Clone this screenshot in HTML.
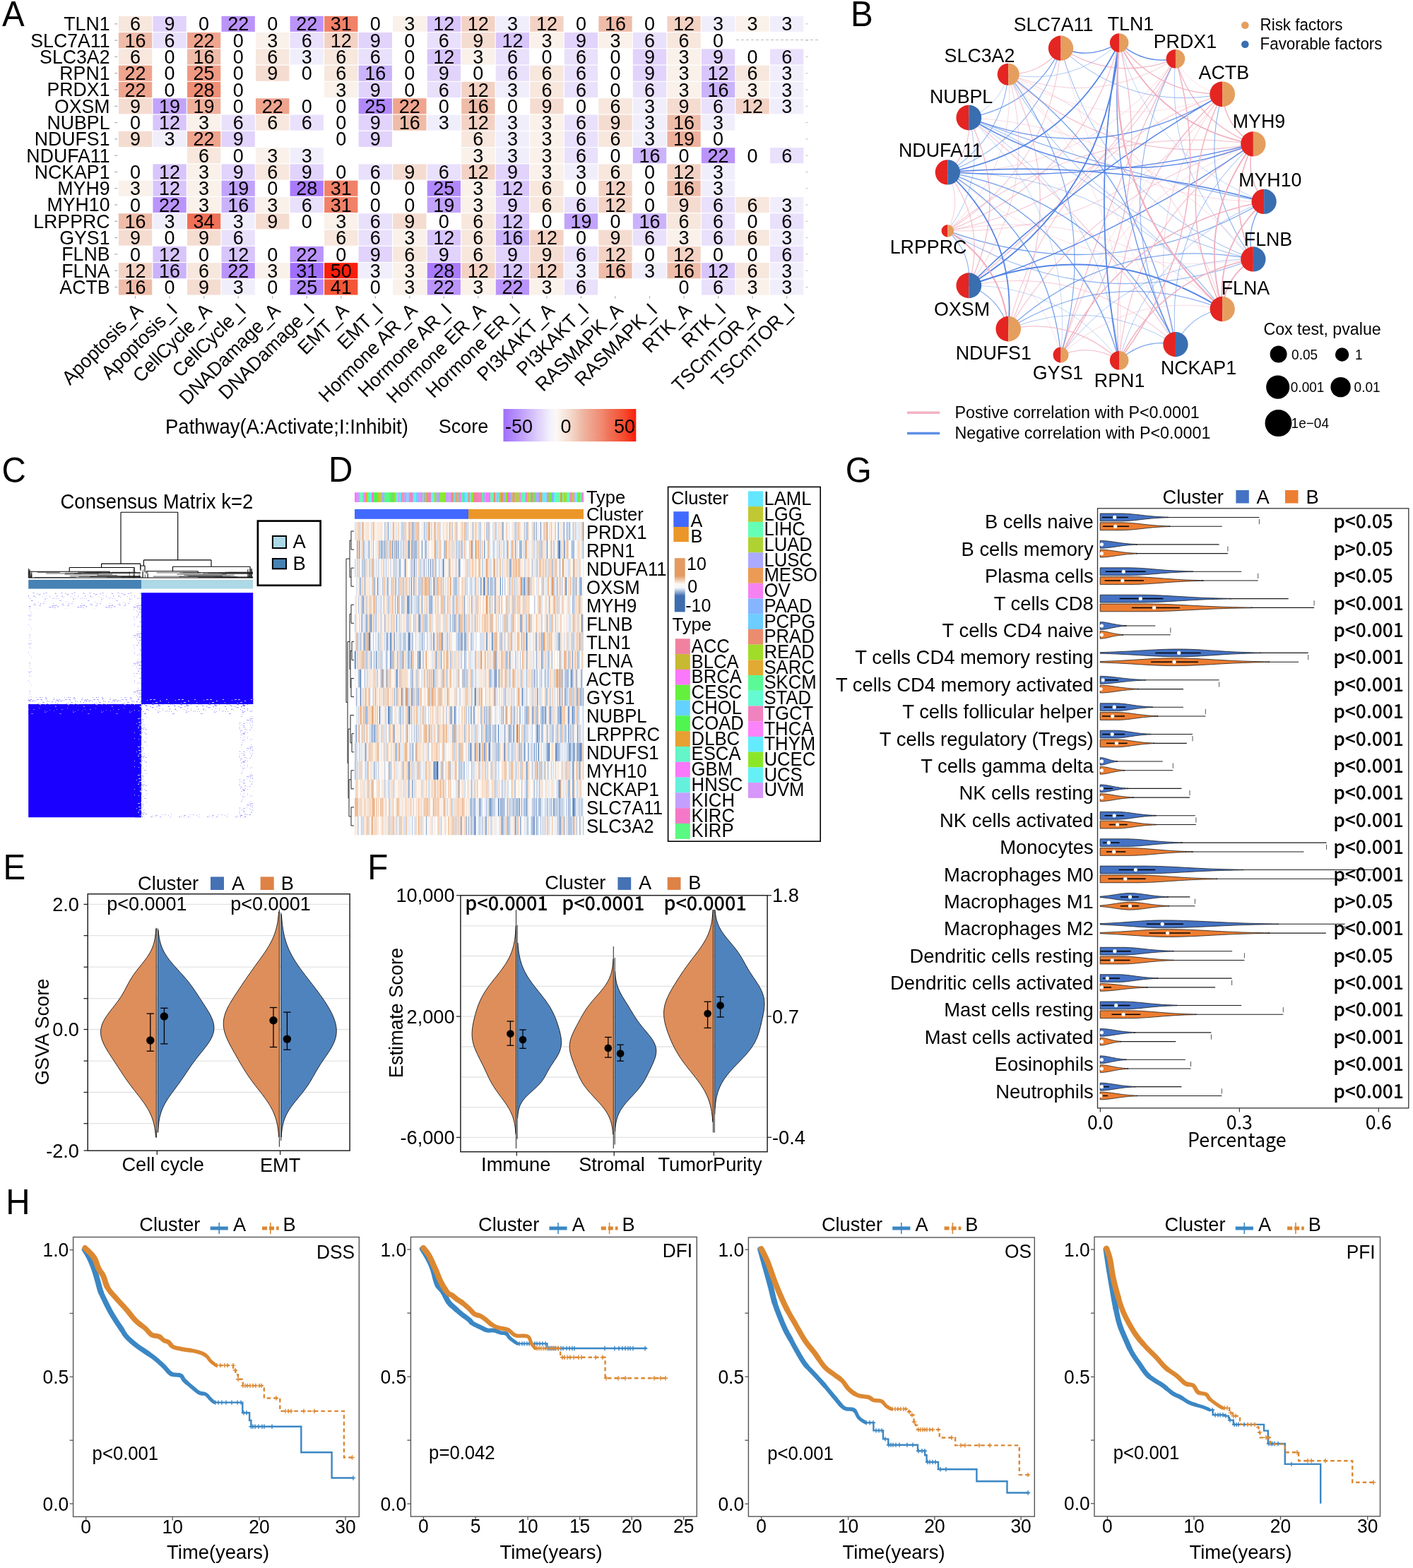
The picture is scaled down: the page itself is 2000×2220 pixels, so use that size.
<!DOCTYPE html>
<html><head><meta charset="utf-8"><title>Figure</title>
<style>
html,body{margin:0;padding:0;background:#fff;}
svg{display:block;}

text{font-family:"Liberation Sans", Arial, sans-serif;fill:#000;}
</style></head><body>
<svg xmlns="http://www.w3.org/2000/svg" width="2000" height="2220" viewBox="0 0 2000 2220">
<rect x="0" y="0" width="2000" height="2220" fill="#fff"/>
<text transform="translate(2.9,37.1) scale(1,1.04)" style='font-size:47.5px'>A</text>
<rect x="167.9" y="22.8" width="47.33" height="22.09" fill="#f7e7dd"/>
<rect x="216.43" y="22.8" width="47.33" height="22.09" fill="#e1d3fb"/>
<rect x="313.49" y="22.8" width="47.33" height="22.09" fill="#ba94fb"/>
<rect x="410.55" y="22.8" width="47.33" height="22.09" fill="#ba94fb"/>
<rect x="459.08" y="22.8" width="47.33" height="22.09" fill="#f18168"/>
<rect x="556.14" y="22.8" width="47.33" height="22.09" fill="#f9f1ea"/>
<rect x="604.67" y="22.8" width="47.33" height="22.09" fill="#d8c5fb"/>
<rect x="653.2" y="22.8" width="47.33" height="22.09" fill="#f3d2c4"/>
<rect x="701.73" y="22.8" width="47.33" height="22.09" fill="#f1eefc"/>
<rect x="750.26" y="22.8" width="47.33" height="22.09" fill="#f3d2c4"/>
<rect x="847.32" y="22.8" width="47.33" height="22.09" fill="#eebca8"/>
<rect x="944.38" y="22.8" width="47.33" height="22.09" fill="#f3d2c4"/>
<rect x="992.91" y="22.8" width="47.33" height="22.09" fill="#f1eefc"/>
<rect x="1041.44" y="22.8" width="47.33" height="22.09" fill="#f9f1ea"/>
<rect x="1089.97" y="22.8" width="47.33" height="22.09" fill="#f1eefc"/>
<rect x="167.9" y="46.09" width="47.33" height="22.09" fill="#eebca8"/>
<rect x="216.43" y="46.09" width="47.33" height="22.09" fill="#e9e0fc"/>
<rect x="264.96" y="46.09" width="47.33" height="22.09" fill="#efa48e"/>
<rect x="362.02" y="46.09" width="47.33" height="22.09" fill="#f9f1ea"/>
<rect x="410.55" y="46.09" width="47.33" height="22.09" fill="#e9e0fc"/>
<rect x="459.08" y="46.09" width="47.33" height="22.09" fill="#f3d2c4"/>
<rect x="507.61" y="46.09" width="47.33" height="22.09" fill="#e1d3fb"/>
<rect x="604.67" y="46.09" width="47.33" height="22.09" fill="#e9e0fc"/>
<rect x="653.2" y="46.09" width="47.33" height="22.09" fill="#f5dcd1"/>
<rect x="701.73" y="46.09" width="47.33" height="22.09" fill="#d8c5fb"/>
<rect x="750.26" y="46.09" width="47.33" height="22.09" fill="#f9f1ea"/>
<rect x="798.79" y="46.09" width="47.33" height="22.09" fill="#e1d3fb"/>
<rect x="847.32" y="46.09" width="47.33" height="22.09" fill="#f9f1ea"/>
<rect x="895.85" y="46.09" width="47.33" height="22.09" fill="#e9e0fc"/>
<rect x="944.38" y="46.09" width="47.33" height="22.09" fill="#f7e7dd"/>
<rect x="167.9" y="69.38" width="47.33" height="22.09" fill="#f7e7dd"/>
<rect x="264.96" y="69.38" width="47.33" height="22.09" fill="#eebca8"/>
<rect x="362.02" y="69.38" width="47.33" height="22.09" fill="#f7e7dd"/>
<rect x="410.55" y="69.38" width="47.33" height="22.09" fill="#f1eefc"/>
<rect x="459.08" y="69.38" width="47.33" height="22.09" fill="#f7e7dd"/>
<rect x="507.61" y="69.38" width="47.33" height="22.09" fill="#e9e0fc"/>
<rect x="604.67" y="69.38" width="47.33" height="22.09" fill="#d8c5fb"/>
<rect x="653.2" y="69.38" width="47.33" height="22.09" fill="#f9f1ea"/>
<rect x="701.73" y="69.38" width="47.33" height="22.09" fill="#e9e0fc"/>
<rect x="798.79" y="69.38" width="47.33" height="22.09" fill="#e9e0fc"/>
<rect x="895.85" y="69.38" width="47.33" height="22.09" fill="#e1d3fb"/>
<rect x="944.38" y="69.38" width="47.33" height="22.09" fill="#f9f1ea"/>
<rect x="992.91" y="69.38" width="47.33" height="22.09" fill="#e1d3fb"/>
<rect x="1089.97" y="69.38" width="47.33" height="22.09" fill="#e9e0fc"/>
<rect x="167.9" y="92.67" width="47.33" height="22.09" fill="#efa48e"/>
<rect x="264.96" y="92.67" width="47.33" height="22.09" fill="#f09982"/>
<rect x="362.02" y="92.67" width="47.33" height="22.09" fill="#f5dcd1"/>
<rect x="459.08" y="92.67" width="47.33" height="22.09" fill="#f7e7dd"/>
<rect x="507.61" y="92.67" width="47.33" height="22.09" fill="#cab3fb"/>
<rect x="604.67" y="92.67" width="47.33" height="22.09" fill="#e1d3fb"/>
<rect x="701.73" y="92.67" width="47.33" height="22.09" fill="#e9e0fc"/>
<rect x="750.26" y="92.67" width="47.33" height="22.09" fill="#f7e7dd"/>
<rect x="798.79" y="92.67" width="47.33" height="22.09" fill="#e9e0fc"/>
<rect x="895.85" y="92.67" width="47.33" height="22.09" fill="#e1d3fb"/>
<rect x="944.38" y="92.67" width="47.33" height="22.09" fill="#f9f1ea"/>
<rect x="992.91" y="92.67" width="47.33" height="22.09" fill="#d8c5fb"/>
<rect x="1041.44" y="92.67" width="47.33" height="22.09" fill="#f7e7dd"/>
<rect x="1089.97" y="92.67" width="47.33" height="22.09" fill="#f1eefc"/>
<rect x="167.9" y="115.96" width="47.33" height="22.09" fill="#efa48e"/>
<rect x="264.96" y="115.96" width="47.33" height="22.09" fill="#f08d75"/>
<rect x="459.08" y="115.96" width="47.33" height="22.09" fill="#f9f1ea"/>
<rect x="507.61" y="115.96" width="47.33" height="22.09" fill="#e1d3fb"/>
<rect x="604.67" y="115.96" width="47.33" height="22.09" fill="#e9e0fc"/>
<rect x="653.2" y="115.96" width="47.33" height="22.09" fill="#f3d2c4"/>
<rect x="701.73" y="115.96" width="47.33" height="22.09" fill="#f1eefc"/>
<rect x="750.26" y="115.96" width="47.33" height="22.09" fill="#f7e7dd"/>
<rect x="798.79" y="115.96" width="47.33" height="22.09" fill="#e9e0fc"/>
<rect x="895.85" y="115.96" width="47.33" height="22.09" fill="#e9e0fc"/>
<rect x="944.38" y="115.96" width="47.33" height="22.09" fill="#f9f1ea"/>
<rect x="992.91" y="115.96" width="47.33" height="22.09" fill="#cab3fb"/>
<rect x="1041.44" y="115.96" width="47.33" height="22.09" fill="#f9f1ea"/>
<rect x="1089.97" y="115.96" width="47.33" height="22.09" fill="#f1eefc"/>
<rect x="167.9" y="139.25" width="47.33" height="22.09" fill="#f5dcd1"/>
<rect x="216.43" y="139.25" width="47.33" height="22.09" fill="#c2a3fb"/>
<rect x="264.96" y="139.25" width="47.33" height="22.09" fill="#efb09b"/>
<rect x="362.02" y="139.25" width="47.33" height="22.09" fill="#efa48e"/>
<rect x="507.61" y="139.25" width="47.33" height="22.09" fill="#b188fb"/>
<rect x="556.14" y="139.25" width="47.33" height="22.09" fill="#efa48e"/>
<rect x="653.2" y="139.25" width="47.33" height="22.09" fill="#eebca8"/>
<rect x="750.26" y="139.25" width="47.33" height="22.09" fill="#f5dcd1"/>
<rect x="847.32" y="139.25" width="47.33" height="22.09" fill="#f7e7dd"/>
<rect x="895.85" y="139.25" width="47.33" height="22.09" fill="#f1eefc"/>
<rect x="944.38" y="139.25" width="47.33" height="22.09" fill="#f5dcd1"/>
<rect x="992.91" y="139.25" width="47.33" height="22.09" fill="#e9e0fc"/>
<rect x="1041.44" y="139.25" width="47.33" height="22.09" fill="#f3d2c4"/>
<rect x="1089.97" y="139.25" width="47.33" height="22.09" fill="#f1eefc"/>
<rect x="216.43" y="162.54" width="47.33" height="22.09" fill="#d8c5fb"/>
<rect x="264.96" y="162.54" width="47.33" height="22.09" fill="#f9f1ea"/>
<rect x="313.49" y="162.54" width="47.33" height="22.09" fill="#e9e0fc"/>
<rect x="362.02" y="162.54" width="47.33" height="22.09" fill="#f7e7dd"/>
<rect x="410.55" y="162.54" width="47.33" height="22.09" fill="#e9e0fc"/>
<rect x="507.61" y="162.54" width="47.33" height="22.09" fill="#e1d3fb"/>
<rect x="556.14" y="162.54" width="47.33" height="22.09" fill="#eebca8"/>
<rect x="604.67" y="162.54" width="47.33" height="22.09" fill="#f1eefc"/>
<rect x="653.2" y="162.54" width="47.33" height="22.09" fill="#f3d2c4"/>
<rect x="701.73" y="162.54" width="47.33" height="22.09" fill="#f1eefc"/>
<rect x="750.26" y="162.54" width="47.33" height="22.09" fill="#f9f1ea"/>
<rect x="798.79" y="162.54" width="47.33" height="22.09" fill="#e9e0fc"/>
<rect x="847.32" y="162.54" width="47.33" height="22.09" fill="#f5dcd1"/>
<rect x="895.85" y="162.54" width="47.33" height="22.09" fill="#f1eefc"/>
<rect x="944.38" y="162.54" width="47.33" height="22.09" fill="#eebca8"/>
<rect x="992.91" y="162.54" width="47.33" height="22.09" fill="#f1eefc"/>
<rect x="167.9" y="185.83" width="47.33" height="22.09" fill="#f5dcd1"/>
<rect x="216.43" y="185.83" width="47.33" height="22.09" fill="#f1eefc"/>
<rect x="264.96" y="185.83" width="47.33" height="22.09" fill="#efa48e"/>
<rect x="313.49" y="185.83" width="47.33" height="22.09" fill="#e1d3fb"/>
<rect x="507.61" y="185.83" width="47.33" height="22.09" fill="#e1d3fb"/>
<rect x="653.2" y="185.83" width="47.33" height="22.09" fill="#f7e7dd"/>
<rect x="701.73" y="185.83" width="47.33" height="22.09" fill="#f1eefc"/>
<rect x="750.26" y="185.83" width="47.33" height="22.09" fill="#f9f1ea"/>
<rect x="798.79" y="185.83" width="47.33" height="22.09" fill="#e9e0fc"/>
<rect x="847.32" y="185.83" width="47.33" height="22.09" fill="#f7e7dd"/>
<rect x="895.85" y="185.83" width="47.33" height="22.09" fill="#f1eefc"/>
<rect x="944.38" y="185.83" width="47.33" height="22.09" fill="#efb09b"/>
<rect x="264.96" y="209.12" width="47.33" height="22.09" fill="#f7e7dd"/>
<rect x="362.02" y="209.12" width="47.33" height="22.09" fill="#f9f1ea"/>
<rect x="410.55" y="209.12" width="47.33" height="22.09" fill="#f1eefc"/>
<rect x="653.2" y="209.12" width="47.33" height="22.09" fill="#f9f1ea"/>
<rect x="701.73" y="209.12" width="47.33" height="22.09" fill="#f1eefc"/>
<rect x="750.26" y="209.12" width="47.33" height="22.09" fill="#f9f1ea"/>
<rect x="798.79" y="209.12" width="47.33" height="22.09" fill="#e9e0fc"/>
<rect x="895.85" y="209.12" width="47.33" height="22.09" fill="#cab3fb"/>
<rect x="992.91" y="209.12" width="47.33" height="22.09" fill="#ba94fb"/>
<rect x="1089.97" y="209.12" width="47.33" height="22.09" fill="#e9e0fc"/>
<rect x="216.43" y="232.41" width="47.33" height="22.09" fill="#d8c5fb"/>
<rect x="264.96" y="232.41" width="47.33" height="22.09" fill="#f9f1ea"/>
<rect x="313.49" y="232.41" width="47.33" height="22.09" fill="#e1d3fb"/>
<rect x="362.02" y="232.41" width="47.33" height="22.09" fill="#f7e7dd"/>
<rect x="410.55" y="232.41" width="47.33" height="22.09" fill="#e1d3fb"/>
<rect x="507.61" y="232.41" width="47.33" height="22.09" fill="#e9e0fc"/>
<rect x="556.14" y="232.41" width="47.33" height="22.09" fill="#f5dcd1"/>
<rect x="604.67" y="232.41" width="47.33" height="22.09" fill="#e9e0fc"/>
<rect x="653.2" y="232.41" width="47.33" height="22.09" fill="#f3d2c4"/>
<rect x="701.73" y="232.41" width="47.33" height="22.09" fill="#e1d3fb"/>
<rect x="750.26" y="232.41" width="47.33" height="22.09" fill="#f9f1ea"/>
<rect x="798.79" y="232.41" width="47.33" height="22.09" fill="#f1eefc"/>
<rect x="847.32" y="232.41" width="47.33" height="22.09" fill="#f7e7dd"/>
<rect x="944.38" y="232.41" width="47.33" height="22.09" fill="#f3d2c4"/>
<rect x="992.91" y="232.41" width="47.33" height="22.09" fill="#f1eefc"/>
<rect x="167.9" y="255.7" width="47.33" height="22.09" fill="#f9f1ea"/>
<rect x="216.43" y="255.7" width="47.33" height="22.09" fill="#d8c5fb"/>
<rect x="264.96" y="255.7" width="47.33" height="22.09" fill="#f9f1ea"/>
<rect x="313.49" y="255.7" width="47.33" height="22.09" fill="#c2a3fb"/>
<rect x="410.55" y="255.7" width="47.33" height="22.09" fill="#a97bfc"/>
<rect x="459.08" y="255.7" width="47.33" height="22.09" fill="#f18168"/>
<rect x="604.67" y="255.7" width="47.33" height="22.09" fill="#b188fb"/>
<rect x="653.2" y="255.7" width="47.33" height="22.09" fill="#f9f1ea"/>
<rect x="701.73" y="255.7" width="47.33" height="22.09" fill="#d8c5fb"/>
<rect x="750.26" y="255.7" width="47.33" height="22.09" fill="#f7e7dd"/>
<rect x="847.32" y="255.7" width="47.33" height="22.09" fill="#f3d2c4"/>
<rect x="944.38" y="255.7" width="47.33" height="22.09" fill="#eebca8"/>
<rect x="992.91" y="255.7" width="47.33" height="22.09" fill="#f1eefc"/>
<rect x="216.43" y="278.99" width="47.33" height="22.09" fill="#ba94fb"/>
<rect x="264.96" y="278.99" width="47.33" height="22.09" fill="#f9f1ea"/>
<rect x="313.49" y="278.99" width="47.33" height="22.09" fill="#cab3fb"/>
<rect x="362.02" y="278.99" width="47.33" height="22.09" fill="#f9f1ea"/>
<rect x="410.55" y="278.99" width="47.33" height="22.09" fill="#e9e0fc"/>
<rect x="459.08" y="278.99" width="47.33" height="22.09" fill="#f18168"/>
<rect x="604.67" y="278.99" width="47.33" height="22.09" fill="#c2a3fb"/>
<rect x="653.2" y="278.99" width="47.33" height="22.09" fill="#f9f1ea"/>
<rect x="701.73" y="278.99" width="47.33" height="22.09" fill="#e1d3fb"/>
<rect x="750.26" y="278.99" width="47.33" height="22.09" fill="#f7e7dd"/>
<rect x="798.79" y="278.99" width="47.33" height="22.09" fill="#e9e0fc"/>
<rect x="847.32" y="278.99" width="47.33" height="22.09" fill="#f3d2c4"/>
<rect x="944.38" y="278.99" width="47.33" height="22.09" fill="#f5dcd1"/>
<rect x="992.91" y="278.99" width="47.33" height="22.09" fill="#e9e0fc"/>
<rect x="1041.44" y="278.99" width="47.33" height="22.09" fill="#f7e7dd"/>
<rect x="1089.97" y="278.99" width="47.33" height="22.09" fill="#f1eefc"/>
<rect x="167.9" y="302.28" width="47.33" height="22.09" fill="#eebca8"/>
<rect x="216.43" y="302.28" width="47.33" height="22.09" fill="#f1eefc"/>
<rect x="264.96" y="302.28" width="47.33" height="22.09" fill="#ef7056"/>
<rect x="313.49" y="302.28" width="47.33" height="22.09" fill="#f1eefc"/>
<rect x="362.02" y="302.28" width="47.33" height="22.09" fill="#f5dcd1"/>
<rect x="459.08" y="302.28" width="47.33" height="22.09" fill="#f9f1ea"/>
<rect x="507.61" y="302.28" width="47.33" height="22.09" fill="#e9e0fc"/>
<rect x="556.14" y="302.28" width="47.33" height="22.09" fill="#f5dcd1"/>
<rect x="653.2" y="302.28" width="47.33" height="22.09" fill="#f7e7dd"/>
<rect x="701.73" y="302.28" width="47.33" height="22.09" fill="#d8c5fb"/>
<rect x="798.79" y="302.28" width="47.33" height="22.09" fill="#c2a3fb"/>
<rect x="895.85" y="302.28" width="47.33" height="22.09" fill="#cab3fb"/>
<rect x="944.38" y="302.28" width="47.33" height="22.09" fill="#f7e7dd"/>
<rect x="992.91" y="302.28" width="47.33" height="22.09" fill="#e9e0fc"/>
<rect x="1089.97" y="302.28" width="47.33" height="22.09" fill="#e9e0fc"/>
<rect x="167.9" y="325.57" width="47.33" height="22.09" fill="#f5dcd1"/>
<rect x="264.96" y="325.57" width="47.33" height="22.09" fill="#f5dcd1"/>
<rect x="313.49" y="325.57" width="47.33" height="22.09" fill="#e9e0fc"/>
<rect x="459.08" y="325.57" width="47.33" height="22.09" fill="#f7e7dd"/>
<rect x="507.61" y="325.57" width="47.33" height="22.09" fill="#e9e0fc"/>
<rect x="556.14" y="325.57" width="47.33" height="22.09" fill="#f9f1ea"/>
<rect x="604.67" y="325.57" width="47.33" height="22.09" fill="#d8c5fb"/>
<rect x="653.2" y="325.57" width="47.33" height="22.09" fill="#f7e7dd"/>
<rect x="701.73" y="325.57" width="47.33" height="22.09" fill="#cab3fb"/>
<rect x="750.26" y="325.57" width="47.33" height="22.09" fill="#f3d2c4"/>
<rect x="847.32" y="325.57" width="47.33" height="22.09" fill="#f5dcd1"/>
<rect x="895.85" y="325.57" width="47.33" height="22.09" fill="#e9e0fc"/>
<rect x="944.38" y="325.57" width="47.33" height="22.09" fill="#f9f1ea"/>
<rect x="992.91" y="325.57" width="47.33" height="22.09" fill="#e9e0fc"/>
<rect x="1041.44" y="325.57" width="47.33" height="22.09" fill="#f7e7dd"/>
<rect x="1089.97" y="325.57" width="47.33" height="22.09" fill="#f1eefc"/>
<rect x="216.43" y="348.86" width="47.33" height="22.09" fill="#d8c5fb"/>
<rect x="313.49" y="348.86" width="47.33" height="22.09" fill="#d8c5fb"/>
<rect x="410.55" y="348.86" width="47.33" height="22.09" fill="#ba94fb"/>
<rect x="507.61" y="348.86" width="47.33" height="22.09" fill="#e1d3fb"/>
<rect x="556.14" y="348.86" width="47.33" height="22.09" fill="#f7e7dd"/>
<rect x="604.67" y="348.86" width="47.33" height="22.09" fill="#e1d3fb"/>
<rect x="653.2" y="348.86" width="47.33" height="22.09" fill="#f7e7dd"/>
<rect x="701.73" y="348.86" width="47.33" height="22.09" fill="#e1d3fb"/>
<rect x="750.26" y="348.86" width="47.33" height="22.09" fill="#f5dcd1"/>
<rect x="798.79" y="348.86" width="47.33" height="22.09" fill="#e9e0fc"/>
<rect x="847.32" y="348.86" width="47.33" height="22.09" fill="#f3d2c4"/>
<rect x="944.38" y="348.86" width="47.33" height="22.09" fill="#f3d2c4"/>
<rect x="1089.97" y="348.86" width="47.33" height="22.09" fill="#e9e0fc"/>
<rect x="167.9" y="372.15" width="47.33" height="22.09" fill="#f3d2c4"/>
<rect x="216.43" y="372.15" width="47.33" height="22.09" fill="#cab3fb"/>
<rect x="264.96" y="372.15" width="47.33" height="22.09" fill="#f7e7dd"/>
<rect x="313.49" y="372.15" width="47.33" height="22.09" fill="#ba94fb"/>
<rect x="362.02" y="372.15" width="47.33" height="22.09" fill="#f9f1ea"/>
<rect x="410.55" y="372.15" width="47.33" height="22.09" fill="#a06efd"/>
<rect x="459.08" y="372.15" width="47.33" height="22.09" fill="#fa1e0c"/>
<rect x="507.61" y="372.15" width="47.33" height="22.09" fill="#f1eefc"/>
<rect x="556.14" y="372.15" width="47.33" height="22.09" fill="#f9f1ea"/>
<rect x="604.67" y="372.15" width="47.33" height="22.09" fill="#a97bfc"/>
<rect x="653.2" y="372.15" width="47.33" height="22.09" fill="#f3d2c4"/>
<rect x="701.73" y="372.15" width="47.33" height="22.09" fill="#d8c5fb"/>
<rect x="750.26" y="372.15" width="47.33" height="22.09" fill="#f3d2c4"/>
<rect x="798.79" y="372.15" width="47.33" height="22.09" fill="#f1eefc"/>
<rect x="847.32" y="372.15" width="47.33" height="22.09" fill="#eebca8"/>
<rect x="895.85" y="372.15" width="47.33" height="22.09" fill="#f1eefc"/>
<rect x="944.38" y="372.15" width="47.33" height="22.09" fill="#eebca8"/>
<rect x="992.91" y="372.15" width="47.33" height="22.09" fill="#d8c5fb"/>
<rect x="1041.44" y="372.15" width="47.33" height="22.09" fill="#f7e7dd"/>
<rect x="1089.97" y="372.15" width="47.33" height="22.09" fill="#f1eefc"/>
<rect x="167.9" y="395.44" width="47.33" height="22.09" fill="#eebca8"/>
<rect x="264.96" y="395.44" width="47.33" height="22.09" fill="#f5dcd1"/>
<rect x="313.49" y="395.44" width="47.33" height="22.09" fill="#f1eefc"/>
<rect x="410.55" y="395.44" width="47.33" height="22.09" fill="#b188fb"/>
<rect x="459.08" y="395.44" width="47.33" height="22.09" fill="#f55537"/>
<rect x="556.14" y="395.44" width="47.33" height="22.09" fill="#f9f1ea"/>
<rect x="604.67" y="395.44" width="47.33" height="22.09" fill="#ba94fb"/>
<rect x="653.2" y="395.44" width="47.33" height="22.09" fill="#f9f1ea"/>
<rect x="701.73" y="395.44" width="47.33" height="22.09" fill="#ba94fb"/>
<rect x="750.26" y="395.44" width="47.33" height="22.09" fill="#f9f1ea"/>
<rect x="798.79" y="395.44" width="47.33" height="22.09" fill="#e9e0fc"/>
<rect x="992.91" y="395.44" width="47.33" height="22.09" fill="#e9e0fc"/>
<rect x="1041.44" y="395.44" width="47.33" height="22.09" fill="#f9f1ea"/>
<rect x="1089.97" y="395.44" width="47.33" height="22.09" fill="#f1eefc"/>
<text transform="translate(191.56,43.45) scale(1,1.04)" style='font-size:27px' text-anchor="middle">6</text>
<text transform="translate(240.1,43.45) scale(1,1.04)" style='font-size:27px' text-anchor="middle">9</text>
<text transform="translate(288.62,43.45) scale(1,1.04)" style='font-size:27px' text-anchor="middle">0</text>
<text transform="translate(337.15,43.45) scale(1,1.04)" style='font-size:27px' text-anchor="middle">22</text>
<text transform="translate(385.69,43.45) scale(1,1.04)" style='font-size:27px' text-anchor="middle">0</text>
<text transform="translate(434.22,43.45) scale(1,1.04)" style='font-size:27px' text-anchor="middle">22</text>
<text transform="translate(482.75,43.45) scale(1,1.04)" style='font-size:27px' text-anchor="middle">31</text>
<text transform="translate(531.28,43.45) scale(1,1.04)" style='font-size:27px' text-anchor="middle">0</text>
<text transform="translate(579.8,43.45) scale(1,1.04)" style='font-size:27px' text-anchor="middle">3</text>
<text transform="translate(628.33,43.45) scale(1,1.04)" style='font-size:27px' text-anchor="middle">12</text>
<text transform="translate(676.87,43.45) scale(1,1.04)" style='font-size:27px' text-anchor="middle">12</text>
<text transform="translate(725.4,43.45) scale(1,1.04)" style='font-size:27px' text-anchor="middle">3</text>
<text transform="translate(773.93,43.45) scale(1,1.04)" style='font-size:27px' text-anchor="middle">12</text>
<text transform="translate(822.46,43.45) scale(1,1.04)" style='font-size:27px' text-anchor="middle">0</text>
<text transform="translate(870.99,43.45) scale(1,1.04)" style='font-size:27px' text-anchor="middle">16</text>
<text transform="translate(919.51,43.45) scale(1,1.04)" style='font-size:27px' text-anchor="middle">0</text>
<text transform="translate(968.04,43.45) scale(1,1.04)" style='font-size:27px' text-anchor="middle">12</text>
<text transform="translate(1016.57,43.45) scale(1,1.04)" style='font-size:27px' text-anchor="middle">3</text>
<text transform="translate(1065.11,43.45) scale(1,1.04)" style='font-size:27px' text-anchor="middle">3</text>
<text transform="translate(1113.64,43.45) scale(1,1.04)" style='font-size:27px' text-anchor="middle">3</text>
<text transform="translate(191.56,66.73) scale(1,1.04)" style='font-size:27px' text-anchor="middle">16</text>
<text transform="translate(240.1,66.73) scale(1,1.04)" style='font-size:27px' text-anchor="middle">6</text>
<text transform="translate(288.62,66.73) scale(1,1.04)" style='font-size:27px' text-anchor="middle">22</text>
<text transform="translate(337.15,66.73) scale(1,1.04)" style='font-size:27px' text-anchor="middle">0</text>
<text transform="translate(385.69,66.73) scale(1,1.04)" style='font-size:27px' text-anchor="middle">3</text>
<text transform="translate(434.22,66.73) scale(1,1.04)" style='font-size:27px' text-anchor="middle">6</text>
<text transform="translate(482.75,66.73) scale(1,1.04)" style='font-size:27px' text-anchor="middle">12</text>
<text transform="translate(531.28,66.73) scale(1,1.04)" style='font-size:27px' text-anchor="middle">9</text>
<text transform="translate(579.8,66.73) scale(1,1.04)" style='font-size:27px' text-anchor="middle">0</text>
<text transform="translate(628.33,66.73) scale(1,1.04)" style='font-size:27px' text-anchor="middle">6</text>
<text transform="translate(676.87,66.73) scale(1,1.04)" style='font-size:27px' text-anchor="middle">9</text>
<text transform="translate(725.4,66.73) scale(1,1.04)" style='font-size:27px' text-anchor="middle">12</text>
<text transform="translate(773.93,66.73) scale(1,1.04)" style='font-size:27px' text-anchor="middle">3</text>
<text transform="translate(822.46,66.73) scale(1,1.04)" style='font-size:27px' text-anchor="middle">9</text>
<text transform="translate(870.99,66.73) scale(1,1.04)" style='font-size:27px' text-anchor="middle">3</text>
<text transform="translate(919.51,66.73) scale(1,1.04)" style='font-size:27px' text-anchor="middle">6</text>
<text transform="translate(968.04,66.73) scale(1,1.04)" style='font-size:27px' text-anchor="middle">6</text>
<text transform="translate(1016.57,66.73) scale(1,1.04)" style='font-size:27px' text-anchor="middle">0</text>
<text transform="translate(191.56,90.02) scale(1,1.04)" style='font-size:27px' text-anchor="middle">6</text>
<text transform="translate(240.1,90.02) scale(1,1.04)" style='font-size:27px' text-anchor="middle">0</text>
<text transform="translate(288.62,90.02) scale(1,1.04)" style='font-size:27px' text-anchor="middle">16</text>
<text transform="translate(337.15,90.02) scale(1,1.04)" style='font-size:27px' text-anchor="middle">0</text>
<text transform="translate(385.69,90.02) scale(1,1.04)" style='font-size:27px' text-anchor="middle">6</text>
<text transform="translate(434.22,90.02) scale(1,1.04)" style='font-size:27px' text-anchor="middle">3</text>
<text transform="translate(482.75,90.02) scale(1,1.04)" style='font-size:27px' text-anchor="middle">6</text>
<text transform="translate(531.28,90.02) scale(1,1.04)" style='font-size:27px' text-anchor="middle">6</text>
<text transform="translate(579.8,90.02) scale(1,1.04)" style='font-size:27px' text-anchor="middle">0</text>
<text transform="translate(628.33,90.02) scale(1,1.04)" style='font-size:27px' text-anchor="middle">12</text>
<text transform="translate(676.87,90.02) scale(1,1.04)" style='font-size:27px' text-anchor="middle">3</text>
<text transform="translate(725.4,90.02) scale(1,1.04)" style='font-size:27px' text-anchor="middle">6</text>
<text transform="translate(773.93,90.02) scale(1,1.04)" style='font-size:27px' text-anchor="middle">0</text>
<text transform="translate(822.46,90.02) scale(1,1.04)" style='font-size:27px' text-anchor="middle">6</text>
<text transform="translate(870.99,90.02) scale(1,1.04)" style='font-size:27px' text-anchor="middle">0</text>
<text transform="translate(919.51,90.02) scale(1,1.04)" style='font-size:27px' text-anchor="middle">9</text>
<text transform="translate(968.04,90.02) scale(1,1.04)" style='font-size:27px' text-anchor="middle">3</text>
<text transform="translate(1016.57,90.02) scale(1,1.04)" style='font-size:27px' text-anchor="middle">9</text>
<text transform="translate(1065.11,90.02) scale(1,1.04)" style='font-size:27px' text-anchor="middle">0</text>
<text transform="translate(1113.64,90.02) scale(1,1.04)" style='font-size:27px' text-anchor="middle">6</text>
<text transform="translate(191.56,113.31) scale(1,1.04)" style='font-size:27px' text-anchor="middle">22</text>
<text transform="translate(240.1,113.31) scale(1,1.04)" style='font-size:27px' text-anchor="middle">0</text>
<text transform="translate(288.62,113.31) scale(1,1.04)" style='font-size:27px' text-anchor="middle">25</text>
<text transform="translate(337.15,113.31) scale(1,1.04)" style='font-size:27px' text-anchor="middle">0</text>
<text transform="translate(385.69,113.31) scale(1,1.04)" style='font-size:27px' text-anchor="middle">9</text>
<text transform="translate(434.22,113.31) scale(1,1.04)" style='font-size:27px' text-anchor="middle">0</text>
<text transform="translate(482.75,113.31) scale(1,1.04)" style='font-size:27px' text-anchor="middle">6</text>
<text transform="translate(531.28,113.31) scale(1,1.04)" style='font-size:27px' text-anchor="middle">16</text>
<text transform="translate(579.8,113.31) scale(1,1.04)" style='font-size:27px' text-anchor="middle">0</text>
<text transform="translate(628.33,113.31) scale(1,1.04)" style='font-size:27px' text-anchor="middle">9</text>
<text transform="translate(676.87,113.31) scale(1,1.04)" style='font-size:27px' text-anchor="middle">0</text>
<text transform="translate(725.4,113.31) scale(1,1.04)" style='font-size:27px' text-anchor="middle">6</text>
<text transform="translate(773.93,113.31) scale(1,1.04)" style='font-size:27px' text-anchor="middle">6</text>
<text transform="translate(822.46,113.31) scale(1,1.04)" style='font-size:27px' text-anchor="middle">6</text>
<text transform="translate(870.99,113.31) scale(1,1.04)" style='font-size:27px' text-anchor="middle">0</text>
<text transform="translate(919.51,113.31) scale(1,1.04)" style='font-size:27px' text-anchor="middle">9</text>
<text transform="translate(968.04,113.31) scale(1,1.04)" style='font-size:27px' text-anchor="middle">3</text>
<text transform="translate(1016.57,113.31) scale(1,1.04)" style='font-size:27px' text-anchor="middle">12</text>
<text transform="translate(1065.11,113.31) scale(1,1.04)" style='font-size:27px' text-anchor="middle">6</text>
<text transform="translate(1113.64,113.31) scale(1,1.04)" style='font-size:27px' text-anchor="middle">3</text>
<text transform="translate(191.56,136.6) scale(1,1.04)" style='font-size:27px' text-anchor="middle">22</text>
<text transform="translate(240.1,136.6) scale(1,1.04)" style='font-size:27px' text-anchor="middle">0</text>
<text transform="translate(288.62,136.6) scale(1,1.04)" style='font-size:27px' text-anchor="middle">28</text>
<text transform="translate(337.15,136.6) scale(1,1.04)" style='font-size:27px' text-anchor="middle">0</text>
<text transform="translate(482.75,136.6) scale(1,1.04)" style='font-size:27px' text-anchor="middle">3</text>
<text transform="translate(531.28,136.6) scale(1,1.04)" style='font-size:27px' text-anchor="middle">9</text>
<text transform="translate(579.8,136.6) scale(1,1.04)" style='font-size:27px' text-anchor="middle">0</text>
<text transform="translate(628.33,136.6) scale(1,1.04)" style='font-size:27px' text-anchor="middle">6</text>
<text transform="translate(676.87,136.6) scale(1,1.04)" style='font-size:27px' text-anchor="middle">12</text>
<text transform="translate(725.4,136.6) scale(1,1.04)" style='font-size:27px' text-anchor="middle">3</text>
<text transform="translate(773.93,136.6) scale(1,1.04)" style='font-size:27px' text-anchor="middle">6</text>
<text transform="translate(822.46,136.6) scale(1,1.04)" style='font-size:27px' text-anchor="middle">6</text>
<text transform="translate(870.99,136.6) scale(1,1.04)" style='font-size:27px' text-anchor="middle">0</text>
<text transform="translate(919.51,136.6) scale(1,1.04)" style='font-size:27px' text-anchor="middle">6</text>
<text transform="translate(968.04,136.6) scale(1,1.04)" style='font-size:27px' text-anchor="middle">3</text>
<text transform="translate(1016.57,136.6) scale(1,1.04)" style='font-size:27px' text-anchor="middle">16</text>
<text transform="translate(1065.11,136.6) scale(1,1.04)" style='font-size:27px' text-anchor="middle">3</text>
<text transform="translate(1113.64,136.6) scale(1,1.04)" style='font-size:27px' text-anchor="middle">3</text>
<text transform="translate(191.56,159.89) scale(1,1.04)" style='font-size:27px' text-anchor="middle">9</text>
<text transform="translate(240.1,159.89) scale(1,1.04)" style='font-size:27px' text-anchor="middle">19</text>
<text transform="translate(288.62,159.89) scale(1,1.04)" style='font-size:27px' text-anchor="middle">19</text>
<text transform="translate(337.15,159.89) scale(1,1.04)" style='font-size:27px' text-anchor="middle">0</text>
<text transform="translate(385.69,159.89) scale(1,1.04)" style='font-size:27px' text-anchor="middle">22</text>
<text transform="translate(434.22,159.89) scale(1,1.04)" style='font-size:27px' text-anchor="middle">0</text>
<text transform="translate(482.75,159.89) scale(1,1.04)" style='font-size:27px' text-anchor="middle">0</text>
<text transform="translate(531.28,159.89) scale(1,1.04)" style='font-size:27px' text-anchor="middle">25</text>
<text transform="translate(579.8,159.89) scale(1,1.04)" style='font-size:27px' text-anchor="middle">22</text>
<text transform="translate(628.33,159.89) scale(1,1.04)" style='font-size:27px' text-anchor="middle">0</text>
<text transform="translate(676.87,159.89) scale(1,1.04)" style='font-size:27px' text-anchor="middle">16</text>
<text transform="translate(725.4,159.89) scale(1,1.04)" style='font-size:27px' text-anchor="middle">0</text>
<text transform="translate(773.93,159.89) scale(1,1.04)" style='font-size:27px' text-anchor="middle">9</text>
<text transform="translate(822.46,159.89) scale(1,1.04)" style='font-size:27px' text-anchor="middle">0</text>
<text transform="translate(870.99,159.89) scale(1,1.04)" style='font-size:27px' text-anchor="middle">6</text>
<text transform="translate(919.51,159.89) scale(1,1.04)" style='font-size:27px' text-anchor="middle">3</text>
<text transform="translate(968.04,159.89) scale(1,1.04)" style='font-size:27px' text-anchor="middle">9</text>
<text transform="translate(1016.57,159.89) scale(1,1.04)" style='font-size:27px' text-anchor="middle">6</text>
<text transform="translate(1065.11,159.89) scale(1,1.04)" style='font-size:27px' text-anchor="middle">12</text>
<text transform="translate(1113.64,159.89) scale(1,1.04)" style='font-size:27px' text-anchor="middle">3</text>
<text transform="translate(191.56,183.19) scale(1,1.04)" style='font-size:27px' text-anchor="middle">0</text>
<text transform="translate(240.1,183.19) scale(1,1.04)" style='font-size:27px' text-anchor="middle">12</text>
<text transform="translate(288.62,183.19) scale(1,1.04)" style='font-size:27px' text-anchor="middle">3</text>
<text transform="translate(337.15,183.19) scale(1,1.04)" style='font-size:27px' text-anchor="middle">6</text>
<text transform="translate(385.69,183.19) scale(1,1.04)" style='font-size:27px' text-anchor="middle">6</text>
<text transform="translate(434.22,183.19) scale(1,1.04)" style='font-size:27px' text-anchor="middle">6</text>
<text transform="translate(482.75,183.19) scale(1,1.04)" style='font-size:27px' text-anchor="middle">0</text>
<text transform="translate(531.28,183.19) scale(1,1.04)" style='font-size:27px' text-anchor="middle">9</text>
<text transform="translate(579.8,183.19) scale(1,1.04)" style='font-size:27px' text-anchor="middle">16</text>
<text transform="translate(628.33,183.19) scale(1,1.04)" style='font-size:27px' text-anchor="middle">3</text>
<text transform="translate(676.87,183.19) scale(1,1.04)" style='font-size:27px' text-anchor="middle">12</text>
<text transform="translate(725.4,183.19) scale(1,1.04)" style='font-size:27px' text-anchor="middle">3</text>
<text transform="translate(773.93,183.19) scale(1,1.04)" style='font-size:27px' text-anchor="middle">3</text>
<text transform="translate(822.46,183.19) scale(1,1.04)" style='font-size:27px' text-anchor="middle">6</text>
<text transform="translate(870.99,183.19) scale(1,1.04)" style='font-size:27px' text-anchor="middle">9</text>
<text transform="translate(919.51,183.19) scale(1,1.04)" style='font-size:27px' text-anchor="middle">3</text>
<text transform="translate(968.04,183.19) scale(1,1.04)" style='font-size:27px' text-anchor="middle">16</text>
<text transform="translate(1016.57,183.19) scale(1,1.04)" style='font-size:27px' text-anchor="middle">3</text>
<text transform="translate(191.56,206.47) scale(1,1.04)" style='font-size:27px' text-anchor="middle">9</text>
<text transform="translate(240.1,206.47) scale(1,1.04)" style='font-size:27px' text-anchor="middle">3</text>
<text transform="translate(288.62,206.47) scale(1,1.04)" style='font-size:27px' text-anchor="middle">22</text>
<text transform="translate(337.15,206.47) scale(1,1.04)" style='font-size:27px' text-anchor="middle">9</text>
<text transform="translate(482.75,206.47) scale(1,1.04)" style='font-size:27px' text-anchor="middle">0</text>
<text transform="translate(531.28,206.47) scale(1,1.04)" style='font-size:27px' text-anchor="middle">9</text>
<text transform="translate(676.87,206.47) scale(1,1.04)" style='font-size:27px' text-anchor="middle">6</text>
<text transform="translate(725.4,206.47) scale(1,1.04)" style='font-size:27px' text-anchor="middle">3</text>
<text transform="translate(773.93,206.47) scale(1,1.04)" style='font-size:27px' text-anchor="middle">3</text>
<text transform="translate(822.46,206.47) scale(1,1.04)" style='font-size:27px' text-anchor="middle">6</text>
<text transform="translate(870.99,206.47) scale(1,1.04)" style='font-size:27px' text-anchor="middle">6</text>
<text transform="translate(919.51,206.47) scale(1,1.04)" style='font-size:27px' text-anchor="middle">3</text>
<text transform="translate(968.04,206.47) scale(1,1.04)" style='font-size:27px' text-anchor="middle">19</text>
<text transform="translate(1016.57,206.47) scale(1,1.04)" style='font-size:27px' text-anchor="middle">0</text>
<text transform="translate(288.62,229.76) scale(1,1.04)" style='font-size:27px' text-anchor="middle">6</text>
<text transform="translate(337.15,229.76) scale(1,1.04)" style='font-size:27px' text-anchor="middle">0</text>
<text transform="translate(385.69,229.76) scale(1,1.04)" style='font-size:27px' text-anchor="middle">3</text>
<text transform="translate(434.22,229.76) scale(1,1.04)" style='font-size:27px' text-anchor="middle">3</text>
<text transform="translate(676.87,229.76) scale(1,1.04)" style='font-size:27px' text-anchor="middle">3</text>
<text transform="translate(725.4,229.76) scale(1,1.04)" style='font-size:27px' text-anchor="middle">3</text>
<text transform="translate(773.93,229.76) scale(1,1.04)" style='font-size:27px' text-anchor="middle">3</text>
<text transform="translate(822.46,229.76) scale(1,1.04)" style='font-size:27px' text-anchor="middle">6</text>
<text transform="translate(870.99,229.76) scale(1,1.04)" style='font-size:27px' text-anchor="middle">0</text>
<text transform="translate(919.51,229.76) scale(1,1.04)" style='font-size:27px' text-anchor="middle">16</text>
<text transform="translate(968.04,229.76) scale(1,1.04)" style='font-size:27px' text-anchor="middle">0</text>
<text transform="translate(1016.57,229.76) scale(1,1.04)" style='font-size:27px' text-anchor="middle">22</text>
<text transform="translate(1065.11,229.76) scale(1,1.04)" style='font-size:27px' text-anchor="middle">0</text>
<text transform="translate(1113.64,229.76) scale(1,1.04)" style='font-size:27px' text-anchor="middle">6</text>
<text transform="translate(191.56,253.05) scale(1,1.04)" style='font-size:27px' text-anchor="middle">0</text>
<text transform="translate(240.1,253.05) scale(1,1.04)" style='font-size:27px' text-anchor="middle">12</text>
<text transform="translate(288.62,253.05) scale(1,1.04)" style='font-size:27px' text-anchor="middle">3</text>
<text transform="translate(337.15,253.05) scale(1,1.04)" style='font-size:27px' text-anchor="middle">9</text>
<text transform="translate(385.69,253.05) scale(1,1.04)" style='font-size:27px' text-anchor="middle">6</text>
<text transform="translate(434.22,253.05) scale(1,1.04)" style='font-size:27px' text-anchor="middle">9</text>
<text transform="translate(482.75,253.05) scale(1,1.04)" style='font-size:27px' text-anchor="middle">0</text>
<text transform="translate(531.28,253.05) scale(1,1.04)" style='font-size:27px' text-anchor="middle">6</text>
<text transform="translate(579.8,253.05) scale(1,1.04)" style='font-size:27px' text-anchor="middle">9</text>
<text transform="translate(628.33,253.05) scale(1,1.04)" style='font-size:27px' text-anchor="middle">6</text>
<text transform="translate(676.87,253.05) scale(1,1.04)" style='font-size:27px' text-anchor="middle">12</text>
<text transform="translate(725.4,253.05) scale(1,1.04)" style='font-size:27px' text-anchor="middle">9</text>
<text transform="translate(773.93,253.05) scale(1,1.04)" style='font-size:27px' text-anchor="middle">3</text>
<text transform="translate(822.46,253.05) scale(1,1.04)" style='font-size:27px' text-anchor="middle">3</text>
<text transform="translate(870.99,253.05) scale(1,1.04)" style='font-size:27px' text-anchor="middle">6</text>
<text transform="translate(919.51,253.05) scale(1,1.04)" style='font-size:27px' text-anchor="middle">0</text>
<text transform="translate(968.04,253.05) scale(1,1.04)" style='font-size:27px' text-anchor="middle">12</text>
<text transform="translate(1016.57,253.05) scale(1,1.04)" style='font-size:27px' text-anchor="middle">3</text>
<text transform="translate(191.56,276.34) scale(1,1.04)" style='font-size:27px' text-anchor="middle">3</text>
<text transform="translate(240.1,276.34) scale(1,1.04)" style='font-size:27px' text-anchor="middle">12</text>
<text transform="translate(288.62,276.34) scale(1,1.04)" style='font-size:27px' text-anchor="middle">3</text>
<text transform="translate(337.15,276.34) scale(1,1.04)" style='font-size:27px' text-anchor="middle">19</text>
<text transform="translate(385.69,276.34) scale(1,1.04)" style='font-size:27px' text-anchor="middle">0</text>
<text transform="translate(434.22,276.34) scale(1,1.04)" style='font-size:27px' text-anchor="middle">28</text>
<text transform="translate(482.75,276.34) scale(1,1.04)" style='font-size:27px' text-anchor="middle">31</text>
<text transform="translate(531.28,276.34) scale(1,1.04)" style='font-size:27px' text-anchor="middle">0</text>
<text transform="translate(579.8,276.34) scale(1,1.04)" style='font-size:27px' text-anchor="middle">0</text>
<text transform="translate(628.33,276.34) scale(1,1.04)" style='font-size:27px' text-anchor="middle">25</text>
<text transform="translate(676.87,276.34) scale(1,1.04)" style='font-size:27px' text-anchor="middle">3</text>
<text transform="translate(725.4,276.34) scale(1,1.04)" style='font-size:27px' text-anchor="middle">12</text>
<text transform="translate(773.93,276.34) scale(1,1.04)" style='font-size:27px' text-anchor="middle">6</text>
<text transform="translate(822.46,276.34) scale(1,1.04)" style='font-size:27px' text-anchor="middle">0</text>
<text transform="translate(870.99,276.34) scale(1,1.04)" style='font-size:27px' text-anchor="middle">12</text>
<text transform="translate(919.51,276.34) scale(1,1.04)" style='font-size:27px' text-anchor="middle">0</text>
<text transform="translate(968.04,276.34) scale(1,1.04)" style='font-size:27px' text-anchor="middle">16</text>
<text transform="translate(1016.57,276.34) scale(1,1.04)" style='font-size:27px' text-anchor="middle">3</text>
<text transform="translate(191.56,299.63) scale(1,1.04)" style='font-size:27px' text-anchor="middle">0</text>
<text transform="translate(240.1,299.63) scale(1,1.04)" style='font-size:27px' text-anchor="middle">22</text>
<text transform="translate(288.62,299.63) scale(1,1.04)" style='font-size:27px' text-anchor="middle">3</text>
<text transform="translate(337.15,299.63) scale(1,1.04)" style='font-size:27px' text-anchor="middle">16</text>
<text transform="translate(385.69,299.63) scale(1,1.04)" style='font-size:27px' text-anchor="middle">3</text>
<text transform="translate(434.22,299.63) scale(1,1.04)" style='font-size:27px' text-anchor="middle">6</text>
<text transform="translate(482.75,299.63) scale(1,1.04)" style='font-size:27px' text-anchor="middle">31</text>
<text transform="translate(531.28,299.63) scale(1,1.04)" style='font-size:27px' text-anchor="middle">0</text>
<text transform="translate(579.8,299.63) scale(1,1.04)" style='font-size:27px' text-anchor="middle">0</text>
<text transform="translate(628.33,299.63) scale(1,1.04)" style='font-size:27px' text-anchor="middle">19</text>
<text transform="translate(676.87,299.63) scale(1,1.04)" style='font-size:27px' text-anchor="middle">3</text>
<text transform="translate(725.4,299.63) scale(1,1.04)" style='font-size:27px' text-anchor="middle">9</text>
<text transform="translate(773.93,299.63) scale(1,1.04)" style='font-size:27px' text-anchor="middle">6</text>
<text transform="translate(822.46,299.63) scale(1,1.04)" style='font-size:27px' text-anchor="middle">6</text>
<text transform="translate(870.99,299.63) scale(1,1.04)" style='font-size:27px' text-anchor="middle">12</text>
<text transform="translate(919.51,299.63) scale(1,1.04)" style='font-size:27px' text-anchor="middle">0</text>
<text transform="translate(968.04,299.63) scale(1,1.04)" style='font-size:27px' text-anchor="middle">9</text>
<text transform="translate(1016.57,299.63) scale(1,1.04)" style='font-size:27px' text-anchor="middle">6</text>
<text transform="translate(1065.11,299.63) scale(1,1.04)" style='font-size:27px' text-anchor="middle">6</text>
<text transform="translate(1113.64,299.63) scale(1,1.04)" style='font-size:27px' text-anchor="middle">3</text>
<text transform="translate(191.56,322.93) scale(1,1.04)" style='font-size:27px' text-anchor="middle">16</text>
<text transform="translate(240.1,322.93) scale(1,1.04)" style='font-size:27px' text-anchor="middle">3</text>
<text transform="translate(288.62,322.93) scale(1,1.04)" style='font-size:27px' text-anchor="middle">34</text>
<text transform="translate(337.15,322.93) scale(1,1.04)" style='font-size:27px' text-anchor="middle">3</text>
<text transform="translate(385.69,322.93) scale(1,1.04)" style='font-size:27px' text-anchor="middle">9</text>
<text transform="translate(434.22,322.93) scale(1,1.04)" style='font-size:27px' text-anchor="middle">0</text>
<text transform="translate(482.75,322.93) scale(1,1.04)" style='font-size:27px' text-anchor="middle">3</text>
<text transform="translate(531.28,322.93) scale(1,1.04)" style='font-size:27px' text-anchor="middle">6</text>
<text transform="translate(579.8,322.93) scale(1,1.04)" style='font-size:27px' text-anchor="middle">9</text>
<text transform="translate(628.33,322.93) scale(1,1.04)" style='font-size:27px' text-anchor="middle">0</text>
<text transform="translate(676.87,322.93) scale(1,1.04)" style='font-size:27px' text-anchor="middle">6</text>
<text transform="translate(725.4,322.93) scale(1,1.04)" style='font-size:27px' text-anchor="middle">12</text>
<text transform="translate(773.93,322.93) scale(1,1.04)" style='font-size:27px' text-anchor="middle">0</text>
<text transform="translate(822.46,322.93) scale(1,1.04)" style='font-size:27px' text-anchor="middle">19</text>
<text transform="translate(870.99,322.93) scale(1,1.04)" style='font-size:27px' text-anchor="middle">0</text>
<text transform="translate(919.51,322.93) scale(1,1.04)" style='font-size:27px' text-anchor="middle">16</text>
<text transform="translate(968.04,322.93) scale(1,1.04)" style='font-size:27px' text-anchor="middle">6</text>
<text transform="translate(1016.57,322.93) scale(1,1.04)" style='font-size:27px' text-anchor="middle">6</text>
<text transform="translate(1065.11,322.93) scale(1,1.04)" style='font-size:27px' text-anchor="middle">0</text>
<text transform="translate(1113.64,322.93) scale(1,1.04)" style='font-size:27px' text-anchor="middle">6</text>
<text transform="translate(191.56,346.21) scale(1,1.04)" style='font-size:27px' text-anchor="middle">9</text>
<text transform="translate(240.1,346.21) scale(1,1.04)" style='font-size:27px' text-anchor="middle">0</text>
<text transform="translate(288.62,346.21) scale(1,1.04)" style='font-size:27px' text-anchor="middle">9</text>
<text transform="translate(337.15,346.21) scale(1,1.04)" style='font-size:27px' text-anchor="middle">6</text>
<text transform="translate(482.75,346.21) scale(1,1.04)" style='font-size:27px' text-anchor="middle">6</text>
<text transform="translate(531.28,346.21) scale(1,1.04)" style='font-size:27px' text-anchor="middle">6</text>
<text transform="translate(579.8,346.21) scale(1,1.04)" style='font-size:27px' text-anchor="middle">3</text>
<text transform="translate(628.33,346.21) scale(1,1.04)" style='font-size:27px' text-anchor="middle">12</text>
<text transform="translate(676.87,346.21) scale(1,1.04)" style='font-size:27px' text-anchor="middle">6</text>
<text transform="translate(725.4,346.21) scale(1,1.04)" style='font-size:27px' text-anchor="middle">16</text>
<text transform="translate(773.93,346.21) scale(1,1.04)" style='font-size:27px' text-anchor="middle">12</text>
<text transform="translate(822.46,346.21) scale(1,1.04)" style='font-size:27px' text-anchor="middle">0</text>
<text transform="translate(870.99,346.21) scale(1,1.04)" style='font-size:27px' text-anchor="middle">9</text>
<text transform="translate(919.51,346.21) scale(1,1.04)" style='font-size:27px' text-anchor="middle">6</text>
<text transform="translate(968.04,346.21) scale(1,1.04)" style='font-size:27px' text-anchor="middle">3</text>
<text transform="translate(1016.57,346.21) scale(1,1.04)" style='font-size:27px' text-anchor="middle">6</text>
<text transform="translate(1065.11,346.21) scale(1,1.04)" style='font-size:27px' text-anchor="middle">6</text>
<text transform="translate(1113.64,346.21) scale(1,1.04)" style='font-size:27px' text-anchor="middle">3</text>
<text transform="translate(191.56,369.5) scale(1,1.04)" style='font-size:27px' text-anchor="middle">0</text>
<text transform="translate(240.1,369.5) scale(1,1.04)" style='font-size:27px' text-anchor="middle">12</text>
<text transform="translate(288.62,369.5) scale(1,1.04)" style='font-size:27px' text-anchor="middle">0</text>
<text transform="translate(337.15,369.5) scale(1,1.04)" style='font-size:27px' text-anchor="middle">12</text>
<text transform="translate(385.69,369.5) scale(1,1.04)" style='font-size:27px' text-anchor="middle">0</text>
<text transform="translate(434.22,369.5) scale(1,1.04)" style='font-size:27px' text-anchor="middle">22</text>
<text transform="translate(482.75,369.5) scale(1,1.04)" style='font-size:27px' text-anchor="middle">0</text>
<text transform="translate(531.28,369.5) scale(1,1.04)" style='font-size:27px' text-anchor="middle">9</text>
<text transform="translate(579.8,369.5) scale(1,1.04)" style='font-size:27px' text-anchor="middle">6</text>
<text transform="translate(628.33,369.5) scale(1,1.04)" style='font-size:27px' text-anchor="middle">9</text>
<text transform="translate(676.87,369.5) scale(1,1.04)" style='font-size:27px' text-anchor="middle">6</text>
<text transform="translate(725.4,369.5) scale(1,1.04)" style='font-size:27px' text-anchor="middle">9</text>
<text transform="translate(773.93,369.5) scale(1,1.04)" style='font-size:27px' text-anchor="middle">9</text>
<text transform="translate(822.46,369.5) scale(1,1.04)" style='font-size:27px' text-anchor="middle">6</text>
<text transform="translate(870.99,369.5) scale(1,1.04)" style='font-size:27px' text-anchor="middle">12</text>
<text transform="translate(919.51,369.5) scale(1,1.04)" style='font-size:27px' text-anchor="middle">0</text>
<text transform="translate(968.04,369.5) scale(1,1.04)" style='font-size:27px' text-anchor="middle">12</text>
<text transform="translate(1016.57,369.5) scale(1,1.04)" style='font-size:27px' text-anchor="middle">0</text>
<text transform="translate(1065.11,369.5) scale(1,1.04)" style='font-size:27px' text-anchor="middle">0</text>
<text transform="translate(1113.64,369.5) scale(1,1.04)" style='font-size:27px' text-anchor="middle">6</text>
<text transform="translate(191.56,392.79) scale(1,1.04)" style='font-size:27px' text-anchor="middle">12</text>
<text transform="translate(240.1,392.79) scale(1,1.04)" style='font-size:27px' text-anchor="middle">16</text>
<text transform="translate(288.62,392.79) scale(1,1.04)" style='font-size:27px' text-anchor="middle">6</text>
<text transform="translate(337.15,392.79) scale(1,1.04)" style='font-size:27px' text-anchor="middle">22</text>
<text transform="translate(385.69,392.79) scale(1,1.04)" style='font-size:27px' text-anchor="middle">3</text>
<text transform="translate(434.22,392.79) scale(1,1.04)" style='font-size:27px' text-anchor="middle">31</text>
<text transform="translate(482.75,392.79) scale(1,1.04)" style='font-size:27px' text-anchor="middle">50</text>
<text transform="translate(531.28,392.79) scale(1,1.04)" style='font-size:27px' text-anchor="middle">3</text>
<text transform="translate(579.8,392.79) scale(1,1.04)" style='font-size:27px' text-anchor="middle">3</text>
<text transform="translate(628.33,392.79) scale(1,1.04)" style='font-size:27px' text-anchor="middle">28</text>
<text transform="translate(676.87,392.79) scale(1,1.04)" style='font-size:27px' text-anchor="middle">12</text>
<text transform="translate(725.4,392.79) scale(1,1.04)" style='font-size:27px' text-anchor="middle">12</text>
<text transform="translate(773.93,392.79) scale(1,1.04)" style='font-size:27px' text-anchor="middle">12</text>
<text transform="translate(822.46,392.79) scale(1,1.04)" style='font-size:27px' text-anchor="middle">3</text>
<text transform="translate(870.99,392.79) scale(1,1.04)" style='font-size:27px' text-anchor="middle">16</text>
<text transform="translate(919.51,392.79) scale(1,1.04)" style='font-size:27px' text-anchor="middle">3</text>
<text transform="translate(968.04,392.79) scale(1,1.04)" style='font-size:27px' text-anchor="middle">16</text>
<text transform="translate(1016.57,392.79) scale(1,1.04)" style='font-size:27px' text-anchor="middle">12</text>
<text transform="translate(1065.11,392.79) scale(1,1.04)" style='font-size:27px' text-anchor="middle">6</text>
<text transform="translate(1113.64,392.79) scale(1,1.04)" style='font-size:27px' text-anchor="middle">3</text>
<text transform="translate(191.56,416.08) scale(1,1.04)" style='font-size:27px' text-anchor="middle">16</text>
<text transform="translate(240.1,416.08) scale(1,1.04)" style='font-size:27px' text-anchor="middle">0</text>
<text transform="translate(288.62,416.08) scale(1,1.04)" style='font-size:27px' text-anchor="middle">9</text>
<text transform="translate(337.15,416.08) scale(1,1.04)" style='font-size:27px' text-anchor="middle">3</text>
<text transform="translate(385.69,416.08) scale(1,1.04)" style='font-size:27px' text-anchor="middle">0</text>
<text transform="translate(434.22,416.08) scale(1,1.04)" style='font-size:27px' text-anchor="middle">25</text>
<text transform="translate(482.75,416.08) scale(1,1.04)" style='font-size:27px' text-anchor="middle">41</text>
<text transform="translate(531.28,416.08) scale(1,1.04)" style='font-size:27px' text-anchor="middle">0</text>
<text transform="translate(579.8,416.08) scale(1,1.04)" style='font-size:27px' text-anchor="middle">3</text>
<text transform="translate(628.33,416.08) scale(1,1.04)" style='font-size:27px' text-anchor="middle">22</text>
<text transform="translate(676.87,416.08) scale(1,1.04)" style='font-size:27px' text-anchor="middle">3</text>
<text transform="translate(725.4,416.08) scale(1,1.04)" style='font-size:27px' text-anchor="middle">22</text>
<text transform="translate(773.93,416.08) scale(1,1.04)" style='font-size:27px' text-anchor="middle">3</text>
<text transform="translate(822.46,416.08) scale(1,1.04)" style='font-size:27px' text-anchor="middle">6</text>
<text transform="translate(968.04,416.08) scale(1,1.04)" style='font-size:27px' text-anchor="middle">0</text>
<text transform="translate(1016.57,416.08) scale(1,1.04)" style='font-size:27px' text-anchor="middle">6</text>
<text transform="translate(1065.11,416.08) scale(1,1.04)" style='font-size:27px' text-anchor="middle">3</text>
<text transform="translate(1113.64,416.08) scale(1,1.04)" style='font-size:27px' text-anchor="middle">3</text>
<text transform="translate(155.5,43.24) scale(1,1.04)" style='font-size:26.7px' text-anchor="end">TLN1</text>
<line x1="162.3" y1="33.84" x2="166.3" y2="33.84" stroke="#aaa" stroke-width="1.2"/>
<line x1="1140.5" y1="33.84" x2="1143.5" y2="33.84" stroke="#bbb" stroke-width="1"/>
<text transform="translate(155.5,66.53) scale(1,1.04)" style='font-size:26.7px' text-anchor="end">SLC7A11</text>
<line x1="162.3" y1="57.13" x2="166.3" y2="57.13" stroke="#aaa" stroke-width="1.2"/>
<line x1="1140.5" y1="57.13" x2="1143.5" y2="57.13" stroke="#bbb" stroke-width="1"/>
<text transform="translate(155.5,89.83) scale(1,1.04)" style='font-size:26.7px' text-anchor="end">SLC3A2</text>
<line x1="162.3" y1="80.42" x2="166.3" y2="80.42" stroke="#aaa" stroke-width="1.2"/>
<line x1="1140.5" y1="80.42" x2="1143.5" y2="80.42" stroke="#bbb" stroke-width="1"/>
<text transform="translate(155.5,113.12) scale(1,1.04)" style='font-size:26.7px' text-anchor="end">RPN1</text>
<line x1="162.3" y1="103.72" x2="166.3" y2="103.72" stroke="#aaa" stroke-width="1.2"/>
<line x1="1140.5" y1="103.72" x2="1143.5" y2="103.72" stroke="#bbb" stroke-width="1"/>
<text transform="translate(155.5,136.41) scale(1,1.04)" style='font-size:26.7px' text-anchor="end">PRDX1</text>
<line x1="162.3" y1="127" x2="166.3" y2="127" stroke="#aaa" stroke-width="1.2"/>
<line x1="1140.5" y1="127" x2="1143.5" y2="127" stroke="#bbb" stroke-width="1"/>
<text transform="translate(155.5,159.69) scale(1,1.04)" style='font-size:26.7px' text-anchor="end">OXSM</text>
<line x1="162.3" y1="150.29" x2="166.3" y2="150.29" stroke="#aaa" stroke-width="1.2"/>
<line x1="1140.5" y1="150.29" x2="1143.5" y2="150.29" stroke="#bbb" stroke-width="1"/>
<text transform="translate(155.5,182.99) scale(1,1.04)" style='font-size:26.7px' text-anchor="end">NUBPL</text>
<line x1="162.3" y1="173.59" x2="166.3" y2="173.59" stroke="#aaa" stroke-width="1.2"/>
<line x1="1140.5" y1="173.59" x2="1143.5" y2="173.59" stroke="#bbb" stroke-width="1"/>
<text transform="translate(155.5,206.28) scale(1,1.04)" style='font-size:26.7px' text-anchor="end">NDUFS1</text>
<line x1="162.3" y1="196.88" x2="166.3" y2="196.88" stroke="#aaa" stroke-width="1.2"/>
<line x1="1140.5" y1="196.88" x2="1143.5" y2="196.88" stroke="#bbb" stroke-width="1"/>
<text transform="translate(155.5,229.56) scale(1,1.04)" style='font-size:26.7px' text-anchor="end">NDUFA11</text>
<line x1="162.3" y1="220.16" x2="166.3" y2="220.16" stroke="#aaa" stroke-width="1.2"/>
<line x1="1140.5" y1="220.16" x2="1143.5" y2="220.16" stroke="#bbb" stroke-width="1"/>
<text transform="translate(155.5,252.85) scale(1,1.04)" style='font-size:26.7px' text-anchor="end">NCKAP1</text>
<line x1="162.3" y1="243.45" x2="166.3" y2="243.45" stroke="#aaa" stroke-width="1.2"/>
<line x1="1140.5" y1="243.45" x2="1143.5" y2="243.45" stroke="#bbb" stroke-width="1"/>
<text transform="translate(155.5,276.14) scale(1,1.04)" style='font-size:26.7px' text-anchor="end">MYH9</text>
<line x1="162.3" y1="266.74" x2="166.3" y2="266.74" stroke="#aaa" stroke-width="1.2"/>
<line x1="1140.5" y1="266.74" x2="1143.5" y2="266.74" stroke="#bbb" stroke-width="1"/>
<text transform="translate(155.5,299.43) scale(1,1.04)" style='font-size:26.7px' text-anchor="end">MYH10</text>
<line x1="162.3" y1="290.03" x2="166.3" y2="290.03" stroke="#aaa" stroke-width="1.2"/>
<line x1="1140.5" y1="290.03" x2="1143.5" y2="290.03" stroke="#bbb" stroke-width="1"/>
<text transform="translate(155.5,322.72) scale(1,1.04)" style='font-size:26.7px' text-anchor="end">LRPPRC</text>
<line x1="162.3" y1="313.32" x2="166.3" y2="313.32" stroke="#aaa" stroke-width="1.2"/>
<line x1="1140.5" y1="313.32" x2="1143.5" y2="313.32" stroke="#bbb" stroke-width="1"/>
<text transform="translate(155.5,346.01) scale(1,1.04)" style='font-size:26.7px' text-anchor="end">GYS1</text>
<line x1="162.3" y1="336.61" x2="166.3" y2="336.61" stroke="#aaa" stroke-width="1.2"/>
<line x1="1140.5" y1="336.61" x2="1143.5" y2="336.61" stroke="#bbb" stroke-width="1"/>
<text transform="translate(155.5,369.3) scale(1,1.04)" style='font-size:26.7px' text-anchor="end">FLNB</text>
<line x1="162.3" y1="359.9" x2="166.3" y2="359.9" stroke="#aaa" stroke-width="1.2"/>
<line x1="1140.5" y1="359.9" x2="1143.5" y2="359.9" stroke="#bbb" stroke-width="1"/>
<text transform="translate(155.5,392.59) scale(1,1.04)" style='font-size:26.7px' text-anchor="end">FLNA</text>
<line x1="162.3" y1="383.19" x2="166.3" y2="383.19" stroke="#aaa" stroke-width="1.2"/>
<line x1="1140.5" y1="383.19" x2="1143.5" y2="383.19" stroke="#bbb" stroke-width="1"/>
<text transform="translate(155.5,415.88) scale(1,1.04)" style='font-size:26.7px' text-anchor="end">ACTB</text>
<line x1="162.3" y1="406.48" x2="166.3" y2="406.48" stroke="#aaa" stroke-width="1.2"/>
<line x1="1140.5" y1="406.48" x2="1143.5" y2="406.48" stroke="#bbb" stroke-width="1"/>
<line x1="191.56" y1="419.2" x2="191.56" y2="422.5" stroke="#aaa" stroke-width="1.2"/>
<text transform="translate(204.06,441) rotate(-45) scale(1,1.04)" style='font-size:26.5px' text-anchor="end">Apoptosis_A</text>
<line x1="240.1" y1="419.2" x2="240.1" y2="422.5" stroke="#aaa" stroke-width="1.2"/>
<text transform="translate(252.6,441) rotate(-45) scale(1,1.04)" style='font-size:26.5px' text-anchor="end">Apoptosis_I</text>
<line x1="288.62" y1="419.2" x2="288.62" y2="422.5" stroke="#aaa" stroke-width="1.2"/>
<text transform="translate(301.12,441) rotate(-45) scale(1,1.04)" style='font-size:26.5px' text-anchor="end">CellCycle_A</text>
<line x1="337.15" y1="419.2" x2="337.15" y2="422.5" stroke="#aaa" stroke-width="1.2"/>
<text transform="translate(349.65,441) rotate(-45) scale(1,1.04)" style='font-size:26.5px' text-anchor="end">CellCycle_I</text>
<line x1="385.69" y1="419.2" x2="385.69" y2="422.5" stroke="#aaa" stroke-width="1.2"/>
<text transform="translate(398.19,441) rotate(-45) scale(1,1.04)" style='font-size:26.5px' text-anchor="end">DNADamage_A</text>
<line x1="434.22" y1="419.2" x2="434.22" y2="422.5" stroke="#aaa" stroke-width="1.2"/>
<text transform="translate(446.72,441) rotate(-45) scale(1,1.04)" style='font-size:26.5px' text-anchor="end">DNADamage_I</text>
<line x1="482.75" y1="419.2" x2="482.75" y2="422.5" stroke="#aaa" stroke-width="1.2"/>
<text transform="translate(495.25,441) rotate(-45) scale(1,1.04)" style='font-size:26.5px' text-anchor="end">EMT_A</text>
<line x1="531.28" y1="419.2" x2="531.28" y2="422.5" stroke="#aaa" stroke-width="1.2"/>
<text transform="translate(543.78,441) rotate(-45) scale(1,1.04)" style='font-size:26.5px' text-anchor="end">EMT_I</text>
<line x1="579.8" y1="419.2" x2="579.8" y2="422.5" stroke="#aaa" stroke-width="1.2"/>
<text transform="translate(592.3,441) rotate(-45) scale(1,1.04)" style='font-size:26.5px' text-anchor="end">Hormone AR_A</text>
<line x1="628.33" y1="419.2" x2="628.33" y2="422.5" stroke="#aaa" stroke-width="1.2"/>
<text transform="translate(640.83,441) rotate(-45) scale(1,1.04)" style='font-size:26.5px' text-anchor="end">Hormone AR_I</text>
<line x1="676.87" y1="419.2" x2="676.87" y2="422.5" stroke="#aaa" stroke-width="1.2"/>
<text transform="translate(689.37,441) rotate(-45) scale(1,1.04)" style='font-size:26.5px' text-anchor="end">Hormone ER_A</text>
<line x1="725.4" y1="419.2" x2="725.4" y2="422.5" stroke="#aaa" stroke-width="1.2"/>
<text transform="translate(737.9,441) rotate(-45) scale(1,1.04)" style='font-size:26.5px' text-anchor="end">Hormone ER_I</text>
<line x1="773.93" y1="419.2" x2="773.93" y2="422.5" stroke="#aaa" stroke-width="1.2"/>
<text transform="translate(786.43,441) rotate(-45) scale(1,1.04)" style='font-size:26.5px' text-anchor="end">PI3KAKT_A</text>
<line x1="822.46" y1="419.2" x2="822.46" y2="422.5" stroke="#aaa" stroke-width="1.2"/>
<text transform="translate(834.96,441) rotate(-45) scale(1,1.04)" style='font-size:26.5px' text-anchor="end">PI3KAKT_I</text>
<line x1="870.99" y1="419.2" x2="870.99" y2="422.5" stroke="#aaa" stroke-width="1.2"/>
<text transform="translate(883.49,441) rotate(-45) scale(1,1.04)" style='font-size:26.5px' text-anchor="end">RASMAPK_A</text>
<line x1="919.51" y1="419.2" x2="919.51" y2="422.5" stroke="#aaa" stroke-width="1.2"/>
<text transform="translate(932.01,441) rotate(-45) scale(1,1.04)" style='font-size:26.5px' text-anchor="end">RASMAPK_I</text>
<line x1="968.04" y1="419.2" x2="968.04" y2="422.5" stroke="#aaa" stroke-width="1.2"/>
<text transform="translate(980.54,441) rotate(-45) scale(1,1.04)" style='font-size:26.5px' text-anchor="end">RTK_A</text>
<line x1="1016.57" y1="419.2" x2="1016.57" y2="422.5" stroke="#aaa" stroke-width="1.2"/>
<text transform="translate(1029.07,441) rotate(-45) scale(1,1.04)" style='font-size:26.5px' text-anchor="end">RTK_I</text>
<line x1="1065.11" y1="419.2" x2="1065.11" y2="422.5" stroke="#aaa" stroke-width="1.2"/>
<text transform="translate(1077.61,441) rotate(-45) scale(1,1.04)" style='font-size:26.5px' text-anchor="end">TSCmTOR_A</text>
<line x1="1113.64" y1="419.2" x2="1113.64" y2="422.5" stroke="#aaa" stroke-width="1.2"/>
<text transform="translate(1126.14,441) rotate(-45) scale(1,1.04)" style='font-size:26.5px' text-anchor="end">TSCmTOR_I</text>
<line x1="1042" y1="56.5" x2="1160" y2="56.5" stroke="#bbb" stroke-width="1" stroke-dasharray="4,3"/>
<text transform="translate(234,613.6) scale(1,1.04)" style='font-size:27.5px'>Pathway(A:Activate;I:Inhibit)</text>
<text transform="translate(620.7,613) scale(1,1.04)" style='font-size:27px'>Score</text>
<defs><linearGradient id="ga" x1="0" x2="1" y1="0" y2="0"><stop offset="0" stop-color="#a06efd"/><stop offset="0.05" stop-color="#ac80fc"/><stop offset="0.1" stop-color="#b791fb"/><stop offset="0.15" stop-color="#c3a4fb"/><stop offset="0.2" stop-color="#cfb8fb"/><stop offset="0.25" stop-color="#dccbfb"/><stop offset="0.3" stop-color="#e7ddfc"/><stop offset="0.35" stop-color="#f3f0fc"/><stop offset="0.4" stop-color="#fcf8f5"/><stop offset="0.45" stop-color="#f7e9e0"/><stop offset="0.5" stop-color="#f5dbcf"/><stop offset="0.55" stop-color="#f1c9b9"/><stop offset="0.6" stop-color="#eeb6a1"/><stop offset="0.65" stop-color="#efa690"/><stop offset="0.7" stop-color="#f0967f"/><stop offset="0.75" stop-color="#f1866d"/><stop offset="0.8" stop-color="#ef7157"/><stop offset="0.85" stop-color="#f26145"/><stop offset="0.9" stop-color="#f64f33"/><stop offset="0.95" stop-color="#f8371f"/><stop offset="1" stop-color="#fa1e0c"/></linearGradient></defs>
<rect x="712.5" y="579" width="187.8" height="46.1" fill="url(#ga)"/>
<text transform="translate(715,613) scale(1,1.04)" style='font-size:27px'>-50</text>
<text transform="translate(801,613) scale(1,1.04)" style='font-size:27px' text-anchor="middle">0</text>
<text transform="translate(899,613) scale(1,1.04)" style='font-size:27px' text-anchor="end">50</text>
<text transform="translate(1204.1,36.8) scale(1,1.04)" style='font-size:47.5px'>B</text>
<g fill="none"><path d="M1789.1 285.4Q1630.41 224.22 1584.13 60.56" stroke="#5a8ee8" stroke-width="0.8" stroke-opacity="0.45"/><path d="M1789.1 285.4Q1563.11 285.77 1427.23 105.21" stroke="#f2b3c3" stroke-width="0.9" stroke-opacity="0.58"/><path d="M1789.1 285.4Q1574.5 246.04 1371.32 166.53" stroke="#5a8ee8" stroke-width="1.2" stroke-opacity="0.77"/><path d="M1789.1 285.4Q1574.91 410.74 1341.34 326.89" stroke="#5a8ee8" stroke-width="1.3" stroke-opacity="0.85"/><path d="M1789.1 285.4Q1630.41 346.58 1584.13 510.24" stroke="#5a8ee8" stroke-width="0.9" stroke-opacity="0.53"/><path d="M1789.1 285.4Q1761.08 322.37 1773.85 366.97" stroke="#5a8ee8" stroke-width="1.3" stroke-opacity="0.85"/><path d="M1773.85 203.83Q1688.76 171.03 1663.95 83.27" stroke="#f2b3c3" stroke-width="1.3" stroke-opacity="0.9"/><path d="M1773.85 203.83Q1575.88 241.18 1427.23 105.21" stroke="#f2b3c3" stroke-width="1.2" stroke-opacity="0.82"/><path d="M1773.85 203.83Q1530.75 171.01 1341.34 326.89" stroke="#f2b3c3" stroke-width="1.1" stroke-opacity="0.74"/><path d="M1773.85 203.83Q1548.83 266.24 1427.23 465.59" stroke="#f2b3c3" stroke-width="1.1" stroke-opacity="0.74"/><path d="M1773.85 203.83Q1562.99 285.12 1501.51 502.58" stroke="#f2b3c3" stroke-width="0.9" stroke-opacity="0.58"/><path d="M1773.85 203.83Q1602.39 309.6 1584.13 510.24" stroke="#f2b3c3" stroke-width="1.2" stroke-opacity="0.82"/><path d="M1773.85 203.83Q1647.98 318.2 1663.95 487.53" stroke="#5a8ee8" stroke-width="1" stroke-opacity="0.61"/><path d="M1730.17 133.28Q1684.56 124.83 1663.95 83.27" stroke="#f2b3c3" stroke-width="0.8" stroke-opacity="0.5"/><path d="M1730.17 133.28Q1599.57 157.91 1501.51 68.22" stroke="#5a8ee8" stroke-width="1" stroke-opacity="0.61"/><path d="M1730.17 133.28Q1571.68 194.98 1427.23 105.21" stroke="#f2b3c3" stroke-width="0.8" stroke-opacity="0.5"/><path d="M1730.17 133.28Q1586.97 332.94 1341.34 326.89" stroke="#f2b3c3" stroke-width="1" stroke-opacity="0.66"/><path d="M1730.17 133.28Q1487.36 216.17 1427.23 465.59" stroke="#f2b3c3" stroke-width="1.1" stroke-opacity="0.74"/><path d="M1730.17 133.28Q1567.64 288.09 1501.51 502.58" stroke="#f2b3c3" stroke-width="0.8" stroke-opacity="0.5"/><path d="M1730.17 133.28Q1562.91 285.25 1584.13 510.24" stroke="#f2b3c3" stroke-width="1.3" stroke-opacity="0.9"/><path d="M1730.17 133.28Q1608.5 293.85 1663.95 487.53" stroke="#f2b3c3" stroke-width="1" stroke-opacity="0.66"/><path d="M1730.17 133.28Q1693.59 261.04 1773.85 366.97" stroke="#5a8ee8" stroke-width="1.1" stroke-opacity="0.69"/><path d="M1663.95 83.27Q1578.96 116.36 1501.51 68.22" stroke="#f2b3c3" stroke-width="1.3" stroke-opacity="0.9"/><path d="M1663.95 83.27Q1551.07 153.42 1427.23 105.21" stroke="#f2b3c3" stroke-width="1" stroke-opacity="0.66"/><path d="M1663.95 83.27Q1542.81 244.24 1341.34 243.91" stroke="#f2b3c3" stroke-width="0.9" stroke-opacity="0.58"/><path d="M1663.95 83.27Q1563.55 285.73 1341.34 326.89" stroke="#f2b3c3" stroke-width="1.1" stroke-opacity="0.74"/><path d="M1663.95 83.27Q1542.98 266.88 1371.32 404.27" stroke="#f2b3c3" stroke-width="1.2" stroke-opacity="0.82"/><path d="M1663.95 83.27Q1562.58 285.12 1501.51 502.58" stroke="#f2b3c3" stroke-width="1.3" stroke-opacity="0.9"/><path d="M1663.95 83.27Q1562.88 285.4 1663.95 487.53" stroke="#5a8ee8" stroke-width="1.1" stroke-opacity="0.69"/><path d="M1663.95 83.27Q1647.98 252.6 1773.85 366.97" stroke="#5a8ee8" stroke-width="0.9" stroke-opacity="0.53"/><path d="M1584.13 60.56Q1516.84 122.11 1427.23 105.21" stroke="#5a8ee8" stroke-width="0.9" stroke-opacity="0.53"/><path d="M1584.13 60.56Q1529.32 254.42 1341.34 326.89" stroke="#f2b3c3" stroke-width="1.2" stroke-opacity="0.82"/><path d="M1584.13 60.56Q1643.8 300.45 1501.51 502.58" stroke="#f2b3c3" stroke-width="1.3" stroke-opacity="0.9"/><path d="M1501.51 68.22Q1460.99 149.92 1371.32 166.53" stroke="#5a8ee8" stroke-width="1.3" stroke-opacity="0.85"/><path d="M1501.51 68.22Q1465.35 196.11 1341.34 243.91" stroke="#5a8ee8" stroke-width="1.1" stroke-opacity="0.69"/><path d="M1501.51 68.22Q1486.09 237.6 1341.34 326.89" stroke="#f2b3c3" stroke-width="1.1" stroke-opacity="0.74"/><path d="M1501.51 68.22Q1560.42 286.52 1663.95 487.53" stroke="#f2b3c3" stroke-width="0.8" stroke-opacity="0.5"/><path d="M1501.51 68.22Q1562.99 285.68 1773.85 366.97" stroke="#5a8ee8" stroke-width="1" stroke-opacity="0.61"/><path d="M1427.23 105.21Q1414.6 149.85 1371.32 166.53" stroke="#5a8ee8" stroke-width="0.8" stroke-opacity="0.45"/><path d="M1427.23 105.21Q1418.96 196.03 1341.34 243.91" stroke="#5a8ee8" stroke-width="1.1" stroke-opacity="0.69"/><path d="M1427.23 105.21Q1439.71 237.52 1341.34 326.89" stroke="#f2b3c3" stroke-width="0.9" stroke-opacity="0.58"/><path d="M1427.23 105.21Q1474.04 268.71 1371.32 404.27" stroke="#f2b3c3" stroke-width="1" stroke-opacity="0.66"/><path d="M1427.23 105.21Q1517.32 285.4 1427.23 465.59" stroke="#f2b3c3" stroke-width="1.2" stroke-opacity="0.82"/><path d="M1427.23 105.21Q1563.71 285.32 1501.51 502.58" stroke="#5a8ee8" stroke-width="1.2" stroke-opacity="0.77"/><path d="M1427.23 105.21Q1604.47 269.45 1584.13 510.24" stroke="#f2b3c3" stroke-width="0.8" stroke-opacity="0.5"/><path d="M1427.23 105.21Q1621.1 249.61 1663.95 487.53" stroke="#5a8ee8" stroke-width="1.3" stroke-opacity="0.85"/><path d="M1427.23 105.21Q1659.75 197.47 1730.17 437.52" stroke="#f2b3c3" stroke-width="1" stroke-opacity="0.66"/><path d="M1427.23 105.21Q1540.74 315.28 1773.85 366.97" stroke="#5a8ee8" stroke-width="1" stroke-opacity="0.61"/><path d="M1371.32 166.53Q1375.68 212.71 1341.34 243.91" stroke="#f2b3c3" stroke-width="1.2" stroke-opacity="0.82"/><path d="M1371.32 166.53Q1396.42 254.21 1341.34 326.89" stroke="#5a8ee8" stroke-width="0.9" stroke-opacity="0.53"/><path d="M1371.32 166.53Q1430.76 285.4 1371.32 404.27" stroke="#f2b3c3" stroke-width="1.3" stroke-opacity="0.9"/><path d="M1371.32 166.53Q1520.43 302.01 1501.51 502.58" stroke="#5a8ee8" stroke-width="0.8" stroke-opacity="0.45"/><path d="M1371.32 166.53Q1563.65 285.18 1584.13 510.24" stroke="#5a8ee8" stroke-width="0.9" stroke-opacity="0.53"/><path d="M1371.32 166.53Q1542.98 303.92 1663.95 487.53" stroke="#f2b3c3" stroke-width="1.1" stroke-opacity="0.74"/><path d="M1371.32 166.53Q1584.72 257.04 1730.17 437.52" stroke="#5a8ee8" stroke-width="1" stroke-opacity="0.61"/><path d="M1371.32 166.53Q1615.28 181.01 1773.85 366.97" stroke="#f2b3c3" stroke-width="0.9" stroke-opacity="0.58"/><path d="M1341.34 243.91Q1362.09 285.4 1341.34 326.89" stroke="#f2b3c3" stroke-width="1" stroke-opacity="0.66"/><path d="M1341.34 243.91Q1396.42 316.59 1371.32 404.27" stroke="#f2b3c3" stroke-width="1.2" stroke-opacity="0.82"/><path d="M1341.34 243.91Q1486.09 333.2 1501.51 502.58" stroke="#5a8ee8" stroke-width="1.3" stroke-opacity="0.85"/><path d="M1341.34 243.91Q1529.32 316.38 1584.13 510.24" stroke="#5a8ee8" stroke-width="1.3" stroke-opacity="0.85"/><path d="M1341.34 243.91Q1563.55 285.07 1663.95 487.53" stroke="#5a8ee8" stroke-width="1.3" stroke-opacity="0.85"/><path d="M1341.34 243.91Q1583.98 243.87 1730.17 437.52" stroke="#5a8ee8" stroke-width="0.9" stroke-opacity="0.53"/><path d="M1341.34 243.91Q1530.12 402.02 1773.85 366.97" stroke="#f2b3c3" stroke-width="0.8" stroke-opacity="0.5"/><path d="M1341.34 326.89Q1375.68 358.09 1371.32 404.27" stroke="#5a8ee8" stroke-width="1.1" stroke-opacity="0.69"/><path d="M1341.34 326.89Q1465.35 374.69 1501.51 502.58" stroke="#f2b3c3" stroke-width="0.8" stroke-opacity="0.5"/><path d="M1341.34 326.89Q1563.41 285 1730.17 437.52" stroke="#f2b3c3" stroke-width="0.9" stroke-opacity="0.58"/><path d="M1341.34 326.89Q1547.82 452.43 1773.85 366.97" stroke="#5a8ee8" stroke-width="1.1" stroke-opacity="0.69"/><path d="M1371.32 404.27Q1414.6 420.95 1427.23 465.59" stroke="#5a8ee8" stroke-width="1.2" stroke-opacity="0.77"/><path d="M1371.32 404.27Q1504.22 404.05 1584.13 510.24" stroke="#5a8ee8" stroke-width="0.8" stroke-opacity="0.45"/><path d="M1371.32 404.27Q1538.45 372.74 1663.95 487.53" stroke="#f2b3c3" stroke-width="1.1" stroke-opacity="0.74"/><path d="M1427.23 465.59Q1516.84 448.69 1584.13 510.24" stroke="#f2b3c3" stroke-width="1.2" stroke-opacity="0.82"/><path d="M1427.23 465.59Q1551.07 417.38 1663.95 487.53" stroke="#5a8ee8" stroke-width="0.9" stroke-opacity="0.53"/><path d="M1427.23 465.59Q1571.68 375.82 1730.17 437.52" stroke="#5a8ee8" stroke-width="1.1" stroke-opacity="0.69"/><path d="M1427.23 465.59Q1575.88 329.62 1773.85 366.97" stroke="#5a8ee8" stroke-width="1.2" stroke-opacity="0.77"/><path d="M1501.51 502.58Q1544.73 485.75 1584.13 510.24" stroke="#f2b3c3" stroke-width="1.2" stroke-opacity="0.82"/><path d="M1501.51 502.58Q1599.57 412.89 1730.17 437.52" stroke="#f2b3c3" stroke-width="0.9" stroke-opacity="0.58"/><path d="M1501.51 502.58Q1603.78 366.69 1773.85 366.97" stroke="#5a8ee8" stroke-width="0.9" stroke-opacity="0.53"/><path d="M1584.13 510.24Q1618.36 478.93 1663.95 487.53" stroke="#5a8ee8" stroke-width="1.3" stroke-opacity="0.85"/><path d="M1663.95 487.53Q1684.56 445.97 1730.17 437.52" stroke="#5a8ee8" stroke-width="1.1" stroke-opacity="0.69"/><path d="M1789.1 285.4Q1761.08 248.43 1773.85 203.83" stroke="#f0b0c0" stroke-width="1.44"/><path d="M1789.1 285.4Q1568.93 224.68 1341.34 243.91" stroke="#5585e6" stroke-width="1.58"/><path d="M1789.1 285.4Q1591.01 322.09 1501.51 502.58" stroke="#f0b0c0" stroke-width="1.44"/><path d="M1789.1 285.4Q1721.6 346.73 1730.17 437.52" stroke="#f0b0c0" stroke-width="1.73"/><path d="M1773.85 203.83Q1734.37 179.48 1730.17 133.28" stroke="#f0b0c0" stroke-width="1.44"/><path d="M1773.85 203.83Q1643.18 179.63 1584.13 60.56" stroke="#f0b0c0" stroke-width="1.87"/><path d="M1773.85 203.83Q1563.26 285.81 1371.32 166.53" stroke="#5585e6" stroke-width="1.44"/><path d="M1773.85 203.83Q1560.76 258.03 1341.34 243.91" stroke="#5585e6" stroke-width="1.15"/><path d="M1773.85 203.83Q1587.38 333.76 1371.32 404.27" stroke="#5585e6" stroke-width="1.3"/><path d="M1773.85 203.83Q1693.59 309.76 1730.17 437.52" stroke="#f0b0c0" stroke-width="1.87"/><path d="M1773.85 203.83Q1733.07 285.4 1773.85 366.97" stroke="#f0b0c0" stroke-width="1.58"/><path d="M1730.17 133.28Q1638.97 133.43 1584.13 60.56" stroke="#f0b0c0" stroke-width="1.3"/><path d="M1730.17 133.28Q1559.06 239.62 1371.32 166.53" stroke="#5585e6" stroke-width="1.15"/><path d="M1730.17 133.28Q1533.54 245.99 1371.32 404.27" stroke="#5585e6" stroke-width="1.44"/><path d="M1730.17 133.28Q1654.11 285.4 1730.17 437.52" stroke="#f0b0c0" stroke-width="1.44"/><path d="M1663.95 83.27Q1618.36 91.87 1584.13 60.56" stroke="#5585e6" stroke-width="1.44"/><path d="M1663.95 83.27Q1730.39 316.63 1584.13 510.24" stroke="#f0b0c0" stroke-width="1.44"/><path d="M1584.13 60.56Q1544.73 85.05 1501.51 68.22" stroke="#5585e6" stroke-width="1.3"/><path d="M1584.13 60.56Q1508.58 212.93 1341.34 243.91" stroke="#5585e6" stroke-width="1.73"/><path d="M1584.13 60.56Q1563.65 285.62 1371.32 404.27" stroke="#5585e6" stroke-width="1.87"/><path d="M1584.13 60.56Q1541.67 285.4 1584.13 510.24" stroke="#5585e6" stroke-width="1.73"/><path d="M1584.13 60.56Q1563.91 285.29 1663.95 487.53" stroke="#5585e6" stroke-width="1.15"/><path d="M1584.13 60.56Q1562.91 285.55 1730.17 437.52" stroke="#f0b0c0" stroke-width="2.3"/><path d="M1501.51 68.22Q1473.61 105.28 1427.23 105.21" stroke="#f0b0c0" stroke-width="1.08"/><path d="M1341.34 243.91Q1439.71 333.28 1427.23 465.59" stroke="#5585e6" stroke-width="1.73"/><path d="M1341.34 326.89Q1418.96 374.77 1427.23 465.59" stroke="#f0b0c0" stroke-width="2.16"/><path d="M1371.32 404.27Q1559.06 331.18 1730.17 437.52" stroke="#5585e6" stroke-width="2.02"/><path d="M1584.13 510.24Q1643.18 391.17 1773.85 366.97" stroke="#f0b0c0" stroke-width="1.44"/><path d="M1730.17 437.52Q1734.37 391.32 1773.85 366.97" stroke="#f0b0c0" stroke-width="1.87"/></g>
<path d="M1789.1 267.75A17.65 17.65 0 0 0 1789.1 303.05Z" fill="#e42521"/>
<path d="M1789.1 267.75A17.65 17.65 0 0 1 1789.1 303.05Z" fill="#396eb0"/>
<path d="M1773.85 186.18A17.65 17.65 0 0 0 1773.85 221.48Z" fill="#e42521"/>
<path d="M1773.85 186.18A17.65 17.65 0 0 1 1773.85 221.48Z" fill="#e59e5e"/>
<path d="M1730.17 115.38A17.9 17.9 0 0 0 1730.17 151.18Z" fill="#e42521"/>
<path d="M1730.17 115.38A17.9 17.9 0 0 1 1730.17 151.18Z" fill="#e59e5e"/>
<path d="M1663.95 69.97A13.3 13.3 0 0 0 1663.95 96.57Z" fill="#e42521"/>
<path d="M1663.95 69.97A13.3 13.3 0 0 1 1663.95 96.57Z" fill="#e59e5e"/>
<path d="M1584.13 47.26A13.3 13.3 0 0 0 1584.13 73.86Z" fill="#e42521"/>
<path d="M1584.13 47.26A13.3 13.3 0 0 1 1584.13 73.86Z" fill="#e59e5e"/>
<path d="M1501.51 50.57A17.65 17.65 0 0 0 1501.51 85.87Z" fill="#e42521"/>
<path d="M1501.51 50.57A17.65 17.65 0 0 1 1501.51 85.87Z" fill="#e59e5e"/>
<path d="M1427.23 89.71A15.5 15.5 0 0 0 1427.23 120.71Z" fill="#e42521"/>
<path d="M1427.23 89.71A15.5 15.5 0 0 1 1427.23 120.71Z" fill="#e59e5e"/>
<path d="M1371.32 148.63A17.9 17.9 0 0 0 1371.32 184.43Z" fill="#e42521"/>
<path d="M1371.32 148.63A17.9 17.9 0 0 1 1371.32 184.43Z" fill="#396eb0"/>
<path d="M1341.34 226.26A17.65 17.65 0 0 0 1341.34 261.56Z" fill="#e42521"/>
<path d="M1341.34 226.26A17.65 17.65 0 0 1 1341.34 261.56Z" fill="#396eb0"/>
<path d="M1341.34 318.09A8.8 8.8 0 0 0 1341.34 335.69Z" fill="#e42521"/>
<path d="M1341.34 318.09A8.8 8.8 0 0 1 1341.34 335.69Z" fill="#e59e5e"/>
<path d="M1371.32 386.37A17.9 17.9 0 0 0 1371.32 422.17Z" fill="#e42521"/>
<path d="M1371.32 386.37A17.9 17.9 0 0 1 1371.32 422.17Z" fill="#396eb0"/>
<path d="M1427.23 447.79A17.8 17.8 0 0 0 1427.23 483.39Z" fill="#e42521"/>
<path d="M1427.23 447.79A17.8 17.8 0 0 1 1427.23 483.39Z" fill="#e59e5e"/>
<path d="M1501.51 491.58A11 11 0 0 0 1501.51 513.58Z" fill="#e42521"/>
<path d="M1501.51 491.58A11 11 0 0 1 1501.51 513.58Z" fill="#e59e5e"/>
<path d="M1584.13 496.94A13.3 13.3 0 0 0 1584.13 523.54Z" fill="#e42521"/>
<path d="M1584.13 496.94A13.3 13.3 0 0 1 1584.13 523.54Z" fill="#e59e5e"/>
<path d="M1663.95 469.88A17.65 17.65 0 0 0 1663.95 505.18Z" fill="#e42521"/>
<path d="M1663.95 469.88A17.65 17.65 0 0 1 1663.95 505.18Z" fill="#396eb0"/>
<path d="M1730.17 419.87A17.65 17.65 0 0 0 1730.17 455.17Z" fill="#e42521"/>
<path d="M1730.17 419.87A17.65 17.65 0 0 1 1730.17 455.17Z" fill="#e59e5e"/>
<path d="M1773.85 349.32A17.65 17.65 0 0 0 1773.85 384.62Z" fill="#e42521"/>
<path d="M1773.85 349.32A17.65 17.65 0 0 1 1773.85 384.62Z" fill="#396eb0"/>
<text transform="translate(1491,43.8) scale(1,1.04)" style='font-size:26.8px' text-anchor="middle">SLC7A11</text>
<text transform="translate(1600.5,42.7) scale(1,1.04)" style='font-size:26.8px' text-anchor="middle">TLN1</text>
<text transform="translate(1677.4,68.1) scale(1,1.04)" style='font-size:26.8px' text-anchor="middle">PRDX1</text>
<text transform="translate(1732.3,112.4) scale(1,1.04)" style='font-size:26.8px' text-anchor="middle">ACTB</text>
<text transform="translate(1782,181.2) scale(1,1.04)" style='font-size:26.8px' text-anchor="middle">MYH9</text>
<text transform="translate(1797.8,263.6) scale(1,1.04)" style='font-size:26.8px' text-anchor="middle">MYH10</text>
<text transform="translate(1795,348.1) scale(1,1.04)" style='font-size:26.8px' text-anchor="middle">FLNB</text>
<text transform="translate(1762.9,416.6) scale(1,1.04)" style='font-size:26.8px' text-anchor="middle">FLNA</text>
<text transform="translate(1696.5,530.1) scale(1,1.04)" style='font-size:26.8px' text-anchor="middle">NCKAP1</text>
<text transform="translate(1584.6,547.7) scale(1,1.04)" style='font-size:26.8px' text-anchor="middle">RPN1</text>
<text transform="translate(1497.5,536.9) scale(1,1.04)" style='font-size:26.8px' text-anchor="middle">GYS1</text>
<text transform="translate(1406.3,508.5) scale(1,1.04)" style='font-size:26.8px' text-anchor="middle">NDUFS1</text>
<text transform="translate(1361.5,446.6) scale(1,1.04)" style='font-size:26.8px' text-anchor="middle">OXSM</text>
<text transform="translate(1314,358.5) scale(1,1.04)" style='font-size:26.8px' text-anchor="middle">LRPPRC</text>
<text transform="translate(1331.3,222.2) scale(1,1.04)" style='font-size:26.8px' text-anchor="middle">NDUFA11</text>
<text transform="translate(1360.6,145.9) scale(1,1.04)" style='font-size:26.8px' text-anchor="middle">NUBPL</text>
<text transform="translate(1386.5,88.4) scale(1,1.04)" style='font-size:26.8px' text-anchor="middle">SLC3A2</text>
<circle cx="1762.3" cy="35.8" r="5.3" fill="#e59e5e"/>
<text transform="translate(1783.5,43.2) scale(1,1.04)" style='font-size:22.4px'>Risk factors</text>
<circle cx="1762.3" cy="62.8" r="5.3" fill="#396eb0"/>
<text transform="translate(1783.5,69.7) scale(1,1.04)" style='font-size:22.4px'>Favorable factors</text>
<line x1="1284" y1="584.2" x2="1330.2" y2="584.2" stroke="#f2b3c3" stroke-width="3.5"/>
<text transform="translate(1351.4,592.3) scale(1,1.04)" style='font-size:23.3px'>Postive correlation with P&lt;0.0001</text>
<line x1="1284" y1="613.5" x2="1330.2" y2="613.5" stroke="#5e8fe6" stroke-width="3.5"/>
<text transform="translate(1351.4,621.1) scale(1,1.04)" style='font-size:23.3px'>Negative correlation with P&lt;0.0001</text>
<text transform="translate(1788.4,473.9) scale(1,1.04)" style='font-size:23.2px'>Cox test, pvalue</text>
<circle cx="1809.6" cy="501.6" r="12" fill="#000"/>
<text transform="translate(1828.1,508.6) scale(1,1.04)" style='font-size:19px'>0.05</text>
<circle cx="1899.6" cy="502" r="9.7" fill="#000"/>
<text transform="translate(1918.1,509) scale(1,1.04)" style='font-size:19px'>1</text>
<circle cx="1808.7" cy="548.1" r="16.6" fill="#000"/>
<text transform="translate(1826.8,555.1) scale(1,1.04)" style='font-size:19px'>0.001</text>
<circle cx="1897.6" cy="548.1" r="14.2" fill="#000"/>
<text transform="translate(1916.6,555.1) scale(1,1.04)" style='font-size:19px'>0.01</text>
<circle cx="1809.5" cy="599.1" r="19" fill="#000"/>
<text transform="translate(1827.6,606.1) scale(1,1.04)" style='font-size:19px'>1e−04</text>
<text transform="translate(2.5,682.5) scale(1,1.04)" style='font-size:47.5px'>C</text>
<text transform="translate(85.5,720) scale(1,1.04)" style='font-size:27.5px'>Consensus Matrix k=2</text>
<rect x="200" y="839.2" width="158.2" height="157.8" fill="#1a00ff"/>
<rect x="40.2" y="997" width="159.8" height="160.2" fill="#1a00ff"/>
<defs><pattern id="spk" width="40" height="40" patternUnits="userSpaceOnUse"><rect x="15" y="37" width="3" height="1" fill="#3a2aff"/><rect x="8" y="23" width="3" height="1" fill="#3a2aff"/><rect x="30" y="37" width="1" height="1" fill="#3a2aff"/><rect x="38" y="0" width="2" height="1" fill="#3a2aff"/><rect x="16" y="35" width="1" height="1" fill="#3a2aff"/><rect x="12" y="30" width="3" height="1" fill="#3a2aff"/><rect x="35" y="30" width="2" height="1" fill="#3a2aff"/><rect x="9" y="14" width="1" height="1" fill="#3a2aff"/><rect x="33" y="24" width="1" height="1" fill="#3a2aff"/><rect x="4" y="10" width="3" height="1" fill="#3a2aff"/><rect x="2" y="19" width="1" height="1" fill="#3a2aff"/><rect x="17" y="30" width="3" height="1" fill="#3a2aff"/><rect x="24" y="27" width="2" height="1" fill="#3a2aff"/><rect x="36" y="28" width="1" height="1" fill="#3a2aff"/><rect x="23" y="6" width="1" height="1" fill="#3a2aff"/><rect x="8" y="31" width="1" height="1" fill="#3a2aff"/><rect x="16" y="27" width="1" height="1" fill="#3a2aff"/><rect x="26" y="32" width="2" height="1" fill="#3a2aff"/><rect x="36" y="22" width="3" height="1" fill="#3a2aff"/><rect x="37" y="26" width="3" height="1" fill="#3a2aff"/><rect x="14" y="21" width="1" height="1" fill="#3a2aff"/><rect x="17" y="38" width="1" height="1" fill="#3a2aff"/><rect x="20" y="34" width="3" height="1" fill="#3a2aff"/><rect x="36" y="6" width="1" height="1" fill="#3a2aff"/><rect x="36" y="17" width="1" height="1" fill="#3a2aff"/><rect x="7" y="4" width="2" height="1" fill="#3a2aff"/><rect x="30" y="5" width="1" height="1" fill="#3a2aff"/><rect x="4" y="26" width="1" height="1" fill="#3a2aff"/><rect x="1" y="18" width="2" height="1" fill="#3a2aff"/><rect x="26" y="7" width="1" height="1" fill="#3a2aff"/><rect x="38" y="39" width="1" height="1" fill="#3a2aff"/><rect x="24" y="37" width="1" height="1" fill="#3a2aff"/><rect x="35" y="17" width="3" height="1" fill="#3a2aff"/><rect x="15" y="2" width="1" height="1" fill="#3a2aff"/><rect x="0" y="4" width="1" height="1" fill="#3a2aff"/><rect x="38" y="34" width="1" height="1" fill="#3a2aff"/><rect x="12" y="26" width="1" height="1" fill="#3a2aff"/><rect x="39" y="16" width="1" height="1" fill="#3a2aff"/><rect x="2" y="21" width="1" height="1" fill="#3a2aff"/><rect x="23" y="8" width="2" height="1" fill="#3a2aff"/><rect x="24" y="29" width="3" height="1" fill="#3a2aff"/><rect x="24" y="38" width="3" height="1" fill="#3a2aff"/><rect x="6" y="39" width="3" height="1" fill="#3a2aff"/><rect x="17" y="27" width="1" height="1" fill="#3a2aff"/><rect x="19" y="27" width="1" height="1" fill="#3a2aff"/><rect x="33" y="19" width="3" height="1" fill="#3a2aff"/><rect x="21" y="0" width="2" height="1" fill="#3a2aff"/><rect x="37" y="20" width="1" height="1" fill="#3a2aff"/><rect x="24" y="39" width="3" height="1" fill="#3a2aff"/><rect x="8" y="3" width="1" height="1" fill="#3a2aff"/><rect x="29" y="22" width="1" height="1" fill="#3a2aff"/><rect x="38" y="17" width="2" height="1" fill="#3a2aff"/><rect x="1" y="37" width="1" height="1" fill="#3a2aff"/><rect x="1" y="23" width="1" height="1" fill="#3a2aff"/><rect x="29" y="19" width="3" height="1" fill="#3a2aff"/><rect x="38" y="20" width="1" height="1" fill="#3a2aff"/><rect x="23" y="11" width="1" height="1" fill="#3a2aff"/><rect x="23" y="38" width="1" height="1" fill="#3a2aff"/><rect x="19" y="24" width="1" height="1" fill="#3a2aff"/><rect x="1" y="36" width="1" height="1" fill="#3a2aff"/><rect x="19" y="32" width="1" height="1" fill="#3a2aff"/><rect x="17" y="15" width="1" height="1" fill="#3a2aff"/><rect x="11" y="27" width="1" height="1" fill="#3a2aff"/><rect x="6" y="38" width="1" height="1" fill="#3a2aff"/><rect x="21" y="14" width="2" height="1" fill="#3a2aff"/><rect x="10" y="5" width="1" height="1" fill="#3a2aff"/><rect x="13" y="36" width="2" height="1" fill="#3a2aff"/><rect x="17" y="14" width="1" height="1" fill="#3a2aff"/><rect x="2" y="33" width="1" height="1" fill="#3a2aff"/><rect x="20" y="36" width="1" height="1" fill="#3a2aff"/><rect x="17" y="21" width="1" height="1" fill="#3a2aff"/><rect x="39" y="22" width="3" height="1" fill="#3a2aff"/><rect x="8" y="26" width="1" height="1" fill="#3a2aff"/><rect x="33" y="17" width="2" height="1" fill="#3a2aff"/><rect x="22" y="26" width="1" height="1" fill="#3a2aff"/><rect x="26" y="36" width="2" height="1" fill="#3a2aff"/><rect x="2" y="26" width="1" height="1" fill="#3a2aff"/><rect x="12" y="0" width="2" height="1" fill="#3a2aff"/><rect x="39" y="32" width="2" height="1" fill="#3a2aff"/><rect x="35" y="14" width="1" height="1" fill="#3a2aff"/><rect x="29" y="33" width="1" height="1" fill="#3a2aff"/><rect x="34" y="21" width="1" height="1" fill="#3a2aff"/><rect x="4" y="37" width="1" height="1" fill="#3a2aff"/><rect x="7" y="15" width="1" height="1" fill="#3a2aff"/><rect x="2" y="32" width="1" height="1" fill="#3a2aff"/><rect x="27" y="36" width="1" height="1" fill="#3a2aff"/><rect x="0" y="30" width="1" height="1" fill="#3a2aff"/><rect x="10" y="32" width="1" height="1" fill="#3a2aff"/><rect x="15" y="1" width="3" height="1" fill="#3a2aff"/><rect x="34" y="26" width="1" height="1" fill="#3a2aff"/><rect x="39" y="7" width="1" height="1" fill="#3a2aff"/><rect x="8" y="16" width="3" height="1" fill="#3a2aff"/><rect x="30" y="3" width="1" height="1" fill="#3a2aff"/><rect x="14" y="12" width="1" height="1" fill="#3a2aff"/><rect x="34" y="7" width="1" height="1" fill="#3a2aff"/><rect x="15" y="17" width="1" height="1" fill="#3a2aff"/><rect x="0" y="31" width="3" height="1" fill="#3a2aff"/><rect x="25" y="3" width="1" height="1" fill="#3a2aff"/><rect x="15" y="17" width="3" height="1" fill="#3a2aff"/><rect x="33" y="33" width="2" height="1" fill="#3a2aff"/><rect x="3" y="30" width="1" height="1" fill="#3a2aff"/><rect x="0" y="3" width="1" height="1" fill="#3a2aff"/><rect x="2" y="7" width="1" height="1" fill="#3a2aff"/><rect x="4" y="30" width="1" height="1" fill="#3a2aff"/><rect x="5" y="32" width="3" height="1" fill="#3a2aff"/><rect x="31" y="20" width="1" height="1" fill="#3a2aff"/><rect x="20" y="4" width="1" height="1" fill="#3a2aff"/><rect x="24" y="24" width="3" height="1" fill="#3a2aff"/><rect x="19" y="23" width="1" height="1" fill="#3a2aff"/><rect x="12" y="21" width="2" height="1" fill="#3a2aff"/></pattern><pattern id="spkw" width="40" height="40" patternUnits="userSpaceOnUse"><rect width="40" height="40" fill="#1a00ff"/><rect x="15" y="37" width="3" height="1" fill="#c8c4ff"/><rect x="8" y="23" width="3" height="1" fill="#c8c4ff"/><rect x="30" y="37" width="1" height="1" fill="#c8c4ff"/><rect x="38" y="0" width="2" height="1" fill="#c8c4ff"/><rect x="16" y="35" width="1" height="1" fill="#c8c4ff"/><rect x="12" y="30" width="3" height="1" fill="#c8c4ff"/><rect x="35" y="30" width="2" height="1" fill="#c8c4ff"/><rect x="9" y="14" width="1" height="1" fill="#c8c4ff"/><rect x="33" y="24" width="1" height="1" fill="#c8c4ff"/><rect x="4" y="10" width="3" height="1" fill="#c8c4ff"/><rect x="2" y="19" width="1" height="1" fill="#c8c4ff"/><rect x="17" y="30" width="3" height="1" fill="#c8c4ff"/><rect x="24" y="27" width="2" height="1" fill="#c8c4ff"/><rect x="36" y="28" width="1" height="1" fill="#c8c4ff"/><rect x="23" y="6" width="1" height="1" fill="#c8c4ff"/><rect x="8" y="31" width="1" height="1" fill="#c8c4ff"/><rect x="16" y="27" width="1" height="1" fill="#c8c4ff"/><rect x="26" y="32" width="2" height="1" fill="#c8c4ff"/><rect x="36" y="22" width="3" height="1" fill="#c8c4ff"/><rect x="37" y="26" width="3" height="1" fill="#c8c4ff"/><rect x="14" y="21" width="1" height="1" fill="#c8c4ff"/><rect x="17" y="38" width="1" height="1" fill="#c8c4ff"/><rect x="20" y="34" width="3" height="1" fill="#c8c4ff"/><rect x="36" y="6" width="1" height="1" fill="#c8c4ff"/><rect x="36" y="17" width="1" height="1" fill="#c8c4ff"/><rect x="7" y="4" width="2" height="1" fill="#c8c4ff"/><rect x="30" y="5" width="1" height="1" fill="#c8c4ff"/><rect x="4" y="26" width="1" height="1" fill="#c8c4ff"/><rect x="1" y="18" width="2" height="1" fill="#c8c4ff"/><rect x="26" y="7" width="1" height="1" fill="#c8c4ff"/><rect x="38" y="39" width="1" height="1" fill="#c8c4ff"/><rect x="24" y="37" width="1" height="1" fill="#c8c4ff"/><rect x="35" y="17" width="3" height="1" fill="#c8c4ff"/><rect x="15" y="2" width="1" height="1" fill="#c8c4ff"/><rect x="0" y="4" width="1" height="1" fill="#c8c4ff"/><rect x="38" y="34" width="1" height="1" fill="#c8c4ff"/><rect x="12" y="26" width="1" height="1" fill="#c8c4ff"/><rect x="39" y="16" width="1" height="1" fill="#c8c4ff"/><rect x="2" y="21" width="1" height="1" fill="#c8c4ff"/><rect x="23" y="8" width="2" height="1" fill="#c8c4ff"/></pattern></defs>
<rect x="40.2" y="839.2" width="149.8" height="22" fill="url(#spk)" fill-opacity="0.35"/>
<rect x="188" y="839.2" width="12" height="157.8" fill="url(#spk)" fill-opacity="0.4"/>
<rect x="40.2" y="987" width="159.8" height="10" fill="url(#spk)" fill-opacity="0.45"/>
<rect x="40.2" y="839.2" width="5" height="157.8" fill="url(#spk)" fill-opacity="0.25"/>
<rect x="200" y="997" width="158.2" height="14" fill="url(#spk)" fill-opacity="0.45"/>
<rect x="338.2" y="997" width="20" height="160.2" fill="url(#spk)" fill-opacity="0.35"/>
<rect x="200" y="997" width="8" height="160.2" fill="url(#spk)" fill-opacity="0.35"/>
<rect x="200" y="1153.2" width="158.2" height="4" fill="url(#spk)" fill-opacity="0.4"/>
<rect x="200" y="989" width="158.2" height="8" fill="url(#spkw)"/>
<rect x="190" y="997" width="10" height="160.2" fill="url(#spkw)"/>
<rect x="40.2" y="997" width="159.8" height="14" fill="url(#spkw)" opacity="0.6"/>
<rect x="40.2" y="820.9" width="159.8" height="12.7" fill="#4682b4"/>
<rect x="200" y="820.9" width="158.2" height="12.7" fill="#add8e6"/>
<path d="M171 798.1L171 725.2M171 725.2L251.7 725.2M251.7 725.2L251.7 792.9M143.6 803.5L143.6 798.1M143.6 798.1L198.7 798.1M198.7 798.1L198.7 806M98.2 809.3L98.2 803.5M98.2 803.5L190.3 803.5M190.3 803.5L190.3 811M41.2 813L41.2 809.3M41.2 809.3L155.2 809.3M155.2 809.3L155.2 812M203.4 801L203.4 792.9M203.4 792.9L299 792.9M299 792.9L299 802.2M244.5 808.7L244.5 802.2M244.5 802.2L354.1 802.2M354.1 802.2L354.1 808M207 812L207 808.7M207 808.7L280.3 808.7M280.3 808.7L280.3 811M199 808L199 801M199 801L205 801M205 801L205 810" stroke="#000" stroke-width="1.1" fill="none"/>
<path d="M117.77 810.99H199M254.47 810.99H284.06M92.26 811.43H184.79M310 811.43H358M127.21 816.41H199M253.39 816.41H332.93M98.87 815.62H199M265.6 815.62H315.01M137.32 814.29H165.91M260.63 814.29H331.74M171.11 817.04H199M325.9 817.04H358M104.98 812.1H139.76M314.22 812.1H358M150.95 817.1H199M303.26 817.1H358M122.29 810.83H142.87M221.81 810.83H334.72M52.85 810.35H84.77M323.5 810.35H358M157.81 810.19H192.37M318.46 810.19H358M173.34 816.69H199M312.23 816.69H336.58M111.59 816.14H199M216.73 816.14H326.61M48.56 817.48H107.47M279.83 817.48H358M65.17 811.94H115.16M287.01 811.94H358M91.45 813.15H159.04M250.34 813.15H320.53M110.04 810.67H199M258.97 810.67H358M136.72 811.28H199M294.99 811.28H358M42.42 806.28V818M197.02 812.21V818M44.29 812.2V818M189.74 813.4V818M200.26 816.45V818M41.54 806.41V818M41.8 809.86V818M351.65 815.68V818M353.85 805.01V818M44.74 810.54V818M355.74 804.97V818M190.37 805.92V818M202.58 806.38V818M40.23 805.65V818M209.5 812.12V818M183.2 809.32V818M201.68 809.47V818M352.2 810.06V818M352.01 817.18V818M205.4 813.28V818M43.35 814.56V818M44.81 813.34V818M352.36 811.93V818M40.91 809.19V818M350.87 805.98V818M354.78 808.21V818M356.26 804.96V818M354.35 809.49V818M40.5 804.59V818M190.17 816.25V818M44.73 808.94V818M44.23 813.54V818M350.9 806.65V818M356.53 805.8V818M356.39 811.39V818M188.86 804.42V818M208.84 808.42V818M353.98 813.61V818M353.87 806.67V818M43.17 810.89V818" stroke="#222" stroke-width="0.9" fill="none" stroke-opacity="0.8"/>
<line x1="40.2" y1="818" x2="358.2" y2="818" stroke="#000" stroke-width="1.2"/>
<rect x="364.9" y="737.6" width="88.7" height="91.2" fill="#fff" stroke="#000" stroke-width="2.7"/>
<rect x="385.9" y="759" width="19.2" height="17" fill="#add8e6" stroke="#000" stroke-width="2"/>
<rect x="385.9" y="791" width="19.2" height="14.3" fill="#4682b4" stroke="#000" stroke-width="2"/>
<text transform="translate(414.5,775.8) scale(1,1.04)" style='font-size:27.4px'>A</text>
<text transform="translate(414.5,807.2) scale(1,1.04)" style='font-size:27.4px'>B</text>
<text transform="translate(464.9,681.9) scale(1,1.04)" style='font-size:47.5px'>D</text>
<path d="M791.5 778.09h1.75M685 830.21h1.75M823 882.33h1.75M745 908.39h1.75M502 934.45h1.75M593.5 934.45h1.75M671.5 986.57h1.75M578.5 1012.63h1.75M643 1012.63h1.75M619 1090.81h1.75M811 1142.93h1.75" stroke="#3769af" stroke-width="26.3" fill="none"/>
<path d="M626.5 804.15h1.75M649 804.15h1.75M577 856.27h1.75M578.5 908.39h1.75M625 908.39h1.75M688 908.39h1.75M808 960.51h1.75M536.5 1012.63h1.75M670 1012.63h1.75M760 1038.69h1.75M665.5 1064.75h1.75M713.5 1064.75h1.75M761.5 1064.75h1.75M776.5 1064.75h1.75M821.5 1064.75h1.75M617.5 1090.81h1.75M671.5 1168.99h1.75" stroke="#4674b5" stroke-width="26.3" fill="none"/>
<path d="M685 778.09h1.75M572.5 804.15h1.75M700 830.21h1.75M800.5 830.21h1.75M521.5 908.39h1.75M547 908.39h1.75M613 908.39h1.75M695.5 908.39h1.75M532 934.45h1.75M509.5 960.51h1.75M509.5 986.57h1.75M568 986.57h1.75M739 986.57h1.75M760 986.57h1.75M791.5 986.57h1.75M799 986.57h1.75M550 1012.63h1.75M778 1012.63h1.75M793 1012.63h1.75M809.5 1012.63h1.75M704.5 1038.69h1.75M731.5 1038.69h1.75M817 1038.69h1.75M677.5 1064.75h1.75M692.5 1064.75h1.75M745 1090.81h1.75M704.5 1142.93h1.75" stroke="#5580bb" stroke-width="26.3" fill="none"/>
<path d="M508 778.09h1.75M578.5 778.09h1.75M667 778.09h1.75M773.5 778.09h1.75M790 778.09h1.75M797.5 778.09h1.75M586 804.15h1.75M581.5 830.21h1.75M707.5 830.21h1.75M821.5 830.21h1.75M700 856.27h1.75M524.5 882.33h1.75M523 908.39h1.75M721 934.45h1.75M766 934.45h1.75M560.5 960.51h1.75M613 960.51h1.75M701.5 960.51h1.75M767.5 1012.63h1.75M803.5 1012.63h1.75M526 1038.69h1.75M529 1038.69h1.75M517 1064.75h1.75M671.5 1064.75h1.75M685 1064.75h1.75M742 1064.75h1.75M787 1064.75h1.75M805 1064.75h1.75M811 1064.75h1.75M614.5 1090.81h1.75M583 1116.87h1.75M791.5 1116.87h1.75M745 1142.93h1.75M652 1168.99h1.75M728.5 1168.99h1.75M736 1168.99h1.75" stroke="#658bc1" stroke-width="26.3" fill="none"/>
<path d="M764.5 752.03h1.75M824.5 752.03h1.75M539.5 778.09h1.75M554.5 778.09h1.75M596.5 778.09h1.75M533.5 830.21h1.75M694 830.21h1.75M737.5 830.21h1.75M742 830.21h1.75M748 830.21h1.75M562 856.27h1.75M596.5 856.27h1.75M667 856.27h1.75M518.5 882.33h1.75M643 882.33h1.75M649 882.33h1.75M736 882.33h1.75M551.5 908.39h1.75M553 908.39h1.75M557.5 908.39h1.75M577 908.39h1.75M652 908.39h1.75M658 908.39h1.75M551.5 934.45h1.75M569.5 934.45h1.75M577 934.45h1.75M623.5 934.45h1.75M745 934.45h1.75M809.5 934.45h1.75M547 960.51h1.75M700 986.57h1.75M548.5 1012.63h1.75M727 1012.63h1.75M503.5 1038.69h1.75M700 1038.69h1.75M803.5 1038.69h1.75M691 1064.75h1.75M785.5 1064.75h1.75M820 1064.75h1.75M578.5 1090.81h1.75M613 1090.81h1.75M811 1090.81h1.75M649 1116.87h1.75M745 1116.87h1.75M692.5 1142.93h1.75M734.5 1142.93h1.75M791.5 1142.93h1.75M755.5 1168.99h1.75M791.5 1168.99h1.75" stroke="#7497c7" stroke-width="26.3" fill="none"/>
<path d="M548.5 752.03h1.75M583 752.03h1.75M710.5 752.03h1.75M745 752.03h1.75M797.5 752.03h1.75M802 752.03h1.75M805 752.03h1.75M521.5 778.09h1.75M560.5 778.09h1.75M563.5 778.09h1.75M577 778.09h1.75M728.5 778.09h1.75M565 804.15h1.75M608.5 804.15h1.75M721 804.15h1.75M811 804.15h1.75M529 830.21h1.75M559 830.21h1.75M683.5 830.21h1.75M740.5 830.21h1.75M607 856.27h1.75M610 856.27h1.75M656.5 856.27h1.75M511 882.33h1.75M560.5 882.33h1.75M592 882.33h1.75M593.5 882.33h1.75M656.5 882.33h1.75M773.5 882.33h1.75M515.5 908.39h1.75M583 908.39h1.75M596.5 908.39h1.75M758.5 908.39h1.75M766 908.39h1.75M820 908.39h1.75M524.5 934.45h1.75M581.5 934.45h1.75M590.5 934.45h1.75M680.5 934.45h1.75M791.5 934.45h1.75M817 934.45h1.75M541 960.51h1.75M583 960.51h1.75M692.5 960.51h1.75M700 960.51h1.75M755.5 960.51h1.75M775 960.51h1.75M791.5 960.51h1.75M794.5 960.51h1.75M815.5 960.51h1.75M581.5 986.57h1.75M685 1012.63h1.75M745 1012.63h1.75M754 1012.63h1.75M770.5 1012.63h1.75M772 1012.63h1.75M575.5 1038.69h1.75M607 1038.69h1.75M713.5 1038.69h1.75M719.5 1038.69h1.75M766 1038.69h1.75M583 1064.75h1.75M755.5 1064.75h1.75M773.5 1064.75h1.75M775 1064.75h1.75M806.5 1064.75h1.75M817 1064.75h1.75M529 1090.81h1.75M550 1090.81h1.75M649 1090.81h1.75M760 1090.81h1.75M820 1090.81h1.75M790 1116.87h1.75M805 1116.87h1.75M811 1116.87h1.75M665.5 1142.93h1.75M679 1142.93h1.75M694 1142.93h1.75M782.5 1142.93h1.75M812.5 1142.93h1.75M602.5 1168.99h1.75M686.5 1168.99h1.75M754 1168.99h1.75M797.5 1168.99h1.75" stroke="#84a3ce" stroke-width="26.3" fill="none"/>
<path d="M668.5 752.03h1.75M688 752.03h1.75M758.5 752.03h1.75M790 752.03h1.75M514 778.09h1.75M544 778.09h1.75M583 778.09h1.75M601 778.09h1.75M628 778.09h1.75M649 778.09h1.75M736 778.09h1.75M811 778.09h1.75M515.5 804.15h1.75M599.5 804.15h1.75M605.5 804.15h1.75M611.5 804.15h1.75M616 804.15h1.75M722.5 804.15h1.75M781 804.15h1.75M509.5 830.21h1.75M515.5 830.21h1.75M607 830.21h1.75M614.5 830.21h1.75M644.5 830.21h1.75M689.5 830.21h1.75M710.5 830.21h1.75M721 830.21h1.75M512.5 856.27h1.75M514 856.27h1.75M559 856.27h1.75M568 856.27h1.75M575.5 856.27h1.75M581.5 856.27h1.75M592 856.27h1.75M692.5 856.27h1.75M776.5 856.27h1.75M523 882.33h1.75M544 882.33h1.75M637 882.33h1.75M640 882.33h1.75M671.5 882.33h1.75M737.5 882.33h1.75M745 882.33h1.75M514 908.39h1.75M535 908.39h1.75M649 908.39h1.75M653.5 908.39h1.75M656.5 908.39h1.75M737.5 908.39h1.75M790 908.39h1.75M791.5 908.39h1.75M547 934.45h1.75M553 934.45h1.75M562 934.45h1.75M598 934.45h1.75M637 934.45h1.75M700 934.45h1.75M701.5 934.45h1.75M716.5 934.45h1.75M758.5 934.45h1.75M508 960.51h1.75M562 960.51h1.75M745 960.51h1.75M788.5 960.51h1.75M799 960.51h1.75M823 960.51h1.75M503.5 986.57h1.75M575.5 986.57h1.75M583 986.57h1.75M592 986.57h1.75M667 986.57h1.75M815.5 986.57h1.75M821.5 986.57h1.75M824.5 986.57h1.75M517 1012.63h1.75M577 1012.63h1.75M637 1012.63h1.75M638.5 1012.63h1.75M665.5 1012.63h1.75M688 1012.63h1.75M692.5 1012.63h1.75M712 1012.63h1.75M752.5 1012.63h1.75M760 1012.63h1.75M791.5 1012.63h1.75M805 1012.63h1.75M557.5 1038.69h1.75M589 1038.69h1.75M640 1038.69h1.75M643 1038.69h1.75M688 1038.69h1.75M692.5 1038.69h1.75M697 1038.69h1.75M722.5 1038.69h1.75M725.5 1038.69h1.75M727 1038.69h1.75M742 1038.69h1.75M763 1038.69h1.75M773.5 1038.69h1.75M565 1064.75h1.75M649 1064.75h1.75M679 1064.75h1.75M746.5 1064.75h1.75M758.5 1064.75h1.75M812.5 1064.75h1.75M818.5 1064.75h1.75M577 1090.81h1.75M616 1090.81h1.75M625 1090.81h1.75M652 1090.81h1.75M667 1090.81h1.75M770.5 1090.81h1.75M809.5 1090.81h1.75M577 1116.87h1.75M667 1116.87h1.75M809.5 1116.87h1.75M671.5 1142.93h1.75M677.5 1142.93h1.75M709 1142.93h1.75M737.5 1142.93h1.75M758.5 1142.93h1.75M773.5 1142.93h1.75M784 1142.93h1.75M809.5 1142.93h1.75M823 1142.93h1.75M659.5 1168.99h1.75M662.5 1168.99h1.75M709 1168.99h1.75M710.5 1168.99h1.75M718 1168.99h1.75M758.5 1168.99h1.75M811 1168.99h1.75M820 1168.99h1.75" stroke="#94afd4" stroke-width="26.3" fill="none"/>
<path d="M578.5 752.03h1.75M599.5 752.03h1.75M679 752.03h1.75M691 752.03h1.75M742 752.03h1.75M755.5 752.03h1.75M527.5 778.09h1.75M536.5 778.09h1.75M557.5 778.09h1.75M566.5 778.09h1.75M586 778.09h1.75M587.5 778.09h1.75M589 778.09h1.75M602.5 778.09h1.75M616 778.09h1.75M646 778.09h1.75M679 778.09h1.75M706 778.09h1.75M734.5 778.09h1.75M737.5 778.09h1.75M766 778.09h1.75M779.5 778.09h1.75M788.5 778.09h1.75M809.5 778.09h1.75M824.5 778.09h1.75M512.5 804.15h1.75M542.5 804.15h1.75M545.5 804.15h1.75M682 804.15h1.75M772 804.15h1.75M791.5 804.15h1.75M541 830.21h1.75M547 830.21h1.75M548.5 830.21h1.75M563.5 830.21h1.75M592 830.21h1.75M617.5 830.21h1.75M679 830.21h1.75M680.5 830.21h1.75M691 830.21h1.75M697 830.21h1.75M782.5 830.21h1.75M791.5 830.21h1.75M811 830.21h1.75M815.5 830.21h1.75M820 830.21h1.75M532 856.27h1.75M578.5 856.27h1.75M608.5 856.27h1.75M628 856.27h1.75M641.5 856.27h1.75M809.5 856.27h1.75M577 882.33h1.75M725.5 882.33h1.75M766 882.33h1.75M811 882.33h1.75M505 908.39h1.75M509.5 908.39h1.75M580 908.39h1.75M632.5 908.39h1.75M697 908.39h1.75M518.5 934.45h1.75M529 934.45h1.75M592 934.45h1.75M616 934.45h1.75M617.5 934.45h1.75M632.5 934.45h1.75M652 934.45h1.75M656.5 934.45h1.75M775 934.45h1.75M515.5 960.51h1.75M565 960.51h1.75M607 960.51h1.75M656.5 960.51h1.75M698.5 960.51h1.75M715 960.51h1.75M721 960.51h1.75M766 960.51h1.75M770.5 960.51h1.75M802 960.51h1.75M803.5 960.51h1.75M809.5 960.51h1.75M821.5 960.51h1.75M557.5 986.57h1.75M560.5 986.57h1.75M589 986.57h1.75M673 986.57h1.75M677.5 986.57h1.75M715 986.57h1.75M745 986.57h1.75M778 986.57h1.75M802 986.57h1.75M820 986.57h1.75M514 1012.63h1.75M518.5 1012.63h1.75M566.5 1012.63h1.75M569.5 1012.63h1.75M631 1012.63h1.75M662.5 1012.63h1.75M667 1012.63h1.75M680.5 1012.63h1.75M715 1012.63h1.75M734.5 1012.63h1.75M742 1012.63h1.75M764.5 1012.63h1.75M788.5 1012.63h1.75M790 1012.63h1.75M811 1012.63h1.75M812.5 1012.63h1.75M508 1038.69h1.75M550 1038.69h1.75M566.5 1038.69h1.75M656.5 1038.69h1.75M680.5 1038.69h1.75M686.5 1038.69h1.75M721 1038.69h1.75M734.5 1038.69h1.75M758.5 1038.69h1.75M781 1038.69h1.75M788.5 1038.69h1.75M793 1038.69h1.75M811 1038.69h1.75M820 1038.69h1.75M559 1064.75h1.75M560.5 1064.75h1.75M580 1064.75h1.75M587.5 1064.75h1.75M662.5 1064.75h1.75M704.5 1064.75h1.75M737.5 1064.75h1.75M751 1064.75h1.75M788.5 1064.75h1.75M790 1064.75h1.75M815.5 1064.75h1.75M502 1090.81h1.75M569.5 1090.81h1.75M656.5 1090.81h1.75M766 1090.81h1.75M775 1090.81h1.75M578.5 1116.87h1.75M700 1116.87h1.75M755.5 1116.87h1.75M670 1142.93h1.75M688 1142.93h1.75M695.5 1142.93h1.75M707.5 1142.93h1.75M710.5 1142.93h1.75M712 1142.93h1.75M718 1142.93h1.75M721 1142.93h1.75M725.5 1142.93h1.75M730 1142.93h1.75M731.5 1142.93h1.75M742 1142.93h1.75M755.5 1142.93h1.75M761.5 1142.93h1.75M763 1142.93h1.75M764.5 1142.93h1.75M779.5 1142.93h1.75M794.5 1142.93h1.75M803.5 1142.93h1.75M667 1168.99h1.75M670 1168.99h1.75M682 1168.99h1.75M688 1168.99h1.75M746.5 1168.99h1.75M764.5 1168.99h1.75M793 1168.99h1.75M805 1168.99h1.75M808 1168.99h1.75M815.5 1168.99h1.75" stroke="#a4bbdb" stroke-width="26.3" fill="none"/>
<path d="M544 752.03h1.75M584.5 752.03h1.75M590.5 752.03h1.75M610 752.03h1.75M640 752.03h1.75M712 752.03h1.75M728.5 752.03h1.75M785.5 752.03h1.75M811 752.03h1.75M814 752.03h1.75M542.5 778.09h1.75M584.5 778.09h1.75M629.5 778.09h1.75M652 778.09h1.75M653.5 778.09h1.75M712 778.09h1.75M716.5 778.09h1.75M763 778.09h1.75M799 778.09h1.75M808 778.09h1.75M505 804.15h1.75M508 804.15h1.75M527.5 804.15h1.75M535 804.15h1.75M581.5 804.15h1.75M589 804.15h1.75M595 804.15h1.75M620.5 804.15h1.75M650.5 804.15h1.75M734.5 804.15h1.75M742 804.15h1.75M752.5 804.15h1.75M760 804.15h1.75M785.5 804.15h1.75M508 830.21h1.75M553 830.21h1.75M569.5 830.21h1.75M578.5 830.21h1.75M586 830.21h1.75M641.5 830.21h1.75M643 830.21h1.75M658 830.21h1.75M671.5 830.21h1.75M676 830.21h1.75M713.5 830.21h1.75M727 830.21h1.75M767.5 830.21h1.75M506.5 856.27h1.75M511 856.27h1.75M518.5 856.27h1.75M548.5 856.27h1.75M571 856.27h1.75M619 856.27h1.75M632.5 856.27h1.75M640 856.27h1.75M673 856.27h1.75M724 856.27h1.75M727 856.27h1.75M755.5 856.27h1.75M763 856.27h1.75M811 856.27h1.75M820 856.27h1.75M517 882.33h1.75M532 882.33h1.75M553 882.33h1.75M565 882.33h1.75M584.5 882.33h1.75M601 882.33h1.75M602.5 882.33h1.75M604 882.33h1.75M652 882.33h1.75M692.5 882.33h1.75M716.5 882.33h1.75M785.5 882.33h1.75M527.5 908.39h1.75M566.5 908.39h1.75M571 908.39h1.75M572.5 908.39h1.75M593.5 908.39h1.75M599.5 908.39h1.75M604 908.39h1.75M610 908.39h1.75M619 908.39h1.75M647.5 908.39h1.75M665.5 908.39h1.75M667 908.39h1.75M707.5 908.39h1.75M713.5 908.39h1.75M719.5 908.39h1.75M743.5 908.39h1.75M763 908.39h1.75M767.5 908.39h1.75M776.5 908.39h1.75M811 908.39h1.75M823 908.39h1.75M505 934.45h1.75M514 934.45h1.75M554.5 934.45h1.75M566.5 934.45h1.75M578.5 934.45h1.75M658 934.45h1.75M671.5 934.45h1.75M689.5 934.45h1.75M715 934.45h1.75M728.5 934.45h1.75M736 934.45h1.75M767.5 934.45h1.75M776.5 934.45h1.75M781 934.45h1.75M803.5 934.45h1.75M805 934.45h1.75M506.5 960.51h1.75M533.5 960.51h1.75M589 960.51h1.75M610 960.51h1.75M631 960.51h1.75M649 960.51h1.75M653.5 960.51h1.75M659.5 960.51h1.75M667 960.51h1.75M694 960.51h1.75M704.5 960.51h1.75M709 960.51h1.75M737.5 960.51h1.75M760 960.51h1.75M784 960.51h1.75M800.5 960.51h1.75M527.5 986.57h1.75M577 986.57h1.75M590.5 986.57h1.75M610 986.57h1.75M623.5 986.57h1.75M727 986.57h1.75M737.5 986.57h1.75M772 986.57h1.75M773.5 986.57h1.75M788.5 986.57h1.75M805 986.57h1.75M808 986.57h1.75M811 986.57h1.75M545.5 1012.63h1.75M551.5 1012.63h1.75M553 1012.63h1.75M565 1012.63h1.75M601 1012.63h1.75M659.5 1012.63h1.75M691 1012.63h1.75M724 1012.63h1.75M736 1012.63h1.75M743.5 1012.63h1.75M748 1012.63h1.75M758.5 1012.63h1.75M766 1012.63h1.75M817 1012.63h1.75M515.5 1038.69h1.75M530.5 1038.69h1.75M539.5 1038.69h1.75M586 1038.69h1.75M592 1038.69h1.75M620.5 1038.69h1.75M644.5 1038.69h1.75M667 1038.69h1.75M689.5 1038.69h1.75M691 1038.69h1.75M694 1038.69h1.75M752.5 1038.69h1.75M761.5 1038.69h1.75M767.5 1038.69h1.75M778 1038.69h1.75M782.5 1038.69h1.75M799 1038.69h1.75M800.5 1038.69h1.75M806.5 1038.69h1.75M502 1064.75h1.75M508 1064.75h1.75M533.5 1064.75h1.75M547 1064.75h1.75M605.5 1064.75h1.75M652 1064.75h1.75M686.5 1064.75h1.75M701.5 1064.75h1.75M703 1064.75h1.75M706 1064.75h1.75M719.5 1064.75h1.75M724 1064.75h1.75M740.5 1064.75h1.75M748 1064.75h1.75M791.5 1064.75h1.75M802 1064.75h1.75M823 1064.75h1.75M535 1090.81h1.75M544 1090.81h1.75M553 1090.81h1.75M590.5 1090.81h1.75M637 1090.81h1.75M670 1090.81h1.75M677.5 1090.81h1.75M686.5 1090.81h1.75M730 1090.81h1.75M736 1090.81h1.75M752.5 1090.81h1.75M818.5 1090.81h1.75M527.5 1116.87h1.75M544 1116.87h1.75M550 1116.87h1.75M671.5 1116.87h1.75M710.5 1116.87h1.75M728.5 1116.87h1.75M737.5 1116.87h1.75M803.5 1116.87h1.75M638.5 1142.93h1.75M667 1142.93h1.75M691 1142.93h1.75M698.5 1142.93h1.75M713.5 1142.93h1.75M727 1142.93h1.75M733 1142.93h1.75M740.5 1142.93h1.75M743.5 1142.93h1.75M754 1142.93h1.75M770.5 1142.93h1.75M787 1142.93h1.75M800.5 1142.93h1.75M805 1142.93h1.75M806.5 1142.93h1.75M814 1142.93h1.75M511 1168.99h1.75M550 1168.99h1.75M565 1168.99h1.75M571 1168.99h1.75M583 1168.99h1.75M623.5 1168.99h1.75M644.5 1168.99h1.75M665.5 1168.99h1.75M694 1168.99h1.75M712 1168.99h1.75M719.5 1168.99h1.75M751 1168.99h1.75M752.5 1168.99h1.75M760 1168.99h1.75M767.5 1168.99h1.75M770.5 1168.99h1.75M788.5 1168.99h1.75M803.5 1168.99h1.75M806.5 1168.99h1.75M824.5 1168.99h1.75" stroke="#b5c7e1" stroke-width="26.3" fill="none"/>
<path d="M508 752.03h1.75M524.5 752.03h1.75M568 752.03h1.75M569.5 752.03h1.75M571 752.03h1.75M586 752.03h1.75M602.5 752.03h1.75M622 752.03h1.75M644.5 752.03h1.75M658 752.03h1.75M659.5 752.03h1.75M697 752.03h1.75M701.5 752.03h1.75M730 752.03h1.75M754 752.03h1.75M769 752.03h1.75M788.5 752.03h1.75M538 778.09h1.75M541 778.09h1.75M545.5 778.09h1.75M562 778.09h1.75M569.5 778.09h1.75M571 778.09h1.75M671.5 778.09h1.75M689.5 778.09h1.75M697 778.09h1.75M698.5 778.09h1.75M703 778.09h1.75M740.5 778.09h1.75M755.5 778.09h1.75M764.5 778.09h1.75M782.5 778.09h1.75M784 778.09h1.75M502 804.15h1.75M518.5 804.15h1.75M521.5 804.15h1.75M523 804.15h1.75M532 804.15h1.75M551.5 804.15h1.75M556 804.15h1.75M557.5 804.15h1.75M560.5 804.15h1.75M566.5 804.15h1.75M583 804.15h1.75M602.5 804.15h1.75M628 804.15h1.75M644.5 804.15h1.75M661 804.15h1.75M710.5 804.15h1.75M758.5 804.15h1.75M775 804.15h1.75M805 804.15h1.75M527.5 830.21h1.75M535 830.21h1.75M571 830.21h1.75M593.5 830.21h1.75M595 830.21h1.75M598 830.21h1.75M610 830.21h1.75M646 830.21h1.75M649 830.21h1.75M661 830.21h1.75M665.5 830.21h1.75M667 830.21h1.75M695.5 830.21h1.75M739 830.21h1.75M745 830.21h1.75M749.5 830.21h1.75M769 830.21h1.75M784 830.21h1.75M787 830.21h1.75M794.5 830.21h1.75M809.5 830.21h1.75M812.5 830.21h1.75M818.5 830.21h1.75M524.5 856.27h1.75M538 856.27h1.75M550 856.27h1.75M565 856.27h1.75M569.5 856.27h1.75M589 856.27h1.75M590.5 856.27h1.75M611.5 856.27h1.75M719.5 856.27h1.75M812.5 856.27h1.75M502 882.33h1.75M512.5 882.33h1.75M527.5 882.33h1.75M530.5 882.33h1.75M538 882.33h1.75M574 882.33h1.75M575.5 882.33h1.75M595 882.33h1.75M599.5 882.33h1.75M607 882.33h1.75M641.5 882.33h1.75M644.5 882.33h1.75M659.5 882.33h1.75M664 882.33h1.75M667 882.33h1.75M704.5 882.33h1.75M718 882.33h1.75M722.5 882.33h1.75M749.5 882.33h1.75M778 882.33h1.75M779.5 882.33h1.75M517 908.39h1.75M538 908.39h1.75M544 908.39h1.75M548.5 908.39h1.75M560.5 908.39h1.75M565 908.39h1.75M569.5 908.39h1.75M574 908.39h1.75M587.5 908.39h1.75M614.5 908.39h1.75M646 908.39h1.75M650.5 908.39h1.75M659.5 908.39h1.75M673 908.39h1.75M679 908.39h1.75M692.5 908.39h1.75M703 908.39h1.75M724 908.39h1.75M788.5 908.39h1.75M797.5 908.39h1.75M809.5 908.39h1.75M511 934.45h1.75M517 934.45h1.75M535 934.45h1.75M538 934.45h1.75M539.5 934.45h1.75M545.5 934.45h1.75M565 934.45h1.75M574 934.45h1.75M580 934.45h1.75M584.5 934.45h1.75M643 934.45h1.75M649 934.45h1.75M676 934.45h1.75M754 934.45h1.75M772 934.45h1.75M818.5 934.45h1.75M518.5 960.51h1.75M538 960.51h1.75M542.5 960.51h1.75M559 960.51h1.75M580 960.51h1.75M581.5 960.51h1.75M590.5 960.51h1.75M596.5 960.51h1.75M614.5 960.51h1.75M625 960.51h1.75M632.5 960.51h1.75M658 960.51h1.75M668.5 960.51h1.75M673 960.51h1.75M695.5 960.51h1.75M736 960.51h1.75M752.5 960.51h1.75M758.5 960.51h1.75M763 960.51h1.75M772 960.51h1.75M806.5 960.51h1.75M811 960.51h1.75M523 986.57h1.75M586 986.57h1.75M646 986.57h1.75M650.5 986.57h1.75M658 986.57h1.75M686.5 986.57h1.75M703 986.57h1.75M712 986.57h1.75M713.5 986.57h1.75M724 986.57h1.75M734.5 986.57h1.75M752.5 986.57h1.75M757 986.57h1.75M763 986.57h1.75M796 986.57h1.75M800.5 986.57h1.75M809.5 986.57h1.75M823 986.57h1.75M506.5 1012.63h1.75M530.5 1012.63h1.75M554.5 1012.63h1.75M580 1012.63h1.75M595 1012.63h1.75M605.5 1012.63h1.75M635.5 1012.63h1.75M644.5 1012.63h1.75M649 1012.63h1.75M679 1012.63h1.75M700 1012.63h1.75M710.5 1012.63h1.75M739 1012.63h1.75M769 1012.63h1.75M779.5 1012.63h1.75M818.5 1012.63h1.75M824.5 1012.63h1.75M523 1038.69h1.75M532 1038.69h1.75M542.5 1038.69h1.75M581.5 1038.69h1.75M658 1038.69h1.75M664 1038.69h1.75M671.5 1038.69h1.75M673 1038.69h1.75M682 1038.69h1.75M701.5 1038.69h1.75M737.5 1038.69h1.75M740.5 1038.69h1.75M745 1038.69h1.75M787 1038.69h1.75M805 1038.69h1.75M809.5 1038.69h1.75M824.5 1038.69h1.75M503.5 1064.75h1.75M515.5 1064.75h1.75M542.5 1064.75h1.75M584.5 1064.75h1.75M628 1064.75h1.75M641.5 1064.75h1.75M643 1064.75h1.75M664 1064.75h1.75M667 1064.75h1.75M683.5 1064.75h1.75M697 1064.75h1.75M700 1064.75h1.75M718 1064.75h1.75M725.5 1064.75h1.75M728.5 1064.75h1.75M736 1064.75h1.75M766 1064.75h1.75M769 1064.75h1.75M772 1064.75h1.75M803.5 1064.75h1.75M808 1064.75h1.75M809.5 1064.75h1.75M508 1090.81h1.75M511 1090.81h1.75M517 1090.81h1.75M532 1090.81h1.75M551.5 1090.81h1.75M583 1090.81h1.75M593.5 1090.81h1.75M623.5 1090.81h1.75M655 1090.81h1.75M694 1090.81h1.75M695.5 1090.81h1.75M700 1090.81h1.75M701.5 1090.81h1.75M704.5 1090.81h1.75M719.5 1090.81h1.75M737.5 1090.81h1.75M764.5 1090.81h1.75M779.5 1090.81h1.75M785.5 1090.81h1.75M802 1090.81h1.75M805 1090.81h1.75M521.5 1116.87h1.75M571 1116.87h1.75M586 1116.87h1.75M596.5 1116.87h1.75M607 1116.87h1.75M703 1116.87h1.75M706 1116.87h1.75M713.5 1116.87h1.75M718 1116.87h1.75M727 1116.87h1.75M758.5 1116.87h1.75M766 1116.87h1.75M815.5 1116.87h1.75M820 1116.87h1.75M632.5 1142.93h1.75M668.5 1142.93h1.75M680.5 1142.93h1.75M697 1142.93h1.75M706 1142.93h1.75M716.5 1142.93h1.75M724 1142.93h1.75M728.5 1142.93h1.75M752.5 1142.93h1.75M757 1142.93h1.75M778 1142.93h1.75M785.5 1142.93h1.75M788.5 1142.93h1.75M790 1142.93h1.75M797.5 1142.93h1.75M818.5 1142.93h1.75M820 1142.93h1.75M506.5 1168.99h1.75M521.5 1168.99h1.75M560.5 1168.99h1.75M641.5 1168.99h1.75M673 1168.99h1.75M677.5 1168.99h1.75M679 1168.99h1.75M721 1168.99h1.75M730 1168.99h1.75M731.5 1168.99h1.75M745 1168.99h1.75M773.5 1168.99h1.75M775 1168.99h1.75M790 1168.99h1.75" stroke="#c6d4e8" stroke-width="26.3" fill="none"/>
<path d="M502 752.03h1.75M509.5 752.03h1.75M545.5 752.03h1.75M560.5 752.03h1.75M566.5 752.03h1.75M601 752.03h1.75M632.5 752.03h1.75M662.5 752.03h1.75M676 752.03h1.75M677.5 752.03h1.75M692.5 752.03h1.75M727 752.03h1.75M776.5 752.03h1.75M796 752.03h1.75M806.5 752.03h1.75M809.5 752.03h1.75M818.5 752.03h1.75M511 778.09h1.75M515.5 778.09h1.75M520 778.09h1.75M548.5 778.09h1.75M550 778.09h1.75M553 778.09h1.75M590.5 778.09h1.75M617.5 778.09h1.75M640 778.09h1.75M641.5 778.09h1.75M644.5 778.09h1.75M658 778.09h1.75M709 778.09h1.75M713.5 778.09h1.75M722.5 778.09h1.75M730 778.09h1.75M754 778.09h1.75M758.5 778.09h1.75M812.5 778.09h1.75M823 778.09h1.75M511 804.15h1.75M529 804.15h1.75M563.5 804.15h1.75M580 804.15h1.75M593.5 804.15h1.75M598 804.15h1.75M614.5 804.15h1.75M625 804.15h1.75M634 804.15h1.75M658 804.15h1.75M662.5 804.15h1.75M692.5 804.15h1.75M694 804.15h1.75M700 804.15h1.75M706 804.15h1.75M719.5 804.15h1.75M803.5 804.15h1.75M818.5 804.15h1.75M503.5 830.21h1.75M523 830.21h1.75M530.5 830.21h1.75M560.5 830.21h1.75M587.5 830.21h1.75M608.5 830.21h1.75M629.5 830.21h1.75M632.5 830.21h1.75M640 830.21h1.75M659.5 830.21h1.75M664 830.21h1.75M728.5 830.21h1.75M730 830.21h1.75M758.5 830.21h1.75M772 830.21h1.75M796 830.21h1.75M823 830.21h1.75M535 856.27h1.75M539.5 856.27h1.75M547 856.27h1.75M580 856.27h1.75M583 856.27h1.75M586 856.27h1.75M587.5 856.27h1.75M604 856.27h1.75M629.5 856.27h1.75M649 856.27h1.75M661 856.27h1.75M703 856.27h1.75M715 856.27h1.75M742 856.27h1.75M787 856.27h1.75M790 856.27h1.75M791.5 856.27h1.75M805 856.27h1.75M515.5 882.33h1.75M529 882.33h1.75M550 882.33h1.75M578.5 882.33h1.75M586 882.33h1.75M611.5 882.33h1.75M619 882.33h1.75M628 882.33h1.75M629.5 882.33h1.75M632.5 882.33h1.75M655 882.33h1.75M707.5 882.33h1.75M710.5 882.33h1.75M712 882.33h1.75M742 882.33h1.75M743.5 882.33h1.75M788.5 882.33h1.75M805 882.33h1.75M806.5 882.33h1.75M818.5 882.33h1.75M506.5 908.39h1.75M508 908.39h1.75M530.5 908.39h1.75M563.5 908.39h1.75M598 908.39h1.75M608.5 908.39h1.75M631 908.39h1.75M638.5 908.39h1.75M644.5 908.39h1.75M668.5 908.39h1.75M670 908.39h1.75M680.5 908.39h1.75M682 908.39h1.75M683.5 908.39h1.75M710.5 908.39h1.75M728.5 908.39h1.75M787 908.39h1.75M803.5 908.39h1.75M805 908.39h1.75M812.5 908.39h1.75M508 934.45h1.75M521.5 934.45h1.75M523 934.45h1.75M541 934.45h1.75M611.5 934.45h1.75M638.5 934.45h1.75M659.5 934.45h1.75M664 934.45h1.75M665.5 934.45h1.75M697 934.45h1.75M712 934.45h1.75M719.5 934.45h1.75M730 934.45h1.75M751 934.45h1.75M769 934.45h1.75M794.5 934.45h1.75M820 934.45h1.75M520 960.51h1.75M527.5 960.51h1.75M532 960.51h1.75M548.5 960.51h1.75M587.5 960.51h1.75M601 960.51h1.75M617.5 960.51h1.75M619 960.51h1.75M623.5 960.51h1.75M641.5 960.51h1.75M644.5 960.51h1.75M671.5 960.51h1.75M719.5 960.51h1.75M731.5 960.51h1.75M757 960.51h1.75M764.5 960.51h1.75M512.5 986.57h1.75M514 986.57h1.75M539.5 986.57h1.75M578.5 986.57h1.75M608.5 986.57h1.75M649 986.57h1.75M718 986.57h1.75M722.5 986.57h1.75M731.5 986.57h1.75M742 986.57h1.75M764.5 986.57h1.75M784 986.57h1.75M818.5 986.57h1.75M503.5 1012.63h1.75M563.5 1012.63h1.75M584.5 1012.63h1.75M590.5 1012.63h1.75M616 1012.63h1.75M622 1012.63h1.75M641.5 1012.63h1.75M658 1012.63h1.75M671.5 1012.63h1.75M686.5 1012.63h1.75M706 1012.63h1.75M781 1012.63h1.75M808 1012.63h1.75M502 1038.69h1.75M524.5 1038.69h1.75M527.5 1038.69h1.75M634 1038.69h1.75M670 1038.69h1.75M683.5 1038.69h1.75M698.5 1038.69h1.75M715 1038.69h1.75M743.5 1038.69h1.75M746.5 1038.69h1.75M757 1038.69h1.75M775 1038.69h1.75M779.5 1038.69h1.75M785.5 1038.69h1.75M791.5 1038.69h1.75M796 1038.69h1.75M797.5 1038.69h1.75M524.5 1064.75h1.75M568 1064.75h1.75M578.5 1064.75h1.75M698.5 1064.75h1.75M715 1064.75h1.75M722.5 1064.75h1.75M727 1064.75h1.75M731.5 1064.75h1.75M733 1064.75h1.75M752.5 1064.75h1.75M754 1064.75h1.75M757 1064.75h1.75M794.5 1064.75h1.75M799 1064.75h1.75M503.5 1090.81h1.75M515.5 1090.81h1.75M518.5 1090.81h1.75M560.5 1090.81h1.75M581.5 1090.81h1.75M586 1090.81h1.75M589 1090.81h1.75M598 1090.81h1.75M601 1090.81h1.75M629.5 1090.81h1.75M640 1090.81h1.75M650.5 1090.81h1.75M653.5 1090.81h1.75M659.5 1090.81h1.75M662.5 1090.81h1.75M679 1090.81h1.75M721 1090.81h1.75M728.5 1090.81h1.75M743.5 1090.81h1.75M782.5 1090.81h1.75M796 1090.81h1.75M799 1090.81h1.75M806.5 1090.81h1.75M817 1090.81h1.75M515.5 1116.87h1.75M536.5 1116.87h1.75M548.5 1116.87h1.75M553 1116.87h1.75M557.5 1116.87h1.75M605.5 1116.87h1.75M610 1116.87h1.75M646 1116.87h1.75M656.5 1116.87h1.75M658 1116.87h1.75M665.5 1116.87h1.75M691 1116.87h1.75M701.5 1116.87h1.75M715 1116.87h1.75M742 1116.87h1.75M743.5 1116.87h1.75M760 1116.87h1.75M787 1116.87h1.75M788.5 1116.87h1.75M802 1116.87h1.75M508 1142.93h1.75M551.5 1142.93h1.75M640 1142.93h1.75M664 1142.93h1.75M682 1142.93h1.75M700 1142.93h1.75M722.5 1142.93h1.75M767.5 1142.93h1.75M775 1142.93h1.75M776.5 1142.93h1.75M793 1142.93h1.75M796 1142.93h1.75M817 1142.93h1.75M821.5 1142.93h1.75M512.5 1168.99h1.75M530.5 1168.99h1.75M551.5 1168.99h1.75M586 1168.99h1.75M587.5 1168.99h1.75M596.5 1168.99h1.75M611.5 1168.99h1.75M638.5 1168.99h1.75M668.5 1168.99h1.75M676 1168.99h1.75M685 1168.99h1.75M695.5 1168.99h1.75M713.5 1168.99h1.75M715 1168.99h1.75M742 1168.99h1.75M761.5 1168.99h1.75M800.5 1168.99h1.75M809.5 1168.99h1.75" stroke="#d7e1ef" stroke-width="26.3" fill="none"/>
<path d="M511 752.03h1.75M536.5 752.03h1.75M542.5 752.03h1.75M550 752.03h1.75M551.5 752.03h1.75M553 752.03h1.75M596.5 752.03h1.75M613 752.03h1.75M617.5 752.03h1.75M623.5 752.03h1.75M680.5 752.03h1.75M698.5 752.03h1.75M703 752.03h1.75M719.5 752.03h1.75M721 752.03h1.75M743.5 752.03h1.75M748 752.03h1.75M761.5 752.03h1.75M767.5 752.03h1.75M800.5 752.03h1.75M803.5 752.03h1.75M815.5 752.03h1.75M817 752.03h1.75M820 752.03h1.75M503.5 778.09h1.75M517 778.09h1.75M518.5 778.09h1.75M532 778.09h1.75M533.5 778.09h1.75M568 778.09h1.75M575.5 778.09h1.75M595 778.09h1.75M604 778.09h1.75M610 778.09h1.75M620.5 778.09h1.75M623.5 778.09h1.75M625 778.09h1.75M647.5 778.09h1.75M655 778.09h1.75M659.5 778.09h1.75M688 778.09h1.75M692.5 778.09h1.75M694 778.09h1.75M700 778.09h1.75M704.5 778.09h1.75M721 778.09h1.75M742 778.09h1.75M746.5 778.09h1.75M751 778.09h1.75M757 778.09h1.75M772 778.09h1.75M793 778.09h1.75M815.5 778.09h1.75M562 804.15h1.75M569.5 804.15h1.75M571 804.15h1.75M587.5 804.15h1.75M596.5 804.15h1.75M617.5 804.15h1.75M622 804.15h1.75M623.5 804.15h1.75M643 804.15h1.75M683.5 804.15h1.75M685 804.15h1.75M701.5 804.15h1.75M755.5 804.15h1.75M766 804.15h1.75M790 804.15h1.75M793 804.15h1.75M800.5 804.15h1.75M802 804.15h1.75M824.5 804.15h1.75M538 830.21h1.75M580 830.21h1.75M622 830.21h1.75M625 830.21h1.75M631 830.21h1.75M668.5 830.21h1.75M670 830.21h1.75M698.5 830.21h1.75M703 830.21h1.75M706 830.21h1.75M715 830.21h1.75M760 830.21h1.75M773.5 830.21h1.75M778 830.21h1.75M785.5 830.21h1.75M502 856.27h1.75M508 856.27h1.75M536.5 856.27h1.75M557.5 856.27h1.75M584.5 856.27h1.75M605.5 856.27h1.75M643 856.27h1.75M671.5 856.27h1.75M697 856.27h1.75M766 856.27h1.75M767.5 856.27h1.75M773.5 856.27h1.75M802 856.27h1.75M806.5 856.27h1.75M559 882.33h1.75M562 882.33h1.75M563.5 882.33h1.75M581.5 882.33h1.75M623.5 882.33h1.75M634 882.33h1.75M647.5 882.33h1.75M679 882.33h1.75M719.5 882.33h1.75M721 882.33h1.75M731.5 882.33h1.75M775 882.33h1.75M784 882.33h1.75M791.5 882.33h1.75M802 882.33h1.75M803.5 882.33h1.75M502 908.39h1.75M532 908.39h1.75M533.5 908.39h1.75M542.5 908.39h1.75M545.5 908.39h1.75M550 908.39h1.75M568 908.39h1.75M590.5 908.39h1.75M592 908.39h1.75M595 908.39h1.75M628 908.39h1.75M634 908.39h1.75M721 908.39h1.75M749.5 908.39h1.75M751 908.39h1.75M784 908.39h1.75M814 908.39h1.75M503.5 934.45h1.75M526 934.45h1.75M527.5 934.45h1.75M530.5 934.45h1.75M544 934.45h1.75M560.5 934.45h1.75M572.5 934.45h1.75M575.5 934.45h1.75M587.5 934.45h1.75M610 934.45h1.75M619 934.45h1.75M622 934.45h1.75M653.5 934.45h1.75M667 934.45h1.75M668.5 934.45h1.75M724 934.45h1.75M733 934.45h1.75M755.5 934.45h1.75M764.5 934.45h1.75M824.5 934.45h1.75M502 960.51h1.75M553 960.51h1.75M577 960.51h1.75M602.5 960.51h1.75M638.5 960.51h1.75M662.5 960.51h1.75M664 960.51h1.75M670 960.51h1.75M676 960.51h1.75M685 960.51h1.75M689.5 960.51h1.75M697 960.51h1.75M703 960.51h1.75M722.5 960.51h1.75M730 960.51h1.75M734.5 960.51h1.75M740.5 960.51h1.75M742 960.51h1.75M743.5 960.51h1.75M769 960.51h1.75M773.5 960.51h1.75M776.5 960.51h1.75M779.5 960.51h1.75M805 960.51h1.75M818.5 960.51h1.75M544 986.57h1.75M547 986.57h1.75M553 986.57h1.75M571 986.57h1.75M628 986.57h1.75M662.5 986.57h1.75M668.5 986.57h1.75M701.5 986.57h1.75M740.5 986.57h1.75M748 986.57h1.75M749.5 986.57h1.75M782.5 986.57h1.75M785.5 986.57h1.75M803.5 986.57h1.75M508 1012.63h1.75M521.5 1012.63h1.75M538 1012.63h1.75M539.5 1012.63h1.75M542.5 1012.63h1.75M560.5 1012.63h1.75M568 1012.63h1.75M571 1012.63h1.75M583 1012.63h1.75M587.5 1012.63h1.75M592 1012.63h1.75M596.5 1012.63h1.75M602.5 1012.63h1.75M620.5 1012.63h1.75M646 1012.63h1.75M664 1012.63h1.75M701.5 1012.63h1.75M707.5 1012.63h1.75M721 1012.63h1.75M725.5 1012.63h1.75M730 1012.63h1.75M775 1012.63h1.75M785.5 1012.63h1.75M787 1012.63h1.75M814 1012.63h1.75M820 1012.63h1.75M823 1012.63h1.75M538 1038.69h1.75M544 1038.69h1.75M547 1038.69h1.75M572.5 1038.69h1.75M577 1038.69h1.75M583 1038.69h1.75M584.5 1038.69h1.75M593.5 1038.69h1.75M604 1038.69h1.75M611.5 1038.69h1.75M617.5 1038.69h1.75M655 1038.69h1.75M676 1038.69h1.75M677.5 1038.69h1.75M706 1038.69h1.75M707.5 1038.69h1.75M709 1038.69h1.75M710.5 1038.69h1.75M712 1038.69h1.75M724 1038.69h1.75M749.5 1038.69h1.75M751 1038.69h1.75M815.5 1038.69h1.75M818.5 1038.69h1.75M823 1038.69h1.75M509.5 1064.75h1.75M512.5 1064.75h1.75M514 1064.75h1.75M538 1064.75h1.75M539.5 1064.75h1.75M569.5 1064.75h1.75M599.5 1064.75h1.75M622 1064.75h1.75M658 1064.75h1.75M676 1064.75h1.75M721 1064.75h1.75M739 1064.75h1.75M743.5 1064.75h1.75M760 1064.75h1.75M770.5 1064.75h1.75M779.5 1064.75h1.75M782.5 1064.75h1.75M793 1064.75h1.75M796 1064.75h1.75M797.5 1064.75h1.75M800.5 1064.75h1.75M506.5 1090.81h1.75M523 1090.81h1.75M526 1090.81h1.75M527.5 1090.81h1.75M563.5 1090.81h1.75M599.5 1090.81h1.75M610 1090.81h1.75M632.5 1090.81h1.75M661 1090.81h1.75M668.5 1090.81h1.75M680.5 1090.81h1.75M688 1090.81h1.75M706 1090.81h1.75M712 1090.81h1.75M727 1090.81h1.75M751 1090.81h1.75M755.5 1090.81h1.75M761.5 1090.81h1.75M767.5 1090.81h1.75M781 1090.81h1.75M788.5 1090.81h1.75M808 1090.81h1.75M502 1116.87h1.75M545.5 1116.87h1.75M547 1116.87h1.75M565 1116.87h1.75M569.5 1116.87h1.75M584.5 1116.87h1.75M631 1116.87h1.75M641.5 1116.87h1.75M712 1116.87h1.75M719.5 1116.87h1.75M722.5 1116.87h1.75M761.5 1116.87h1.75M770.5 1116.87h1.75M775 1116.87h1.75M776.5 1116.87h1.75M782.5 1116.87h1.75M784 1116.87h1.75M797.5 1116.87h1.75M799 1116.87h1.75M818.5 1116.87h1.75M533.5 1142.93h1.75M542.5 1142.93h1.75M553 1142.93h1.75M566.5 1142.93h1.75M578.5 1142.93h1.75M587.5 1142.93h1.75M596.5 1142.93h1.75M623.5 1142.93h1.75M631 1142.93h1.75M673 1142.93h1.75M674.5 1142.93h1.75M676 1142.93h1.75M685 1142.93h1.75M686.5 1142.93h1.75M701.5 1142.93h1.75M739 1142.93h1.75M746.5 1142.93h1.75M751 1142.93h1.75M760 1142.93h1.75M766 1142.93h1.75M772 1142.93h1.75M781 1142.93h1.75M802 1142.93h1.75M815.5 1142.93h1.75M824.5 1142.93h1.75M527.5 1168.99h1.75M542.5 1168.99h1.75M563.5 1168.99h1.75M572.5 1168.99h1.75M575.5 1168.99h1.75M577 1168.99h1.75M578.5 1168.99h1.75M580 1168.99h1.75M593.5 1168.99h1.75M622 1168.99h1.75M635.5 1168.99h1.75M680.5 1168.99h1.75M700 1168.99h1.75M701.5 1168.99h1.75M722.5 1168.99h1.75M743.5 1168.99h1.75M757 1168.99h1.75M778 1168.99h1.75M784 1168.99h1.75M785.5 1168.99h1.75M787 1168.99h1.75M818.5 1168.99h1.75" stroke="#eaeff6" stroke-width="26.3" fill="none"/>
<path d="M515.5 752.03h1.75M523 752.03h1.75M541 752.03h1.75M565 752.03h1.75M575.5 752.03h1.75M593.5 752.03h1.75M608.5 752.03h1.75M625 752.03h1.75M634 752.03h1.75M641.5 752.03h1.75M649 752.03h1.75M664 752.03h1.75M683.5 752.03h1.75M686.5 752.03h1.75M694 752.03h1.75M695.5 752.03h1.75M713.5 752.03h1.75M722.5 752.03h1.75M749.5 752.03h1.75M775 752.03h1.75M787 752.03h1.75M791.5 752.03h1.75M808 752.03h1.75M502 778.09h1.75M529 778.09h1.75M565 778.09h1.75M593.5 778.09h1.75M599.5 778.09h1.75M608.5 778.09h1.75M613 778.09h1.75M626.5 778.09h1.75M661 778.09h1.75M670 778.09h1.75M683.5 778.09h1.75M686.5 778.09h1.75M695.5 778.09h1.75M719.5 778.09h1.75M733 778.09h1.75M776.5 778.09h1.75M805 778.09h1.75M806.5 778.09h1.75M814 778.09h1.75M509.5 804.15h1.75M544 804.15h1.75M547 804.15h1.75M550 804.15h1.75M554.5 804.15h1.75M568 804.15h1.75M577 804.15h1.75M578.5 804.15h1.75M590.5 804.15h1.75M619 804.15h1.75M652 804.15h1.75M653.5 804.15h1.75M670 804.15h1.75M674.5 804.15h1.75M680.5 804.15h1.75M697 804.15h1.75M740.5 804.15h1.75M749.5 804.15h1.75M808 804.15h1.75M823 804.15h1.75M502 830.21h1.75M524.5 830.21h1.75M545.5 830.21h1.75M551.5 830.21h1.75M583 830.21h1.75M611.5 830.21h1.75M638.5 830.21h1.75M650.5 830.21h1.75M662.5 830.21h1.75M674.5 830.21h1.75M677.5 830.21h1.75M709 830.21h1.75M712 830.21h1.75M716.5 830.21h1.75M757 830.21h1.75M763 830.21h1.75M764.5 830.21h1.75M790 830.21h1.75M797.5 830.21h1.75M817 830.21h1.75M505 856.27h1.75M541 856.27h1.75M560.5 856.27h1.75M566.5 856.27h1.75M598 856.27h1.75M622 856.27h1.75M659.5 856.27h1.75M665.5 856.27h1.75M680.5 856.27h1.75M685 856.27h1.75M707.5 856.27h1.75M712 856.27h1.75M713.5 856.27h1.75M722.5 856.27h1.75M749.5 856.27h1.75M751 856.27h1.75M752.5 856.27h1.75M754 856.27h1.75M758.5 856.27h1.75M769 856.27h1.75M793 856.27h1.75M799 856.27h1.75M808 856.27h1.75M824.5 856.27h1.75M506.5 882.33h1.75M509.5 882.33h1.75M541 882.33h1.75M569.5 882.33h1.75M572.5 882.33h1.75M583 882.33h1.75M614.5 882.33h1.75M625 882.33h1.75M638.5 882.33h1.75M700 882.33h1.75M730 882.33h1.75M757 882.33h1.75M769 882.33h1.75M796 882.33h1.75M799 882.33h1.75M526 908.39h1.75M529 908.39h1.75M575.5 908.39h1.75M586 908.39h1.75M601 908.39h1.75M602.5 908.39h1.75M640 908.39h1.75M643 908.39h1.75M664 908.39h1.75M671.5 908.39h1.75M674.5 908.39h1.75M676 908.39h1.75M677.5 908.39h1.75M691 908.39h1.75M694 908.39h1.75M704.5 908.39h1.75M730 908.39h1.75M752.5 908.39h1.75M755.5 908.39h1.75M796 908.39h1.75M542.5 934.45h1.75M548.5 934.45h1.75M550 934.45h1.75M596.5 934.45h1.75M604 934.45h1.75M607 934.45h1.75M629.5 934.45h1.75M655 934.45h1.75M661 934.45h1.75M688 934.45h1.75M727 934.45h1.75M737.5 934.45h1.75M778 934.45h1.75M782.5 934.45h1.75M785.5 934.45h1.75M787 934.45h1.75M790 934.45h1.75M796 934.45h1.75M821.5 934.45h1.75M503.5 960.51h1.75M512.5 960.51h1.75M514 960.51h1.75M544 960.51h1.75M556 960.51h1.75M578.5 960.51h1.75M593.5 960.51h1.75M598 960.51h1.75M650.5 960.51h1.75M652 960.51h1.75M712 960.51h1.75M761.5 960.51h1.75M767.5 960.51h1.75M797.5 960.51h1.75M824.5 960.51h1.75M502 986.57h1.75M506.5 986.57h1.75M524.5 986.57h1.75M535 986.57h1.75M550 986.57h1.75M598 986.57h1.75M602.5 986.57h1.75M617.5 986.57h1.75M631 986.57h1.75M637 986.57h1.75M640 986.57h1.75M647.5 986.57h1.75M683.5 986.57h1.75M685 986.57h1.75M704.5 986.57h1.75M707.5 986.57h1.75M728.5 986.57h1.75M746.5 986.57h1.75M769 986.57h1.75M797.5 986.57h1.75M502 1012.63h1.75M535 1012.63h1.75M547 1012.63h1.75M556 1012.63h1.75M604 1012.63h1.75M625 1012.63h1.75M629.5 1012.63h1.75M647.5 1012.63h1.75M650.5 1012.63h1.75M655 1012.63h1.75M668.5 1012.63h1.75M674.5 1012.63h1.75M677.5 1012.63h1.75M697 1012.63h1.75M698.5 1012.63h1.75M704.5 1012.63h1.75M713.5 1012.63h1.75M733 1012.63h1.75M737.5 1012.63h1.75M740.5 1012.63h1.75M763 1012.63h1.75M821.5 1012.63h1.75M509.5 1038.69h1.75M517 1038.69h1.75M520 1038.69h1.75M548.5 1038.69h1.75M568 1038.69h1.75M580 1038.69h1.75M596.5 1038.69h1.75M661 1038.69h1.75M665.5 1038.69h1.75M679 1038.69h1.75M703 1038.69h1.75M728.5 1038.69h1.75M736 1038.69h1.75M754 1038.69h1.75M755.5 1038.69h1.75M764.5 1038.69h1.75M802 1038.69h1.75M506.5 1064.75h1.75M536.5 1064.75h1.75M586 1064.75h1.75M608.5 1064.75h1.75M623.5 1064.75h1.75M632.5 1064.75h1.75M656.5 1064.75h1.75M689.5 1064.75h1.75M709 1064.75h1.75M745 1064.75h1.75M749.5 1064.75h1.75M767.5 1064.75h1.75M514 1090.81h1.75M536.5 1090.81h1.75M545.5 1090.81h1.75M547 1090.81h1.75M596.5 1090.81h1.75M620.5 1090.81h1.75M628 1090.81h1.75M647.5 1090.81h1.75M658 1090.81h1.75M664 1090.81h1.75M665.5 1090.81h1.75M674.5 1090.81h1.75M691 1090.81h1.75M707.5 1090.81h1.75M718 1090.81h1.75M740.5 1090.81h1.75M749.5 1090.81h1.75M791.5 1090.81h1.75M814 1090.81h1.75M823 1090.81h1.75M508 1116.87h1.75M529 1116.87h1.75M530.5 1116.87h1.75M538 1116.87h1.75M575.5 1116.87h1.75M590.5 1116.87h1.75M593.5 1116.87h1.75M601 1116.87h1.75M632.5 1116.87h1.75M638.5 1116.87h1.75M640 1116.87h1.75M643 1116.87h1.75M659.5 1116.87h1.75M673 1116.87h1.75M677.5 1116.87h1.75M707.5 1116.87h1.75M721 1116.87h1.75M731.5 1116.87h1.75M736 1116.87h1.75M740.5 1116.87h1.75M751 1116.87h1.75M752.5 1116.87h1.75M764.5 1116.87h1.75M769 1116.87h1.75M785.5 1116.87h1.75M794.5 1116.87h1.75M808 1116.87h1.75M814 1116.87h1.75M823 1116.87h1.75M530.5 1142.93h1.75M536.5 1142.93h1.75M548.5 1142.93h1.75M557.5 1142.93h1.75M571 1142.93h1.75M583 1142.93h1.75M586 1142.93h1.75M610 1142.93h1.75M658 1142.93h1.75M683.5 1142.93h1.75M703 1142.93h1.75M715 1142.93h1.75M749.5 1142.93h1.75M769 1142.93h1.75M799 1142.93h1.75M808 1142.93h1.75M503.5 1168.99h1.75M508 1168.99h1.75M536.5 1168.99h1.75M569.5 1168.99h1.75M584.5 1168.99h1.75M601 1168.99h1.75M613 1168.99h1.75M616 1168.99h1.75M617.5 1168.99h1.75M632.5 1168.99h1.75M674.5 1168.99h1.75M692.5 1168.99h1.75M704.5 1168.99h1.75M734.5 1168.99h1.75M739 1168.99h1.75M748 1168.99h1.75M749.5 1168.99h1.75M763 1168.99h1.75M782.5 1168.99h1.75M817 1168.99h1.75M823 1168.99h1.75" stroke="#ffffff" stroke-width="26.3" fill="none"/>
<path d="M526 752.03h1.75M530.5 752.03h1.75M532 752.03h1.75M562 752.03h1.75M595 752.03h1.75M598 752.03h1.75M611.5 752.03h1.75M629.5 752.03h1.75M647.5 752.03h1.75M655 752.03h1.75M670 752.03h1.75M674.5 752.03h1.75M682 752.03h1.75M718 752.03h1.75M737.5 752.03h1.75M739 752.03h1.75M751 752.03h1.75M760 752.03h1.75M763 752.03h1.75M766 752.03h1.75M778 752.03h1.75M781 752.03h1.75M782.5 752.03h1.75M794.5 752.03h1.75M799 752.03h1.75M509.5 778.09h1.75M523 778.09h1.75M526 778.09h1.75M530.5 778.09h1.75M580 778.09h1.75M598 778.09h1.75M607 778.09h1.75M632.5 778.09h1.75M662.5 778.09h1.75M674.5 778.09h1.75M701.5 778.09h1.75M710.5 778.09h1.75M715 778.09h1.75M727 778.09h1.75M739 778.09h1.75M749.5 778.09h1.75M775 778.09h1.75M785.5 778.09h1.75M787 778.09h1.75M796 778.09h1.75M820 778.09h1.75M503.5 804.15h1.75M520 804.15h1.75M530.5 804.15h1.75M533.5 804.15h1.75M536.5 804.15h1.75M538 804.15h1.75M541 804.15h1.75M575.5 804.15h1.75M604 804.15h1.75M629.5 804.15h1.75M631 804.15h1.75M632.5 804.15h1.75M638.5 804.15h1.75M641.5 804.15h1.75M647.5 804.15h1.75M655 804.15h1.75M656.5 804.15h1.75M704.5 804.15h1.75M709 804.15h1.75M715 804.15h1.75M737.5 804.15h1.75M761.5 804.15h1.75M788.5 804.15h1.75M794.5 804.15h1.75M809.5 804.15h1.75M814 804.15h1.75M821.5 804.15h1.75M506.5 830.21h1.75M532 830.21h1.75M539.5 830.21h1.75M590.5 830.21h1.75M628 830.21h1.75M652 830.21h1.75M704.5 830.21h1.75M722.5 830.21h1.75M770.5 830.21h1.75M776.5 830.21h1.75M802 830.21h1.75M805 830.21h1.75M824.5 830.21h1.75M520 856.27h1.75M526 856.27h1.75M533.5 856.27h1.75M544 856.27h1.75M601 856.27h1.75M613 856.27h1.75M617.5 856.27h1.75M631 856.27h1.75M638.5 856.27h1.75M677.5 856.27h1.75M682 856.27h1.75M691 856.27h1.75M698.5 856.27h1.75M737.5 856.27h1.75M775 856.27h1.75M779.5 856.27h1.75M781 856.27h1.75M800.5 856.27h1.75M817 856.27h1.75M505 882.33h1.75M533.5 882.33h1.75M536.5 882.33h1.75M547 882.33h1.75M551.5 882.33h1.75M589 882.33h1.75M605.5 882.33h1.75M613 882.33h1.75M665.5 882.33h1.75M670 882.33h1.75M676 882.33h1.75M680.5 882.33h1.75M691 882.33h1.75M698.5 882.33h1.75M706 882.33h1.75M709 882.33h1.75M740.5 882.33h1.75M746.5 882.33h1.75M752.5 882.33h1.75M755.5 882.33h1.75M764.5 882.33h1.75M767.5 882.33h1.75M782.5 882.33h1.75M790 882.33h1.75M794.5 882.33h1.75M512.5 908.39h1.75M524.5 908.39h1.75M559 908.39h1.75M584.5 908.39h1.75M589 908.39h1.75M605.5 908.39h1.75M611.5 908.39h1.75M616 908.39h1.75M641.5 908.39h1.75M686.5 908.39h1.75M716.5 908.39h1.75M736 908.39h1.75M746.5 908.39h1.75M772 908.39h1.75M782.5 908.39h1.75M799 908.39h1.75M806.5 908.39h1.75M586 934.45h1.75M589 934.45h1.75M601 934.45h1.75M608.5 934.45h1.75M625 934.45h1.75M635.5 934.45h1.75M650.5 934.45h1.75M670 934.45h1.75M674.5 934.45h1.75M683.5 934.45h1.75M704.5 934.45h1.75M707.5 934.45h1.75M734.5 934.45h1.75M752.5 934.45h1.75M757 934.45h1.75M505 960.51h1.75M517 960.51h1.75M535 960.51h1.75M536.5 960.51h1.75M554.5 960.51h1.75M563.5 960.51h1.75M586 960.51h1.75M595 960.51h1.75M620.5 960.51h1.75M634 960.51h1.75M640 960.51h1.75M643 960.51h1.75M674.5 960.51h1.75M682 960.51h1.75M688 960.51h1.75M746.5 960.51h1.75M749.5 960.51h1.75M812.5 960.51h1.75M817 960.51h1.75M820 960.51h1.75M526 986.57h1.75M529 986.57h1.75M565 986.57h1.75M596.5 986.57h1.75M626.5 986.57h1.75M652 986.57h1.75M653.5 986.57h1.75M694 986.57h1.75M710.5 986.57h1.75M716.5 986.57h1.75M736 986.57h1.75M761.5 986.57h1.75M767.5 986.57h1.75M779.5 986.57h1.75M787 986.57h1.75M793 986.57h1.75M541 1012.63h1.75M562 1012.63h1.75M607 1012.63h1.75M610 1012.63h1.75M614.5 1012.63h1.75M632.5 1012.63h1.75M661 1012.63h1.75M673 1012.63h1.75M718 1012.63h1.75M719.5 1012.63h1.75M749.5 1012.63h1.75M773.5 1012.63h1.75M800.5 1012.63h1.75M806.5 1012.63h1.75M505 1038.69h1.75M559 1038.69h1.75M571 1038.69h1.75M616 1038.69h1.75M625 1038.69h1.75M635.5 1038.69h1.75M652 1038.69h1.75M695.5 1038.69h1.75M716.5 1038.69h1.75M748 1038.69h1.75M769 1038.69h1.75M770.5 1038.69h1.75M784 1038.69h1.75M812.5 1038.69h1.75M814 1038.69h1.75M529 1064.75h1.75M541 1064.75h1.75M550 1064.75h1.75M551.5 1064.75h1.75M554.5 1064.75h1.75M566.5 1064.75h1.75M577 1064.75h1.75M596.5 1064.75h1.75M607 1064.75h1.75M631 1064.75h1.75M634 1064.75h1.75M635.5 1064.75h1.75M637 1064.75h1.75M647.5 1064.75h1.75M661 1064.75h1.75M694 1064.75h1.75M763 1064.75h1.75M778 1064.75h1.75M784 1064.75h1.75M521.5 1090.81h1.75M533.5 1090.81h1.75M538 1090.81h1.75M539.5 1090.81h1.75M541 1090.81h1.75M542.5 1090.81h1.75M554.5 1090.81h1.75M556 1090.81h1.75M565 1090.81h1.75M572.5 1090.81h1.75M611.5 1090.81h1.75M638.5 1090.81h1.75M641.5 1090.81h1.75M646 1090.81h1.75M671.5 1090.81h1.75M692.5 1090.81h1.75M703 1090.81h1.75M709 1090.81h1.75M734.5 1090.81h1.75M772 1090.81h1.75M776.5 1090.81h1.75M778 1090.81h1.75M784 1090.81h1.75M787 1090.81h1.75M793 1090.81h1.75M506.5 1116.87h1.75M517 1116.87h1.75M559 1116.87h1.75M560.5 1116.87h1.75M562 1116.87h1.75M581.5 1116.87h1.75M604 1116.87h1.75M608.5 1116.87h1.75M617.5 1116.87h1.75M620.5 1116.87h1.75M625 1116.87h1.75M650.5 1116.87h1.75M652 1116.87h1.75M664 1116.87h1.75M668.5 1116.87h1.75M676 1116.87h1.75M679 1116.87h1.75M680.5 1116.87h1.75M692.5 1116.87h1.75M694 1116.87h1.75M725.5 1116.87h1.75M730 1116.87h1.75M734.5 1116.87h1.75M749.5 1116.87h1.75M757 1116.87h1.75M778 1116.87h1.75M824.5 1116.87h1.75M512.5 1142.93h1.75M547 1142.93h1.75M559 1142.93h1.75M593.5 1142.93h1.75M608.5 1142.93h1.75M622 1142.93h1.75M625 1142.93h1.75M634 1142.93h1.75M661 1142.93h1.75M736 1142.93h1.75M509.5 1168.99h1.75M515.5 1168.99h1.75M523 1168.99h1.75M538 1168.99h1.75M547 1168.99h1.75M581.5 1168.99h1.75M590.5 1168.99h1.75M599.5 1168.99h1.75M604 1168.99h1.75M605.5 1168.99h1.75M607 1168.99h1.75M625 1168.99h1.75M626.5 1168.99h1.75M628 1168.99h1.75M631 1168.99h1.75M655 1168.99h1.75M661 1168.99h1.75M689.5 1168.99h1.75M697 1168.99h1.75M703 1168.99h1.75M724 1168.99h1.75M737.5 1168.99h1.75M740.5 1168.99h1.75M766 1168.99h1.75M779.5 1168.99h1.75" stroke="#fcf4ed" stroke-width="26.3" fill="none"/>
<path d="M518.5 752.03h1.75M521.5 752.03h1.75M533.5 752.03h1.75M535 752.03h1.75M538 752.03h1.75M554.5 752.03h1.75M557.5 752.03h1.75M559 752.03h1.75M628 752.03h1.75M650.5 752.03h1.75M652 752.03h1.75M665.5 752.03h1.75M667 752.03h1.75M707.5 752.03h1.75M715 752.03h1.75M724 752.03h1.75M725.5 752.03h1.75M736 752.03h1.75M740.5 752.03h1.75M772 752.03h1.75M784 752.03h1.75M812.5 752.03h1.75M611.5 778.09h1.75M637 778.09h1.75M680.5 778.09h1.75M707.5 778.09h1.75M748 778.09h1.75M769 778.09h1.75M781 778.09h1.75M800.5 778.09h1.75M817 778.09h1.75M821.5 778.09h1.75M524.5 804.15h1.75M553 804.15h1.75M601 804.15h1.75M607 804.15h1.75M637 804.15h1.75M667 804.15h1.75M676 804.15h1.75M691 804.15h1.75M695.5 804.15h1.75M712 804.15h1.75M724 804.15h1.75M731.5 804.15h1.75M739 804.15h1.75M743.5 804.15h1.75M745 804.15h1.75M751 804.15h1.75M770.5 804.15h1.75M773.5 804.15h1.75M797.5 804.15h1.75M799 804.15h1.75M817 804.15h1.75M505 830.21h1.75M511 830.21h1.75M514 830.21h1.75M518.5 830.21h1.75M520 830.21h1.75M521.5 830.21h1.75M536.5 830.21h1.75M550 830.21h1.75M557.5 830.21h1.75M562 830.21h1.75M577 830.21h1.75M635.5 830.21h1.75M682 830.21h1.75M686.5 830.21h1.75M692.5 830.21h1.75M725.5 830.21h1.75M733 830.21h1.75M734.5 830.21h1.75M752.5 830.21h1.75M755.5 830.21h1.75M808 830.21h1.75M509.5 856.27h1.75M515.5 856.27h1.75M545.5 856.27h1.75M553 856.27h1.75M574 856.27h1.75M593.5 856.27h1.75M595 856.27h1.75M614.5 856.27h1.75M620.5 856.27h1.75M652 856.27h1.75M658 856.27h1.75M662.5 856.27h1.75M668.5 856.27h1.75M694 856.27h1.75M710.5 856.27h1.75M730 856.27h1.75M736 856.27h1.75M757 856.27h1.75M760 856.27h1.75M770.5 856.27h1.75M797.5 856.27h1.75M823 856.27h1.75M514 882.33h1.75M520 882.33h1.75M542.5 882.33h1.75M566.5 882.33h1.75M673 882.33h1.75M683.5 882.33h1.75M703 882.33h1.75M734.5 882.33h1.75M754 882.33h1.75M760 882.33h1.75M761.5 882.33h1.75M763 882.33h1.75M787 882.33h1.75M797.5 882.33h1.75M800.5 882.33h1.75M808 882.33h1.75M815.5 882.33h1.75M820 882.33h1.75M541 908.39h1.75M554.5 908.39h1.75M562 908.39h1.75M581.5 908.39h1.75M607 908.39h1.75M637 908.39h1.75M712 908.39h1.75M715 908.39h1.75M725.5 908.39h1.75M727 908.39h1.75M739 908.39h1.75M748 908.39h1.75M760 908.39h1.75M781 908.39h1.75M800.5 908.39h1.75M533.5 934.45h1.75M559 934.45h1.75M599.5 934.45h1.75M605.5 934.45h1.75M613 934.45h1.75M641.5 934.45h1.75M677.5 934.45h1.75M682 934.45h1.75M691 934.45h1.75M695.5 934.45h1.75M722.5 934.45h1.75M725.5 934.45h1.75M743.5 934.45h1.75M746.5 934.45h1.75M748 934.45h1.75M749.5 934.45h1.75M761.5 934.45h1.75M763 934.45h1.75M773.5 934.45h1.75M784 934.45h1.75M788.5 934.45h1.75M802 934.45h1.75M808 934.45h1.75M811 934.45h1.75M815.5 934.45h1.75M511 960.51h1.75M521.5 960.51h1.75M524.5 960.51h1.75M526 960.51h1.75M557.5 960.51h1.75M622 960.51h1.75M629.5 960.51h1.75M677.5 960.51h1.75M679 960.51h1.75M707.5 960.51h1.75M724 960.51h1.75M782.5 960.51h1.75M508 986.57h1.75M518.5 986.57h1.75M520 986.57h1.75M532 986.57h1.75M538 986.57h1.75M541 986.57h1.75M593.5 986.57h1.75M599.5 986.57h1.75M638.5 986.57h1.75M641.5 986.57h1.75M655 986.57h1.75M656.5 986.57h1.75M665.5 986.57h1.75M670 986.57h1.75M688 986.57h1.75M689.5 986.57h1.75M691 986.57h1.75M695.5 986.57h1.75M697 986.57h1.75M721 986.57h1.75M725.5 986.57h1.75M730 986.57h1.75M743.5 986.57h1.75M755.5 986.57h1.75M758.5 986.57h1.75M776.5 986.57h1.75M790 986.57h1.75M505 1012.63h1.75M512.5 1012.63h1.75M524.5 1012.63h1.75M529 1012.63h1.75M532 1012.63h1.75M557.5 1012.63h1.75M572.5 1012.63h1.75M599.5 1012.63h1.75M613 1012.63h1.75M623.5 1012.63h1.75M628 1012.63h1.75M634 1012.63h1.75M640 1012.63h1.75M652 1012.63h1.75M683.5 1012.63h1.75M695.5 1012.63h1.75M703 1012.63h1.75M751 1012.63h1.75M802 1012.63h1.75M521.5 1038.69h1.75M536.5 1038.69h1.75M553 1038.69h1.75M560.5 1038.69h1.75M562 1038.69h1.75M563.5 1038.69h1.75M565 1038.69h1.75M587.5 1038.69h1.75M590.5 1038.69h1.75M598 1038.69h1.75M632.5 1038.69h1.75M637 1038.69h1.75M638.5 1038.69h1.75M647.5 1038.69h1.75M668.5 1038.69h1.75M772 1038.69h1.75M776.5 1038.69h1.75M821.5 1038.69h1.75M518.5 1064.75h1.75M520 1064.75h1.75M527.5 1064.75h1.75M581.5 1064.75h1.75M601 1064.75h1.75M602.5 1064.75h1.75M613 1064.75h1.75M619 1064.75h1.75M629.5 1064.75h1.75M638.5 1064.75h1.75M668.5 1064.75h1.75M670 1064.75h1.75M680.5 1064.75h1.75M695.5 1064.75h1.75M710.5 1064.75h1.75M730 1064.75h1.75M764.5 1064.75h1.75M814 1064.75h1.75M512.5 1090.81h1.75M548.5 1090.81h1.75M559 1090.81h1.75M562 1090.81h1.75M566.5 1090.81h1.75M587.5 1090.81h1.75M604 1090.81h1.75M698.5 1090.81h1.75M731.5 1090.81h1.75M773.5 1090.81h1.75M790 1090.81h1.75M797.5 1090.81h1.75M812.5 1090.81h1.75M511 1116.87h1.75M523 1116.87h1.75M532 1116.87h1.75M539.5 1116.87h1.75M541 1116.87h1.75M551.5 1116.87h1.75M568 1116.87h1.75M572.5 1116.87h1.75M580 1116.87h1.75M589 1116.87h1.75M592 1116.87h1.75M613 1116.87h1.75M683.5 1116.87h1.75M704.5 1116.87h1.75M716.5 1116.87h1.75M733 1116.87h1.75M739 1116.87h1.75M748 1116.87h1.75M767.5 1116.87h1.75M773.5 1116.87h1.75M779.5 1116.87h1.75M506.5 1142.93h1.75M514 1142.93h1.75M517 1142.93h1.75M518.5 1142.93h1.75M524.5 1142.93h1.75M544 1142.93h1.75M565 1142.93h1.75M568 1142.93h1.75M575.5 1142.93h1.75M590.5 1142.93h1.75M598 1142.93h1.75M611.5 1142.93h1.75M635.5 1142.93h1.75M652 1142.93h1.75M662.5 1142.93h1.75M689.5 1142.93h1.75M748 1142.93h1.75M517 1168.99h1.75M533.5 1168.99h1.75M535 1168.99h1.75M544 1168.99h1.75M557.5 1168.99h1.75M562 1168.99h1.75M608.5 1168.99h1.75M614.5 1168.99h1.75M664 1168.99h1.75M683.5 1168.99h1.75M698.5 1168.99h1.75M725.5 1168.99h1.75M769 1168.99h1.75M772 1168.99h1.75M799 1168.99h1.75M814 1168.99h1.75M821.5 1168.99h1.75" stroke="#faeade" stroke-width="26.3" fill="none"/>
<path d="M503.5 752.03h1.75M505 752.03h1.75M517 752.03h1.75M520 752.03h1.75M529 752.03h1.75M539.5 752.03h1.75M547 752.03h1.75M604 752.03h1.75M626.5 752.03h1.75M631 752.03h1.75M637 752.03h1.75M704.5 752.03h1.75M706 752.03h1.75M752.5 752.03h1.75M757 752.03h1.75M793 752.03h1.75M821.5 752.03h1.75M506.5 778.09h1.75M524.5 778.09h1.75M572.5 778.09h1.75M605.5 778.09h1.75M643 778.09h1.75M650.5 778.09h1.75M677.5 778.09h1.75M731.5 778.09h1.75M745 778.09h1.75M752.5 778.09h1.75M770.5 778.09h1.75M778 778.09h1.75M506.5 804.15h1.75M517 804.15h1.75M610 804.15h1.75M640 804.15h1.75M646 804.15h1.75M665.5 804.15h1.75M686.5 804.15h1.75M713.5 804.15h1.75M736 804.15h1.75M746.5 804.15h1.75M754 804.15h1.75M757 804.15h1.75M806.5 804.15h1.75M517 830.21h1.75M572.5 830.21h1.75M589 830.21h1.75M616 830.21h1.75M655 830.21h1.75M656.5 830.21h1.75M701.5 830.21h1.75M718 830.21h1.75M719.5 830.21h1.75M754 830.21h1.75M793 830.21h1.75M503.5 856.27h1.75M556 856.27h1.75M572.5 856.27h1.75M637 856.27h1.75M650.5 856.27h1.75M670 856.27h1.75M679 856.27h1.75M686.5 856.27h1.75M701.5 856.27h1.75M704.5 856.27h1.75M721 856.27h1.75M739 856.27h1.75M745 856.27h1.75M778 856.27h1.75M814 856.27h1.75M503.5 882.33h1.75M535 882.33h1.75M545.5 882.33h1.75M554.5 882.33h1.75M568 882.33h1.75M590.5 882.33h1.75M596.5 882.33h1.75M610 882.33h1.75M616 882.33h1.75M622 882.33h1.75M635.5 882.33h1.75M661 882.33h1.75M677.5 882.33h1.75M697 882.33h1.75M728.5 882.33h1.75M733 882.33h1.75M770.5 882.33h1.75M772 882.33h1.75M809.5 882.33h1.75M814 882.33h1.75M821.5 882.33h1.75M511 908.39h1.75M536.5 908.39h1.75M539.5 908.39h1.75M629.5 908.39h1.75M655 908.39h1.75M662.5 908.39h1.75M685 908.39h1.75M734.5 908.39h1.75M742 908.39h1.75M761.5 908.39h1.75M785.5 908.39h1.75M793 908.39h1.75M794.5 908.39h1.75M506.5 934.45h1.75M520 934.45h1.75M557.5 934.45h1.75M563.5 934.45h1.75M626.5 934.45h1.75M644.5 934.45h1.75M646 934.45h1.75M647.5 934.45h1.75M662.5 934.45h1.75M694 934.45h1.75M706 934.45h1.75M731.5 934.45h1.75M740.5 934.45h1.75M742 934.45h1.75M760 934.45h1.75M770.5 934.45h1.75M523 960.51h1.75M569.5 960.51h1.75M571 960.51h1.75M574 960.51h1.75M575.5 960.51h1.75M584.5 960.51h1.75M605.5 960.51h1.75M646 960.51h1.75M680.5 960.51h1.75M683.5 960.51h1.75M718 960.51h1.75M733 960.51h1.75M781 960.51h1.75M505 986.57h1.75M511 986.57h1.75M515.5 986.57h1.75M533.5 986.57h1.75M551.5 986.57h1.75M556 986.57h1.75M559 986.57h1.75M572.5 986.57h1.75M580 986.57h1.75M587.5 986.57h1.75M601 986.57h1.75M604 986.57h1.75M629.5 986.57h1.75M635.5 986.57h1.75M664 986.57h1.75M674.5 986.57h1.75M676 986.57h1.75M679 986.57h1.75M682 986.57h1.75M709 986.57h1.75M719.5 986.57h1.75M751 986.57h1.75M766 986.57h1.75M775 986.57h1.75M544 1012.63h1.75M559 1012.63h1.75M593.5 1012.63h1.75M676 1012.63h1.75M728.5 1012.63h1.75M755.5 1012.63h1.75M761.5 1012.63h1.75M784 1012.63h1.75M796 1012.63h1.75M799 1012.63h1.75M535 1038.69h1.75M541 1038.69h1.75M554.5 1038.69h1.75M578.5 1038.69h1.75M608.5 1038.69h1.75M613 1038.69h1.75M622 1038.69h1.75M629.5 1038.69h1.75M646 1038.69h1.75M650.5 1038.69h1.75M685 1038.69h1.75M718 1038.69h1.75M790 1038.69h1.75M505 1064.75h1.75M511 1064.75h1.75M530.5 1064.75h1.75M545.5 1064.75h1.75M556 1064.75h1.75M557.5 1064.75h1.75M562 1064.75h1.75M590.5 1064.75h1.75M592 1064.75h1.75M593.5 1064.75h1.75M595 1064.75h1.75M616 1064.75h1.75M625 1064.75h1.75M655 1064.75h1.75M659.5 1064.75h1.75M707.5 1064.75h1.75M716.5 1064.75h1.75M524.5 1090.81h1.75M530.5 1090.81h1.75M575.5 1090.81h1.75M595 1090.81h1.75M605.5 1090.81h1.75M608.5 1090.81h1.75M622 1090.81h1.75M631 1090.81h1.75M673 1090.81h1.75M683.5 1090.81h1.75M685 1090.81h1.75M716.5 1090.81h1.75M725.5 1090.81h1.75M742 1090.81h1.75M748 1090.81h1.75M754 1090.81h1.75M769 1090.81h1.75M509.5 1116.87h1.75M512.5 1116.87h1.75M514 1116.87h1.75M518.5 1116.87h1.75M533.5 1116.87h1.75M542.5 1116.87h1.75M554.5 1116.87h1.75M563.5 1116.87h1.75M566.5 1116.87h1.75M587.5 1116.87h1.75M595 1116.87h1.75M598 1116.87h1.75M599.5 1116.87h1.75M628 1116.87h1.75M635.5 1116.87h1.75M644.5 1116.87h1.75M653.5 1116.87h1.75M655 1116.87h1.75M661 1116.87h1.75M662.5 1116.87h1.75M670 1116.87h1.75M685 1116.87h1.75M686.5 1116.87h1.75M695.5 1116.87h1.75M698.5 1116.87h1.75M754 1116.87h1.75M772 1116.87h1.75M781 1116.87h1.75M796 1116.87h1.75M800.5 1116.87h1.75M806.5 1116.87h1.75M520 1142.93h1.75M521.5 1142.93h1.75M569.5 1142.93h1.75M572.5 1142.93h1.75M577 1142.93h1.75M589 1142.93h1.75M614.5 1142.93h1.75M617.5 1142.93h1.75M626.5 1142.93h1.75M641.5 1142.93h1.75M643 1142.93h1.75M646 1142.93h1.75M649 1142.93h1.75M659.5 1142.93h1.75M719.5 1142.93h1.75M502 1168.99h1.75M524.5 1168.99h1.75M539.5 1168.99h1.75M545.5 1168.99h1.75M559 1168.99h1.75M589 1168.99h1.75M598 1168.99h1.75M610 1168.99h1.75M637 1168.99h1.75M646 1168.99h1.75M653.5 1168.99h1.75M706 1168.99h1.75M707.5 1168.99h1.75M727 1168.99h1.75M776.5 1168.99h1.75M796 1168.99h1.75M802 1168.99h1.75" stroke="#f7e1d0" stroke-width="26.3" fill="none"/>
<path d="M514 752.03h1.75M574 752.03h1.75M577 752.03h1.75M581.5 752.03h1.75M616 752.03h1.75M620.5 752.03h1.75M638.5 752.03h1.75M643 752.03h1.75M661 752.03h1.75M671.5 752.03h1.75M685 752.03h1.75M709 752.03h1.75M731.5 752.03h1.75M734.5 752.03h1.75M556 778.09h1.75M634 778.09h1.75M638.5 778.09h1.75M761.5 778.09h1.75M767.5 778.09h1.75M803.5 778.09h1.75M539.5 804.15h1.75M548.5 804.15h1.75M659.5 804.15h1.75M664 804.15h1.75M671.5 804.15h1.75M673 804.15h1.75M679 804.15h1.75M718 804.15h1.75M748 804.15h1.75M779.5 804.15h1.75M782.5 804.15h1.75M784 804.15h1.75M815.5 804.15h1.75M820 804.15h1.75M542.5 830.21h1.75M565 830.21h1.75M568 830.21h1.75M575.5 830.21h1.75M599.5 830.21h1.75M634 830.21h1.75M647.5 830.21h1.75M688 830.21h1.75M731.5 830.21h1.75M743.5 830.21h1.75M761.5 830.21h1.75M803.5 830.21h1.75M517 856.27h1.75M521.5 856.27h1.75M530.5 856.27h1.75M551.5 856.27h1.75M599.5 856.27h1.75M634 856.27h1.75M635.5 856.27h1.75M647.5 856.27h1.75M655 856.27h1.75M664 856.27h1.75M683.5 856.27h1.75M718 856.27h1.75M746.5 856.27h1.75M748 856.27h1.75M772 856.27h1.75M785.5 856.27h1.75M794.5 856.27h1.75M803.5 856.27h1.75M815.5 856.27h1.75M821.5 856.27h1.75M508 882.33h1.75M526 882.33h1.75M539.5 882.33h1.75M548.5 882.33h1.75M557.5 882.33h1.75M571 882.33h1.75M580 882.33h1.75M617.5 882.33h1.75M620.5 882.33h1.75M626.5 882.33h1.75M646 882.33h1.75M668.5 882.33h1.75M688 882.33h1.75M727 882.33h1.75M776.5 882.33h1.75M824.5 882.33h1.75M556 908.39h1.75M626.5 908.39h1.75M661 908.39h1.75M706 908.39h1.75M718 908.39h1.75M754 908.39h1.75M764.5 908.39h1.75M775 908.39h1.75M778 908.39h1.75M818.5 908.39h1.75M821.5 908.39h1.75M824.5 908.39h1.75M509.5 934.45h1.75M536.5 934.45h1.75M571 934.45h1.75M595 934.45h1.75M614.5 934.45h1.75M634 934.45h1.75M640 934.45h1.75M685 934.45h1.75M692.5 934.45h1.75M703 934.45h1.75M713.5 934.45h1.75M793 934.45h1.75M812.5 934.45h1.75M530.5 960.51h1.75M572.5 960.51h1.75M592 960.51h1.75M608.5 960.51h1.75M611.5 960.51h1.75M635.5 960.51h1.75M691 960.51h1.75M713.5 960.51h1.75M728.5 960.51h1.75M739 960.51h1.75M754 960.51h1.75M785.5 960.51h1.75M554.5 986.57h1.75M563.5 986.57h1.75M566.5 986.57h1.75M616 986.57h1.75M625 986.57h1.75M643 986.57h1.75M644.5 986.57h1.75M706 986.57h1.75M770.5 986.57h1.75M812.5 986.57h1.75M814 986.57h1.75M574 1012.63h1.75M586 1012.63h1.75M608.5 1012.63h1.75M617.5 1012.63h1.75M682 1012.63h1.75M689.5 1012.63h1.75M782.5 1012.63h1.75M511 1038.69h1.75M514 1038.69h1.75M569.5 1038.69h1.75M605.5 1038.69h1.75M623.5 1038.69h1.75M649 1038.69h1.75M653.5 1038.69h1.75M659.5 1038.69h1.75M739 1038.69h1.75M532 1064.75h1.75M544 1064.75h1.75M548.5 1064.75h1.75M553 1064.75h1.75M571 1064.75h1.75M575.5 1064.75h1.75M598 1064.75h1.75M604 1064.75h1.75M610 1064.75h1.75M611.5 1064.75h1.75M614.5 1064.75h1.75M620.5 1064.75h1.75M644.5 1064.75h1.75M646 1064.75h1.75M781 1064.75h1.75M509.5 1090.81h1.75M568 1090.81h1.75M574 1090.81h1.75M580 1090.81h1.75M584.5 1090.81h1.75M643 1090.81h1.75M676 1090.81h1.75M682 1090.81h1.75M697 1090.81h1.75M710.5 1090.81h1.75M733 1090.81h1.75M803.5 1090.81h1.75M821.5 1090.81h1.75M505 1116.87h1.75M524.5 1116.87h1.75M535 1116.87h1.75M574 1116.87h1.75M611.5 1116.87h1.75M629.5 1116.87h1.75M682 1116.87h1.75M689.5 1116.87h1.75M697 1116.87h1.75M709 1116.87h1.75M746.5 1116.87h1.75M812.5 1116.87h1.75M817 1116.87h1.75M509.5 1142.93h1.75M511 1142.93h1.75M535 1142.93h1.75M545.5 1142.93h1.75M554.5 1142.93h1.75M556 1142.93h1.75M560.5 1142.93h1.75M574 1142.93h1.75M580 1142.93h1.75M581.5 1142.93h1.75M595 1142.93h1.75M605.5 1142.93h1.75M620.5 1142.93h1.75M629.5 1142.93h1.75M637 1142.93h1.75M644.5 1142.93h1.75M650.5 1142.93h1.75M656.5 1142.93h1.75M505 1168.99h1.75M529 1168.99h1.75M532 1168.99h1.75M541 1168.99h1.75M548.5 1168.99h1.75M553 1168.99h1.75M554.5 1168.99h1.75M619 1168.99h1.75M629.5 1168.99h1.75M643 1168.99h1.75M649 1168.99h1.75M650.5 1168.99h1.75M656.5 1168.99h1.75M691 1168.99h1.75" stroke="#f5d8c2" stroke-width="26.3" fill="none"/>
<path d="M506.5 752.03h1.75M563.5 752.03h1.75M572.5 752.03h1.75M580 752.03h1.75M587.5 752.03h1.75M619 752.03h1.75M673 752.03h1.75M689.5 752.03h1.75M716.5 752.03h1.75M746.5 752.03h1.75M823 752.03h1.75M512.5 778.09h1.75M535 778.09h1.75M574 778.09h1.75M619 778.09h1.75M635.5 778.09h1.75M664 778.09h1.75M665.5 778.09h1.75M682 778.09h1.75M760 778.09h1.75M794.5 778.09h1.75M818.5 778.09h1.75M514 804.15h1.75M559 804.15h1.75M574 804.15h1.75M584.5 804.15h1.75M592 804.15h1.75M613 804.15h1.75M703 804.15h1.75M716.5 804.15h1.75M727 804.15h1.75M728.5 804.15h1.75M767.5 804.15h1.75M769 804.15h1.75M776.5 804.15h1.75M778 804.15h1.75M787 804.15h1.75M512.5 830.21h1.75M554.5 830.21h1.75M653.5 830.21h1.75M766 830.21h1.75M779.5 830.21h1.75M523 856.27h1.75M527.5 856.27h1.75M602.5 856.27h1.75M616 856.27h1.75M626.5 856.27h1.75M644.5 856.27h1.75M653.5 856.27h1.75M674.5 856.27h1.75M676 856.27h1.75M695.5 856.27h1.75M728.5 856.27h1.75M731.5 856.27h1.75M733 856.27h1.75M743.5 856.27h1.75M761.5 856.27h1.75M782.5 856.27h1.75M796 856.27h1.75M556 882.33h1.75M631 882.33h1.75M658 882.33h1.75M662.5 882.33h1.75M682 882.33h1.75M701.5 882.33h1.75M739 882.33h1.75M793 882.33h1.75M812.5 882.33h1.75M817 882.33h1.75M620.5 908.39h1.75M623.5 908.39h1.75M635.5 908.39h1.75M689.5 908.39h1.75M698.5 908.39h1.75M770.5 908.39h1.75M773.5 908.39h1.75M802 908.39h1.75M815.5 908.39h1.75M817 908.39h1.75M515.5 934.45h1.75M718 934.45h1.75M779.5 934.45h1.75M806.5 934.45h1.75M529 960.51h1.75M545.5 960.51h1.75M550 960.51h1.75M566.5 960.51h1.75M568 960.51h1.75M616 960.51h1.75M686.5 960.51h1.75M710.5 960.51h1.75M716.5 960.51h1.75M748 960.51h1.75M751 960.51h1.75M778 960.51h1.75M796 960.51h1.75M536.5 986.57h1.75M613 986.57h1.75M619 986.57h1.75M634 986.57h1.75M661 986.57h1.75M692.5 986.57h1.75M754 986.57h1.75M781 986.57h1.75M511 1012.63h1.75M515.5 1012.63h1.75M523 1012.63h1.75M575.5 1012.63h1.75M611.5 1012.63h1.75M619 1012.63h1.75M653.5 1012.63h1.75M694 1012.63h1.75M776.5 1012.63h1.75M506.5 1038.69h1.75M545.5 1038.69h1.75M551.5 1038.69h1.75M574 1038.69h1.75M595 1038.69h1.75M614.5 1038.69h1.75M674.5 1038.69h1.75M808 1038.69h1.75M521.5 1064.75h1.75M526 1064.75h1.75M640 1064.75h1.75M688 1064.75h1.75M712 1064.75h1.75M505 1090.81h1.75M557.5 1090.81h1.75M571 1090.81h1.75M607 1090.81h1.75M722.5 1090.81h1.75M746.5 1090.81h1.75M758.5 1090.81h1.75M794.5 1090.81h1.75M503.5 1116.87h1.75M556 1116.87h1.75M602.5 1116.87h1.75M616 1116.87h1.75M634 1116.87h1.75M637 1116.87h1.75M647.5 1116.87h1.75M688 1116.87h1.75M821.5 1116.87h1.75M515.5 1142.93h1.75M523 1142.93h1.75M539.5 1142.93h1.75M584.5 1142.93h1.75M599.5 1142.93h1.75M602.5 1142.93h1.75M607 1142.93h1.75M514 1168.99h1.75M520 1168.99h1.75M566.5 1168.99h1.75M568 1168.99h1.75M595 1168.99h1.75M620.5 1168.99h1.75M647.5 1168.99h1.75M658 1168.99h1.75M733 1168.99h1.75M781 1168.99h1.75M794.5 1168.99h1.75M812.5 1168.99h1.75" stroke="#f3cfb4" stroke-width="26.3" fill="none"/>
<path d="M589 752.03h1.75M592 752.03h1.75M646 752.03h1.75M653.5 752.03h1.75M700 752.03h1.75M733 752.03h1.75M770.5 752.03h1.75M779.5 752.03h1.75M547 778.09h1.75M592 778.09h1.75M656.5 778.09h1.75M668.5 778.09h1.75M725.5 778.09h1.75M689.5 804.15h1.75M707.5 804.15h1.75M725.5 804.15h1.75M764.5 804.15h1.75M812.5 804.15h1.75M526 830.21h1.75M544 830.21h1.75M556 830.21h1.75M566.5 830.21h1.75M574 830.21h1.75M604 830.21h1.75M605.5 830.21h1.75M619 830.21h1.75M620.5 830.21h1.75M673 830.21h1.75M751 830.21h1.75M563.5 856.27h1.75M623.5 856.27h1.75M689.5 856.27h1.75M709 856.27h1.75M725.5 856.27h1.75M734.5 856.27h1.75M740.5 856.27h1.75M764.5 856.27h1.75M788.5 856.27h1.75M521.5 882.33h1.75M587.5 882.33h1.75M598 882.33h1.75M608.5 882.33h1.75M653.5 882.33h1.75M674.5 882.33h1.75M685 882.33h1.75M686.5 882.33h1.75M689.5 882.33h1.75M694 882.33h1.75M715 882.33h1.75M724 882.33h1.75M758.5 882.33h1.75M503.5 908.39h1.75M617.5 908.39h1.75M731.5 908.39h1.75M757 908.39h1.75M808 908.39h1.75M568 934.45h1.75M583 934.45h1.75M620.5 934.45h1.75M628 934.45h1.75M673 934.45h1.75M679 934.45h1.75M710.5 934.45h1.75M797.5 934.45h1.75M800.5 934.45h1.75M814 934.45h1.75M823 934.45h1.75M551.5 960.51h1.75M628 960.51h1.75M647.5 960.51h1.75M661 960.51h1.75M665.5 960.51h1.75M727 960.51h1.75M790 960.51h1.75M793 960.51h1.75M814 960.51h1.75M545.5 986.57h1.75M562 986.57h1.75M569.5 986.57h1.75M584.5 986.57h1.75M614.5 986.57h1.75M620.5 986.57h1.75M659.5 986.57h1.75M806.5 986.57h1.75M520 1012.63h1.75M533.5 1012.63h1.75M626.5 1012.63h1.75M656.5 1012.63h1.75M731.5 1012.63h1.75M757 1012.63h1.75M815.5 1012.63h1.75M512.5 1038.69h1.75M533.5 1038.69h1.75M599.5 1038.69h1.75M610 1038.69h1.75M628 1038.69h1.75M662.5 1038.69h1.75M733 1038.69h1.75M523 1064.75h1.75M535 1064.75h1.75M563.5 1064.75h1.75M572.5 1064.75h1.75M650.5 1064.75h1.75M653.5 1064.75h1.75M824.5 1064.75h1.75M592 1090.81h1.75M626.5 1090.81h1.75M689.5 1090.81h1.75M713.5 1090.81h1.75M715 1090.81h1.75M739 1090.81h1.75M800.5 1090.81h1.75M824.5 1090.81h1.75M520 1116.87h1.75M619 1116.87h1.75M623.5 1116.87h1.75M674.5 1116.87h1.75M724 1116.87h1.75M526 1142.93h1.75M532 1142.93h1.75M541 1142.93h1.75M563.5 1142.93h1.75M592 1142.93h1.75M601 1142.93h1.75M616 1142.93h1.75M619 1142.93h1.75M647.5 1142.93h1.75M655 1142.93h1.75M518.5 1168.99h1.75M634 1168.99h1.75M640 1168.99h1.75M716.5 1168.99h1.75" stroke="#f1c7a7" stroke-width="26.3" fill="none"/>
<path d="M527.5 752.03h1.75M656.5 752.03h1.75M559 778.09h1.75M622 778.09h1.75M691 778.09h1.75M802 778.09h1.75M668.5 804.15h1.75M733 804.15h1.75M763 804.15h1.75M626.5 830.21h1.75M724 830.21h1.75M806.5 830.21h1.75M814 830.21h1.75M542.5 856.27h1.75M554.5 856.27h1.75M625 856.27h1.75M646 856.27h1.75M706 856.27h1.75M716.5 856.27h1.75M818.5 856.27h1.75M650.5 882.33h1.75M713.5 882.33h1.75M751 882.33h1.75M781 882.33h1.75M700 908.39h1.75M733 908.39h1.75M779.5 908.39h1.75M512.5 934.45h1.75M631 934.45h1.75M686.5 934.45h1.75M709 934.45h1.75M599.5 960.51h1.75M604 960.51h1.75M637 960.51h1.75M521.5 986.57h1.75M542.5 986.57h1.75M595 986.57h1.75M622 986.57h1.75M698.5 986.57h1.75M527.5 1012.63h1.75M581.5 1012.63h1.75M589 1012.63h1.75M709 1012.63h1.75M794.5 1012.63h1.75M797.5 1012.63h1.75M601 1038.69h1.75M619 1038.69h1.75M730 1038.69h1.75M794.5 1038.69h1.75M617.5 1064.75h1.75M626.5 1064.75h1.75M673 1064.75h1.75M674.5 1064.75h1.75M602.5 1090.81h1.75M634 1090.81h1.75M757 1090.81h1.75M815.5 1090.81h1.75M614.5 1116.87h1.75M622 1116.87h1.75M793 1116.87h1.75M502 1142.93h1.75M503.5 1142.93h1.75M538 1142.93h1.75M550 1142.93h1.75M562 1142.93h1.75M604 1142.93h1.75M653.5 1142.93h1.75M556 1168.99h1.75M574 1168.99h1.75" stroke="#eebe99" stroke-width="26.3" fill="none"/>
<path d="M556 752.03h1.75M605.5 752.03h1.75M635.5 752.03h1.75M724 778.09h1.75M526 804.15h1.75M677.5 804.15h1.75M730 804.15h1.75M596.5 830.21h1.75M601 830.21h1.75M602.5 830.21h1.75M623.5 830.21h1.75M736 830.21h1.75M775 830.21h1.75M788.5 830.21h1.75M529 856.27h1.75M784 856.27h1.75M518.5 908.39h1.75M520 908.39h1.75M701.5 908.39h1.75M709 908.39h1.75M740.5 908.39h1.75M556 934.45h1.75M739 934.45h1.75M655 960.51h1.75M517 986.57h1.75M530.5 986.57h1.75M605.5 986.57h1.75M598 1012.63h1.75M722.5 1012.63h1.75M746.5 1012.63h1.75M518.5 1038.69h1.75M626.5 1038.69h1.75M631 1038.69h1.75M589 1064.75h1.75M682 1064.75h1.75M520 1090.81h1.75M635.5 1090.81h1.75M644.5 1090.81h1.75M724 1090.81h1.75M763 1090.81h1.75M526 1116.87h1.75M626.5 1116.87h1.75M763 1116.87h1.75M505 1142.93h1.75M529 1142.93h1.75M613 1142.93h1.75M628 1142.93h1.75M592 1168.99h1.75" stroke="#ecb68c" stroke-width="26.3" fill="none"/>
<path d="M512.5 752.03h1.75M614.5 752.03h1.75M551.5 778.09h1.75M581.5 778.09h1.75M614.5 778.09h1.75M631 778.09h1.75M676 778.09h1.75M584.5 830.21h1.75M799 830.21h1.75M695.5 882.33h1.75M622 908.39h1.75M722.5 908.39h1.75M799 934.45h1.75M626.5 960.51h1.75M706 960.51h1.75M725.5 960.51h1.75M787 960.51h1.75M548.5 986.57h1.75M607 986.57h1.75M632.5 986.57h1.75M680.5 986.57h1.75M733 986.57h1.75M794.5 986.57h1.75M509.5 1012.63h1.75M602.5 1038.69h1.75M641.5 1038.69h1.75M574 1064.75h1.75M527.5 1142.93h1.75" stroke="#eaae80" stroke-width="26.3" fill="none"/>
<path d="M607 752.03h1.75M505 778.09h1.75M718 778.09h1.75M635.5 804.15h1.75M688 804.15h1.75M637 830.21h1.75M746.5 830.21h1.75M602.5 934.45h1.75M698.5 934.45h1.75M539.5 960.51h1.75M611.5 986.57h1.75M817 986.57h1.75M716.5 1012.63h1.75M556 1038.69h1.75M734.5 1064.75h1.75M526 1168.99h1.75" stroke="#e8a673" stroke-width="26.3" fill="none"/>
<path d="M673 778.09h1.75M526 1012.63h1.75" stroke="#e69e66" stroke-width="26.3" fill="none"/>
<path d="M773.5 752.03h1.75M743.5 778.09h1.75M698.5 804.15h1.75M796 804.15h1.75M613 830.21h1.75M781 830.21h1.75M688 856.27h1.75M748 882.33h1.75M769 908.39h1.75M574 986.57h1.75" stroke="#e4965a" stroke-width="26.3" fill="none"/>
<rect x="502" y="697.2" width="3.3" height="13.8" fill="#fa78fa"/><rect x="505" y="697.2" width="4.8" height="13.8" fill="#c3a0ff"/><rect x="509.5" y="697.2" width="3.3" height="13.8" fill="#64ffb4"/><rect x="512.5" y="697.2" width="1.8" height="13.8" fill="#64f5c8"/><rect x="514" y="697.2" width="3.3" height="13.8" fill="#fa82fa"/><rect x="517" y="697.2" width="1.8" height="13.8" fill="#e6a032"/><rect x="518.5" y="697.2" width="1.8" height="13.8" fill="#c8b932"/><rect x="520" y="697.2" width="3.3" height="13.8" fill="#5afa96"/><rect x="523" y="697.2" width="3.3" height="13.8" fill="#64ebff"/><rect x="526" y="697.2" width="3.3" height="13.8" fill="#f578c8"/><rect x="529" y="697.2" width="6.3" height="13.8" fill="#50f550"/><rect x="535" y="697.2" width="4.8" height="13.8" fill="#c0c832"/><rect x="539.5" y="697.2" width="4.8" height="13.8" fill="#aaaaff"/><rect x="544" y="697.2" width="6.3" height="13.8" fill="#5afa82"/><rect x="550" y="697.2" width="1.8" height="13.8" fill="#5afa82"/><rect x="551.5" y="697.2" width="4.8" height="13.8" fill="#50f550"/><rect x="556" y="697.2" width="1.8" height="13.8" fill="#f578c8"/><rect x="557.5" y="697.2" width="3.3" height="13.8" fill="#8ce628"/><rect x="560.5" y="697.2" width="3.3" height="13.8" fill="#64f0dc"/><rect x="563.5" y="697.2" width="1.8" height="13.8" fill="#d796fa"/><rect x="565" y="697.2" width="3.3" height="13.8" fill="#64e6ff"/><rect x="568" y="697.2" width="1.8" height="13.8" fill="#e6a032"/><rect x="569.5" y="697.2" width="3.3" height="13.8" fill="#f582f0"/><rect x="572.5" y="697.2" width="3.3" height="13.8" fill="#aaaaff"/><rect x="575.5" y="697.2" width="3.3" height="13.8" fill="#64e6ff"/><rect x="578.5" y="697.2" width="1.8" height="13.8" fill="#f582f0"/><rect x="580" y="697.2" width="1.8" height="13.8" fill="#f082be"/><rect x="581.5" y="697.2" width="3.3" height="13.8" fill="#f578c8"/><rect x="584.5" y="697.2" width="1.8" height="13.8" fill="#64f0dc"/><rect x="586" y="697.2" width="3.3" height="13.8" fill="#64f0f5"/><rect x="589" y="697.2" width="3.3" height="13.8" fill="#6ecdff"/><rect x="592" y="697.2" width="3.3" height="13.8" fill="#c3a0ff"/><rect x="595" y="697.2" width="3.3" height="13.8" fill="#fa82fa"/><rect x="598" y="697.2" width="1.8" height="13.8" fill="#64f5c8"/><rect x="599.5" y="697.2" width="1.8" height="13.8" fill="#87b4ff"/><rect x="601" y="697.2" width="3.3" height="13.8" fill="#c0c832"/><rect x="604" y="697.2" width="6.3" height="13.8" fill="#f082be"/><rect x="610" y="697.2" width="4.8" height="13.8" fill="#64f0f5"/><rect x="614.5" y="697.2" width="3.3" height="13.8" fill="#a0dc28"/><rect x="617.5" y="697.2" width="4.8" height="13.8" fill="#aaaaff"/><rect x="622" y="697.2" width="1.8" height="13.8" fill="#64f03c"/><rect x="623.5" y="697.2" width="3.3" height="13.8" fill="#8ce628"/><rect x="626.5" y="697.2" width="4.8" height="13.8" fill="#8ce628"/><rect x="631" y="697.2" width="4.8" height="13.8" fill="#c3a0ff"/><rect x="635.5" y="697.2" width="3.3" height="13.8" fill="#d796fa"/><rect x="638.5" y="697.2" width="3.3" height="13.8" fill="#eb8c6e"/><rect x="641.5" y="697.2" width="1.8" height="13.8" fill="#c3a0ff"/><rect x="643" y="697.2" width="1.8" height="13.8" fill="#64f0dc"/><rect x="644.5" y="697.2" width="1.8" height="13.8" fill="#f578c8"/><rect x="646" y="697.2" width="1.8" height="13.8" fill="#c0c832"/><rect x="647.5" y="697.2" width="1.8" height="13.8" fill="#50f550"/><rect x="649" y="697.2" width="4.8" height="13.8" fill="#fa82fa"/><rect x="653.5" y="697.2" width="1.8" height="13.8" fill="#5afa82"/><rect x="655" y="697.2" width="3.3" height="13.8" fill="#64d2ff"/><rect x="658" y="697.2" width="4.8" height="13.8" fill="#64ebff"/><rect x="662.5" y="697.2" width="1.8" height="13.8" fill="#eb8c6e"/><rect x="664" y="697.2" width="1.8" height="13.8" fill="#fa82fa"/><rect x="665.5" y="697.2" width="1.8" height="13.8" fill="#64f5c8"/><rect x="667" y="697.2" width="3.3" height="13.8" fill="#8ce628"/><rect x="670" y="697.2" width="6.3" height="13.8" fill="#f082a0"/><rect x="676" y="697.2" width="6.3" height="13.8" fill="#f082be"/><rect x="682" y="697.2" width="1.8" height="13.8" fill="#5afa82"/><rect x="683.5" y="697.2" width="3.3" height="13.8" fill="#aaaaff"/><rect x="686.5" y="697.2" width="1.8" height="13.8" fill="#d796fa"/><rect x="688" y="697.2" width="6.3" height="13.8" fill="#fa78fa"/><rect x="694" y="697.2" width="4.8" height="13.8" fill="#64ffb4"/><rect x="698.5" y="697.2" width="3.3" height="13.8" fill="#eb8c6e"/><rect x="701.5" y="697.2" width="1.8" height="13.8" fill="#64f0f5"/><rect x="703" y="697.2" width="1.8" height="13.8" fill="#fa82fa"/><rect x="704.5" y="697.2" width="1.8" height="13.8" fill="#64e6ff"/><rect x="706" y="697.2" width="3.3" height="13.8" fill="#c0c832"/><rect x="709" y="697.2" width="3.3" height="13.8" fill="#eb8c6e"/><rect x="712" y="697.2" width="3.3" height="13.8" fill="#aaaaff"/><rect x="715" y="697.2" width="3.3" height="13.8" fill="#8ce628"/><rect x="718" y="697.2" width="4.8" height="13.8" fill="#f578c8"/><rect x="722.5" y="697.2" width="1.8" height="13.8" fill="#6ecdff"/><rect x="724" y="697.2" width="1.8" height="13.8" fill="#afd232"/><rect x="725.5" y="697.2" width="3.3" height="13.8" fill="#f082be"/><rect x="728.5" y="697.2" width="3.3" height="13.8" fill="#afd232"/><rect x="731.5" y="697.2" width="3.3" height="13.8" fill="#afd232"/><rect x="734.5" y="697.2" width="3.3" height="13.8" fill="#fa82fa"/><rect x="737.5" y="697.2" width="3.3" height="13.8" fill="#5afa96"/><rect x="740.5" y="697.2" width="3.3" height="13.8" fill="#64f0dc"/><rect x="743.5" y="697.2" width="3.3" height="13.8" fill="#f082be"/><rect x="746.5" y="697.2" width="3.3" height="13.8" fill="#c0c832"/><rect x="749.5" y="697.2" width="1.8" height="13.8" fill="#5afa82"/><rect x="751" y="697.2" width="1.8" height="13.8" fill="#eb8c6e"/><rect x="752.5" y="697.2" width="1.8" height="13.8" fill="#f082a0"/><rect x="754" y="697.2" width="3.3" height="13.8" fill="#64f03c"/><rect x="757" y="697.2" width="6.3" height="13.8" fill="#aaaaff"/><rect x="763" y="697.2" width="1.8" height="13.8" fill="#f578c8"/><rect x="764.5" y="697.2" width="3.3" height="13.8" fill="#e6a032"/><rect x="767.5" y="697.2" width="6.3" height="13.8" fill="#64ebff"/><rect x="773.5" y="697.2" width="1.8" height="13.8" fill="#c3a0ff"/><rect x="775" y="697.2" width="1.8" height="13.8" fill="#f082a0"/><rect x="776.5" y="697.2" width="4.8" height="13.8" fill="#64f03c"/><rect x="781" y="697.2" width="3.3" height="13.8" fill="#87b4ff"/><rect x="784" y="697.2" width="3.3" height="13.8" fill="#64f0f5"/><rect x="787" y="697.2" width="6.3" height="13.8" fill="#64ffb4"/><rect x="793" y="697.2" width="3.3" height="13.8" fill="#e6a032"/><rect x="796" y="697.2" width="1.8" height="13.8" fill="#64ffb4"/><rect x="797.5" y="697.2" width="3.3" height="13.8" fill="#a0dc28"/><rect x="800.5" y="697.2" width="1.8" height="13.8" fill="#8ce628"/><rect x="802" y="697.2" width="4.8" height="13.8" fill="#64f5c8"/><rect x="806.5" y="697.2" width="3.3" height="13.8" fill="#f082be"/><rect x="809.5" y="697.2" width="3.3" height="13.8" fill="#c0c832"/><rect x="812.5" y="697.2" width="1.8" height="13.8" fill="#c3a0ff"/><rect x="814" y="697.2" width="3.3" height="13.8" fill="#64f0f5"/><rect x="817" y="697.2" width="1.8" height="13.8" fill="#c0c832"/><rect x="818.5" y="697.2" width="3.3" height="13.8" fill="#64f03c"/><rect x="821.5" y="697.2" width="1.8" height="13.8" fill="#64ffb4"/><rect x="823" y="697.2" width="1.8" height="13.8" fill="#f578c8"/><rect x="824.5" y="697.2" width="1.8" height="13.8" fill="#d796fa"/>
<rect x="502" y="720.9" width="161" height="13.9" fill="#4269ff"/>
<rect x="663" y="720.9" width="163" height="13.9" fill="#eb9628"/>
<text transform="translate(829.9,713.2) scale(1,1.04)" style='font-size:25.5px'>Type</text>
<text transform="translate(829.9,737) scale(1,1.04)" style='font-size:25.5px'>Cluster</text>
<text transform="translate(829.9,762.53) scale(1,1.04)" style='font-size:25.7px'>PRDX1</text>
<text transform="translate(829.9,788.59) scale(1,1.04)" style='font-size:25.7px'>RPN1</text>
<text transform="translate(829.9,814.65) scale(1,1.04)" style='font-size:25.7px'>NDUFA11</text>
<text transform="translate(829.9,840.71) scale(1,1.04)" style='font-size:25.7px'>OXSM</text>
<text transform="translate(829.9,866.77) scale(1,1.04)" style='font-size:25.7px'>MYH9</text>
<text transform="translate(829.9,892.83) scale(1,1.04)" style='font-size:25.7px'>FLNB</text>
<text transform="translate(829.9,918.89) scale(1,1.04)" style='font-size:25.7px'>TLN1</text>
<text transform="translate(829.9,944.95) scale(1,1.04)" style='font-size:25.7px'>FLNA</text>
<text transform="translate(829.9,971.01) scale(1,1.04)" style='font-size:25.7px'>ACTB</text>
<text transform="translate(829.9,997.07) scale(1,1.04)" style='font-size:25.7px'>GYS1</text>
<text transform="translate(829.9,1023.13) scale(1,1.04)" style='font-size:25.7px'>NUBPL</text>
<text transform="translate(829.9,1049.19) scale(1,1.04)" style='font-size:25.7px'>LRPPRC</text>
<text transform="translate(829.9,1075.25) scale(1,1.04)" style='font-size:25.7px'>NDUFS1</text>
<text transform="translate(829.9,1101.31) scale(1,1.04)" style='font-size:25.7px'>MYH10</text>
<text transform="translate(829.9,1127.37) scale(1,1.04)" style='font-size:25.7px'>NCKAP1</text>
<text transform="translate(829.9,1153.43) scale(1,1.04)" style='font-size:25.7px'>SLC7A11</text>
<text transform="translate(829.9,1179.49) scale(1,1.04)" style='font-size:25.7px'>SLC3A2</text>
<path d="M501 752.03H497V778.09H501M501 804.15H497V830.21H501M497 765.06H495V817.18H497M501 856.27H497V882.33H501M501 908.39H498V934.45H501M501 960.51H497V986.57H501M498 921.42H496V973.54H497M497 869.3H495V947.48H496M501 1038.69H498V1064.75H501M501 1012.63H496V1051.72H498M501 1090.81H497V1116.87H501M501 1142.93H497V1168.99H501M497 1103.84H494V1155.96H497M496 1032.17H493V1129.9H494M495 908.39H492V1080.39H493M495 791.12H490V994.39H492" stroke="#222" stroke-width="1" fill="none"/>
<rect x="945.6" y="689.4" width="215.6" height="501.8" fill="#fff" stroke="#000" stroke-width="1.6"/>
<text transform="translate(950,713.5) scale(1,1.04)" style='font-size:25.6px'>Cluster</text>
<rect x="953.3" y="724.2" width="21.5" height="21.8" fill="#4269ff"/>
<rect x="953.3" y="746" width="21.5" height="21.2" fill="#eb9628"/>
<text transform="translate(977.5,746.3) scale(1,1.04)" style='font-size:25.3px'>A</text>
<text transform="translate(977.5,767.8) scale(1,1.04)" style='font-size:25.3px'>B</text>
<defs><linearGradient id="gd" x1="0" x2="0" y1="0" y2="1"><stop offset="0" stop-color="#e49a60"/><stop offset="0.33" stop-color="#e49a60"/><stop offset="0.48" stop-color="#fdf8f4"/><stop offset="0.55" stop-color="#f4f8fc"/><stop offset="0.7" stop-color="#3e6daf"/><stop offset="1" stop-color="#3e6daf"/></linearGradient></defs>
<rect x="954.8" y="790.2" width="14.9" height="76.2" fill="url(#gd)"/>
<text transform="translate(972,807) scale(1,1.04)" style='font-size:25px'>10</text>
<text transform="translate(973.3,838.6) scale(1,1.04)" style='font-size:25px'>0</text>
<text transform="translate(970.3,866.4) scale(1,1.04)" style='font-size:25px'>-10</text>
<text transform="translate(951.5,893) scale(1,1.04)" style='font-size:25.6px'>Type</text>
<rect x="955.8" y="904.3" width="21" height="21.9" fill="#f082a0"/>
<text transform="translate(978.6,923.7) scale(1,1.04)" style='font-size:25.7px'>ACC</text>
<rect x="955.8" y="926.1" width="21" height="21.9" fill="#c8b932"/>
<text transform="translate(978.6,945.5) scale(1,1.04)" style='font-size:25.7px'>BLCA</text>
<rect x="955.8" y="947.9" width="21" height="21.9" fill="#fa78fa"/>
<text transform="translate(978.6,967.3) scale(1,1.04)" style='font-size:25.7px'>BRCA</text>
<rect x="955.8" y="969.7" width="21" height="21.9" fill="#64f03c"/>
<text transform="translate(978.6,989.1) scale(1,1.04)" style='font-size:25.7px'>CESC</text>
<rect x="955.8" y="991.5" width="21" height="21.9" fill="#64d2ff"/>
<text transform="translate(978.6,1010.9) scale(1,1.04)" style='font-size:25.7px'>CHOL</text>
<rect x="955.8" y="1013.3" width="21" height="21.9" fill="#50f550"/>
<text transform="translate(978.6,1032.7) scale(1,1.04)" style='font-size:25.7px'>COAD</text>
<rect x="955.8" y="1035.1" width="21" height="21.9" fill="#e6a032"/>
<text transform="translate(978.6,1054.5) scale(1,1.04)" style='font-size:25.7px'>DLBC</text>
<rect x="955.8" y="1056.9" width="21" height="21.9" fill="#64f5c8"/>
<text transform="translate(978.6,1076.3) scale(1,1.04)" style='font-size:25.7px'>ESCA</text>
<rect x="955.8" y="1078.7" width="21" height="21.9" fill="#fa78fa"/>
<text transform="translate(978.6,1098.1) scale(1,1.04)" style='font-size:25.7px'>GBM</text>
<rect x="955.8" y="1100.5" width="21" height="21.9" fill="#64f0dc"/>
<text transform="translate(978.6,1119.9) scale(1,1.04)" style='font-size:25.7px'>HNSC</text>
<rect x="955.8" y="1122.3" width="21" height="21.9" fill="#c3a0ff"/>
<text transform="translate(978.6,1141.7) scale(1,1.04)" style='font-size:25.7px'>KICH</text>
<rect x="955.8" y="1144.1" width="21" height="21.9" fill="#f578c8"/>
<text transform="translate(978.6,1163.5) scale(1,1.04)" style='font-size:25.7px'>KIRC</text>
<rect x="955.8" y="1165.9" width="21" height="21.9" fill="#5afa82"/>
<text transform="translate(978.6,1185.3) scale(1,1.04)" style='font-size:25.7px'>KIRP</text>
<rect x="1058.9" y="695.4" width="21.3" height="21.8" fill="#64e6ff"/>
<text transform="translate(1081.4,714.8) scale(1,1.04)" style='font-size:25.7px'>LAML</text>
<rect x="1058.9" y="717.12" width="21.3" height="21.8" fill="#c0c832"/>
<text transform="translate(1081.4,736.52) scale(1,1.04)" style='font-size:25.7px'>LGG</text>
<rect x="1058.9" y="738.84" width="21.3" height="21.8" fill="#64ffb4"/>
<text transform="translate(1081.4,758.24) scale(1,1.04)" style='font-size:25.7px'>LIHC</text>
<rect x="1058.9" y="760.56" width="21.3" height="21.8" fill="#afd232"/>
<text transform="translate(1081.4,779.96) scale(1,1.04)" style='font-size:25.7px'>LUAD</text>
<rect x="1058.9" y="782.28" width="21.3" height="21.8" fill="#aaaaff"/>
<text transform="translate(1081.4,801.68) scale(1,1.04)" style='font-size:25.7px'>LUSC</text>
<rect x="1058.9" y="804" width="21.3" height="21.8" fill="#eb9b55"/>
<text transform="translate(1081.4,823.4) scale(1,1.04)" style='font-size:25.7px'>MESO</text>
<rect x="1058.9" y="825.72" width="21.3" height="21.8" fill="#f582f0"/>
<text transform="translate(1081.4,845.12) scale(1,1.04)" style='font-size:25.7px'>OV</text>
<rect x="1058.9" y="847.44" width="21.3" height="21.8" fill="#87b4ff"/>
<text transform="translate(1081.4,866.84) scale(1,1.04)" style='font-size:25.7px'>PAAD</text>
<rect x="1058.9" y="869.16" width="21.3" height="21.8" fill="#6ecdff"/>
<text transform="translate(1081.4,888.56) scale(1,1.04)" style='font-size:25.7px'>PCPG</text>
<rect x="1058.9" y="890.88" width="21.3" height="21.8" fill="#eb8c6e"/>
<text transform="translate(1081.4,910.28) scale(1,1.04)" style='font-size:25.7px'>PRAD</text>
<rect x="1058.9" y="912.6" width="21.3" height="21.8" fill="#a0dc28"/>
<text transform="translate(1081.4,932) scale(1,1.04)" style='font-size:25.7px'>READ</text>
<rect x="1058.9" y="934.32" width="21.3" height="21.8" fill="#e1aa32"/>
<text transform="translate(1081.4,953.72) scale(1,1.04)" style='font-size:25.7px'>SARC</text>
<rect x="1058.9" y="956.04" width="21.3" height="21.8" fill="#5afa96"/>
<text transform="translate(1081.4,975.44) scale(1,1.04)" style='font-size:25.7px'>SKCM</text>
<rect x="1058.9" y="977.76" width="21.3" height="21.8" fill="#64fad2"/>
<text transform="translate(1081.4,997.16) scale(1,1.04)" style='font-size:25.7px'>STAD</text>
<rect x="1058.9" y="999.48" width="21.3" height="21.8" fill="#f082be"/>
<text transform="translate(1081.4,1018.88) scale(1,1.04)" style='font-size:25.7px'>TGCT</text>
<rect x="1058.9" y="1021.2" width="21.3" height="21.8" fill="#fa82fa"/>
<text transform="translate(1081.4,1040.6) scale(1,1.04)" style='font-size:25.7px'>THCA</text>
<rect x="1058.9" y="1042.92" width="21.3" height="21.8" fill="#64ebff"/>
<text transform="translate(1081.4,1062.32) scale(1,1.04)" style='font-size:25.7px'>THYM</text>
<rect x="1058.9" y="1064.64" width="21.3" height="21.8" fill="#8ce628"/>
<text transform="translate(1081.4,1084.04) scale(1,1.04)" style='font-size:25.7px'>UCEC</text>
<rect x="1058.9" y="1086.36" width="21.3" height="21.8" fill="#64f0f5"/>
<text transform="translate(1081.4,1105.76) scale(1,1.04)" style='font-size:25.7px'>UCS</text>
<rect x="1058.9" y="1108.08" width="21.3" height="21.8" fill="#d796fa"/>
<text transform="translate(1081.4,1127.48) scale(1,1.04)" style='font-size:25.7px'>UVM</text>
<text transform="translate(4.5,1245.2) scale(1,1.04)" style='font-size:47.5px'>E</text>
<text transform="translate(195,1260) scale(1,1.04)" style='font-size:27.2px'>Cluster</text>
<rect x="298" y="1241.4" width="19" height="18.6" fill="#4472b4"/>
<text transform="translate(328,1260) scale(1,1.04)" style='font-size:27.2px'>A</text>
<rect x="368.6" y="1241.4" width="19.1" height="18.6" fill="#de8246"/>
<text transform="translate(397.7,1260) scale(1,1.04)" style='font-size:27.2px'>B</text>
<line x1="124.5" y1="1280.4" x2="494.5" y2="1280.4" stroke="#e3e3e3" stroke-width="1.3"/>
<line x1="124.5" y1="1324.6" x2="494.5" y2="1324.6" stroke="#e3e3e3" stroke-width="1.3"/>
<line x1="124.5" y1="1369.2" x2="494.5" y2="1369.2" stroke="#e3e3e3" stroke-width="1.3"/>
<line x1="124.5" y1="1413.7" x2="494.5" y2="1413.7" stroke="#e3e3e3" stroke-width="1.3"/>
<line x1="124.5" y1="1457.5" x2="494.5" y2="1457.5" stroke="#e3e3e3" stroke-width="1.3"/>
<line x1="124.5" y1="1502.1" x2="494.5" y2="1502.1" stroke="#e3e3e3" stroke-width="1.3"/>
<line x1="124.5" y1="1546.5" x2="494.5" y2="1546.5" stroke="#e3e3e3" stroke-width="1.3"/>
<line x1="124.5" y1="1590.7" x2="494.5" y2="1590.7" stroke="#e3e3e3" stroke-width="1.3"/>
<path d="M221.3 1315 220.71 1315 220.61 1316.8 220.48 1318.6 220.33 1320.4 220.16 1322.2 219.96 1324 219.73 1325.8 219.46 1327.6 219.16 1329.4 218.81 1331.2 218.41 1333 217.95 1334.8 217.45 1336.6 216.87 1338.4 216.24 1340.2 215.54 1342 214.76 1343.8 213.92 1345.6 213 1347.4 212.01 1349.2 210.94 1351 209.81 1352.8 208.62 1354.6 207.36 1356.4 206.05 1358.2 204.69 1360 203.29 1361.8 201.87 1363.6 200.42 1365.4 198.96 1367.2 197.51 1369 196.06 1370.8 194.63 1372.6 193.23 1374.4 191.87 1376.2 190.54 1378 189.26 1379.8 188.03 1381.6 186.84 1383.4 185.71 1385.2 184.62 1387 183.57 1388.8 182.56 1390.6 181.58 1392.4 180.63 1394.2 179.68 1396 178.74 1397.8 177.8 1399.6 176.85 1401.4 175.87 1403.2 174.87 1405 173.83 1406.8 172.76 1408.6 171.64 1410.4 170.48 1412.2 169.27 1414 168.02 1415.8 166.73 1417.6 165.4 1419.4 164.04 1421.2 162.65 1423 161.24 1424.8 159.83 1426.6 158.41 1428.4 157 1430.2 155.61 1432 154.24 1433.8 152.92 1435.6 151.64 1437.4 150.42 1439.2 149.26 1441 148.17 1442.8 147.17 1444.6 146.25 1446.4 145.42 1448.2 144.69 1450 144.07 1451.8 143.55 1453.6 143.13 1455.4 142.83 1457.2 142.64 1459 142.56 1460.8 142.58 1462.6 142.72 1464.4 142.95 1466.2 143.29 1468 143.73 1469.8 144.25 1471.6 144.87 1473.4 145.56 1475.2 146.33 1477 147.17 1478.8 148.08 1480.6 149.03 1482.4 150.04 1484.2 151.09 1486 152.17 1487.8 153.28 1489.6 154.42 1491.4 155.57 1493.2 156.74 1495 157.91 1496.8 159.09 1498.6 160.28 1500.4 161.46 1502.2 162.64 1504 163.82 1505.8 164.99 1507.6 166.16 1509.4 167.33 1511.2 168.5 1513 169.67 1514.8 170.84 1516.6 172.02 1518.4 173.2 1520.2 174.4 1522 175.61 1523.8 176.83 1525.6 178.07 1527.4 179.33 1529.2 180.61 1531 181.91 1532.8 183.22 1534.6 184.56 1536.4 185.92 1538.2 187.29 1540 188.68 1541.8 190.08 1543.6 191.48 1545.4 192.9 1547.2 194.31 1549 195.71 1550.8 197.11 1552.6 198.49 1554.4 199.86 1556.2 201.2 1558 202.51 1559.8 203.78 1561.6 205.02 1563.4 206.22 1565.2 207.38 1567 208.48 1568.8 209.54 1570.6 210.54 1572.4 211.49 1574.2 212.38 1576 213.22 1577.8 214.01 1579.6 214.74 1581.4 215.42 1583.2 216.04 1585 216.61 1586.8 217.14 1588.6 217.62 1590.4 218.05 1592.2 218.44 1594 218.8 1595.8 219.11 1597.6 219.4 1599.4 219.65 1601.2 219.87 1603 220.07 1604.8 220.24 1606.6 220.39 1608.4 220.53 1610.2 221.3 1610.2Z" fill="#de8e5b" stroke="#111" stroke-width="0.9"/>
<line x1="221.3" y1="1313.7" x2="221.3" y2="1315" stroke="#333" stroke-width="1.1"/>
<line x1="221.3" y1="1610.2" x2="221.3" y2="1601.3" stroke="#333" stroke-width="1.1"/>
<path d="M223.3 1317 224.11 1317 224.25 1318.8 224.43 1320.6 224.62 1322.4 224.85 1324.2 225.11 1326 225.41 1327.8 225.75 1329.6 226.13 1331.4 226.56 1333.2 227.05 1335 227.58 1336.8 228.18 1338.6 228.84 1340.4 229.56 1342.2 230.35 1344 231.21 1345.8 232.14 1347.6 233.14 1349.4 234.22 1351.2 235.36 1353 236.57 1354.8 237.85 1356.6 239.19 1358.4 240.6 1360.2 242.05 1362 243.55 1363.8 245.1 1365.6 246.68 1367.4 248.29 1369.2 249.92 1371 251.56 1372.8 253.21 1374.6 254.85 1376.4 256.49 1378.2 258.11 1380 259.7 1381.8 261.28 1383.6 262.82 1385.4 264.33 1387.2 265.8 1389 267.24 1390.8 268.63 1392.6 270 1394.4 271.33 1396.2 272.62 1398 273.89 1399.8 275.14 1401.6 276.36 1403.4 277.56 1405.2 278.76 1407 279.94 1408.8 281.12 1410.6 282.29 1412.4 283.46 1414.2 284.64 1416 285.81 1417.8 286.99 1419.6 288.16 1421.4 289.33 1423.2 290.49 1425 291.65 1426.8 292.78 1428.6 293.89 1430.4 294.97 1432.2 296.02 1434 297.02 1435.8 297.96 1437.6 298.85 1439.4 299.67 1441.2 300.41 1443 301.07 1444.8 301.63 1446.6 302.11 1448.4 302.47 1450.2 302.73 1452 302.88 1453.8 302.92 1455.6 302.83 1457.4 302.64 1459.2 302.32 1461 301.89 1462.8 301.34 1464.6 300.69 1466.4 299.92 1468.2 299.06 1470 298.11 1471.8 297.06 1473.6 295.94 1475.4 294.74 1477.2 293.48 1479 292.17 1480.8 290.81 1482.6 289.42 1484.4 287.99 1486.2 286.55 1488 285.1 1489.8 283.65 1491.6 282.19 1493.4 280.75 1495.2 279.33 1497 277.92 1498.8 276.53 1500.6 275.17 1502.4 273.84 1504.2 272.53 1506 271.24 1507.8 269.98 1509.6 268.74 1511.4 267.52 1513.2 266.3 1515 265.1 1516.8 263.9 1518.6 262.7 1520.4 261.5 1522.2 260.29 1524 259.06 1525.8 257.83 1527.6 256.57 1529.4 255.31 1531.2 254.02 1533 252.72 1534.8 251.4 1536.6 250.07 1538.4 248.73 1540.2 247.39 1542 246.04 1543.8 244.71 1545.6 243.38 1547.4 242.07 1549.2 240.79 1551 239.53 1552.8 238.3 1554.6 237.12 1556.4 235.98 1558.2 234.89 1560 233.85 1561.8 232.87 1563.6 231.94 1565.4 231.07 1567.2 230.26 1569 229.51 1570.8 228.81 1572.6 228.18 1574.4 227.6 1576.2 227.07 1578 226.6 1579.8 226.17 1581.6 225.79 1583.4 225.45 1585.2 225.15 1587 224.89 1588.8 224.65 1590.6 224.45 1592.4 224.28 1594.2 224.13 1596 224 1597.8 223.88 1599.6 223.79 1601.4 223.71 1603.2 223.3 1603.2Z" fill="#4f83be" stroke="#111" stroke-width="0.9"/>
<line x1="223.3" y1="1314.5" x2="223.3" y2="1317" stroke="#333" stroke-width="1.1"/>
<line x1="223.3" y1="1603.2" x2="223.3" y2="1598.8" stroke="#333" stroke-width="1.1"/>
<path d="M395.4 1291 394.55 1291 394.42 1292.8 394.28 1294.6 394.12 1296.4 393.93 1298.2 393.73 1300 393.5 1301.8 393.25 1303.6 392.97 1305.4 392.66 1307.2 392.31 1309 391.94 1310.8 391.53 1312.6 391.08 1314.4 390.6 1316.2 390.07 1318 389.5 1319.8 388.89 1321.6 388.24 1323.4 387.54 1325.2 386.8 1327 386.01 1328.8 385.18 1330.6 384.3 1332.4 383.38 1334.2 382.42 1336 381.42 1337.8 380.37 1339.6 379.29 1341.4 378.18 1343.2 377.03 1345 375.85 1346.8 374.65 1348.6 373.42 1350.4 372.17 1352.2 370.9 1354 369.62 1355.8 368.33 1357.6 367.03 1359.4 365.72 1361.2 364.42 1363 363.11 1364.8 361.8 1366.6 360.5 1368.4 359.2 1370.2 357.9 1372 356.62 1373.8 355.34 1375.6 354.07 1377.4 352.81 1379.2 351.56 1381 350.32 1382.8 349.08 1384.6 347.85 1386.4 346.62 1388.2 345.4 1390 344.18 1391.8 342.97 1393.6 341.76 1395.4 340.55 1397.2 339.35 1399 338.14 1400.8 336.94 1402.6 335.75 1404.4 334.56 1406.2 333.38 1408 332.21 1409.8 331.05 1411.6 329.91 1413.4 328.78 1415.2 327.68 1417 326.6 1418.8 325.55 1420.6 324.54 1422.4 323.57 1424.2 322.64 1426 321.75 1427.8 320.92 1429.6 320.15 1431.4 319.43 1433.2 318.78 1435 318.2 1436.8 317.69 1438.6 317.26 1440.4 316.9 1442.2 316.61 1444 316.41 1445.8 316.29 1447.6 316.25 1449.4 316.3 1451.2 316.42 1453 316.62 1454.8 316.9 1456.6 317.25 1458.4 317.68 1460.2 318.17 1462 318.73 1463.8 319.34 1465.6 320.02 1467.4 320.75 1469.2 321.52 1471 322.34 1472.8 323.19 1474.6 324.08 1476.4 325 1478.2 325.94 1480 326.9 1481.8 327.87 1483.6 328.86 1485.4 329.86 1487.2 330.87 1489 331.88 1490.8 332.9 1492.6 333.91 1494.4 334.94 1496.2 335.96 1498 336.99 1499.8 338.02 1501.6 339.05 1503.4 340.1 1505.2 341.15 1507 342.21 1508.8 343.29 1510.6 344.38 1512.4 345.48 1514.2 346.61 1516 347.76 1517.8 348.93 1519.6 350.12 1521.4 351.34 1523.2 352.58 1525 353.85 1526.8 355.14 1528.6 356.46 1530.4 357.8 1532.2 359.15 1534 360.53 1535.8 361.92 1537.6 363.32 1539.4 364.72 1541.2 366.13 1543 367.54 1544.8 368.94 1546.6 370.33 1548.4 371.71 1550.2 373.06 1552 374.39 1553.8 375.7 1555.6 376.97 1557.4 378.2 1559.2 379.4 1561 380.55 1562.8 381.66 1564.6 382.72 1566.4 383.73 1568.2 384.69 1570 385.6 1571.8 386.46 1573.6 387.27 1575.4 388.02 1577.2 388.73 1579 389.38 1580.8 389.99 1582.6 390.55 1584.4 391.06 1586.2 391.53 1588 391.96 1589.8 392.35 1591.6 392.7 1593.4 393.02 1595.2 393.31 1597 393.57 1598.8 393.8 1600.6 394 1602.4 394.18 1604.2 394.35 1606 394.49 1607.8 394.61 1609.6 395.4 1609.6Z" fill="#de8e5b" stroke="#111" stroke-width="0.9"/>
<line x1="395.4" y1="1287.8" x2="395.4" y2="1291" stroke="#333" stroke-width="1.1"/>
<line x1="395.4" y1="1609.6" x2="395.4" y2="1623.8" stroke="#333" stroke-width="1.1"/>
<path d="M397.7 1295 398.5 1295 398.6 1296.8 398.71 1298.6 398.84 1300.4 398.98 1302.2 399.13 1304 399.3 1305.8 399.48 1307.6 399.69 1309.4 399.91 1311.2 400.15 1313 400.41 1314.8 400.7 1316.6 401.01 1318.4 401.35 1320.2 401.71 1322 402.1 1323.8 402.52 1325.6 402.97 1327.4 403.45 1329.2 403.97 1331 404.52 1332.8 405.1 1334.6 405.72 1336.4 406.38 1338.2 407.07 1340 407.8 1341.8 408.57 1343.6 409.38 1345.4 410.22 1347.2 411.11 1349 412.03 1350.8 412.99 1352.6 413.99 1354.4 415.02 1356.2 416.09 1358 417.19 1359.8 418.33 1361.6 419.5 1363.4 420.7 1365.2 421.93 1367 423.18 1368.8 424.46 1370.6 425.76 1372.4 427.08 1374.2 428.42 1376 429.77 1377.8 431.14 1379.6 432.53 1381.4 433.92 1383.2 435.31 1385 436.71 1386.8 438.12 1388.6 439.52 1390.4 440.92 1392.2 442.32 1394 443.71 1395.8 445.1 1397.6 446.48 1399.4 447.84 1401.2 449.19 1403 450.53 1404.8 451.86 1406.6 453.16 1408.4 454.45 1410.2 455.72 1412 456.97 1413.8 458.2 1415.6 459.41 1417.4 460.59 1419.2 461.74 1421 462.87 1422.8 463.97 1424.6 465.04 1426.4 466.08 1428.2 467.08 1430 468.05 1431.8 468.97 1433.6 469.86 1435.4 470.7 1437.2 471.49 1439 472.24 1440.8 472.93 1442.6 473.56 1444.4 474.14 1446.2 474.65 1448 475.1 1449.8 475.48 1451.6 475.79 1453.4 476.02 1455.2 476.17 1457 476.25 1458.8 476.24 1460.6 476.15 1462.4 475.98 1464.2 475.72 1466 475.37 1467.8 474.94 1469.6 474.42 1471.4 473.83 1473.2 473.15 1475 472.4 1476.8 471.57 1478.6 470.67 1480.4 469.71 1482.2 468.7 1484 467.63 1485.8 466.51 1487.6 465.36 1489.4 464.18 1491.2 462.97 1493 461.75 1494.8 460.51 1496.6 459.27 1498.4 458.04 1500.2 456.82 1502 455.61 1503.8 454.42 1505.6 453.24 1507.4 452.1 1509.2 450.97 1511 449.87 1512.8 448.8 1514.6 447.74 1516.4 446.7 1518.2 445.67 1520 444.65 1521.8 443.63 1523.6 442.6 1525.4 441.56 1527.2 440.51 1529 439.44 1530.8 438.33 1532.6 437.2 1534.4 436.02 1536.2 434.81 1538 433.56 1539.8 432.27 1541.6 430.94 1543.4 429.57 1545.2 428.16 1547 426.73 1548.8 425.27 1550.6 423.8 1552.4 422.32 1554.2 420.84 1556 419.36 1557.8 417.9 1559.6 416.46 1561.4 415.06 1563.2 413.69 1565 412.37 1566.8 411.1 1568.6 409.89 1570.4 408.74 1572.2 407.65 1574 406.64 1575.8 405.69 1577.6 404.81 1579.4 404 1581.2 403.26 1583 402.58 1584.8 401.97 1586.6 401.42 1588.4 400.92 1590.2 400.48 1592 400.09 1593.8 399.75 1595.6 399.45 1597.4 399.19 1599.2 398.96 1601 398.76 1602.8 398.59 1604.6 398.45 1606.4 398.32 1608.2 398.22 1610 397.7 1610Z" fill="#4f83be" stroke="#111" stroke-width="0.9"/>
<line x1="397.7" y1="1292.3" x2="397.7" y2="1295" stroke="#333" stroke-width="1.1"/>
<line x1="397.7" y1="1610" x2="397.7" y2="1614.9" stroke="#333" stroke-width="1.1"/>
<line x1="212.8" y1="1435.1" x2="212.8" y2="1488.2" stroke="#000" stroke-width="1.3"/>
<line x1="207.6" y1="1435.1" x2="218" y2="1435.1" stroke="#000" stroke-width="1.3"/>
<line x1="207.6" y1="1488.2" x2="218" y2="1488.2" stroke="#000" stroke-width="1.3"/>
<circle cx="212.8" cy="1473" r="5.7" fill="#000"/>
<line x1="232.4" y1="1427.3" x2="232.4" y2="1477.9" stroke="#000" stroke-width="1.3"/>
<line x1="227.2" y1="1427.3" x2="237.6" y2="1427.3" stroke="#000" stroke-width="1.3"/>
<line x1="227.2" y1="1477.9" x2="237.6" y2="1477.9" stroke="#000" stroke-width="1.3"/>
<circle cx="232.4" cy="1439" r="5.7" fill="#000"/>
<line x1="387" y1="1426.5" x2="387" y2="1482.5" stroke="#000" stroke-width="1.3"/>
<line x1="381.8" y1="1426.5" x2="392.2" y2="1426.5" stroke="#000" stroke-width="1.3"/>
<line x1="381.8" y1="1482.5" x2="392.2" y2="1482.5" stroke="#000" stroke-width="1.3"/>
<circle cx="387" cy="1444.7" r="5.7" fill="#000"/>
<line x1="406.4" y1="1433.1" x2="406.4" y2="1486.2" stroke="#000" stroke-width="1.3"/>
<line x1="401.2" y1="1433.1" x2="411.6" y2="1433.1" stroke="#000" stroke-width="1.3"/>
<line x1="401.2" y1="1486.2" x2="411.6" y2="1486.2" stroke="#000" stroke-width="1.3"/>
<circle cx="406.4" cy="1471.1" r="5.7" fill="#000"/>
<rect x="124.2" y="1265.7" width="370.9" height="363.4" fill="none" stroke="#222" stroke-width="1.5"/>
<text transform="translate(112,1290) scale(1,1.04)" style='font-size:27.2px' text-anchor="end">2.0</text>
<text transform="translate(112,1467.1) scale(1,1.04)" style='font-size:27.2px' text-anchor="end">0.0</text>
<text transform="translate(112,1638.6) scale(1,1.04)" style='font-size:27.2px' text-anchor="end">-2.0</text>
<line x1="118.5" y1="1280.4" x2="124.2" y2="1280.4" stroke="#222" stroke-width="1.3"/>
<line x1="118.5" y1="1324.6" x2="124.2" y2="1324.6" stroke="#222" stroke-width="1.3"/>
<line x1="118.5" y1="1369.2" x2="124.2" y2="1369.2" stroke="#222" stroke-width="1.3"/>
<line x1="118.5" y1="1413.7" x2="124.2" y2="1413.7" stroke="#222" stroke-width="1.3"/>
<line x1="118.5" y1="1457.5" x2="124.2" y2="1457.5" stroke="#222" stroke-width="1.3"/>
<line x1="118.5" y1="1502.1" x2="124.2" y2="1502.1" stroke="#222" stroke-width="1.3"/>
<line x1="118.5" y1="1546.5" x2="124.2" y2="1546.5" stroke="#222" stroke-width="1.3"/>
<line x1="118.5" y1="1590.7" x2="124.2" y2="1590.7" stroke="#222" stroke-width="1.3"/>
<line x1="118.5" y1="1629" x2="124.2" y2="1629" stroke="#222" stroke-width="1.3"/>
<line x1="222.3" y1="1629" x2="222.3" y2="1635" stroke="#222" stroke-width="1.3"/>
<line x1="396.6" y1="1629" x2="396.6" y2="1635" stroke="#222" stroke-width="1.3"/>
<text transform="translate(69,1461) rotate(-90) scale(1,1.04)" style='font-size:27.2px' text-anchor="middle">GSVA Score</text>
<text transform="translate(230.6,1658) scale(1,1.04)" style='font-size:27.2px' text-anchor="middle">Cell cycle</text>
<text transform="translate(396.6,1658.6) scale(1,1.04)" style='font-size:27.2px' text-anchor="middle">EMT</text>
<text transform="translate(207.9,1288.6) scale(1,1.04)" style='font-size:27px' text-anchor="middle">p&lt;0.0001</text>
<text transform="translate(383,1288.6) scale(1,1.04)" style='font-size:27px' text-anchor="middle">p&lt;0.0001</text>
<text transform="translate(520.3,1245.2) scale(1,1.04)" style='font-size:47.5px'>F</text>
<text transform="translate(771.2,1259.2) scale(1,1.04)" style='font-size:27.2px'>Cluster</text>
<rect x="874.4" y="1242" width="18.8" height="17.9" fill="#4472b4"/>
<text transform="translate(904.1,1259.2) scale(1,1.04)" style='font-size:27.2px'>A</text>
<rect x="944.7" y="1242" width="18.8" height="17.9" fill="#de8246"/>
<text transform="translate(974.3,1259.2) scale(1,1.04)" style='font-size:27.2px'>B</text>
<line x1="652.5" y1="1310.8" x2="1085.5" y2="1310.8" stroke="#e3e3e3" stroke-width="1.3"/>
<line x1="652.5" y1="1353.5" x2="1085.5" y2="1353.5" stroke="#e3e3e3" stroke-width="1.3"/>
<line x1="652.5" y1="1396.4" x2="1085.5" y2="1396.4" stroke="#e3e3e3" stroke-width="1.3"/>
<line x1="652.5" y1="1439.1" x2="1085.5" y2="1439.1" stroke="#e3e3e3" stroke-width="1.3"/>
<line x1="652.5" y1="1482" x2="1085.5" y2="1482" stroke="#e3e3e3" stroke-width="1.3"/>
<line x1="652.5" y1="1525" x2="1085.5" y2="1525" stroke="#e3e3e3" stroke-width="1.3"/>
<line x1="652.5" y1="1567.7" x2="1085.5" y2="1567.7" stroke="#e3e3e3" stroke-width="1.3"/>
<line x1="652.5" y1="1610.4" x2="1085.5" y2="1610.4" stroke="#e3e3e3" stroke-width="1.3"/>
<path d="M730.5 1310.6 730.11 1310.6 730.04 1312.4 729.96 1314.2 729.86 1316 729.76 1317.8 729.63 1319.6 729.49 1321.4 729.34 1323.2 729.16 1325 728.96 1326.8 728.73 1328.6 728.48 1330.4 728.19 1332.2 727.88 1334 727.53 1335.8 727.14 1337.6 726.71 1339.4 726.25 1341.2 725.74 1343 725.18 1344.8 724.58 1346.6 723.93 1348.4 723.22 1350.2 722.47 1352 721.66 1353.8 720.8 1355.6 719.88 1357.4 718.91 1359.2 717.89 1361 716.82 1362.8 715.69 1364.6 714.52 1366.4 713.31 1368.2 712.05 1370 710.75 1371.8 709.42 1373.6 708.06 1375.4 706.67 1377.2 705.26 1379 703.84 1380.8 702.4 1382.6 700.97 1384.4 699.53 1386.2 698.1 1388 696.68 1389.8 695.28 1391.6 693.91 1393.4 692.56 1395.2 691.24 1397 689.96 1398.8 688.72 1400.6 687.52 1402.4 686.36 1404.2 685.25 1406 684.19 1407.8 683.17 1409.6 682.21 1411.4 681.28 1413.2 680.41 1415 679.58 1416.8 678.79 1418.6 678.04 1420.4 677.32 1422.2 676.64 1424 676 1425.8 675.38 1427.6 674.79 1429.4 674.22 1431.2 673.68 1433 673.16 1434.8 672.65 1436.6 672.17 1438.4 671.7 1440.2 671.26 1442 670.83 1443.8 670.43 1445.6 670.04 1447.4 669.68 1449.2 669.36 1451 669.06 1452.8 668.79 1454.6 668.57 1456.4 668.38 1458.2 668.24 1460 668.15 1461.8 668.12 1463.6 668.14 1465.4 668.21 1467.2 668.35 1469 668.56 1470.8 668.82 1472.6 669.15 1474.4 669.55 1476.2 670.01 1478 670.53 1479.8 671.11 1481.6 671.75 1483.4 672.43 1485.2 673.17 1487 673.95 1488.8 674.76 1490.6 675.6 1492.4 676.47 1494.2 677.36 1496 678.26 1497.8 679.16 1499.6 680.07 1501.4 680.98 1503.2 681.88 1505 682.77 1506.8 683.66 1508.6 684.53 1510.4 685.39 1512.2 686.24 1514 687.08 1515.8 687.92 1517.6 688.76 1519.4 689.6 1521.2 690.45 1523 691.32 1524.8 692.2 1526.6 693.11 1528.4 694.04 1530.2 695.01 1532 696.02 1533.8 697.07 1535.6 698.15 1537.4 699.28 1539.2 700.45 1541 701.65 1542.8 702.89 1544.6 704.17 1546.4 705.47 1548.2 706.78 1550 708.11 1551.8 709.45 1553.6 710.78 1555.4 712.11 1557.2 713.41 1559 714.69 1560.8 715.93 1562.6 717.14 1564.4 718.3 1566.2 719.41 1568 720.46 1569.8 721.46 1571.6 722.39 1573.4 723.26 1575.2 724.07 1577 724.82 1578.8 725.5 1580.6 726.12 1582.4 726.68 1584.2 727.18 1586 727.63 1587.8 728.03 1589.6 728.39 1591.4 728.7 1593.2 728.97 1595 729.21 1596.8 729.42 1598.6 729.59 1600.4 729.74 1602.2 729.87 1604 729.98 1605.8 730.5 1605.8Z" fill="#de8e5b" stroke="#111" stroke-width="0.9"/>
<line x1="730.5" y1="1288.2" x2="730.5" y2="1310.6" stroke="#333" stroke-width="1.1"/>
<line x1="730.5" y1="1605.8" x2="730.5" y2="1626" stroke="#333" stroke-width="1.1"/>
<path d="M732.2 1335 732.99 1335 733.11 1336.8 733.25 1338.6 733.4 1340.4 733.58 1342.2 733.77 1344 733.99 1345.8 734.23 1347.6 734.5 1349.4 734.8 1351.2 735.13 1353 735.49 1354.8 735.89 1356.6 736.33 1358.4 736.81 1360.2 737.33 1362 737.89 1363.8 738.5 1365.6 739.16 1367.4 739.86 1369.2 740.62 1371 741.42 1372.8 742.28 1374.6 743.19 1376.4 744.15 1378.2 745.16 1380 746.22 1381.8 747.34 1383.6 748.5 1385.4 749.7 1387.2 750.95 1389 752.23 1390.8 753.55 1392.6 754.91 1394.4 756.29 1396.2 757.69 1398 759.11 1399.8 760.55 1401.6 761.99 1403.4 763.43 1405.2 764.87 1407 766.3 1408.8 767.71 1410.6 769.1 1412.4 770.47 1414.2 771.8 1416 773.11 1417.8 774.37 1419.6 775.6 1421.4 776.77 1423.2 777.91 1425 779 1426.8 780.04 1428.6 781.03 1430.4 781.98 1432.2 782.88 1434 783.73 1435.8 784.55 1437.6 785.33 1439.4 786.07 1441.2 786.77 1443 787.45 1444.8 788.1 1446.6 788.72 1448.4 789.32 1450.2 789.89 1452 790.45 1453.8 790.98 1455.6 791.49 1457.4 791.98 1459.2 792.44 1461 792.87 1462.8 793.26 1464.6 793.62 1466.4 793.93 1468.2 794.18 1470 794.38 1471.8 794.51 1473.6 794.57 1475.4 794.54 1477.2 794.43 1479 794.22 1480.8 793.91 1482.6 793.5 1484.4 792.98 1486.2 792.36 1488 791.63 1489.8 790.81 1491.6 789.89 1493.4 788.89 1495.2 787.82 1497 786.68 1498.8 785.51 1500.6 784.31 1502.4 783.09 1504.2 781.88 1506 780.69 1507.8 779.53 1509.6 778.41 1511.4 777.33 1513.2 776.29 1515 775.3 1516.8 774.33 1518.6 773.37 1520.4 772.4 1522.2 771.4 1524 770.35 1525.8 769.22 1527.6 768 1529.4 766.67 1531.2 765.22 1533 763.65 1534.8 761.95 1536.6 760.15 1538.4 758.25 1540.2 756.28 1542 754.28 1543.8 752.26 1545.6 750.26 1547.4 748.31 1549.2 746.43 1551 744.66 1552.8 743.01 1554.6 741.49 1556.4 740.11 1558.2 738.87 1560 737.79 1561.8 736.84 1563.6 736.02 1565.4 735.33 1567.2 734.74 1569 734.26 1570.8 733.85 1572.6 733.52 1574.4 733.26 1576.2 733.04 1578 732.87 1579.8 732.73 1581.6 732.62 1583.4 732.2 1583.4Z" fill="#4f83be" stroke="#111" stroke-width="0.9"/>
<line x1="732.2" y1="1309.9" x2="732.2" y2="1335" stroke="#333" stroke-width="1.1"/>
<line x1="732.2" y1="1583.4" x2="732.2" y2="1612.8" stroke="#333" stroke-width="1.1"/>
<path d="M868.3 1357.8 867.91 1357.8 867.82 1359.6 867.71 1361.4 867.57 1363.2 867.41 1365 867.22 1366.8 866.99 1368.6 866.72 1370.4 866.42 1372.2 866.06 1374 865.65 1375.8 865.18 1377.6 864.64 1379.4 864.04 1381.2 863.37 1383 862.63 1384.8 861.8 1386.6 860.9 1388.4 859.91 1390.2 858.85 1392 857.71 1393.8 856.49 1395.6 855.2 1397.4 853.84 1399.2 852.42 1401 850.96 1402.8 849.45 1404.6 847.9 1406.4 846.33 1408.2 844.75 1410 843.17 1411.8 841.6 1413.6 840.04 1415.4 838.51 1417.2 837.01 1419 835.55 1420.8 834.13 1422.6 832.77 1424.4 831.45 1426.2 830.18 1428 828.97 1429.8 827.8 1431.6 826.67 1433.4 825.58 1435.2 824.52 1437 823.49 1438.8 822.48 1440.6 821.49 1442.4 820.51 1444.2 819.54 1446 818.57 1447.8 817.62 1449.6 816.66 1451.4 815.72 1453.2 814.78 1455 813.86 1456.8 812.96 1458.6 812.08 1460.4 811.23 1462.2 810.43 1464 809.68 1465.8 808.98 1467.6 808.35 1469.4 807.79 1471.2 807.3 1473 806.9 1474.8 806.59 1476.6 806.37 1478.4 806.24 1480.2 806.2 1482 806.26 1483.8 806.4 1485.6 806.62 1487.4 806.93 1489.2 807.3 1491 807.74 1492.8 808.24 1494.6 808.79 1496.4 809.38 1498.2 810 1500 810.65 1501.8 811.32 1503.6 812 1505.4 812.69 1507.2 813.39 1509 814.1 1510.8 814.8 1512.6 815.52 1514.4 816.24 1516.2 816.98 1518 817.73 1519.8 818.5 1521.6 819.3 1523.4 820.14 1525.2 821.02 1527 821.95 1528.8 822.94 1530.6 823.98 1532.4 825.09 1534.2 826.27 1536 827.52 1537.8 828.83 1539.6 830.22 1541.4 831.66 1543.2 833.17 1545 834.73 1546.8 836.34 1548.6 837.98 1550.4 839.65 1552.2 841.33 1554 843.02 1555.8 844.71 1557.6 846.37 1559.4 848.01 1561.2 849.61 1563 851.16 1564.8 852.66 1566.6 854.09 1568.4 855.45 1570.2 856.73 1572 857.94 1573.8 859.07 1575.6 860.11 1577.4 861.07 1579.2 861.95 1581 862.76 1582.8 863.48 1584.6 864.13 1586.4 864.71 1588.2 865.22 1590 865.68 1591.8 866.08 1593.6 866.43 1595.4 866.73 1597.2 866.99 1599 867.21 1600.8 867.4 1602.6 867.56 1604.4 867.69 1606.2 868.3 1606.2Z" fill="#de8e5b" stroke="#111" stroke-width="0.9"/>
<line x1="868.3" y1="1340" x2="868.3" y2="1357.8" stroke="#333" stroke-width="1.1"/>
<line x1="868.3" y1="1606.2" x2="868.3" y2="1626" stroke="#333" stroke-width="1.1"/>
<path d="M870.2 1375.4 870.6 1375.4 870.7 1377.2 870.83 1379 870.99 1380.8 871.17 1382.6 871.4 1384.4 871.66 1386.2 871.97 1388 872.32 1389.8 872.74 1391.6 873.21 1393.4 873.74 1395.2 874.33 1397 874.99 1398.8 875.72 1400.6 876.51 1402.4 877.36 1404.2 878.27 1406 879.23 1407.8 880.24 1409.6 881.29 1411.4 882.38 1413.2 883.48 1415 884.61 1416.8 885.74 1418.6 886.87 1420.4 888 1422.2 889.12 1424 890.24 1425.8 891.34 1427.6 892.43 1429.4 893.52 1431.2 894.6 1433 895.69 1434.8 896.79 1436.6 897.91 1438.4 899.05 1440.2 900.23 1442 901.44 1443.8 902.7 1445.6 904 1447.4 905.35 1449.2 906.74 1451 908.18 1452.8 909.65 1454.6 911.15 1456.4 912.67 1458.2 914.19 1460 915.71 1461.8 917.2 1463.6 918.66 1465.4 920.07 1467.2 921.42 1469 922.68 1470.8 923.85 1472.6 924.92 1474.4 925.87 1476.2 926.69 1478 927.39 1479.8 927.95 1481.6 928.37 1483.4 928.65 1485.2 928.8 1487 928.81 1488.8 928.7 1490.6 928.47 1492.4 928.13 1494.2 927.69 1496 927.16 1497.8 926.55 1499.6 925.88 1501.4 925.16 1503.2 924.39 1505 923.6 1506.8 922.77 1508.6 921.94 1510.4 921.09 1512.2 920.24 1514 919.38 1515.8 918.51 1517.6 917.63 1519.4 916.75 1521.2 915.84 1523 914.91 1524.8 913.95 1526.6 912.95 1528.4 911.91 1530.2 910.81 1532 909.66 1533.8 908.44 1535.6 907.15 1537.4 905.8 1539.2 904.39 1541 902.91 1542.8 901.37 1544.6 899.79 1546.4 898.17 1548.2 896.51 1550 894.84 1551.8 893.16 1553.6 891.48 1555.4 889.83 1557.2 888.21 1559 886.63 1560.8 885.11 1562.6 883.66 1564.4 882.27 1566.2 880.97 1568 879.75 1569.8 878.62 1571.6 877.58 1573.4 876.63 1575.2 875.77 1577 874.99 1578.8 874.3 1580.6 873.68 1582.4 873.14 1584.2 872.67 1586 872.26 1587.8 871.91 1589.6 871.61 1591.4 871.36 1593.2 871.14 1595 870.96 1596.8 870.81 1598.6 870.69 1600.4 870.59 1602.2 870.2 1602.2Z" fill="#4f83be" stroke="#111" stroke-width="0.9"/>
<line x1="870.2" y1="1356" x2="870.2" y2="1375.4" stroke="#333" stroke-width="1.1"/>
<line x1="870.2" y1="1602.2" x2="870.2" y2="1620.4" stroke="#333" stroke-width="1.1"/>
<path d="M1009.5 1288 1009.02 1288 1008.93 1289.8 1008.83 1291.6 1008.71 1293.4 1008.57 1295.2 1008.41 1297 1008.23 1298.8 1008.02 1300.6 1007.79 1302.4 1007.52 1304.2 1007.22 1306 1006.89 1307.8 1006.51 1309.6 1006.1 1311.4 1005.64 1313.2 1005.13 1315 1004.58 1316.8 1003.98 1318.6 1003.32 1320.4 1002.61 1322.2 1001.85 1324 1001.03 1325.8 1000.16 1327.6 999.23 1329.4 998.25 1331.2 997.22 1333 996.14 1334.8 995.01 1336.6 993.84 1338.4 992.63 1340.2 991.39 1342 990.11 1343.8 988.8 1345.6 987.48 1347.4 986.13 1349.2 984.77 1351 983.4 1352.8 982.03 1354.6 980.65 1356.4 979.28 1358.2 977.91 1360 976.56 1361.8 975.21 1363.6 973.88 1365.4 972.57 1367.2 971.27 1369 969.99 1370.8 968.72 1372.6 967.47 1374.4 966.23 1376.2 965.01 1378 963.81 1379.8 962.62 1381.6 961.44 1383.4 960.27 1385.2 959.11 1387 957.96 1388.8 956.83 1390.6 955.71 1392.4 954.6 1394.2 953.5 1396 952.43 1397.8 951.37 1399.6 950.34 1401.4 949.33 1403.2 948.35 1405 947.4 1406.8 946.49 1408.6 945.63 1410.4 944.8 1412.2 944.03 1414 943.31 1415.8 942.65 1417.6 942.04 1419.4 941.5 1421.2 941.03 1423 940.62 1424.8 940.27 1426.6 940 1428.4 939.8 1430.2 939.66 1432 939.59 1433.8 939.59 1435.6 939.65 1437.4 939.77 1439.2 939.95 1441 940.19 1442.8 940.48 1444.6 940.81 1446.4 941.2 1448.2 941.63 1450 942.09 1451.8 942.59 1453.6 943.12 1455.4 943.69 1457.2 944.28 1459 944.89 1460.8 945.53 1462.6 946.2 1464.4 946.88 1466.2 947.58 1468 948.31 1469.8 949.06 1471.6 949.83 1473.4 950.62 1475.2 951.43 1477 952.27 1478.8 953.14 1480.6 954.04 1482.4 954.96 1484.2 955.92 1486 956.91 1487.8 957.94 1489.6 959 1491.4 960.1 1493.2 961.23 1495 962.4 1496.8 963.61 1498.6 964.85 1500.4 966.12 1502.2 967.43 1504 968.76 1505.8 970.12 1507.6 971.51 1509.4 972.91 1511.2 974.33 1513 975.76 1514.8 977.2 1516.6 978.65 1518.4 980.09 1520.2 981.52 1522 982.95 1523.8 984.36 1525.6 985.75 1527.4 987.11 1529.2 988.45 1531 989.75 1532.8 991.02 1534.6 992.25 1536.4 993.44 1538.2 994.58 1540 995.68 1541.8 996.73 1543.6 997.73 1545.4 998.68 1547.2 999.58 1549 1000.43 1550.8 1001.22 1552.6 1001.97 1554.4 1002.67 1556.2 1003.32 1558 1003.92 1559.8 1004.48 1561.6 1004.99 1563.4 1005.47 1565.2 1005.9 1567 1006.3 1568.8 1006.66 1570.6 1006.98 1572.4 1007.28 1574.2 1007.54 1576 1007.78 1577.8 1007.99 1579.6 1008.19 1581.4 1008.36 1583.2 1008.51 1585 1008.64 1586.8 1008.76 1588.6 1009.5 1588.6Z" fill="#de8e5b" stroke="#111" stroke-width="0.9"/>
<line x1="1009.5" y1="1290.5" x2="1009.5" y2="1288" stroke="#333" stroke-width="1.1"/>
<line x1="1009.5" y1="1588.6" x2="1009.5" y2="1603.4" stroke="#333" stroke-width="1.1"/>
<path d="M1011.3 1288 1012.02 1288 1012.17 1289.8 1012.36 1291.6 1012.57 1293.4 1012.82 1295.2 1013.11 1297 1013.45 1298.8 1013.84 1300.6 1014.29 1302.4 1014.8 1304.2 1015.37 1306 1016.02 1307.8 1016.74 1309.6 1017.54 1311.4 1018.42 1313.2 1019.38 1315 1020.42 1316.8 1021.54 1318.6 1022.74 1320.4 1024 1322.2 1025.33 1324 1026.71 1325.8 1028.15 1327.6 1029.62 1329.4 1031.12 1331.2 1032.63 1333 1034.16 1334.8 1035.67 1336.6 1037.17 1338.4 1038.65 1340.2 1040.09 1342 1041.49 1343.8 1042.84 1345.6 1044.14 1347.4 1045.4 1349.2 1046.6 1351 1047.75 1352.8 1048.87 1354.6 1049.94 1356.4 1050.98 1358.2 1052 1360 1053.01 1361.8 1054 1363.6 1055 1365.4 1056.01 1367.2 1057.04 1369 1058.08 1370.8 1059.15 1372.6 1060.25 1374.4 1061.37 1376.2 1062.53 1378 1063.71 1379.8 1064.9 1381.6 1066.11 1383.4 1067.33 1385.2 1068.55 1387 1069.76 1388.8 1070.96 1390.6 1072.12 1392.4 1073.25 1394.2 1074.34 1396 1075.38 1397.8 1076.35 1399.6 1077.26 1401.4 1078.09 1403.2 1078.85 1405 1079.52 1406.8 1080.11 1408.6 1080.62 1410.4 1081.04 1412.2 1081.38 1414 1081.64 1415.8 1081.82 1417.6 1081.92 1419.4 1081.96 1421.2 1081.93 1423 1081.84 1424.8 1081.69 1426.6 1081.5 1428.4 1081.27 1430.2 1081 1432 1080.7 1433.8 1080.37 1435.6 1080.03 1437.4 1079.67 1439.2 1079.29 1441 1078.91 1442.8 1078.51 1444.6 1078.11 1446.4 1077.7 1448.2 1077.28 1450 1076.86 1451.8 1076.42 1453.6 1075.96 1455.4 1075.49 1457.2 1074.99 1459 1074.47 1460.8 1073.91 1462.6 1073.32 1464.4 1072.68 1466.2 1071.99 1468 1071.26 1469.8 1070.46 1471.6 1069.61 1473.4 1068.69 1475.2 1067.7 1477 1066.65 1478.8 1065.53 1480.6 1064.33 1482.4 1063.07 1484.2 1061.74 1486 1060.35 1487.8 1058.9 1489.6 1057.38 1491.4 1055.82 1493.2 1054.21 1495 1052.56 1496.8 1050.88 1498.6 1049.17 1500.4 1047.45 1502.2 1045.71 1504 1043.97 1505.8 1042.24 1507.6 1040.52 1509.4 1038.82 1511.2 1037.15 1513 1035.51 1514.8 1033.91 1516.6 1032.36 1518.4 1030.85 1520.2 1029.4 1522 1028.01 1523.8 1026.69 1525.6 1025.42 1527.4 1024.22 1529.2 1023.09 1531 1022.03 1532.8 1021.03 1534.6 1020.1 1536.4 1019.23 1538.2 1018.43 1540 1017.69 1541.8 1017.01 1543.6 1016.38 1545.4 1015.81 1547.2 1015.29 1549 1014.83 1550.8 1014.4 1552.6 1014.02 1554.4 1013.68 1556.2 1013.37 1558 1013.1 1559.8 1012.86 1561.6 1012.65 1563.4 1012.46 1565.2 1012.3 1567 1012.15 1568.8 1012.03 1570.6 1011.92 1572.4 1011.82 1574.2 1011.74 1576 1011.67 1577.8 1011.3 1577.8Z" fill="#4f83be" stroke="#111" stroke-width="0.9"/>
<line x1="1011.3" y1="1292.5" x2="1011.3" y2="1288" stroke="#333" stroke-width="1.1"/>
<line x1="1011.3" y1="1577.8" x2="1011.3" y2="1603.4" stroke="#333" stroke-width="1.1"/>
<line x1="722.4" y1="1445.9" x2="722.4" y2="1480.2" stroke="#000" stroke-width="1.3"/>
<line x1="717.5" y1="1445.9" x2="727.3" y2="1445.9" stroke="#000" stroke-width="1.3"/>
<line x1="717.5" y1="1480.2" x2="727.3" y2="1480.2" stroke="#000" stroke-width="1.3"/>
<circle cx="722.4" cy="1463.6" r="5.3" fill="#000"/>
<line x1="740" y1="1458" x2="740" y2="1484.3" stroke="#000" stroke-width="1.3"/>
<line x1="735.2" y1="1458" x2="744.8" y2="1458" stroke="#000" stroke-width="1.3"/>
<line x1="735.2" y1="1484.3" x2="744.8" y2="1484.3" stroke="#000" stroke-width="1.3"/>
<circle cx="740" cy="1472.1" r="5.3" fill="#000"/>
<line x1="860.8" y1="1468.5" x2="860.8" y2="1497.1" stroke="#000" stroke-width="1.3"/>
<line x1="855.9" y1="1468.5" x2="865.7" y2="1468.5" stroke="#000" stroke-width="1.3"/>
<line x1="855.9" y1="1497.1" x2="865.7" y2="1497.1" stroke="#000" stroke-width="1.3"/>
<circle cx="860.8" cy="1483.9" r="5.3" fill="#000"/>
<line x1="878.1" y1="1479.2" x2="878.1" y2="1502.2" stroke="#000" stroke-width="1.3"/>
<line x1="873.4" y1="1479.2" x2="882.8" y2="1479.2" stroke="#000" stroke-width="1.3"/>
<line x1="873.4" y1="1502.2" x2="882.8" y2="1502.2" stroke="#000" stroke-width="1.3"/>
<circle cx="878.1" cy="1491.5" r="5.3" fill="#000"/>
<line x1="1001.6" y1="1418.2" x2="1001.6" y2="1455.4" stroke="#000" stroke-width="1.3"/>
<line x1="996.5" y1="1418.2" x2="1006.7" y2="1418.2" stroke="#000" stroke-width="1.3"/>
<line x1="996.5" y1="1455.4" x2="1006.7" y2="1455.4" stroke="#000" stroke-width="1.3"/>
<circle cx="1001.6" cy="1435" r="5.3" fill="#000"/>
<line x1="1019.6" y1="1411.3" x2="1019.6" y2="1440" stroke="#000" stroke-width="1.3"/>
<line x1="1014.5" y1="1411.3" x2="1024.7" y2="1411.3" stroke="#000" stroke-width="1.3"/>
<line x1="1014.5" y1="1440" x2="1024.7" y2="1440" stroke="#000" stroke-width="1.3"/>
<circle cx="1019.6" cy="1423.6" r="5.3" fill="#000"/>
<rect x="651.9" y="1267.7" width="434.2" height="363" fill="none" stroke="#222" stroke-width="1.5"/>
<text transform="translate(643.6,1277.3) scale(1,1.04)" style='font-size:27.2px' text-anchor="end">10,000</text>
<line x1="646" y1="1267.7" x2="651.9" y2="1267.7" stroke="#222" stroke-width="1.3"/>
<text transform="translate(643.6,1448.7) scale(1,1.04)" style='font-size:27.2px' text-anchor="end">2,000</text>
<line x1="646" y1="1439.1" x2="651.9" y2="1439.1" stroke="#222" stroke-width="1.3"/>
<text transform="translate(643.6,1620) scale(1,1.04)" style='font-size:27.2px' text-anchor="end">-6,000</text>
<line x1="646" y1="1610.4" x2="651.9" y2="1610.4" stroke="#222" stroke-width="1.3"/>
<text transform="translate(1093,1277.3) scale(1,1.04)" style='font-size:27.2px'>1.8</text>
<line x1="1086.1" y1="1267.7" x2="1092" y2="1267.7" stroke="#222" stroke-width="1.3"/>
<text transform="translate(1093,1448.6) scale(1,1.04)" style='font-size:27.2px'>0.7</text>
<line x1="1086.1" y1="1439" x2="1092" y2="1439" stroke="#222" stroke-width="1.3"/>
<text transform="translate(1093,1619.9) scale(1,1.04)" style='font-size:27.2px'>-0.4</text>
<line x1="1086.1" y1="1610.3" x2="1092" y2="1610.3" stroke="#222" stroke-width="1.3"/>
<line x1="731.3" y1="1630.7" x2="731.3" y2="1636.5" stroke="#222" stroke-width="1.3"/>
<line x1="869.2" y1="1630.7" x2="869.2" y2="1636.5" stroke="#222" stroke-width="1.3"/>
<line x1="1010.4" y1="1630.7" x2="1010.4" y2="1636.5" stroke="#222" stroke-width="1.3"/>
<text transform="translate(570,1434) rotate(-90) scale(1,1.04)" style='font-size:27.2px' text-anchor="middle">Estimate Score</text>
<text transform="translate(730.2,1658.2) scale(1,1.04)" style='font-size:27.2px' text-anchor="middle">Immune</text>
<text transform="translate(866,1658.2) scale(1,1.04)" style='font-size:27.2px' text-anchor="middle">Stromal</text>
<text transform="translate(1005,1658.2) scale(1,1.04)" style='font-size:27.2px' text-anchor="middle">TumorPurity</text>
<text transform="translate(717,1288.9) scale(1,1.04)" style='font-size:27px;font-family:"Noto Sans CJK SC", "Liberation Sans", sans-serif;font-weight:500' text-anchor="middle">p&lt;0.0001</text>
<text transform="translate(853.8,1288.9) scale(1,1.04)" style='font-size:27px;font-family:"Noto Sans CJK SC", "Liberation Sans", sans-serif;font-weight:500' text-anchor="middle">p&lt;0.0001</text>
<text transform="translate(998.1,1288.9) scale(1,1.04)" style='font-size:27px;font-family:"Noto Sans CJK SC", "Liberation Sans", sans-serif;font-weight:500' text-anchor="middle">p&lt;0.0001</text>
<text transform="translate(1196.8,682.5) scale(1,1.04)" style='font-size:47.5px'>G</text>
<text transform="translate(1645.5,712.5) scale(1,1.04)" style='font-size:27.3px'>Cluster</text>
<rect x="1749.4" y="694" width="18.4" height="18.5" fill="#4472c4"/>
<text transform="translate(1778.5,712.5) scale(1,1.04)" style='font-size:27.3px'>A</text>
<rect x="1819" y="694" width="18.5" height="18.5" fill="#ed7d31"/>
<text transform="translate(1848.6,712.5) scale(1,1.04)" style='font-size:27.3px'>B</text>
<rect x="1553.5" y="719.8" width="440.3" height="849" fill="none" stroke="#333" stroke-width="1.3"/>
<path d="M1557.2 727.05 1560.22 727.05 1563.24 727.05 1566.26 727.05 1569.28 727.05 1572.29 727.05 1575.31 727.05 1578.33 727.05 1581.35 727.05 1584.37 727.05 1587.39 727.05 1590.41 727.11 1593.42 727.23 1596.44 727.4 1599.46 727.62 1602.48 727.88 1605.5 728.18 1608.52 728.51 1611.54 728.85 1614.56 729.2 1617.58 729.55 1620.59 729.89 1623.61 730.22 1626.63 730.52 1629.65 730.81 1632.67 731.07 1635.69 731.3 1638.71 731.5 1641.72 731.68 1644.74 731.83 1647.76 731.95 1650.78 732.06 1653.8 732.15L1653.8 732.75 1650.78 732.84 1647.76 732.95 1644.74 733.07 1641.72 733.22 1638.71 733.4 1635.69 733.6 1632.67 733.83 1629.65 734.09 1626.63 734.38 1623.61 734.68 1620.59 735.01 1617.58 735.35 1614.56 735.7 1611.54 736.05 1608.52 736.39 1605.5 736.72 1602.48 737.02 1599.46 737.28 1596.44 737.5 1593.42 737.67 1590.41 737.79 1587.39 737.85 1584.37 737.85 1581.35 737.85 1578.33 737.85 1575.31 737.85 1572.29 737.85 1569.28 737.85 1566.26 737.85 1563.24 737.85 1560.22 737.85 1557.2 737.85Z" fill="#4472c4" stroke="#111" stroke-width="0.75"/>
<line x1="1651.8" y1="732.45" x2="1782.4" y2="732.45" stroke="#1a1a1a" stroke-width="1.1"/>
<line x1="1559.9" y1="732.45" x2="1597" y2="732.45" stroke="#000" stroke-width="1.5"/>
<circle cx="1577.7" cy="732.45" r="2.6" fill="#fff"/>
<path d="M1557.2 739.85 1560.3 739.85 1563.39 739.85 1566.49 739.85 1569.59 739.85 1572.68 739.85 1575.78 739.85 1578.88 739.85 1581.97 739.85 1585.07 739.85 1588.17 739.85 1591.27 739.91 1594.36 740.03 1597.46 740.2 1600.56 740.42 1603.65 740.68 1606.75 740.98 1609.85 741.31 1612.94 741.65 1616.04 742 1619.14 742.35 1622.23 742.69 1625.33 743.02 1628.43 743.32 1631.53 743.61 1634.62 743.87 1637.72 744.1 1640.82 744.3 1643.91 744.48 1647.01 744.63 1650.11 744.75 1653.2 744.86 1656.3 744.95L1656.3 745.55 1653.2 745.64 1650.11 745.75 1647.01 745.87 1643.91 746.02 1640.82 746.2 1637.72 746.4 1634.62 746.63 1631.53 746.89 1628.43 747.18 1625.33 747.48 1622.23 747.81 1619.14 748.15 1616.04 748.5 1612.94 748.85 1609.85 749.19 1606.75 749.52 1603.65 749.82 1600.56 750.08 1597.46 750.3 1594.36 750.47 1591.27 750.59 1588.17 750.65 1585.07 750.65 1581.97 750.65 1578.88 750.65 1575.78 750.65 1572.68 750.65 1569.59 750.65 1566.49 750.65 1563.39 750.65 1560.3 750.65 1557.2 750.65Z" fill="#ed7d31" stroke="#111" stroke-width="0.75"/>
<line x1="1654.3" y1="745.25" x2="1729.8" y2="745.25" stroke="#1a1a1a" stroke-width="1.1"/>
<line x1="1561" y1="745.25" x2="1598" y2="745.25" stroke="#000" stroke-width="1.5"/>
<circle cx="1578.7" cy="745.25" r="2.6" fill="#fff"/>
<line x1="1782.4" y1="735.05" x2="1782.4" y2="742.25" stroke="#555" stroke-width="1"/>
<text transform="translate(1547.7,748.45) scale(1,1.04)" style='font-size:27.4px' text-anchor="end">B cells naive</text>
<text transform="translate(1887.2,748.45) scale(1,1.04)" style='font-size:26.4px;font-family:"Noto Sans CJK SC", "Liberation Sans", sans-serif;font-weight:500'>p&lt;0.05</text>
<path d="M1557.2 765.44 1558.83 765.46 1560.46 765.5 1562.08 765.57 1563.71 765.68 1565.34 765.81 1566.97 765.96 1568.6 766.14 1570.22 766.33 1571.85 766.54 1573.48 766.76 1575.11 767 1576.74 767.24 1578.37 767.48 1579.99 767.73 1581.62 767.97 1583.25 768.21 1584.88 768.44 1586.51 768.67 1588.13 768.88 1589.76 769.09 1591.39 769.28 1593.02 769.46 1594.65 769.62 1596.28 769.77 1597.9 769.91 1599.53 770.03 1601.16 770.15 1602.79 770.24 1604.42 770.33 1606.04 770.41 1607.67 770.48 1609.3 770.54L1609.3 771.14 1607.67 771.2 1606.04 771.27 1604.42 771.35 1602.79 771.44 1601.16 771.53 1599.53 771.65 1597.9 771.77 1596.28 771.91 1594.65 772.06 1593.02 772.22 1591.39 772.4 1589.76 772.59 1588.13 772.8 1586.51 773.01 1584.88 773.24 1583.25 773.47 1581.62 773.71 1579.99 773.95 1578.37 774.2 1576.74 774.44 1575.11 774.68 1573.48 774.92 1571.85 775.14 1570.22 775.35 1568.6 775.54 1566.97 775.72 1565.34 775.87 1563.71 776 1562.08 776.11 1560.46 776.18 1558.83 776.22 1557.2 776.24Z" fill="#4472c4" stroke="#111" stroke-width="0.75"/>
<line x1="1607.3" y1="770.84" x2="1725.6" y2="770.84" stroke="#1a1a1a" stroke-width="1.1"/>
<circle cx="1559.4" cy="770.84" r="2.6" fill="#fff"/>
<path d="M1557.2 778.24 1558.85 778.26 1560.5 778.3 1562.15 778.37 1563.8 778.48 1565.45 778.61 1567.1 778.76 1568.75 778.94 1570.4 779.13 1572.05 779.34 1573.7 779.56 1575.35 779.8 1577 780.04 1578.65 780.28 1580.3 780.53 1581.95 780.77 1583.6 781.01 1585.25 781.24 1586.9 781.47 1588.55 781.68 1590.2 781.89 1591.85 782.08 1593.5 782.26 1595.15 782.42 1596.8 782.57 1598.45 782.71 1600.1 782.83 1601.75 782.95 1603.4 783.04 1605.05 783.13 1606.7 783.21 1608.35 783.28 1610 783.34L1610 783.94 1608.35 784 1606.7 784.07 1605.05 784.15 1603.4 784.24 1601.75 784.33 1600.1 784.45 1598.45 784.57 1596.8 784.71 1595.15 784.86 1593.5 785.02 1591.85 785.2 1590.2 785.39 1588.55 785.6 1586.9 785.81 1585.25 786.04 1583.6 786.27 1581.95 786.51 1580.3 786.75 1578.65 787 1577 787.24 1575.35 787.48 1573.7 787.72 1572.05 787.94 1570.4 788.15 1568.75 788.34 1567.1 788.52 1565.45 788.67 1563.8 788.8 1562.15 788.91 1560.5 788.98 1558.85 789.02 1557.2 789.04Z" fill="#ed7d31" stroke="#111" stroke-width="0.75"/>
<line x1="1608" y1="783.64" x2="1737.9" y2="783.64" stroke="#1a1a1a" stroke-width="1.1"/>
<circle cx="1559.4" cy="783.64" r="2.6" fill="#fff"/>
<line x1="1737.9" y1="773.44" x2="1737.9" y2="780.64" stroke="#555" stroke-width="1"/>
<text transform="translate(1547.7,786.84) scale(1,1.04)" style='font-size:27.4px' text-anchor="end">B cells memory</text>
<text transform="translate(1887.2,786.84) scale(1,1.04)" style='font-size:26.4px;font-family:"Noto Sans CJK SC", "Liberation Sans", sans-serif;font-weight:500'>p&gt;0.05</text>
<path d="M1557.2 803.83 1561.3 803.83 1565.41 803.83 1569.51 803.83 1573.61 803.83 1577.72 803.83 1581.82 803.83 1585.92 803.83 1590.03 803.83 1594.13 803.83 1598.23 803.83 1602.33 803.89 1606.44 804.01 1610.54 804.18 1614.64 804.4 1618.75 804.66 1622.85 804.96 1626.95 805.29 1631.06 805.63 1635.16 805.98 1639.26 806.33 1643.37 806.67 1647.47 807 1651.57 807.3 1655.67 807.59 1659.78 807.85 1663.88 808.08 1667.98 808.28 1672.09 808.46 1676.19 808.61 1680.29 808.73 1684.4 808.84 1688.5 808.93L1688.5 809.53 1684.4 809.62 1680.29 809.73 1676.19 809.85 1672.09 810 1667.98 810.18 1663.88 810.38 1659.78 810.61 1655.67 810.87 1651.57 811.16 1647.47 811.46 1643.37 811.79 1639.26 812.13 1635.16 812.48 1631.06 812.83 1626.95 813.17 1622.85 813.5 1618.75 813.8 1614.64 814.06 1610.54 814.28 1606.44 814.45 1602.33 814.57 1598.23 814.63 1594.13 814.63 1590.03 814.63 1585.92 814.63 1581.82 814.63 1577.72 814.63 1573.61 814.63 1569.51 814.63 1565.41 814.63 1561.3 814.63 1557.2 814.63Z" fill="#4472c4" stroke="#111" stroke-width="0.75"/>
<line x1="1686.5" y1="809.23" x2="1757.2" y2="809.23" stroke="#1a1a1a" stroke-width="1.1"/>
<line x1="1564.8" y1="809.23" x2="1621.7" y2="809.23" stroke="#000" stroke-width="1.5"/>
<circle cx="1590.3" cy="809.23" r="2.6" fill="#fff"/>
<path d="M1557.2 816.63 1561.77 816.63 1566.33 816.63 1570.9 816.63 1575.46 816.63 1580.03 816.63 1584.59 816.63 1589.16 816.63 1593.72 816.63 1598.29 816.63 1602.86 816.63 1607.42 816.69 1611.99 816.81 1616.55 816.98 1621.12 817.2 1625.68 817.46 1630.25 817.76 1634.82 818.09 1639.38 818.43 1643.95 818.78 1648.51 819.13 1653.08 819.47 1657.64 819.8 1662.21 820.1 1666.78 820.39 1671.34 820.65 1675.91 820.88 1680.47 821.08 1685.04 821.26 1689.6 821.41 1694.17 821.53 1698.73 821.64 1703.3 821.73L1703.3 822.33 1698.73 822.42 1694.17 822.53 1689.6 822.65 1685.04 822.8 1680.47 822.98 1675.91 823.18 1671.34 823.41 1666.78 823.67 1662.21 823.96 1657.64 824.26 1653.08 824.59 1648.51 824.93 1643.95 825.28 1639.38 825.63 1634.82 825.97 1630.25 826.3 1625.68 826.6 1621.12 826.86 1616.55 827.08 1611.99 827.25 1607.42 827.37 1602.86 827.43 1598.29 827.43 1593.72 827.43 1589.16 827.43 1584.59 827.43 1580.03 827.43 1575.46 827.43 1570.9 827.43 1566.33 827.43 1561.77 827.43 1557.2 827.43Z" fill="#ed7d31" stroke="#111" stroke-width="0.75"/>
<line x1="1701.3" y1="822.03" x2="1780.7" y2="822.03" stroke="#1a1a1a" stroke-width="1.1"/>
<line x1="1563.6" y1="822.03" x2="1619" y2="822.03" stroke="#000" stroke-width="1.5"/>
<circle cx="1588.8" cy="822.03" r="2.6" fill="#fff"/>
<line x1="1780.7" y1="811.83" x2="1780.7" y2="819.03" stroke="#555" stroke-width="1"/>
<text transform="translate(1547.7,825.23) scale(1,1.04)" style='font-size:27.4px' text-anchor="end">Plasma cells</text>
<text transform="translate(1887.2,825.23) scale(1,1.04)" style='font-size:26.4px;font-family:"Noto Sans CJK SC", "Liberation Sans", sans-serif;font-weight:500'>p&lt;0.05</text>
<path d="M1557.2 842.22 1563 842.22 1568.81 842.22 1574.61 842.22 1580.41 842.22 1586.22 842.22 1592.02 842.22 1597.82 842.22 1603.62 842.22 1609.43 842.22 1615.23 842.22 1621.03 842.28 1626.84 842.4 1632.64 842.57 1638.44 842.79 1644.25 843.05 1650.05 843.35 1655.85 843.68 1661.66 844.02 1667.46 844.37 1673.26 844.72 1679.07 845.06 1684.87 845.39 1690.67 845.69 1696.48 845.98 1702.28 846.24 1708.08 846.47 1713.88 846.67 1719.69 846.85 1725.49 847 1731.29 847.12 1737.1 847.23 1742.9 847.32L1742.9 847.92 1737.1 848.01 1731.29 848.12 1725.49 848.24 1719.69 848.39 1713.88 848.57 1708.08 848.77 1702.28 849 1696.48 849.26 1690.67 849.55 1684.87 849.85 1679.07 850.18 1673.26 850.52 1667.46 850.87 1661.66 851.22 1655.85 851.56 1650.05 851.89 1644.25 852.19 1638.44 852.45 1632.64 852.67 1626.84 852.84 1621.03 852.96 1615.23 853.02 1609.43 853.02 1603.62 853.02 1597.82 853.02 1592.02 853.02 1586.22 853.02 1580.41 853.02 1574.61 853.02 1568.81 853.02 1563 853.02 1557.2 853.02Z" fill="#4472c4" stroke="#111" stroke-width="0.75"/>
<line x1="1740.9" y1="847.62" x2="1823.7" y2="847.62" stroke="#1a1a1a" stroke-width="1.1"/>
<line x1="1584.6" y1="847.62" x2="1646.4" y2="847.62" stroke="#000" stroke-width="1.5"/>
<circle cx="1614.3" cy="847.62" r="2.6" fill="#fff"/>
<path d="M1557.2 855.02 1563.93 855.02 1570.66 855.02 1577.38 855.02 1584.11 855.02 1590.84 855.02 1597.57 855.02 1604.3 855.02 1611.03 855.02 1617.75 855.02 1624.48 855.02 1631.21 855.08 1637.94 855.2 1644.67 855.37 1651.39 855.59 1658.12 855.85 1664.85 856.15 1671.58 856.48 1678.31 856.82 1685.03 857.17 1691.76 857.52 1698.49 857.86 1705.22 858.19 1711.95 858.49 1718.67 858.78 1725.4 859.04 1732.13 859.27 1738.86 859.47 1745.59 859.65 1752.32 859.8 1759.04 859.92 1765.77 860.03 1772.5 860.12L1772.5 860.72 1765.77 860.81 1759.04 860.92 1752.32 861.04 1745.59 861.19 1738.86 861.37 1732.13 861.57 1725.4 861.8 1718.67 862.06 1711.95 862.35 1705.22 862.65 1698.49 862.98 1691.76 863.32 1685.03 863.67 1678.31 864.02 1671.58 864.36 1664.85 864.69 1658.12 864.99 1651.39 865.25 1644.67 865.47 1637.94 865.64 1631.21 865.76 1624.48 865.82 1617.75 865.82 1611.03 865.82 1604.3 865.82 1597.57 865.82 1590.84 865.82 1584.11 865.82 1577.38 865.82 1570.66 865.82 1563.93 865.82 1557.2 865.82Z" fill="#ed7d31" stroke="#111" stroke-width="0.75"/>
<line x1="1770.5" y1="860.42" x2="1860.1" y2="860.42" stroke="#1a1a1a" stroke-width="1.1"/>
<line x1="1601.9" y1="860.42" x2="1669.9" y2="860.42" stroke="#000" stroke-width="1.5"/>
<circle cx="1633.6" cy="860.42" r="2.6" fill="#fff"/>
<line x1="1860.1" y1="850.22" x2="1860.1" y2="857.42" stroke="#555" stroke-width="1"/>
<text transform="translate(1547.7,863.62) scale(1,1.04)" style='font-size:27.4px' text-anchor="end">T cells CD8</text>
<text transform="translate(1887.2,863.62) scale(1,1.04)" style='font-size:26.4px;font-family:"Noto Sans CJK SC", "Liberation Sans", sans-serif;font-weight:500'>p&lt;0.001</text>
<path d="M1557.2 880.61 1558.37 880.63 1559.53 880.67 1560.7 880.74 1561.86 880.85 1563.03 880.98 1564.19 881.13 1565.36 881.31 1566.53 881.5 1567.69 881.71 1568.86 881.93 1570.02 882.17 1571.19 882.41 1572.35 882.65 1573.52 882.9 1574.68 883.14 1575.85 883.38 1577.02 883.61 1578.18 883.84 1579.35 884.05 1580.51 884.26 1581.68 884.45 1582.84 884.63 1584.01 884.79 1585.17 884.94 1586.34 885.08 1587.51 885.2 1588.67 885.32 1589.84 885.41 1591 885.5 1592.17 885.58 1593.33 885.65 1594.5 885.71L1594.5 886.31 1593.33 886.37 1592.17 886.44 1591 886.52 1589.84 886.61 1588.67 886.7 1587.51 886.82 1586.34 886.94 1585.17 887.08 1584.01 887.23 1582.84 887.39 1581.68 887.57 1580.51 887.76 1579.35 887.97 1578.18 888.18 1577.02 888.41 1575.85 888.64 1574.68 888.88 1573.52 889.12 1572.35 889.37 1571.19 889.61 1570.02 889.85 1568.86 890.09 1567.69 890.31 1566.53 890.52 1565.36 890.71 1564.19 890.89 1563.03 891.04 1561.86 891.17 1560.7 891.28 1559.53 891.35 1558.37 891.39 1557.2 891.41Z" fill="#4472c4" stroke="#111" stroke-width="0.75"/>
<line x1="1592.5" y1="886.01" x2="1635.3" y2="886.01" stroke="#1a1a1a" stroke-width="1.1"/>
<circle cx="1559.4" cy="886.01" r="2.6" fill="#fff"/>
<path d="M1557.2 893.41 1558.23 893.43 1559.25 893.47 1560.28 893.54 1561.3 893.65 1562.33 893.78 1563.35 893.93 1564.38 894.11 1565.4 894.3 1566.42 894.51 1567.45 894.73 1568.48 894.97 1569.5 895.21 1570.53 895.45 1571.55 895.7 1572.58 895.94 1573.6 896.18 1574.62 896.41 1575.65 896.64 1576.67 896.85 1577.7 897.06 1578.72 897.25 1579.75 897.43 1580.78 897.59 1581.8 897.74 1582.83 897.88 1583.85 898 1584.88 898.12 1585.9 898.21 1586.92 898.3 1587.95 898.38 1588.97 898.45 1590 898.51L1590 899.11 1588.97 899.17 1587.95 899.24 1586.92 899.32 1585.9 899.41 1584.88 899.5 1583.85 899.62 1582.83 899.74 1581.8 899.88 1580.78 900.03 1579.75 900.19 1578.72 900.37 1577.7 900.56 1576.67 900.77 1575.65 900.98 1574.62 901.21 1573.6 901.44 1572.58 901.68 1571.55 901.92 1570.53 902.17 1569.5 902.41 1568.48 902.65 1567.45 902.89 1566.42 903.11 1565.4 903.32 1564.38 903.51 1563.35 903.69 1562.33 903.84 1561.3 903.97 1560.28 904.08 1559.25 904.15 1558.23 904.19 1557.2 904.21Z" fill="#ed7d31" stroke="#111" stroke-width="0.75"/>
<line x1="1588" y1="898.81" x2="1656.8" y2="898.81" stroke="#1a1a1a" stroke-width="1.1"/>
<circle cx="1559.4" cy="898.81" r="2.6" fill="#fff"/>
<line x1="1656.8" y1="888.61" x2="1656.8" y2="895.81" stroke="#555" stroke-width="1"/>
<text transform="translate(1547.7,902.01) scale(1,1.04)" style='font-size:27.4px' text-anchor="end">T cells CD4 naive</text>
<text transform="translate(1887.2,902.01) scale(1,1.04)" style='font-size:26.4px;font-family:"Noto Sans CJK SC", "Liberation Sans", sans-serif;font-weight:500'>p&lt;0.001</text>
<path d="M1557.2 923.67 1564.32 923.46 1571.44 923.22 1578.56 922.94 1585.67 922.62 1592.79 922.26 1599.91 921.88 1607.03 921.47 1614.15 921.05 1621.27 920.64 1628.39 920.24 1635.51 919.88 1642.62 919.56 1649.74 919.3 1656.86 919.12 1663.98 919.02 1671.1 919.01 1678.22 919.1 1685.34 919.31 1692.46 919.61 1699.58 919.99 1706.69 920.43 1713.81 920.9 1720.93 921.38 1728.05 921.85 1735.17 922.29 1742.29 922.7 1749.41 923.05 1756.53 923.35 1763.64 923.61 1770.76 923.81 1777.88 923.97 1785 924.1L1785 924.7 1777.88 924.83 1770.76 924.99 1763.64 925.19 1756.53 925.45 1749.41 925.75 1742.29 926.1 1735.17 926.51 1728.05 926.95 1720.93 927.42 1713.81 927.9 1706.69 928.37 1699.58 928.81 1692.46 929.19 1685.34 929.49 1678.22 929.7 1671.1 929.79 1663.98 929.78 1656.86 929.68 1649.74 929.5 1642.62 929.24 1635.51 928.92 1628.39 928.56 1621.27 928.16 1614.15 927.75 1607.03 927.33 1599.91 926.92 1592.79 926.54 1585.67 926.18 1578.56 925.86 1571.44 925.58 1564.32 925.34 1557.2 925.13Z" fill="#4472c4" stroke="#111" stroke-width="0.75"/>
<line x1="1783" y1="924.4" x2="1851.7" y2="924.4" stroke="#1a1a1a" stroke-width="1.1"/>
<line x1="1635.3" y1="924.4" x2="1699.6" y2="924.4" stroke="#000" stroke-width="1.5"/>
<circle cx="1668.7" cy="924.4" r="2.6" fill="#fff"/>
<path d="M1557.2 936.47 1564.69 936.24 1572.19 935.96 1579.68 935.63 1587.17 935.25 1594.67 934.83 1602.16 934.39 1609.66 933.92 1617.15 933.46 1624.64 933.01 1632.14 932.61 1639.63 932.27 1647.12 932.01 1654.62 931.85 1662.11 931.8 1669.61 931.85 1677.1 931.99 1684.59 932.22 1692.09 932.52 1699.58 932.88 1707.08 933.28 1714.57 933.71 1722.06 934.15 1729.56 934.57 1737.05 934.98 1744.54 935.36 1752.04 935.7 1759.53 936 1767.03 936.26 1774.52 936.47 1782.01 936.65 1789.51 936.79 1797 936.9L1797 937.5 1789.51 937.61 1782.01 937.75 1774.52 937.93 1767.03 938.14 1759.53 938.4 1752.04 938.7 1744.54 939.04 1737.05 939.42 1729.56 939.83 1722.06 940.25 1714.57 940.69 1707.08 941.12 1699.58 941.52 1692.09 941.88 1684.59 942.18 1677.1 942.41 1669.61 942.55 1662.11 942.6 1654.62 942.55 1647.12 942.39 1639.63 942.13 1632.14 941.79 1624.64 941.39 1617.15 940.94 1609.66 940.48 1602.16 940.01 1594.67 939.57 1587.17 939.15 1579.68 938.77 1572.19 938.44 1564.69 938.16 1557.2 937.93Z" fill="#ed7d31" stroke="#111" stroke-width="0.75"/>
<line x1="1795" y1="937.2" x2="1838" y2="937.2" stroke="#1a1a1a" stroke-width="1.1"/>
<line x1="1629.1" y1="937.2" x2="1695.9" y2="937.2" stroke="#000" stroke-width="1.5"/>
<circle cx="1662" cy="937.2" r="2.6" fill="#fff"/>
<line x1="1851.7" y1="927" x2="1851.7" y2="934.2" stroke="#555" stroke-width="1"/>
<text transform="translate(1547.7,940.4) scale(1,1.04)" style='font-size:27.4px' text-anchor="end">T cells CD4 memory resting</text>
<text transform="translate(1887.2,940.4) scale(1,1.04)" style='font-size:26.4px;font-family:"Noto Sans CJK SC", "Liberation Sans", sans-serif;font-weight:500'>p&lt;0.001</text>
<path d="M1557.2 957.39 1559.22 957.41 1561.23 957.45 1563.25 957.52 1565.26 957.63 1567.28 957.76 1569.29 957.91 1571.31 958.09 1573.33 958.28 1575.34 958.49 1577.36 958.71 1579.37 958.95 1581.39 959.19 1583.4 959.43 1585.42 959.68 1587.43 959.92 1589.45 960.16 1591.47 960.39 1593.48 960.62 1595.5 960.83 1597.51 961.04 1599.53 961.23 1601.54 961.41 1603.56 961.57 1605.58 961.72 1607.59 961.86 1609.61 961.98 1611.62 962.1 1613.64 962.19 1615.65 962.28 1617.67 962.36 1619.68 962.43 1621.7 962.49L1621.7 963.09 1619.68 963.15 1617.67 963.22 1615.65 963.3 1613.64 963.39 1611.62 963.48 1609.61 963.6 1607.59 963.72 1605.58 963.86 1603.56 964.01 1601.54 964.17 1599.53 964.35 1597.51 964.54 1595.5 964.75 1593.48 964.96 1591.47 965.19 1589.45 965.42 1587.43 965.66 1585.42 965.9 1583.4 966.15 1581.39 966.39 1579.37 966.63 1577.36 966.87 1575.34 967.09 1573.33 967.3 1571.31 967.49 1569.29 967.67 1567.28 967.82 1565.26 967.95 1563.25 968.06 1561.23 968.13 1559.22 968.17 1557.2 968.19Z" fill="#4472c4" stroke="#111" stroke-width="0.75"/>
<line x1="1619.7" y1="962.79" x2="1725.6" y2="962.79" stroke="#1a1a1a" stroke-width="1.1"/>
<line x1="1558" y1="962.79" x2="1583" y2="962.79" stroke="#000" stroke-width="1.5"/>
<circle cx="1561.1" cy="962.79" r="2.6" fill="#fff"/>
<path d="M1557.2 970.19 1558.91 970.21 1560.61 970.25 1562.32 970.32 1564.03 970.43 1565.73 970.56 1567.44 970.71 1569.14 970.89 1570.85 971.08 1572.56 971.29 1574.26 971.51 1575.97 971.75 1577.67 971.99 1579.38 972.23 1581.09 972.48 1582.79 972.72 1584.5 972.96 1586.21 973.19 1587.91 973.42 1589.62 973.63 1591.33 973.84 1593.03 974.03 1594.74 974.21 1596.44 974.37 1598.15 974.52 1599.86 974.66 1601.56 974.78 1603.27 974.9 1604.97 974.99 1606.68 975.08 1608.39 975.16 1610.09 975.23 1611.8 975.29L1611.8 975.89 1610.09 975.95 1608.39 976.02 1606.68 976.1 1604.97 976.19 1603.27 976.28 1601.56 976.4 1599.86 976.52 1598.15 976.66 1596.44 976.81 1594.74 976.97 1593.03 977.15 1591.33 977.34 1589.62 977.55 1587.91 977.76 1586.21 977.99 1584.5 978.22 1582.79 978.46 1581.09 978.7 1579.38 978.95 1577.67 979.19 1575.97 979.43 1574.26 979.67 1572.56 979.89 1570.85 980.1 1569.14 980.29 1567.44 980.47 1565.73 980.62 1564.03 980.75 1562.32 980.86 1560.61 980.93 1558.91 980.97 1557.2 980.99Z" fill="#ed7d31" stroke="#111" stroke-width="0.75"/>
<line x1="1609.8" y1="975.59" x2="1674.9" y2="975.59" stroke="#1a1a1a" stroke-width="1.1"/>
<circle cx="1558" cy="975.59" r="2.6" fill="#fff"/>
<line x1="1725.6" y1="965.39" x2="1725.6" y2="972.59" stroke="#555" stroke-width="1"/>
<text transform="translate(1547.7,978.79) scale(1,1.04)" style='font-size:27.4px' text-anchor="end">T cells CD4 memory activated</text>
<text transform="translate(1887.2,978.79) scale(1,1.04)" style='font-size:26.4px;font-family:"Noto Sans CJK SC", "Liberation Sans", sans-serif;font-weight:500'>p&lt;0.001</text>
<path d="M1557.2 995.78 1559.53 995.78 1561.85 995.78 1564.17 995.78 1566.5 995.78 1568.83 995.78 1571.15 995.78 1573.47 995.78 1575.8 995.78 1578.12 995.78 1580.45 995.78 1582.78 995.84 1585.1 995.96 1587.42 996.13 1589.75 996.35 1592.08 996.61 1594.4 996.91 1596.72 997.24 1599.05 997.58 1601.38 997.93 1603.7 998.28 1606.02 998.62 1608.35 998.95 1610.67 999.25 1613 999.54 1615.33 999.8 1617.65 1000.03 1619.97 1000.23 1622.3 1000.41 1624.62 1000.56 1626.95 1000.68 1629.27 1000.79 1631.6 1000.88L1631.6 1001.48 1629.27 1001.57 1626.95 1001.68 1624.62 1001.8 1622.3 1001.95 1619.97 1002.13 1617.65 1002.33 1615.33 1002.56 1613 1002.82 1610.67 1003.11 1608.35 1003.41 1606.02 1003.74 1603.7 1004.08 1601.38 1004.43 1599.05 1004.78 1596.72 1005.12 1594.4 1005.45 1592.08 1005.75 1589.75 1006.01 1587.42 1006.23 1585.1 1006.4 1582.78 1006.52 1580.45 1006.58 1578.12 1006.58 1575.8 1006.58 1573.47 1006.58 1571.15 1006.58 1568.83 1006.58 1566.5 1006.58 1564.17 1006.58 1561.85 1006.58 1559.53 1006.58 1557.2 1006.58Z" fill="#4472c4" stroke="#111" stroke-width="0.75"/>
<line x1="1629.6" y1="1001.18" x2="1674.9" y2="1001.18" stroke="#1a1a1a" stroke-width="1.1"/>
<line x1="1562.4" y1="1001.18" x2="1593.3" y2="1001.18" stroke="#000" stroke-width="1.5"/>
<circle cx="1577.2" cy="1001.18" r="2.6" fill="#fff"/>
<path d="M1557.2 1008.58 1559.76 1008.58 1562.31 1008.58 1564.87 1008.58 1567.42 1008.58 1569.98 1008.58 1572.54 1008.58 1575.09 1008.58 1577.65 1008.58 1580.21 1008.58 1582.76 1008.58 1585.32 1008.64 1587.88 1008.76 1590.43 1008.93 1592.99 1009.15 1595.54 1009.41 1598.1 1009.71 1600.66 1010.04 1603.21 1010.38 1605.77 1010.73 1608.33 1011.08 1610.88 1011.42 1613.44 1011.75 1615.99 1012.05 1618.55 1012.34 1621.11 1012.6 1623.66 1012.83 1626.22 1013.03 1628.78 1013.21 1631.33 1013.36 1633.89 1013.48 1636.44 1013.59 1639 1013.68L1639 1014.28 1636.44 1014.37 1633.89 1014.48 1631.33 1014.6 1628.78 1014.75 1626.22 1014.93 1623.66 1015.13 1621.11 1015.36 1618.55 1015.62 1615.99 1015.91 1613.44 1016.21 1610.88 1016.54 1608.33 1016.88 1605.77 1017.23 1603.21 1017.58 1600.66 1017.92 1598.1 1018.25 1595.54 1018.55 1592.99 1018.81 1590.43 1019.03 1587.88 1019.2 1585.32 1019.32 1582.76 1019.38 1580.21 1019.38 1577.65 1019.38 1575.09 1019.38 1572.54 1019.38 1569.98 1019.38 1567.42 1019.38 1564.87 1019.38 1562.31 1019.38 1559.76 1019.38 1557.2 1019.38Z" fill="#ed7d31" stroke="#111" stroke-width="0.75"/>
<line x1="1637" y1="1013.98" x2="1706.3" y2="1013.98" stroke="#1a1a1a" stroke-width="1.1"/>
<line x1="1560" y1="1013.98" x2="1592" y2="1013.98" stroke="#000" stroke-width="1.5"/>
<circle cx="1574.7" cy="1013.98" r="2.6" fill="#fff"/>
<line x1="1706.3" y1="1003.78" x2="1706.3" y2="1010.98" stroke="#555" stroke-width="1"/>
<text transform="translate(1547.7,1017.18) scale(1,1.04)" style='font-size:27.4px' text-anchor="end">T cells follicular helper</text>
<text transform="translate(1887.2,1017.18) scale(1,1.04)" style='font-size:26.4px;font-family:"Noto Sans CJK SC", "Liberation Sans", sans-serif;font-weight:500'>p&lt;0.001</text>
<path d="M1557.2 1034.17 1559.44 1034.17 1561.69 1034.17 1563.93 1034.17 1566.17 1034.17 1568.42 1034.17 1570.66 1034.17 1572.91 1034.17 1575.15 1034.17 1577.39 1034.17 1579.64 1034.17 1581.88 1034.23 1584.12 1034.35 1586.37 1034.52 1588.61 1034.74 1590.86 1035 1593.1 1035.3 1595.34 1035.63 1597.59 1035.97 1599.83 1036.32 1602.08 1036.67 1604.32 1037.01 1606.56 1037.34 1608.81 1037.64 1611.05 1037.93 1613.29 1038.19 1615.54 1038.42 1617.78 1038.62 1620.03 1038.8 1622.27 1038.95 1624.51 1039.07 1626.76 1039.18 1629 1039.27L1629 1039.87 1626.76 1039.96 1624.51 1040.07 1622.27 1040.19 1620.03 1040.34 1617.78 1040.52 1615.54 1040.72 1613.29 1040.95 1611.05 1041.21 1608.81 1041.5 1606.56 1041.8 1604.32 1042.13 1602.08 1042.47 1599.83 1042.82 1597.59 1043.17 1595.34 1043.51 1593.1 1043.84 1590.86 1044.14 1588.61 1044.4 1586.37 1044.62 1584.12 1044.79 1581.88 1044.91 1579.64 1044.97 1577.39 1044.97 1575.15 1044.97 1572.91 1044.97 1570.66 1044.97 1568.42 1044.97 1566.17 1044.97 1563.93 1044.97 1561.69 1044.97 1559.44 1044.97 1557.2 1044.97Z" fill="#4472c4" stroke="#111" stroke-width="0.75"/>
<line x1="1627" y1="1039.57" x2="1688" y2="1039.57" stroke="#1a1a1a" stroke-width="1.1"/>
<line x1="1560" y1="1039.57" x2="1592" y2="1039.57" stroke="#000" stroke-width="1.5"/>
<circle cx="1574.2" cy="1039.57" r="2.6" fill="#fff"/>
<path d="M1557.2 1046.97 1559.6 1046.97 1562 1046.97 1564.4 1046.97 1566.8 1046.97 1569.2 1046.97 1571.6 1046.97 1574 1046.97 1576.4 1046.97 1578.8 1046.97 1581.2 1046.97 1583.6 1047.03 1586 1047.15 1588.4 1047.32 1590.8 1047.54 1593.2 1047.8 1595.6 1048.1 1598 1048.43 1600.4 1048.77 1602.8 1049.12 1605.2 1049.47 1607.6 1049.81 1610 1050.14 1612.4 1050.44 1614.8 1050.73 1617.2 1050.99 1619.6 1051.22 1622 1051.42 1624.4 1051.6 1626.8 1051.75 1629.2 1051.87 1631.6 1051.98 1634 1052.07L1634 1052.67 1631.6 1052.76 1629.2 1052.87 1626.8 1052.99 1624.4 1053.14 1622 1053.32 1619.6 1053.52 1617.2 1053.75 1614.8 1054.01 1612.4 1054.3 1610 1054.6 1607.6 1054.93 1605.2 1055.27 1602.8 1055.62 1600.4 1055.97 1598 1056.31 1595.6 1056.64 1593.2 1056.94 1590.8 1057.2 1588.4 1057.42 1586 1057.59 1583.6 1057.71 1581.2 1057.77 1578.8 1057.77 1576.4 1057.77 1574 1057.77 1571.6 1057.77 1569.2 1057.77 1566.8 1057.77 1564.4 1057.77 1562 1057.77 1559.6 1057.77 1557.2 1057.77Z" fill="#ed7d31" stroke="#111" stroke-width="0.75"/>
<line x1="1632" y1="1052.37" x2="1679.8" y2="1052.37" stroke="#1a1a1a" stroke-width="1.1"/>
<line x1="1566" y1="1052.37" x2="1595.7" y2="1052.37" stroke="#000" stroke-width="1.5"/>
<circle cx="1580.4" cy="1052.37" r="2.6" fill="#fff"/>
<line x1="1688" y1="1042.17" x2="1688" y2="1049.37" stroke="#555" stroke-width="1"/>
<text transform="translate(1547.7,1055.57) scale(1,1.04)" style='font-size:27.4px' text-anchor="end">T cells regulatory (Tregs)</text>
<text transform="translate(1887.2,1055.57) scale(1,1.04)" style='font-size:26.4px;font-family:"Noto Sans CJK SC", "Liberation Sans", sans-serif;font-weight:500'>p&lt;0.001</text>
<path d="M1557.2 1072.56 1557.98 1072.58 1558.75 1072.62 1559.53 1072.69 1560.3 1072.8 1561.08 1072.93 1561.85 1073.08 1562.62 1073.26 1563.4 1073.45 1564.17 1073.66 1564.95 1073.88 1565.73 1074.12 1566.5 1074.36 1567.28 1074.6 1568.05 1074.85 1568.83 1075.09 1569.6 1075.33 1570.38 1075.56 1571.15 1075.79 1571.92 1076 1572.7 1076.21 1573.47 1076.4 1574.25 1076.58 1575.03 1076.74 1575.8 1076.89 1576.58 1077.03 1577.35 1077.15 1578.12 1077.27 1578.9 1077.36 1579.67 1077.45 1580.45 1077.53 1581.22 1077.6 1582 1077.66L1582 1078.26 1581.22 1078.32 1580.45 1078.39 1579.67 1078.47 1578.9 1078.56 1578.12 1078.65 1577.35 1078.77 1576.58 1078.89 1575.8 1079.03 1575.03 1079.18 1574.25 1079.34 1573.47 1079.52 1572.7 1079.71 1571.92 1079.92 1571.15 1080.13 1570.38 1080.36 1569.6 1080.59 1568.83 1080.83 1568.05 1081.07 1567.28 1081.32 1566.5 1081.56 1565.73 1081.8 1564.95 1082.04 1564.17 1082.26 1563.4 1082.47 1562.62 1082.66 1561.85 1082.84 1561.08 1082.99 1560.3 1083.12 1559.53 1083.23 1558.75 1083.3 1557.98 1083.34 1557.2 1083.36Z" fill="#4472c4" stroke="#111" stroke-width="0.75"/>
<line x1="1580" y1="1077.96" x2="1645.7" y2="1077.96" stroke="#1a1a1a" stroke-width="1.1"/>
<circle cx="1559.4" cy="1077.96" r="2.6" fill="#fff"/>
<path d="M1557.2 1085.36 1558.29 1085.38 1559.38 1085.42 1560.46 1085.49 1561.55 1085.6 1562.64 1085.73 1563.73 1085.88 1564.81 1086.06 1565.9 1086.25 1566.99 1086.46 1568.08 1086.68 1569.16 1086.92 1570.25 1087.16 1571.34 1087.4 1572.42 1087.65 1573.51 1087.89 1574.6 1088.13 1575.69 1088.36 1576.78 1088.59 1577.86 1088.8 1578.95 1089.01 1580.04 1089.2 1581.12 1089.38 1582.21 1089.54 1583.3 1089.69 1584.39 1089.83 1585.47 1089.95 1586.56 1090.07 1587.65 1090.16 1588.74 1090.25 1589.83 1090.33 1590.91 1090.4 1592 1090.46L1592 1091.06 1590.91 1091.12 1589.83 1091.19 1588.74 1091.27 1587.65 1091.36 1586.56 1091.45 1585.47 1091.57 1584.39 1091.69 1583.3 1091.83 1582.21 1091.98 1581.12 1092.14 1580.04 1092.32 1578.95 1092.51 1577.86 1092.72 1576.78 1092.93 1575.69 1093.16 1574.6 1093.39 1573.51 1093.63 1572.42 1093.87 1571.34 1094.12 1570.25 1094.36 1569.16 1094.6 1568.08 1094.84 1566.99 1095.06 1565.9 1095.27 1564.81 1095.46 1563.73 1095.64 1562.64 1095.79 1561.55 1095.92 1560.46 1096.03 1559.38 1096.1 1558.29 1096.14 1557.2 1096.16Z" fill="#ed7d31" stroke="#111" stroke-width="0.75"/>
<line x1="1590" y1="1090.76" x2="1660.3" y2="1090.76" stroke="#1a1a1a" stroke-width="1.1"/>
<circle cx="1559.4" cy="1090.76" r="2.6" fill="#fff"/>
<line x1="1660.3" y1="1080.56" x2="1660.3" y2="1087.76" stroke="#555" stroke-width="1"/>
<text transform="translate(1547.7,1093.96) scale(1,1.04)" style='font-size:27.4px' text-anchor="end">T cells gamma delta</text>
<text transform="translate(1887.2,1093.96) scale(1,1.04)" style='font-size:26.4px;font-family:"Noto Sans CJK SC", "Liberation Sans", sans-serif;font-weight:500'>p&lt;0.001</text>
<path d="M1557.2 1110.95 1558.44 1110.97 1559.69 1111.01 1560.93 1111.08 1562.17 1111.19 1563.42 1111.32 1564.66 1111.47 1565.91 1111.65 1567.15 1111.84 1568.39 1112.05 1569.64 1112.27 1570.88 1112.51 1572.12 1112.75 1573.37 1112.99 1574.61 1113.24 1575.86 1113.48 1577.1 1113.72 1578.34 1113.95 1579.59 1114.18 1580.83 1114.39 1582.08 1114.6 1583.32 1114.79 1584.56 1114.97 1585.81 1115.13 1587.05 1115.28 1588.29 1115.42 1589.54 1115.54 1590.78 1115.66 1592.03 1115.75 1593.27 1115.84 1594.51 1115.92 1595.76 1115.99 1597 1116.05L1597 1116.65 1595.76 1116.71 1594.51 1116.78 1593.27 1116.86 1592.03 1116.95 1590.78 1117.04 1589.54 1117.16 1588.29 1117.28 1587.05 1117.42 1585.81 1117.57 1584.56 1117.73 1583.32 1117.91 1582.08 1118.1 1580.83 1118.31 1579.59 1118.52 1578.34 1118.75 1577.1 1118.98 1575.86 1119.22 1574.61 1119.46 1573.37 1119.71 1572.12 1119.95 1570.88 1120.19 1569.64 1120.43 1568.39 1120.65 1567.15 1120.86 1565.91 1121.05 1564.66 1121.23 1563.42 1121.38 1562.17 1121.51 1560.93 1121.62 1559.69 1121.69 1558.44 1121.73 1557.2 1121.75Z" fill="#4472c4" stroke="#111" stroke-width="0.75"/>
<line x1="1595" y1="1116.35" x2="1672.4" y2="1116.35" stroke="#1a1a1a" stroke-width="1.1"/>
<line x1="1558" y1="1116.35" x2="1575" y2="1116.35" stroke="#000" stroke-width="1.5"/>
<circle cx="1559.4" cy="1116.35" r="2.6" fill="#fff"/>
<path d="M1557.2 1123.75 1558.67 1123.77 1560.15 1123.81 1561.62 1123.88 1563.1 1123.99 1564.58 1124.12 1566.05 1124.27 1567.53 1124.45 1569 1124.64 1570.48 1124.85 1571.95 1125.07 1573.42 1125.31 1574.9 1125.55 1576.38 1125.79 1577.85 1126.04 1579.33 1126.28 1580.8 1126.52 1582.28 1126.75 1583.75 1126.98 1585.23 1127.19 1586.7 1127.4 1588.18 1127.59 1589.65 1127.77 1591.12 1127.93 1592.6 1128.08 1594.08 1128.22 1595.55 1128.34 1597.03 1128.46 1598.5 1128.55 1599.98 1128.64 1601.45 1128.72 1602.93 1128.79 1604.4 1128.85L1604.4 1129.45 1602.93 1129.51 1601.45 1129.58 1599.98 1129.66 1598.5 1129.75 1597.03 1129.84 1595.55 1129.96 1594.08 1130.08 1592.6 1130.22 1591.12 1130.37 1589.65 1130.53 1588.18 1130.71 1586.7 1130.9 1585.23 1131.11 1583.75 1131.32 1582.28 1131.55 1580.8 1131.78 1579.33 1132.02 1577.85 1132.26 1576.38 1132.51 1574.9 1132.75 1573.42 1132.99 1571.95 1133.23 1570.48 1133.45 1569 1133.66 1567.53 1133.85 1566.05 1134.03 1564.58 1134.18 1563.1 1134.31 1561.62 1134.42 1560.15 1134.49 1558.67 1134.53 1557.2 1134.55Z" fill="#ed7d31" stroke="#111" stroke-width="0.75"/>
<line x1="1602.4" y1="1129.15" x2="1684" y2="1129.15" stroke="#1a1a1a" stroke-width="1.1"/>
<circle cx="1559.4" cy="1129.15" r="2.6" fill="#fff"/>
<line x1="1684" y1="1118.95" x2="1684" y2="1126.15" stroke="#555" stroke-width="1"/>
<text transform="translate(1547.7,1132.35) scale(1,1.04)" style='font-size:27.4px' text-anchor="end">NK cells resting</text>
<text transform="translate(1887.2,1132.35) scale(1,1.04)" style='font-size:26.4px;font-family:"Noto Sans CJK SC", "Liberation Sans", sans-serif;font-weight:500'>p&lt;0.001</text>
<path d="M1557.2 1149.34 1559.68 1149.34 1562.16 1149.34 1564.63 1149.34 1567.11 1149.34 1569.59 1149.34 1572.07 1149.34 1574.55 1149.34 1577.03 1149.34 1579.5 1149.34 1581.98 1149.34 1584.46 1149.4 1586.94 1149.52 1589.42 1149.69 1591.89 1149.91 1594.37 1150.17 1596.85 1150.47 1599.33 1150.8 1601.81 1151.14 1604.28 1151.49 1606.76 1151.84 1609.24 1152.18 1611.72 1152.51 1614.2 1152.81 1616.67 1153.1 1619.15 1153.36 1621.63 1153.59 1624.11 1153.79 1626.59 1153.97 1629.07 1154.12 1631.54 1154.24 1634.02 1154.35 1636.5 1154.44L1636.5 1155.04 1634.02 1155.13 1631.54 1155.24 1629.07 1155.36 1626.59 1155.51 1624.11 1155.69 1621.63 1155.89 1619.15 1156.12 1616.67 1156.38 1614.2 1156.67 1611.72 1156.97 1609.24 1157.3 1606.76 1157.64 1604.28 1157.99 1601.81 1158.34 1599.33 1158.68 1596.85 1159.01 1594.37 1159.31 1591.89 1159.57 1589.42 1159.79 1586.94 1159.96 1584.46 1160.08 1581.98 1160.14 1579.5 1160.14 1577.03 1160.14 1574.55 1160.14 1572.07 1160.14 1569.59 1160.14 1567.11 1160.14 1564.63 1160.14 1562.16 1160.14 1559.68 1160.14 1557.2 1160.14Z" fill="#4472c4" stroke="#111" stroke-width="0.75"/>
<line x1="1634.5" y1="1154.74" x2="1691.7" y2="1154.74" stroke="#1a1a1a" stroke-width="1.1"/>
<line x1="1563.6" y1="1154.74" x2="1590.8" y2="1154.74" stroke="#000" stroke-width="1.5"/>
<circle cx="1577.2" cy="1154.74" r="2.6" fill="#fff"/>
<path d="M1557.2 1162.14 1559.68 1162.14 1562.16 1162.14 1564.63 1162.14 1567.11 1162.14 1569.59 1162.14 1572.07 1162.14 1574.55 1162.14 1577.03 1162.14 1579.5 1162.14 1581.98 1162.14 1584.46 1162.2 1586.94 1162.32 1589.42 1162.49 1591.89 1162.71 1594.37 1162.97 1596.85 1163.27 1599.33 1163.6 1601.81 1163.94 1604.28 1164.29 1606.76 1164.64 1609.24 1164.98 1611.72 1165.31 1614.2 1165.61 1616.67 1165.9 1619.15 1166.16 1621.63 1166.39 1624.11 1166.59 1626.59 1166.77 1629.07 1166.92 1631.54 1167.04 1634.02 1167.15 1636.5 1167.24L1636.5 1167.84 1634.02 1167.93 1631.54 1168.04 1629.07 1168.16 1626.59 1168.31 1624.11 1168.49 1621.63 1168.69 1619.15 1168.92 1616.67 1169.18 1614.2 1169.47 1611.72 1169.77 1609.24 1170.1 1606.76 1170.44 1604.28 1170.79 1601.81 1171.14 1599.33 1171.48 1596.85 1171.81 1594.37 1172.11 1591.89 1172.37 1589.42 1172.59 1586.94 1172.76 1584.46 1172.88 1581.98 1172.94 1579.5 1172.94 1577.03 1172.94 1574.55 1172.94 1572.07 1172.94 1569.59 1172.94 1567.11 1172.94 1564.63 1172.94 1562.16 1172.94 1559.68 1172.94 1557.2 1172.94Z" fill="#ed7d31" stroke="#111" stroke-width="0.75"/>
<line x1="1634.5" y1="1167.54" x2="1692.9" y2="1167.54" stroke="#1a1a1a" stroke-width="1.1"/>
<line x1="1569.8" y1="1167.54" x2="1595.7" y2="1167.54" stroke="#000" stroke-width="1.5"/>
<circle cx="1581.6" cy="1167.54" r="2.6" fill="#fff"/>
<line x1="1692.9" y1="1157.34" x2="1692.9" y2="1164.54" stroke="#555" stroke-width="1"/>
<text transform="translate(1547.7,1170.74) scale(1,1.04)" style='font-size:27.4px' text-anchor="end">NK cells activated</text>
<text transform="translate(1887.2,1170.74) scale(1,1.04)" style='font-size:26.4px;font-family:"Noto Sans CJK SC", "Liberation Sans", sans-serif;font-weight:500'>p&lt;0.001</text>
<path d="M1557.2 1187.73 1560.84 1187.73 1564.48 1187.73 1568.11 1187.73 1571.75 1187.73 1575.39 1187.73 1579.03 1187.73 1582.66 1187.73 1586.3 1187.73 1589.94 1187.73 1593.58 1187.73 1597.21 1187.79 1600.85 1187.91 1604.49 1188.08 1608.12 1188.3 1611.76 1188.56 1615.4 1188.86 1619.04 1189.19 1622.67 1189.53 1626.31 1189.88 1629.95 1190.23 1633.59 1190.57 1637.22 1190.9 1640.86 1191.2 1644.5 1191.49 1648.14 1191.75 1651.77 1191.98 1655.41 1192.18 1659.05 1192.36 1662.69 1192.51 1666.32 1192.63 1669.96 1192.74 1673.6 1192.83L1673.6 1193.43 1669.96 1193.52 1666.32 1193.63 1662.69 1193.75 1659.05 1193.9 1655.41 1194.08 1651.77 1194.28 1648.14 1194.51 1644.5 1194.77 1640.86 1195.06 1637.22 1195.36 1633.59 1195.69 1629.95 1196.03 1626.31 1196.38 1622.67 1196.73 1619.04 1197.07 1615.4 1197.4 1611.76 1197.7 1608.12 1197.96 1604.49 1198.18 1600.85 1198.35 1597.21 1198.47 1593.58 1198.53 1589.94 1198.53 1586.3 1198.53 1582.66 1198.53 1579.03 1198.53 1575.39 1198.53 1571.75 1198.53 1568.11 1198.53 1564.48 1198.53 1560.84 1198.53 1557.2 1198.53Z" fill="#4472c4" stroke="#111" stroke-width="0.75"/>
<line x1="1671.6" y1="1193.13" x2="1877.6" y2="1193.13" stroke="#1a1a1a" stroke-width="1.1"/>
<line x1="1561.1" y1="1193.13" x2="1584.6" y2="1193.13" stroke="#000" stroke-width="1.5"/>
<circle cx="1569.3" cy="1193.13" r="2.6" fill="#fff"/>
<path d="M1557.2 1200.53 1561.3 1200.53 1565.41 1200.53 1569.51 1200.53 1573.61 1200.53 1577.72 1200.53 1581.82 1200.53 1585.92 1200.53 1590.03 1200.53 1594.13 1200.53 1598.23 1200.53 1602.33 1200.59 1606.44 1200.71 1610.54 1200.88 1614.64 1201.1 1618.75 1201.36 1622.85 1201.66 1626.95 1201.99 1631.06 1202.33 1635.16 1202.68 1639.26 1203.03 1643.37 1203.37 1647.47 1203.7 1651.57 1204 1655.67 1204.29 1659.78 1204.55 1663.88 1204.78 1667.98 1204.98 1672.09 1205.16 1676.19 1205.31 1680.29 1205.43 1684.4 1205.54 1688.5 1205.63L1688.5 1206.23 1684.4 1206.32 1680.29 1206.43 1676.19 1206.55 1672.09 1206.7 1667.98 1206.88 1663.88 1207.08 1659.78 1207.31 1655.67 1207.57 1651.57 1207.86 1647.47 1208.16 1643.37 1208.49 1639.26 1208.83 1635.16 1209.18 1631.06 1209.53 1626.95 1209.87 1622.85 1210.2 1618.75 1210.5 1614.64 1210.76 1610.54 1210.98 1606.44 1211.15 1602.33 1211.27 1598.23 1211.33 1594.13 1211.33 1590.03 1211.33 1585.92 1211.33 1581.82 1211.33 1577.72 1211.33 1573.61 1211.33 1569.51 1211.33 1565.41 1211.33 1561.3 1211.33 1557.2 1211.33Z" fill="#ed7d31" stroke="#111" stroke-width="0.75"/>
<line x1="1686.5" y1="1205.93" x2="1845.5" y2="1205.93" stroke="#1a1a1a" stroke-width="1.1"/>
<line x1="1566" y1="1205.93" x2="1593.3" y2="1205.93" stroke="#000" stroke-width="1.5"/>
<circle cx="1576.7" cy="1205.93" r="2.6" fill="#fff"/>
<line x1="1877.6" y1="1195.73" x2="1877.6" y2="1202.93" stroke="#555" stroke-width="1"/>
<text transform="translate(1547.7,1209.13) scale(1,1.04)" style='font-size:27.4px' text-anchor="end">Monocytes</text>
<text transform="translate(1887.2,1209.13) scale(1,1.04)" style='font-size:26.4px;font-family:"Noto Sans CJK SC", "Liberation Sans", sans-serif;font-weight:500'>p&lt;0.001</text>
<path d="M1557.2 1226.12 1563.54 1226.12 1569.88 1226.12 1576.21 1226.12 1582.55 1226.12 1588.89 1226.12 1595.23 1226.12 1601.56 1226.12 1607.9 1226.12 1614.24 1226.12 1620.58 1226.12 1626.91 1226.18 1633.25 1226.3 1639.59 1226.47 1645.92 1226.69 1652.26 1226.95 1658.6 1227.25 1664.94 1227.58 1671.28 1227.92 1677.61 1228.27 1683.95 1228.62 1690.29 1228.96 1696.62 1229.29 1702.96 1229.59 1709.3 1229.88 1715.64 1230.14 1721.97 1230.37 1728.31 1230.57 1734.65 1230.75 1740.99 1230.9 1747.33 1231.02 1753.66 1231.13 1760 1231.22L1760 1231.82 1753.66 1231.91 1747.33 1232.02 1740.99 1232.14 1734.65 1232.29 1728.31 1232.47 1721.97 1232.67 1715.64 1232.9 1709.3 1233.16 1702.96 1233.45 1696.62 1233.75 1690.29 1234.08 1683.95 1234.42 1677.61 1234.77 1671.28 1235.12 1664.94 1235.46 1658.6 1235.79 1652.26 1236.09 1645.92 1236.35 1639.59 1236.57 1633.25 1236.74 1626.91 1236.86 1620.58 1236.92 1614.24 1236.92 1607.9 1236.92 1601.56 1236.92 1595.23 1236.92 1588.89 1236.92 1582.55 1236.92 1576.21 1236.92 1569.88 1236.92 1563.54 1236.92 1557.2 1236.92Z" fill="#4472c4" stroke="#111" stroke-width="0.75"/>
<line x1="1758" y1="1231.52" x2="1945.6" y2="1231.52" stroke="#1a1a1a" stroke-width="1.1"/>
<line x1="1583.4" y1="1231.52" x2="1635.3" y2="1231.52" stroke="#000" stroke-width="1.5"/>
<circle cx="1607.4" cy="1231.52" r="2.6" fill="#fff"/>
<path d="M1557.2 1238.92 1562.38 1238.92 1567.56 1238.92 1572.74 1238.92 1577.92 1238.92 1583.11 1238.92 1588.29 1238.92 1593.47 1238.92 1598.65 1238.92 1603.83 1238.92 1609.01 1238.92 1614.19 1238.98 1619.38 1239.1 1624.56 1239.27 1629.74 1239.49 1634.92 1239.75 1640.1 1240.05 1645.28 1240.38 1650.46 1240.72 1655.64 1241.07 1660.83 1241.42 1666.01 1241.76 1671.19 1242.09 1676.37 1242.39 1681.55 1242.68 1686.73 1242.94 1691.91 1243.17 1697.09 1243.37 1702.28 1243.55 1707.46 1243.7 1712.64 1243.82 1717.82 1243.93 1723 1244.02L1723 1244.62 1717.82 1244.71 1712.64 1244.82 1707.46 1244.94 1702.28 1245.09 1697.09 1245.27 1691.91 1245.47 1686.73 1245.7 1681.55 1245.96 1676.37 1246.25 1671.19 1246.55 1666.01 1246.88 1660.83 1247.22 1655.64 1247.57 1650.46 1247.92 1645.28 1248.26 1640.1 1248.59 1634.92 1248.89 1629.74 1249.15 1624.56 1249.37 1619.38 1249.54 1614.19 1249.66 1609.01 1249.72 1603.83 1249.72 1598.65 1249.72 1593.47 1249.72 1588.29 1249.72 1583.11 1249.72 1577.92 1249.72 1572.74 1249.72 1567.56 1249.72 1562.38 1249.72 1557.2 1249.72Z" fill="#ed7d31" stroke="#111" stroke-width="0.75"/>
<line x1="1721" y1="1244.32" x2="1907.3" y2="1244.32" stroke="#1a1a1a" stroke-width="1.1"/>
<line x1="1568.5" y1="1244.32" x2="1621.7" y2="1244.32" stroke="#000" stroke-width="1.5"/>
<circle cx="1592.8" cy="1244.32" r="2.6" fill="#fff"/>
<line x1="1945.6" y1="1234.12" x2="1945.6" y2="1241.32" stroke="#555" stroke-width="1"/>
<text transform="translate(1547.7,1247.52) scale(1,1.04)" style='font-size:27.4px' text-anchor="end">Macrophages M0</text>
<text transform="translate(1887.2,1247.52) scale(1,1.04)" style='font-size:26.4px;font-family:"Noto Sans CJK SC", "Liberation Sans", sans-serif;font-weight:500'>p&lt;0.001</text>
<path d="M1557.2 1269.18 1560.22 1268.95 1563.24 1268.67 1566.26 1268.34 1569.28 1267.96 1572.29 1267.55 1575.31 1267.1 1578.33 1266.64 1581.35 1266.17 1584.37 1265.73 1587.39 1265.33 1590.41 1264.99 1593.42 1264.73 1596.44 1264.57 1599.46 1264.51 1602.48 1264.56 1605.5 1264.7 1608.52 1264.92 1611.54 1265.22 1614.56 1265.58 1617.58 1265.99 1620.59 1266.41 1623.61 1266.85 1626.63 1267.28 1629.65 1267.69 1632.67 1268.07 1635.69 1268.41 1638.71 1268.71 1641.72 1268.96 1644.74 1269.18 1647.76 1269.35 1650.78 1269.5 1653.8 1269.61L1653.8 1270.21 1650.78 1270.32 1647.76 1270.47 1644.74 1270.64 1641.72 1270.86 1638.71 1271.11 1635.69 1271.41 1632.67 1271.75 1629.65 1272.13 1626.63 1272.54 1623.61 1272.97 1620.59 1273.41 1617.58 1273.83 1614.56 1274.24 1611.54 1274.6 1608.52 1274.9 1605.5 1275.12 1602.48 1275.26 1599.46 1275.31 1596.44 1275.25 1593.42 1275.09 1590.41 1274.83 1587.39 1274.49 1584.37 1274.09 1581.35 1273.65 1578.33 1273.18 1575.31 1272.72 1572.29 1272.27 1569.28 1271.86 1566.26 1271.48 1563.24 1271.15 1560.22 1270.87 1557.2 1270.64Z" fill="#4472c4" stroke="#111" stroke-width="0.75"/>
<line x1="1651.8" y1="1269.91" x2="1684.3" y2="1269.91" stroke="#1a1a1a" stroke-width="1.1"/>
<line x1="1585.9" y1="1269.91" x2="1611.8" y2="1269.91" stroke="#000" stroke-width="1.5"/>
<circle cx="1599.5" cy="1269.91" r="2.6" fill="#fff"/>
<path d="M1557.2 1281.98 1560.26 1281.74 1563.31 1281.46 1566.37 1281.13 1569.42 1280.75 1572.48 1280.32 1575.54 1279.87 1578.59 1279.4 1581.65 1278.93 1584.71 1278.48 1587.76 1278.08 1590.82 1277.75 1593.88 1277.5 1596.93 1277.35 1599.99 1277.31 1603.04 1277.37 1606.1 1277.53 1609.16 1277.76 1612.21 1278.07 1615.27 1278.43 1618.33 1278.83 1621.38 1279.26 1624.44 1279.69 1627.49 1280.11 1630.55 1280.52 1633.61 1280.89 1636.66 1281.23 1639.72 1281.52 1642.78 1281.77 1645.83 1281.98 1648.89 1282.16 1651.94 1282.3 1655 1282.41L1655 1283.01 1651.94 1283.12 1648.89 1283.26 1645.83 1283.44 1642.78 1283.65 1639.72 1283.9 1636.66 1284.19 1633.61 1284.53 1630.55 1284.9 1627.49 1285.31 1624.44 1285.73 1621.38 1286.16 1618.33 1286.59 1615.27 1286.99 1612.21 1287.35 1609.16 1287.66 1606.1 1287.89 1603.04 1288.05 1599.99 1288.11 1596.93 1288.07 1593.88 1287.92 1590.82 1287.67 1587.76 1287.34 1584.71 1286.94 1581.65 1286.49 1578.59 1286.02 1575.54 1285.55 1572.48 1285.1 1569.42 1284.67 1566.37 1284.29 1563.31 1283.96 1560.26 1283.68 1557.2 1283.44Z" fill="#ed7d31" stroke="#111" stroke-width="0.75"/>
<line x1="1653" y1="1282.71" x2="1691.4" y2="1282.71" stroke="#1a1a1a" stroke-width="1.1"/>
<line x1="1585.9" y1="1282.71" x2="1611.8" y2="1282.71" stroke="#000" stroke-width="1.5"/>
<circle cx="1599.5" cy="1282.71" r="2.6" fill="#fff"/>
<line x1="1691.4" y1="1272.51" x2="1691.4" y2="1279.71" stroke="#555" stroke-width="1"/>
<text transform="translate(1547.7,1285.91) scale(1,1.04)" style='font-size:27.4px' text-anchor="end">Macrophages M1</text>
<text transform="translate(1887.2,1285.91) scale(1,1.04)" style='font-size:26.4px;font-family:"Noto Sans CJK SC", "Liberation Sans", sans-serif;font-weight:500'>p&gt;0.05</text>
<path d="M1557.2 1307.57 1565.09 1307.27 1572.98 1306.9 1580.86 1306.45 1588.75 1305.93 1596.64 1305.36 1604.53 1304.78 1612.41 1304.21 1620.3 1303.7 1628.19 1303.29 1636.08 1303.01 1643.96 1302.9 1651.85 1302.93 1659.74 1303.02 1667.62 1303.18 1675.51 1303.4 1683.4 1303.68 1691.29 1303.99 1699.17 1304.34 1707.06 1304.71 1714.95 1305.08 1722.84 1305.46 1730.72 1305.82 1738.61 1306.17 1746.5 1306.49 1754.39 1306.78 1762.27 1307.05 1770.16 1307.28 1778.05 1307.48 1785.94 1307.65 1793.82 1307.79 1801.71 1307.9 1809.6 1308L1809.6 1308.6 1801.71 1308.7 1793.82 1308.81 1785.94 1308.95 1778.05 1309.12 1770.16 1309.32 1762.27 1309.55 1754.39 1309.82 1746.5 1310.11 1738.61 1310.43 1730.72 1310.78 1722.84 1311.14 1714.95 1311.52 1707.06 1311.89 1699.17 1312.26 1691.29 1312.61 1683.4 1312.92 1675.51 1313.2 1667.62 1313.42 1659.74 1313.58 1651.85 1313.67 1643.96 1313.7 1636.08 1313.59 1628.19 1313.31 1620.3 1312.9 1612.41 1312.39 1604.53 1311.82 1596.64 1311.24 1588.75 1310.67 1580.86 1310.15 1572.98 1309.7 1565.09 1309.33 1557.2 1309.03Z" fill="#4472c4" stroke="#111" stroke-width="0.75"/>
<line x1="1807.6" y1="1308.3" x2="1903.6" y2="1308.3" stroke="#1a1a1a" stroke-width="1.1"/>
<line x1="1622.9" y1="1308.3" x2="1674.9" y2="1308.3" stroke="#000" stroke-width="1.5"/>
<circle cx="1645.2" cy="1308.3" r="2.6" fill="#fff"/>
<path d="M1557.2 1320.37 1564.69 1320.11 1572.19 1319.8 1579.68 1319.42 1587.17 1318.99 1594.67 1318.52 1602.16 1318.01 1609.66 1317.5 1617.15 1317 1624.64 1316.55 1632.14 1316.17 1639.63 1315.9 1647.12 1315.74 1654.62 1315.7 1662.11 1315.77 1669.61 1315.91 1677.1 1316.13 1684.59 1316.41 1692.09 1316.75 1699.58 1317.12 1707.08 1317.52 1714.57 1317.92 1722.06 1318.33 1729.56 1318.72 1737.05 1319.08 1744.54 1319.42 1752.04 1319.72 1759.53 1319.99 1767.03 1320.21 1774.52 1320.41 1782.01 1320.57 1789.51 1320.69 1797 1320.8L1797 1321.4 1789.51 1321.51 1782.01 1321.63 1774.52 1321.79 1767.03 1321.99 1759.53 1322.21 1752.04 1322.48 1744.54 1322.78 1737.05 1323.12 1729.56 1323.48 1722.06 1323.87 1714.57 1324.28 1707.08 1324.68 1699.58 1325.08 1692.09 1325.45 1684.59 1325.79 1677.1 1326.07 1669.61 1326.29 1662.11 1326.43 1654.62 1326.5 1647.12 1326.46 1639.63 1326.3 1632.14 1326.03 1624.64 1325.65 1617.15 1325.2 1609.66 1324.7 1602.16 1324.19 1594.67 1323.68 1587.17 1323.21 1579.68 1322.78 1572.19 1322.4 1564.69 1322.09 1557.2 1321.83Z" fill="#ed7d31" stroke="#111" stroke-width="0.75"/>
<line x1="1795" y1="1321.1" x2="1876.9" y2="1321.1" stroke="#1a1a1a" stroke-width="1.1"/>
<line x1="1626.6" y1="1321.1" x2="1684.8" y2="1321.1" stroke="#000" stroke-width="1.5"/>
<circle cx="1652.6" cy="1321.1" r="2.6" fill="#fff"/>
<line x1="1903.6" y1="1310.9" x2="1903.6" y2="1318.1" stroke="#555" stroke-width="1"/>
<text transform="translate(1547.7,1324.3) scale(1,1.04)" style='font-size:27.4px' text-anchor="end">Macrophages M2</text>
<text transform="translate(1887.2,1324.3) scale(1,1.04)" style='font-size:26.4px;font-family:"Noto Sans CJK SC", "Liberation Sans", sans-serif;font-weight:500'>p&lt;0.001</text>
<path d="M1557.2 1341.29 1560.45 1341.29 1563.71 1341.29 1566.96 1341.29 1570.21 1341.29 1573.47 1341.29 1576.72 1341.29 1579.97 1341.29 1583.22 1341.29 1586.48 1341.29 1589.73 1341.29 1592.98 1341.35 1596.24 1341.47 1599.49 1341.64 1602.74 1341.86 1606 1342.12 1609.25 1342.42 1612.5 1342.75 1615.76 1343.09 1619.01 1343.44 1622.26 1343.79 1625.52 1344.13 1628.77 1344.46 1632.02 1344.76 1635.28 1345.05 1638.53 1345.31 1641.78 1345.54 1645.03 1345.74 1648.29 1345.92 1651.54 1346.07 1654.79 1346.19 1658.05 1346.3 1661.3 1346.39L1661.3 1346.99 1658.05 1347.08 1654.79 1347.19 1651.54 1347.31 1648.29 1347.46 1645.03 1347.64 1641.78 1347.84 1638.53 1348.07 1635.28 1348.33 1632.02 1348.62 1628.77 1348.92 1625.52 1349.25 1622.26 1349.59 1619.01 1349.94 1615.76 1350.29 1612.5 1350.63 1609.25 1350.96 1606 1351.26 1602.74 1351.52 1599.49 1351.74 1596.24 1351.91 1592.98 1352.03 1589.73 1352.09 1586.48 1352.09 1583.22 1352.09 1579.97 1352.09 1576.72 1352.09 1573.47 1352.09 1570.21 1352.09 1566.96 1352.09 1563.71 1352.09 1560.45 1352.09 1557.2 1352.09Z" fill="#4472c4" stroke="#111" stroke-width="0.75"/>
<line x1="1659.3" y1="1346.69" x2="1744.1" y2="1346.69" stroke="#1a1a1a" stroke-width="1.1"/>
<line x1="1557.4" y1="1346.69" x2="1600.7" y2="1346.69" stroke="#000" stroke-width="1.5"/>
<circle cx="1577.9" cy="1346.69" r="2.6" fill="#fff"/>
<path d="M1557.2 1354.09 1560.45 1354.09 1563.71 1354.09 1566.96 1354.09 1570.21 1354.09 1573.47 1354.09 1576.72 1354.09 1579.97 1354.09 1583.22 1354.09 1586.48 1354.09 1589.73 1354.09 1592.98 1354.15 1596.24 1354.27 1599.49 1354.44 1602.74 1354.66 1606 1354.92 1609.25 1355.22 1612.5 1355.55 1615.76 1355.89 1619.01 1356.24 1622.26 1356.59 1625.52 1356.93 1628.77 1357.26 1632.02 1357.56 1635.28 1357.85 1638.53 1358.11 1641.78 1358.34 1645.03 1358.54 1648.29 1358.72 1651.54 1358.87 1654.79 1358.99 1658.05 1359.1 1661.3 1359.19L1661.3 1359.79 1658.05 1359.88 1654.79 1359.99 1651.54 1360.11 1648.29 1360.26 1645.03 1360.44 1641.78 1360.64 1638.53 1360.87 1635.28 1361.13 1632.02 1361.42 1628.77 1361.72 1625.52 1362.05 1622.26 1362.39 1619.01 1362.74 1615.76 1363.09 1612.5 1363.43 1609.25 1363.76 1606 1364.06 1602.74 1364.32 1599.49 1364.54 1596.24 1364.71 1592.98 1364.83 1589.73 1364.89 1586.48 1364.89 1583.22 1364.89 1579.97 1364.89 1576.72 1364.89 1573.47 1364.89 1570.21 1364.89 1566.96 1364.89 1563.71 1364.89 1560.45 1364.89 1557.2 1364.89Z" fill="#ed7d31" stroke="#111" stroke-width="0.75"/>
<line x1="1659.3" y1="1359.49" x2="1761.4" y2="1359.49" stroke="#1a1a1a" stroke-width="1.1"/>
<line x1="1557.4" y1="1359.49" x2="1599.5" y2="1359.49" stroke="#000" stroke-width="1.5"/>
<circle cx="1574.2" cy="1359.49" r="2.6" fill="#fff"/>
<line x1="1761.4" y1="1349.29" x2="1761.4" y2="1356.49" stroke="#555" stroke-width="1"/>
<text transform="translate(1547.7,1362.69) scale(1,1.04)" style='font-size:27.4px' text-anchor="end">Dendritic cells resting</text>
<text transform="translate(1887.2,1362.69) scale(1,1.04)" style='font-size:26.4px;font-family:"Noto Sans CJK SC", "Liberation Sans", sans-serif;font-weight:500'>p&lt;0.05</text>
<path d="M1557.2 1379.68 1559.76 1379.68 1562.31 1379.68 1564.87 1379.68 1567.42 1379.68 1569.98 1379.68 1572.54 1379.68 1575.09 1379.68 1577.65 1379.68 1580.21 1379.68 1582.76 1379.68 1585.32 1379.74 1587.88 1379.86 1590.43 1380.03 1592.99 1380.25 1595.54 1380.51 1598.1 1380.81 1600.66 1381.14 1603.21 1381.48 1605.77 1381.83 1608.33 1382.18 1610.88 1382.52 1613.44 1382.85 1615.99 1383.15 1618.55 1383.44 1621.11 1383.7 1623.66 1383.93 1626.22 1384.13 1628.78 1384.31 1631.33 1384.46 1633.89 1384.58 1636.44 1384.69 1639 1384.78L1639 1385.38 1636.44 1385.47 1633.89 1385.58 1631.33 1385.7 1628.78 1385.85 1626.22 1386.03 1623.66 1386.23 1621.11 1386.46 1618.55 1386.72 1615.99 1387.01 1613.44 1387.31 1610.88 1387.64 1608.33 1387.98 1605.77 1388.33 1603.21 1388.68 1600.66 1389.02 1598.1 1389.35 1595.54 1389.65 1592.99 1389.91 1590.43 1390.13 1587.88 1390.3 1585.32 1390.42 1582.76 1390.48 1580.21 1390.48 1577.65 1390.48 1575.09 1390.48 1572.54 1390.48 1569.98 1390.48 1567.42 1390.48 1564.87 1390.48 1562.31 1390.48 1559.76 1390.48 1557.2 1390.48Z" fill="#4472c4" stroke="#111" stroke-width="0.75"/>
<line x1="1637" y1="1385.08" x2="1743.6" y2="1385.08" stroke="#1a1a1a" stroke-width="1.1"/>
<line x1="1561" y1="1385.08" x2="1585" y2="1385.08" stroke="#000" stroke-width="1.5"/>
<circle cx="1567.3" cy="1385.08" r="2.6" fill="#fff"/>
<path d="M1557.2 1392.48 1559.29 1392.5 1561.39 1392.54 1563.48 1392.61 1565.58 1392.72 1567.67 1392.85 1569.76 1393 1571.86 1393.18 1573.95 1393.37 1576.04 1393.58 1578.14 1393.8 1580.23 1394.04 1582.33 1394.28 1584.42 1394.52 1586.51 1394.77 1588.61 1395.01 1590.7 1395.25 1592.79 1395.48 1594.89 1395.71 1596.98 1395.92 1599.08 1396.13 1601.17 1396.32 1603.26 1396.5 1605.36 1396.66 1607.45 1396.81 1609.54 1396.95 1611.64 1397.07 1613.73 1397.19 1615.83 1397.28 1617.92 1397.37 1620.01 1397.45 1622.11 1397.52 1624.2 1397.58L1624.2 1398.18 1622.11 1398.24 1620.01 1398.31 1617.92 1398.39 1615.83 1398.48 1613.73 1398.57 1611.64 1398.69 1609.54 1398.81 1607.45 1398.95 1605.36 1399.1 1603.26 1399.26 1601.17 1399.44 1599.08 1399.63 1596.98 1399.84 1594.89 1400.05 1592.79 1400.28 1590.7 1400.51 1588.61 1400.75 1586.51 1400.99 1584.42 1401.24 1582.33 1401.48 1580.23 1401.72 1578.14 1401.96 1576.04 1402.18 1573.95 1402.39 1571.86 1402.58 1569.76 1402.76 1567.67 1402.91 1565.58 1403.04 1563.48 1403.15 1561.39 1403.22 1559.29 1403.26 1557.2 1403.28Z" fill="#ed7d31" stroke="#111" stroke-width="0.75"/>
<line x1="1622.2" y1="1397.88" x2="1720.1" y2="1397.88" stroke="#1a1a1a" stroke-width="1.1"/>
<line x1="1558" y1="1397.88" x2="1573" y2="1397.88" stroke="#000" stroke-width="1.5"/>
<circle cx="1559.4" cy="1397.88" r="2.6" fill="#fff"/>
<line x1="1743.6" y1="1387.68" x2="1743.6" y2="1394.88" stroke="#555" stroke-width="1"/>
<text transform="translate(1547.7,1401.08) scale(1,1.04)" style='font-size:27.4px' text-anchor="end">Dendritic cells activated</text>
<text transform="translate(1887.2,1401.08) scale(1,1.04)" style='font-size:26.4px;font-family:"Noto Sans CJK SC", "Liberation Sans", sans-serif;font-weight:500'>p&lt;0.001</text>
<path d="M1557.2 1418.07 1560.61 1418.07 1564.01 1418.07 1567.42 1418.07 1570.83 1418.07 1574.23 1418.07 1577.64 1418.07 1581.04 1418.07 1584.45 1418.07 1587.86 1418.07 1591.26 1418.07 1594.67 1418.13 1598.08 1418.25 1601.48 1418.42 1604.89 1418.64 1608.29 1418.9 1611.7 1419.2 1615.11 1419.53 1618.51 1419.87 1621.92 1420.22 1625.33 1420.57 1628.73 1420.91 1632.14 1421.24 1635.54 1421.54 1638.95 1421.83 1642.36 1422.09 1645.76 1422.32 1649.17 1422.52 1652.58 1422.7 1655.98 1422.85 1659.39 1422.97 1662.79 1423.08 1666.2 1423.17L1666.2 1423.77 1662.79 1423.86 1659.39 1423.97 1655.98 1424.09 1652.58 1424.24 1649.17 1424.42 1645.76 1424.62 1642.36 1424.85 1638.95 1425.11 1635.54 1425.4 1632.14 1425.7 1628.73 1426.03 1625.33 1426.37 1621.92 1426.72 1618.51 1427.07 1615.11 1427.41 1611.7 1427.74 1608.29 1428.04 1604.89 1428.3 1601.48 1428.52 1598.08 1428.69 1594.67 1428.81 1591.26 1428.87 1587.86 1428.87 1584.45 1428.87 1581.04 1428.87 1577.64 1428.87 1574.23 1428.87 1570.83 1428.87 1567.42 1428.87 1564.01 1428.87 1560.61 1428.87 1557.2 1428.87Z" fill="#4472c4" stroke="#111" stroke-width="0.75"/>
<line x1="1664.2" y1="1423.47" x2="1757.2" y2="1423.47" stroke="#1a1a1a" stroke-width="1.1"/>
<line x1="1558.7" y1="1423.47" x2="1599.5" y2="1423.47" stroke="#000" stroke-width="1.5"/>
<circle cx="1579.7" cy="1423.47" r="2.6" fill="#fff"/>
<path d="M1557.2 1430.87 1561.46 1430.87 1565.71 1430.87 1569.97 1430.87 1574.23 1430.87 1578.48 1430.87 1582.74 1430.87 1586.99 1430.87 1591.25 1430.87 1595.51 1430.87 1599.76 1430.87 1604.02 1430.93 1608.28 1431.05 1612.53 1431.22 1616.79 1431.44 1621.04 1431.7 1625.3 1432 1629.56 1432.33 1633.81 1432.67 1638.07 1433.02 1642.33 1433.37 1646.58 1433.71 1650.84 1434.04 1655.09 1434.34 1659.35 1434.63 1663.61 1434.89 1667.86 1435.12 1672.12 1435.32 1676.38 1435.5 1680.63 1435.65 1684.89 1435.77 1689.14 1435.88 1693.4 1435.97L1693.4 1436.57 1689.14 1436.66 1684.89 1436.77 1680.63 1436.89 1676.38 1437.04 1672.12 1437.22 1667.86 1437.42 1663.61 1437.65 1659.35 1437.91 1655.09 1438.2 1650.84 1438.5 1646.58 1438.83 1642.33 1439.17 1638.07 1439.52 1633.81 1439.87 1629.56 1440.21 1625.3 1440.54 1621.04 1440.84 1616.79 1441.1 1612.53 1441.32 1608.28 1441.49 1604.02 1441.61 1599.76 1441.67 1595.51 1441.67 1591.25 1441.67 1586.99 1441.67 1582.74 1441.67 1578.48 1441.67 1574.23 1441.67 1569.97 1441.67 1565.71 1441.67 1561.46 1441.67 1557.2 1441.67Z" fill="#ed7d31" stroke="#111" stroke-width="0.75"/>
<line x1="1691.4" y1="1436.27" x2="1816.3" y2="1436.27" stroke="#1a1a1a" stroke-width="1.1"/>
<line x1="1573.5" y1="1436.27" x2="1614.3" y2="1436.27" stroke="#000" stroke-width="1.5"/>
<circle cx="1590.1" cy="1436.27" r="2.6" fill="#fff"/>
<line x1="1816.3" y1="1426.07" x2="1816.3" y2="1433.27" stroke="#555" stroke-width="1"/>
<text transform="translate(1547.7,1439.47) scale(1,1.04)" style='font-size:27.4px' text-anchor="end">Mast cells resting</text>
<text transform="translate(1887.2,1439.47) scale(1,1.04)" style='font-size:26.4px;font-family:"Noto Sans CJK SC", "Liberation Sans", sans-serif;font-weight:500'>p&lt;0.001</text>
<path d="M1557.2 1456.46 1558.75 1456.48 1560.31 1456.52 1561.86 1456.59 1563.41 1456.7 1564.97 1456.83 1566.52 1456.98 1568.07 1457.16 1569.62 1457.35 1571.18 1457.56 1572.73 1457.78 1574.28 1458.02 1575.84 1458.26 1577.39 1458.5 1578.94 1458.75 1580.5 1458.99 1582.05 1459.23 1583.6 1459.46 1585.16 1459.69 1586.71 1459.9 1588.26 1460.11 1589.82 1460.3 1591.37 1460.48 1592.92 1460.64 1594.48 1460.79 1596.03 1460.93 1597.58 1461.05 1599.13 1461.17 1600.69 1461.26 1602.24 1461.35 1603.79 1461.43 1605.35 1461.5 1606.9 1461.56L1606.9 1462.16 1605.35 1462.22 1603.79 1462.29 1602.24 1462.37 1600.69 1462.46 1599.13 1462.55 1597.58 1462.67 1596.03 1462.79 1594.48 1462.93 1592.92 1463.08 1591.37 1463.24 1589.82 1463.42 1588.26 1463.61 1586.71 1463.82 1585.16 1464.03 1583.6 1464.26 1582.05 1464.49 1580.5 1464.73 1578.94 1464.97 1577.39 1465.22 1575.84 1465.46 1574.28 1465.7 1572.73 1465.94 1571.18 1466.16 1569.62 1466.37 1568.07 1466.56 1566.52 1466.74 1564.97 1466.89 1563.41 1467.02 1561.86 1467.13 1560.31 1467.2 1558.75 1467.24 1557.2 1467.26Z" fill="#4472c4" stroke="#111" stroke-width="0.75"/>
<line x1="1604.9" y1="1461.86" x2="1714.4" y2="1461.86" stroke="#1a1a1a" stroke-width="1.1"/>
<circle cx="1559.4" cy="1461.86" r="2.6" fill="#fff"/>
<path d="M1557.2 1469.26 1558.13 1469.28 1559.06 1469.32 1559.99 1469.39 1560.92 1469.5 1561.86 1469.63 1562.79 1469.78 1563.72 1469.96 1564.65 1470.15 1565.58 1470.36 1566.51 1470.58 1567.44 1470.82 1568.38 1471.06 1569.31 1471.3 1570.24 1471.55 1571.17 1471.79 1572.1 1472.03 1573.03 1472.26 1573.96 1472.49 1574.89 1472.7 1575.83 1472.91 1576.76 1473.1 1577.69 1473.28 1578.62 1473.44 1579.55 1473.59 1580.48 1473.73 1581.41 1473.85 1582.34 1473.97 1583.28 1474.06 1584.21 1474.15 1585.14 1474.23 1586.07 1474.3 1587 1474.36L1587 1474.96 1586.07 1475.02 1585.14 1475.09 1584.21 1475.17 1583.28 1475.26 1582.34 1475.35 1581.41 1475.47 1580.48 1475.59 1579.55 1475.73 1578.62 1475.88 1577.69 1476.04 1576.76 1476.22 1575.83 1476.41 1574.89 1476.62 1573.96 1476.83 1573.03 1477.06 1572.1 1477.29 1571.17 1477.53 1570.24 1477.77 1569.31 1478.02 1568.38 1478.26 1567.44 1478.5 1566.51 1478.74 1565.58 1478.96 1564.65 1479.17 1563.72 1479.36 1562.79 1479.54 1561.86 1479.69 1560.92 1479.82 1559.99 1479.93 1559.06 1480 1558.13 1480.04 1557.2 1480.06Z" fill="#ed7d31" stroke="#111" stroke-width="0.75"/>
<line x1="1585" y1="1474.66" x2="1664.2" y2="1474.66" stroke="#1a1a1a" stroke-width="1.1"/>
<circle cx="1559.4" cy="1474.66" r="2.6" fill="#fff"/>
<line x1="1714.4" y1="1464.46" x2="1714.4" y2="1471.66" stroke="#555" stroke-width="1"/>
<text transform="translate(1547.7,1477.86) scale(1,1.04)" style='font-size:27.4px' text-anchor="end">Mast cells activated</text>
<text transform="translate(1887.2,1477.86) scale(1,1.04)" style='font-size:26.4px;font-family:"Noto Sans CJK SC", "Liberation Sans", sans-serif;font-weight:500'>p&lt;0.001</text>
<path d="M1557.2 1494.85 1558.37 1494.87 1559.53 1494.91 1560.7 1494.98 1561.86 1495.09 1563.03 1495.22 1564.19 1495.37 1565.36 1495.55 1566.53 1495.74 1567.69 1495.95 1568.86 1496.17 1570.02 1496.41 1571.19 1496.65 1572.35 1496.89 1573.52 1497.14 1574.68 1497.38 1575.85 1497.62 1577.02 1497.85 1578.18 1498.08 1579.35 1498.29 1580.51 1498.5 1581.68 1498.69 1582.84 1498.87 1584.01 1499.03 1585.17 1499.18 1586.34 1499.32 1587.51 1499.44 1588.67 1499.56 1589.84 1499.65 1591 1499.74 1592.17 1499.82 1593.33 1499.89 1594.5 1499.95L1594.5 1500.55 1593.33 1500.61 1592.17 1500.68 1591 1500.76 1589.84 1500.85 1588.67 1500.94 1587.51 1501.06 1586.34 1501.18 1585.17 1501.32 1584.01 1501.47 1582.84 1501.63 1581.68 1501.81 1580.51 1502 1579.35 1502.21 1578.18 1502.42 1577.02 1502.65 1575.85 1502.88 1574.68 1503.12 1573.52 1503.36 1572.35 1503.61 1571.19 1503.85 1570.02 1504.09 1568.86 1504.33 1567.69 1504.55 1566.53 1504.76 1565.36 1504.95 1564.19 1505.13 1563.03 1505.28 1561.86 1505.41 1560.7 1505.52 1559.53 1505.59 1558.37 1505.63 1557.2 1505.65Z" fill="#4472c4" stroke="#111" stroke-width="0.75"/>
<line x1="1592.5" y1="1500.25" x2="1677.8" y2="1500.25" stroke="#1a1a1a" stroke-width="1.1"/>
<circle cx="1559.4" cy="1500.25" r="2.6" fill="#fff"/>
<path d="M1557.2 1507.65 1558.44 1507.67 1559.69 1507.71 1560.93 1507.78 1562.17 1507.89 1563.42 1508.02 1564.66 1508.17 1565.91 1508.35 1567.15 1508.54 1568.39 1508.75 1569.64 1508.97 1570.88 1509.21 1572.12 1509.45 1573.37 1509.69 1574.61 1509.94 1575.86 1510.18 1577.1 1510.42 1578.34 1510.65 1579.59 1510.88 1580.83 1511.09 1582.08 1511.3 1583.32 1511.49 1584.56 1511.67 1585.81 1511.83 1587.05 1511.98 1588.29 1512.12 1589.54 1512.24 1590.78 1512.36 1592.03 1512.45 1593.27 1512.54 1594.51 1512.62 1595.76 1512.69 1597 1512.75L1597 1513.35 1595.76 1513.41 1594.51 1513.48 1593.27 1513.56 1592.03 1513.65 1590.78 1513.74 1589.54 1513.86 1588.29 1513.98 1587.05 1514.12 1585.81 1514.27 1584.56 1514.43 1583.32 1514.61 1582.08 1514.8 1580.83 1515.01 1579.59 1515.22 1578.34 1515.45 1577.1 1515.68 1575.86 1515.92 1574.61 1516.16 1573.37 1516.41 1572.12 1516.65 1570.88 1516.89 1569.64 1517.13 1568.39 1517.35 1567.15 1517.56 1565.91 1517.75 1564.66 1517.93 1563.42 1518.08 1562.17 1518.21 1560.93 1518.32 1559.69 1518.39 1558.44 1518.43 1557.2 1518.45Z" fill="#ed7d31" stroke="#111" stroke-width="0.75"/>
<line x1="1595" y1="1513.05" x2="1685.5" y2="1513.05" stroke="#1a1a1a" stroke-width="1.1"/>
<circle cx="1559.4" cy="1513.05" r="2.6" fill="#fff"/>
<line x1="1685.5" y1="1502.85" x2="1685.5" y2="1510.05" stroke="#555" stroke-width="1"/>
<text transform="translate(1547.7,1516.25) scale(1,1.04)" style='font-size:27.4px' text-anchor="end">Eosinophils</text>
<text transform="translate(1887.2,1516.25) scale(1,1.04)" style='font-size:26.4px;font-family:"Noto Sans CJK SC", "Liberation Sans", sans-serif;font-weight:500'>p&lt;0.001</text>
<path d="M1557.2 1533.24 1558.76 1533.26 1560.31 1533.3 1561.87 1533.37 1563.42 1533.48 1564.98 1533.61 1566.54 1533.76 1568.09 1533.94 1569.65 1534.13 1571.21 1534.34 1572.76 1534.56 1574.32 1534.8 1575.88 1535.04 1577.43 1535.28 1578.99 1535.53 1580.54 1535.77 1582.1 1536.01 1583.66 1536.24 1585.21 1536.47 1586.77 1536.68 1588.33 1536.89 1589.88 1537.08 1591.44 1537.26 1592.99 1537.42 1594.55 1537.57 1596.11 1537.71 1597.66 1537.83 1599.22 1537.95 1600.78 1538.04 1602.33 1538.13 1603.89 1538.21 1605.44 1538.28 1607 1538.34L1607 1538.94 1605.44 1539 1603.89 1539.07 1602.33 1539.15 1600.78 1539.24 1599.22 1539.33 1597.66 1539.45 1596.11 1539.57 1594.55 1539.71 1592.99 1539.86 1591.44 1540.02 1589.88 1540.2 1588.33 1540.39 1586.77 1540.6 1585.21 1540.81 1583.66 1541.04 1582.1 1541.27 1580.54 1541.51 1578.99 1541.75 1577.43 1542 1575.88 1542.24 1574.32 1542.48 1572.76 1542.72 1571.21 1542.94 1569.65 1543.15 1568.09 1543.34 1566.54 1543.52 1564.98 1543.67 1563.42 1543.8 1561.87 1543.91 1560.31 1543.98 1558.76 1544.02 1557.2 1544.04Z" fill="#4472c4" stroke="#111" stroke-width="0.75"/>
<line x1="1605" y1="1538.64" x2="1672.4" y2="1538.64" stroke="#1a1a1a" stroke-width="1.1"/>
<line x1="1558" y1="1538.64" x2="1570" y2="1538.64" stroke="#000" stroke-width="1.5"/>
<circle cx="1559.4" cy="1538.64" r="2.6" fill="#fff"/>
<path d="M1557.2 1546.04 1558.85 1546.06 1560.5 1546.1 1562.15 1546.17 1563.8 1546.28 1565.45 1546.41 1567.1 1546.56 1568.75 1546.74 1570.4 1546.93 1572.05 1547.14 1573.7 1547.36 1575.35 1547.6 1577 1547.84 1578.65 1548.08 1580.3 1548.33 1581.95 1548.57 1583.6 1548.81 1585.25 1549.04 1586.9 1549.27 1588.55 1549.48 1590.2 1549.69 1591.85 1549.88 1593.5 1550.06 1595.15 1550.22 1596.8 1550.37 1598.45 1550.51 1600.1 1550.63 1601.75 1550.75 1603.4 1550.84 1605.05 1550.93 1606.7 1551.01 1608.35 1551.08 1610 1551.14L1610 1551.74 1608.35 1551.8 1606.7 1551.87 1605.05 1551.95 1603.4 1552.04 1601.75 1552.13 1600.1 1552.25 1598.45 1552.37 1596.8 1552.51 1595.15 1552.66 1593.5 1552.82 1591.85 1553 1590.2 1553.19 1588.55 1553.4 1586.9 1553.61 1585.25 1553.84 1583.6 1554.07 1581.95 1554.31 1580.3 1554.55 1578.65 1554.8 1577 1555.04 1575.35 1555.28 1573.7 1555.52 1572.05 1555.74 1570.4 1555.95 1568.75 1556.14 1567.1 1556.32 1565.45 1556.47 1563.8 1556.6 1562.15 1556.71 1560.5 1556.78 1558.85 1556.82 1557.2 1556.84Z" fill="#ed7d31" stroke="#111" stroke-width="0.75"/>
<line x1="1608" y1="1551.44" x2="1729.3" y2="1551.44" stroke="#1a1a1a" stroke-width="1.1"/>
<line x1="1558" y1="1551.44" x2="1568" y2="1551.44" stroke="#000" stroke-width="1.5"/>
<circle cx="1557.9" cy="1551.44" r="2.6" fill="#fff"/>
<line x1="1729.3" y1="1541.24" x2="1729.3" y2="1548.44" stroke="#555" stroke-width="1"/>
<text transform="translate(1547.7,1554.64) scale(1,1.04)" style='font-size:27.4px' text-anchor="end">Neutrophils</text>
<text transform="translate(1887.2,1554.64) scale(1,1.04)" style='font-size:26.4px;font-family:"Noto Sans CJK SC", "Liberation Sans", sans-serif;font-weight:500'>p&lt;0.001</text>
<line x1="1557.4" y1="1569" x2="1557.4" y2="1574.5" stroke="#333" stroke-width="1.2"/>
<text transform="translate(1557.4,1598.5) scale(1,1.04)" style='font-size:26.7px;font-family:"Noto Sans CJK SC", "Liberation Sans", sans-serif' text-anchor="middle">0.0</text>
<line x1="1754.35" y1="1569" x2="1754.35" y2="1574.5" stroke="#333" stroke-width="1.2"/>
<text transform="translate(1754.35,1598.5) scale(1,1.04)" style='font-size:26.7px;font-family:"Noto Sans CJK SC", "Liberation Sans", sans-serif' text-anchor="middle">0.3</text>
<line x1="1951.3" y1="1569" x2="1951.3" y2="1574.5" stroke="#333" stroke-width="1.2"/>
<text transform="translate(1951.3,1598.5) scale(1,1.04)" style='font-size:26.7px;font-family:"Noto Sans CJK SC", "Liberation Sans", sans-serif' text-anchor="middle">0.6</text>
<text transform="translate(1750.8,1623.8) scale(1,1.04)" style='font-size:26.8px;font-family:"Noto Sans CJK SC", "Liberation Sans", sans-serif' text-anchor="middle">Percentage</text>
<text transform="translate(8.3,1718.7) scale(1,1.04)" style='font-size:47.5px'>H</text>
<rect x="103.6" y="1751.5" width="404.7" height="395.9" fill="none" stroke="#555" stroke-width="1.4"/>
<line x1="98.6" y1="1769.6" x2="103.6" y2="1769.6" stroke="#555" stroke-width="1.3"/>
<text transform="translate(97.3,1779.1) scale(1,1.04)" style='font-size:26.4px' text-anchor="end">1.0</text>
<line x1="98.6" y1="1949.4" x2="103.6" y2="1949.4" stroke="#555" stroke-width="1.3"/>
<text transform="translate(97.3,1958.9) scale(1,1.04)" style='font-size:26.4px' text-anchor="end">0.5</text>
<line x1="98.6" y1="2129" x2="103.6" y2="2129" stroke="#555" stroke-width="1.3"/>
<text transform="translate(97.3,2138.5) scale(1,1.04)" style='font-size:26.4px' text-anchor="end">0.0</text>
<line x1="98.6" y1="1859.5" x2="103.6" y2="1859.5" stroke="#555" stroke-width="1.3"/>
<line x1="98.6" y1="2039.2" x2="103.6" y2="2039.2" stroke="#555" stroke-width="1.3"/>
<line x1="121.7" y1="2147.4" x2="121.7" y2="2152.4" stroke="#555" stroke-width="1.3"/>
<text transform="translate(121.7,2171) scale(1,1.04)" style='font-size:26.4px' text-anchor="middle">0</text>
<line x1="244.2" y1="2147.4" x2="244.2" y2="2152.4" stroke="#555" stroke-width="1.3"/>
<text transform="translate(244.2,2171) scale(1,1.04)" style='font-size:26.4px' text-anchor="middle">10</text>
<line x1="367" y1="2147.4" x2="367" y2="2152.4" stroke="#555" stroke-width="1.3"/>
<text transform="translate(367,2171) scale(1,1.04)" style='font-size:26.4px' text-anchor="middle">20</text>
<line x1="489" y1="2147.4" x2="489" y2="2152.4" stroke="#555" stroke-width="1.3"/>
<text transform="translate(489,2171) scale(1,1.04)" style='font-size:26.4px' text-anchor="middle">30</text>
<text transform="translate(502,1782.4) scale(1,1.04)" style='font-size:26.3px' text-anchor="end">DSS</text>
<text transform="translate(130.6,2067.2) scale(1,1.04)" style='font-size:25.7px'>p&lt;0.001</text>
<text transform="translate(308.6,2206.7) scale(1,1.04)" style='font-size:27.4px' text-anchor="middle">Time(years)</text>
<text transform="translate(197.3,1743) scale(1,1.04)" style='font-size:27.2px'>Cluster</text>
<line x1="297.6" y1="1739" x2="322.8" y2="1739" stroke="#3b87c4" stroke-width="5"/>
<line x1="310.2" y1="1731" x2="310.2" y2="1747" stroke="#3b87c4" stroke-width="1.6"/>
<text transform="translate(330,1743) scale(1,1.04)" style='font-size:27.2px'>A</text>
<line x1="371" y1="1739" x2="394.7" y2="1739" stroke="#dc8832" stroke-width="5" stroke-dasharray="7,3"/>
<line x1="382.8" y1="1731" x2="382.8" y2="1747" stroke="#dc8832" stroke-width="1.6"/>
<text transform="translate(400.6,1743) scale(1,1.04)" style='font-size:27.2px'>B</text>
<path d="M119.8 1769.1 L120.52 1770.26 L121.51 1771.83 L122.69 1773.71 L123.96 1775.8 L125.22 1778.03 L126.4 1780.3 L127.52 1782.66 L128.65 1785.21 L129.79 1787.88 L130.9 1790.64 L131.98 1793.43 L133 1796.2 L133.96 1799.01 L134.88 1801.91 L135.76 1804.84 L136.61 1807.75 L137.42 1810.59 L138.2 1813.3 L138.92 1815.9 L139.57 1818.42 L140.19 1820.87 L140.81 1823.26 L141.47 1825.56 L142.2 1827.8 L142.98 1829.89 L143.77 1831.81 L144.61 1833.67 L145.49 1835.54 L146.45 1837.52 L147.5 1839.7 L148.67 1842.14 L149.94 1844.77 L151.29 1847.52 L152.67 1850.28 L154.05 1852.97 L155.4 1855.5 L156.72 1857.87 L158.03 1860.14 L159.35 1862.34 L160.67 1864.49 L161.98 1866.61 L163.3 1868.7 L164.62 1870.76 L165.93 1872.77 L167.25 1874.74 L168.57 1876.69 L169.88 1878.64 L171.2 1880.6 L172.46 1882.57 L173.64 1884.54 L174.82 1886.5 L176.07 1888.46 L177.48 1890.43 L179.1 1892.4 L180.99 1894.41 L183.11 1896.46 L185.37 1898.51 L187.7 1900.53 L190.04 1902.47 L192.3 1904.3 L194.5 1905.99 L196.7 1907.56 L198.9 1909.06 L201.1 1910.53 L203.3 1911.99 L205.5 1913.5 L207.7 1915.02 L209.9 1916.5 L212.1 1917.99 L214.3 1919.51 L216.5 1921.1 L218.7 1922.8 L220.93 1924.64 L223.2 1926.59 L225.47 1928.62 L227.7 1930.66 L229.86 1932.67 L231.9 1934.6 L233.77 1936.53 L235.5 1938.53 L237.15 1940.49 L238.8 1942.33 L240.53 1943.93 L242.4 1945.2 L244.54 1946.01 L246.89 1946.41 L249.32 1946.58 L251.69 1946.7 L253.83 1946.95 L255.6 1947.5 L256.88 1948.36 L257.76 1949.37 L258.42 1950.52 L259.04 1951.76 L259.81 1953.06 L260.9 1954.4 L262.35 1955.81 L264.01 1957.33 L265.82 1958.91 L267.7 1960.51 L269.58 1962.09 L271.4 1963.6 L273.18 1965.11 L274.98 1966.66 L276.78 1968.19 L278.57 1969.63 L280.31 1970.89 L282 1971.9 L283.64 1972.55 L285.27 1972.89 L286.85 1973.04 L288.38 1973.18 L289.83 1973.45 L291.2 1974 L292.47 1974.88 L293.64 1975.99 L294.74 1977.23 L295.79 1978.51 L296.81 1979.73 L297.8 1980.8 L298.82 1981.77 L299.86 1982.73 L300.86 1983.62 L301.77 1984.43 L302.54 1985.1 L303.1 1985.6 L343.3 1985.6 L343.3 2000.2 L353.1 2000.2 L353.1 2011 L355.4 2011 L355.4 2019.8 L426.3 2019.8 L426.3 2056.3 L469.6 2056.3 L469.6 2092.5 L500 2092.5" fill="none" stroke="#3b87c4" stroke-width="2.4"/>
<g fill="none" stroke="#3b87c4" stroke-linecap="round"><path d="M119.8 1769.1L120.52 1770.26M120.52 1770.26L121.51 1771.83M121.51 1771.83L122.69 1773.71M122.69 1773.71L123.96 1775.8M123.96 1775.8L125.22 1778.03M125.22 1778.03L126.4 1780.3M126.4 1780.3L127.52 1782.66M127.52 1782.66L128.65 1785.21M128.65 1785.21L129.79 1787.88M129.79 1787.88L130.9 1790.64M130.9 1790.64L131.98 1793.43M131.98 1793.43L133 1796.2M133 1796.2L133.96 1799.01M133.96 1799.01L134.88 1801.91M134.88 1801.91L135.76 1804.84M135.76 1804.84L136.61 1807.75M136.61 1807.75L137.42 1810.59M137.42 1810.59L138.2 1813.3M138.2 1813.3L138.92 1815.9M138.92 1815.9L139.57 1818.42M139.57 1818.42L140.19 1820.87M140.19 1820.87L140.81 1823.26M140.81 1823.26L141.47 1825.56M141.47 1825.56L142.2 1827.8M142.2 1827.8L142.98 1829.89" stroke-width="8"/><path d="M142.98 1829.89L143.77 1831.81M143.77 1831.81L144.61 1833.67M144.61 1833.67L145.49 1835.54M145.49 1835.54L146.45 1837.52M146.45 1837.52L147.5 1839.7M147.5 1839.7L148.67 1842.14M148.67 1842.14L149.94 1844.77M149.94 1844.77L151.29 1847.52M151.29 1847.52L152.67 1850.28M152.67 1850.28L154.05 1852.97M154.05 1852.97L155.4 1855.5M155.4 1855.5L156.72 1857.87M156.72 1857.87L158.03 1860.14M158.03 1860.14L159.35 1862.34M159.35 1862.34L160.67 1864.49M160.67 1864.49L161.98 1866.61M161.98 1866.61L163.3 1868.7M163.3 1868.7L164.62 1870.76M164.62 1870.76L165.93 1872.77M165.93 1872.77L167.25 1874.74M167.25 1874.74L168.57 1876.69M168.57 1876.69L169.88 1878.64M169.88 1878.64L171.2 1880.6M171.2 1880.6L172.46 1882.57" stroke-width="7.5"/><path d="M172.46 1882.57L173.64 1884.54M173.64 1884.54L174.82 1886.5M174.82 1886.5L176.07 1888.46M176.07 1888.46L177.48 1890.43M177.48 1890.43L179.1 1892.4M179.1 1892.4L180.99 1894.41M180.99 1894.41L183.11 1896.46M183.11 1896.46L185.37 1898.51M185.37 1898.51L187.7 1900.53M187.7 1900.53L190.04 1902.47M190.04 1902.47L192.3 1904.3M192.3 1904.3L194.5 1905.99M194.5 1905.99L196.7 1907.56M196.7 1907.56L198.9 1909.06M198.9 1909.06L201.1 1910.53M201.1 1910.53L203.3 1911.99M203.3 1911.99L205.5 1913.5M205.5 1913.5L207.7 1915.02M207.7 1915.02L209.9 1916.5" stroke-width="7"/><path d="M209.9 1916.5L212.1 1917.99M212.1 1917.99L214.3 1919.51M214.3 1919.51L216.5 1921.1M216.5 1921.1L218.7 1922.8M218.7 1922.8L220.93 1924.64M220.93 1924.64L223.2 1926.59M223.2 1926.59L225.47 1928.62M225.47 1928.62L227.7 1930.66M227.7 1930.66L229.86 1932.67M229.86 1932.67L231.9 1934.6M231.9 1934.6L233.77 1936.53M233.77 1936.53L235.5 1938.53M235.5 1938.53L237.15 1940.49M237.15 1940.49L238.8 1942.33M238.8 1942.33L240.53 1943.93M240.53 1943.93L242.4 1945.2" stroke-width="6.5"/><path d="M242.4 1945.2L244.54 1946.01M244.54 1946.01L246.89 1946.41M246.89 1946.41L249.32 1946.58M249.32 1946.58L251.69 1946.7M251.69 1946.7L253.83 1946.95M253.83 1946.95L255.6 1947.5M255.6 1947.5L256.88 1948.36M256.88 1948.36L257.76 1949.37M257.76 1949.37L258.42 1950.52M258.42 1950.52L259.04 1951.76M259.04 1951.76L259.81 1953.06M259.81 1953.06L260.9 1954.4M260.9 1954.4L262.35 1955.81M262.35 1955.81L264.01 1957.33" stroke-width="6"/><path d="M264.01 1957.33L265.82 1958.91M265.82 1958.91L267.7 1960.51M267.7 1960.51L269.58 1962.09M269.58 1962.09L271.4 1963.6M271.4 1963.6L273.18 1965.11M273.18 1965.11L274.98 1966.66M274.98 1966.66L276.78 1968.19M276.78 1968.19L278.57 1969.63M278.57 1969.63L280.31 1970.89M280.31 1970.89L282 1971.9M282 1971.9L283.64 1972.55M283.64 1972.55L285.27 1972.89M285.27 1972.89L286.85 1973.04" stroke-width="5.5"/><path d="M286.85 1973.04L288.38 1973.18M288.38 1973.18L289.83 1973.45M289.83 1973.45L291.2 1974M291.2 1974L292.47 1974.88M292.47 1974.88L293.64 1975.99M293.64 1975.99L294.74 1977.23M294.74 1977.23L295.79 1978.51M295.79 1978.51L296.81 1979.73M296.81 1979.73L297.8 1980.8M297.8 1980.8L298.82 1981.77M298.82 1981.77L299.86 1982.73M299.86 1982.73L300.86 1983.62" stroke-width="5"/><path d="M300.86 1983.62L301.77 1984.43M301.77 1984.43L302.54 1985.1M302.54 1985.1L303.1 1985.6" stroke-width="4.5"/></g>
<path d="M301.8 1985.6h6.4M305 1982.4v6.4M305.8 1985.6h6.4M309 1982.4v6.4M310.8 1985.6h6.4M314 1982.4v6.4M316.8 1985.6h6.4M320 1982.4v6.4M324.8 1985.6h6.4M328 1982.4v6.4M332.8 1985.6h6.4M336 1982.4v6.4M337.8 1985.6h6.4M341 1982.4v6.4M341.8 2000.2h6.4M345 1997v6.4M345.8 2000.2h6.4M349 1997v6.4M352.3 2019.8h6.4M355.5 2016.6v6.4M354.8 2019.8h6.4M358 2016.6v6.4M357.8 2019.8h6.4M361 2016.6v6.4M362.8 2019.8h6.4M366 2016.6v6.4M367.8 2019.8h6.4M371 2016.6v6.4M370.8 2019.8h6.4M374 2016.6v6.4M381.8 2019.8h6.4M385 2016.6v6.4M496.8 2092.5h6.4M500 2089.3v6.4" fill="none" stroke="#3b87c4" stroke-width="1.4"/>
<path d="M120.4 1767.1 L121.84 1768.5 L123.89 1770.42 L126.29 1772.71 L128.78 1775.21 L131.1 1777.79 L133 1780.3 L134.45 1782.86 L135.64 1785.6 L136.68 1788.42 L137.62 1791.2 L138.57 1793.83 L139.6 1796.2 L140.7 1798.19 L141.8 1799.86 L142.91 1801.38 L144.01 1802.91 L145.11 1804.63 L146.2 1806.7 L147.21 1809.18 L148.13 1811.96 L149.04 1814.91 L150.04 1817.94 L151.23 1820.94 L152.7 1823.8 L154.51 1826.54 L156.6 1829.24 L158.88 1831.91 L161.25 1834.55 L163.62 1837.14 L165.9 1839.7 L168.1 1842.18 L170.3 1844.59 L172.5 1846.96 L174.7 1849.32 L176.9 1851.72 L179.1 1854.2 L181.3 1856.82 L183.5 1859.56 L185.7 1862.34 L187.9 1865.07 L190.1 1867.65 L192.3 1870 L194.55 1872.08 L196.85 1873.97 L199.15 1875.71 L201.4 1877.36 L203.53 1878.97 L205.5 1880.6 L207.25 1882.29 L208.81 1884.01 L210.26 1885.7 L211.68 1887.27 L213.13 1888.66 L214.7 1889.8 L216.43 1890.58 L218.28 1891.06 L220.16 1891.34 L222.01 1891.58 L223.75 1891.89 L225.3 1892.4 L226.63 1893.16 L227.8 1894.07 L228.85 1895.05 L229.85 1896.03 L230.85 1896.94 L231.9 1897.7 L233 1898.24 L234.1 1898.62 L235.2 1898.92 L236.3 1899.24 L237.4 1899.67 L238.5 1900.3 L239.52 1901.21 L240.46 1902.33 L241.39 1903.56 L242.42 1904.8 L243.62 1905.94 L245.1 1906.9 L246.91 1907.66 L248.98 1908.29 L251.24 1908.84 L253.59 1909.32 L255.94 1909.76 L258.2 1910.2 L260.39 1910.59 L262.59 1910.91 L264.79 1911.2 L267 1911.49 L269.2 1911.81 L271.4 1912.2 L273.66 1912.66 L276 1913.16 L278.33 1913.69 L280.59 1914.26 L282.71 1914.86 L284.6 1915.5 L286.25 1916.17 L287.72 1916.86 L289.04 1917.59 L290.26 1918.37 L291.4 1919.2 L292.5 1920.1 L293.5 1921.09 L294.36 1922.16 L295.15 1923.29 L295.94 1924.44 L296.8 1925.59 L297.8 1926.7 L299.06 1927.85 L300.53 1929.09 L302.08 1930.31 L303.56 1931.45 L304.81 1932.41 L305.7 1933.1 L327.7 1933.1 L330 1933.1 L330 1940 L333.5 1940 L333.5 1946.3 L336.9 1946.3 L336.9 1952.7 L342.7 1952.7 L342.7 1955.6 L343.8 1955.6 L343.8 1961.9 L373.8 1961.9 L373.8 1962.2 L373.8 1979.5 L396.3 1979.5 L396.3 1997.9 L486.9 1997.9 L486.9 2063.5 L501.3 2063.5" fill="none" stroke="#dc8832" stroke-width="2.4" stroke-dasharray="5.5,4"/>
<g fill="none" stroke="#dc8832" stroke-linecap="round"><path d="M120.4 1767.1L121.84 1768.5M121.84 1768.5L123.89 1770.42M123.89 1770.42L126.29 1772.71M126.29 1772.71L128.78 1775.21M128.78 1775.21L131.1 1777.79M131.1 1777.79L133 1780.3M133 1780.3L134.45 1782.86M134.45 1782.86L135.64 1785.6M135.64 1785.6L136.68 1788.42M136.68 1788.42L137.62 1791.2M137.62 1791.2L138.57 1793.83M138.57 1793.83L139.6 1796.2M139.6 1796.2L140.7 1798.19M140.7 1798.19L141.8 1799.86M141.8 1799.86L142.91 1801.38M142.91 1801.38L144.01 1802.91M144.01 1802.91L145.11 1804.63M145.11 1804.63L146.2 1806.7M146.2 1806.7L147.21 1809.18M147.21 1809.18L148.13 1811.96M148.13 1811.96L149.04 1814.91M149.04 1814.91L150.04 1817.94M150.04 1817.94L151.23 1820.94" stroke-width="8"/><path d="M151.23 1820.94L152.7 1823.8M152.7 1823.8L154.51 1826.54M154.51 1826.54L156.6 1829.24M156.6 1829.24L158.88 1831.91M158.88 1831.91L161.25 1834.55M161.25 1834.55L163.62 1837.14M163.62 1837.14L165.9 1839.7M165.9 1839.7L168.1 1842.18M168.1 1842.18L170.3 1844.59M170.3 1844.59L172.5 1846.96M172.5 1846.96L174.7 1849.32M174.7 1849.32L176.9 1851.72M176.9 1851.72L179.1 1854.2M179.1 1854.2L181.3 1856.82M181.3 1856.82L183.5 1859.56M183.5 1859.56L185.7 1862.34M185.7 1862.34L187.9 1865.07M187.9 1865.07L190.1 1867.65M190.1 1867.65L192.3 1870M192.3 1870L194.55 1872.08M194.55 1872.08L196.85 1873.97M196.85 1873.97L199.15 1875.71" stroke-width="7.5"/><path d="M199.15 1875.71L201.4 1877.36M201.4 1877.36L203.53 1878.97M203.53 1878.97L205.5 1880.6M205.5 1880.6L207.25 1882.29M207.25 1882.29L208.81 1884.01M208.81 1884.01L210.26 1885.7M210.26 1885.7L211.68 1887.27M211.68 1887.27L213.13 1888.66M213.13 1888.66L214.7 1889.8M214.7 1889.8L216.43 1890.58M216.43 1890.58L218.28 1891.06M218.28 1891.06L220.16 1891.34M220.16 1891.34L222.01 1891.58M222.01 1891.58L223.75 1891.89M223.75 1891.89L225.3 1892.4M225.3 1892.4L226.63 1893.16" stroke-width="7"/><path d="M226.63 1893.16L227.8 1894.07M227.8 1894.07L228.85 1895.05M228.85 1895.05L229.85 1896.03M229.85 1896.03L230.85 1896.94M230.85 1896.94L231.9 1897.7M231.9 1897.7L233 1898.24M233 1898.24L234.1 1898.62M234.1 1898.62L235.2 1898.92M235.2 1898.92L236.3 1899.24M236.3 1899.24L237.4 1899.67M237.4 1899.67L238.5 1900.3M238.5 1900.3L239.52 1901.21M239.52 1901.21L240.46 1902.33M240.46 1902.33L241.39 1903.56M241.39 1903.56L242.42 1904.8" stroke-width="6.5"/><path d="M242.42 1904.8L243.62 1905.94M243.62 1905.94L245.1 1906.9M245.1 1906.9L246.91 1907.66M246.91 1907.66L248.98 1908.29M248.98 1908.29L251.24 1908.84M251.24 1908.84L253.59 1909.32M253.59 1909.32L255.94 1909.76M255.94 1909.76L258.2 1910.2M258.2 1910.2L260.39 1910.59M260.39 1910.59L262.59 1910.91M262.59 1910.91L264.79 1911.2M264.79 1911.2L267 1911.49M267 1911.49L269.2 1911.81" stroke-width="6"/><path d="M269.2 1911.81L271.4 1912.2M271.4 1912.2L273.66 1912.66M273.66 1912.66L276 1913.16M276 1913.16L278.33 1913.69M278.33 1913.69L280.59 1914.26M280.59 1914.26L282.71 1914.86M282.71 1914.86L284.6 1915.5M284.6 1915.5L286.25 1916.17M286.25 1916.17L287.72 1916.86M287.72 1916.86L289.04 1917.59M289.04 1917.59L290.26 1918.37" stroke-width="5.5"/><path d="M290.26 1918.37L291.4 1919.2M291.4 1919.2L292.5 1920.1M292.5 1920.1L293.5 1921.09M293.5 1921.09L294.36 1922.16M294.36 1922.16L295.15 1923.29M295.15 1923.29L295.94 1924.44M295.94 1924.44L296.8 1925.59M296.8 1925.59L297.8 1926.7M297.8 1926.7L299.06 1927.85M299.06 1927.85L300.53 1929.09M300.53 1929.09L302.08 1930.31" stroke-width="5"/><path d="M302.08 1930.31L303.56 1931.45M303.56 1931.45L304.81 1932.41M304.81 1932.41L305.7 1933.1" stroke-width="4.5"/></g>
<path d="M303.8 1933.1h6.4M307 1929.9v6.4M308.8 1933.1h6.4M312 1929.9v6.4M314.8 1933.1h6.4M318 1929.9v6.4M318.8 1933.1h6.4M322 1929.9v6.4M326.8 1933.1h6.4M330 1929.9v6.4M329.8 1940h6.4M333 1936.8v6.4M333.8 1952.7h6.4M337 1949.5v6.4M340.8 1961.9h6.4M344 1958.7v6.4M343.8 1961.9h6.4M347 1958.7v6.4M346.8 1961.9h6.4M350 1958.7v6.4M350.8 1961.9h6.4M354 1958.7v6.4M354.8 1961.9h6.4M358 1958.7v6.4M358.8 1961.9h6.4M362 1958.7v6.4M363.8 1961.9h6.4M367 1958.7v6.4M366.8 1961.9h6.4M370 1958.7v6.4M387.8 1979.5h6.4M391 1976.3v6.4M400.8 1997.9h6.4M404 1994.7v6.4M404.8 1997.9h6.4M408 1994.7v6.4M408.8 1997.9h6.4M412 1994.7v6.4M426.8 1997.9h6.4M430 1994.7v6.4M441.8 1997.9h6.4M445 1994.7v6.4M495.3 2063.5h6.4M498.5 2060.3v6.4" fill="none" stroke="#dc8832" stroke-width="1.4"/>
<rect x="581.4" y="1751.4" width="404.9" height="395.7" fill="none" stroke="#555" stroke-width="1.4"/>
<line x1="576.4" y1="1769.1" x2="581.4" y2="1769.1" stroke="#555" stroke-width="1.3"/>
<text transform="translate(575.1,1778.6) scale(1,1.04)" style='font-size:26.4px' text-anchor="end">1.0</text>
<line x1="576.4" y1="1949.1" x2="581.4" y2="1949.1" stroke="#555" stroke-width="1.3"/>
<text transform="translate(575.1,1958.6) scale(1,1.04)" style='font-size:26.4px' text-anchor="end">0.5</text>
<line x1="576.4" y1="2129.1" x2="581.4" y2="2129.1" stroke="#555" stroke-width="1.3"/>
<text transform="translate(575.1,2138.6) scale(1,1.04)" style='font-size:26.4px' text-anchor="end">0.0</text>
<line x1="576.4" y1="1859.1" x2="581.4" y2="1859.1" stroke="#555" stroke-width="1.3"/>
<line x1="576.4" y1="2039.1" x2="581.4" y2="2039.1" stroke="#555" stroke-width="1.3"/>
<line x1="599.4" y1="2147.1" x2="599.4" y2="2152.1" stroke="#555" stroke-width="1.3"/>
<text transform="translate(599.4,2170) scale(1,1.04)" style='font-size:26.4px' text-anchor="middle">0</text>
<line x1="673.1" y1="2147.1" x2="673.1" y2="2152.1" stroke="#555" stroke-width="1.3"/>
<text transform="translate(673.1,2170) scale(1,1.04)" style='font-size:26.4px' text-anchor="middle">5</text>
<line x1="747.1" y1="2147.1" x2="747.1" y2="2152.1" stroke="#555" stroke-width="1.3"/>
<text transform="translate(747.1,2170) scale(1,1.04)" style='font-size:26.4px' text-anchor="middle">10</text>
<line x1="820.6" y1="2147.1" x2="820.6" y2="2152.1" stroke="#555" stroke-width="1.3"/>
<text transform="translate(820.6,2170) scale(1,1.04)" style='font-size:26.4px' text-anchor="middle">15</text>
<line x1="894.3" y1="2147.1" x2="894.3" y2="2152.1" stroke="#555" stroke-width="1.3"/>
<text transform="translate(894.3,2170) scale(1,1.04)" style='font-size:26.4px' text-anchor="middle">20</text>
<line x1="967.7" y1="2147.1" x2="967.7" y2="2152.1" stroke="#555" stroke-width="1.3"/>
<text transform="translate(967.7,2170) scale(1,1.04)" style='font-size:26.4px' text-anchor="middle">25</text>
<text transform="translate(980,1780) scale(1,1.04)" style='font-size:26.3px' text-anchor="end">DFI</text>
<text transform="translate(607.1,2066.3) scale(1,1.04)" style='font-size:25.7px'>p=0.042</text>
<text transform="translate(780,2207.1) scale(1,1.04)" style='font-size:27.4px' text-anchor="middle">Time(years)</text>
<text transform="translate(677.1,1743) scale(1,1.04)" style='font-size:27.2px'>Cluster</text>
<line x1="777.4" y1="1739" x2="802.6" y2="1739" stroke="#3b87c4" stroke-width="5"/>
<line x1="790" y1="1731" x2="790" y2="1747" stroke="#3b87c4" stroke-width="1.6"/>
<text transform="translate(809.8,1743) scale(1,1.04)" style='font-size:27.2px'>A</text>
<line x1="850.8" y1="1739" x2="874.5" y2="1739" stroke="#dc8832" stroke-width="5" stroke-dasharray="7,3"/>
<line x1="862.6" y1="1731" x2="862.6" y2="1747" stroke="#dc8832" stroke-width="1.6"/>
<text transform="translate(880.4,1743) scale(1,1.04)" style='font-size:27.2px'>B</text>
<path d="M597.9 1768.2 L598.77 1769.62 L600 1771.57 L601.44 1773.89 L602.97 1776.41 L604.47 1778.97 L605.8 1781.4 L606.98 1783.65 L608.1 1785.84 L609.18 1788.08 L610.25 1790.43 L611.32 1793.01 L612.4 1795.9 L613.48 1799.31 L614.55 1803.22 L615.62 1807.35 L616.7 1811.42 L617.82 1815.16 L619 1818.3 L620.24 1820.69 L621.54 1822.53 L622.87 1824.04 L624.22 1825.44 L625.57 1826.95 L626.9 1828.8 L628.22 1831.07 L629.53 1833.61 L630.85 1836.26 L632.17 1838.88 L633.48 1841.31 L634.8 1843.4 L636.09 1845.09 L637.33 1846.48 L638.58 1847.69 L639.87 1848.82 L641.23 1849.99 L642.7 1851.3 L644.31 1852.77 L646.04 1854.32 L647.84 1855.9 L649.67 1857.48 L651.51 1859.03 L653.3 1860.5 L655.12 1861.92 L657 1863.33 L658.88 1864.69 L660.69 1866.01 L662.35 1867.25 L663.8 1868.4 L664.89 1869.42 L665.66 1870.31 L666.28 1871.13 L666.94 1871.93 L667.82 1872.77 L669.1 1873.7 L670.9 1874.76 L673.11 1875.93 L675.54 1877.12 L678 1878.3 L680.32 1879.38 L682.3 1880.3 L683.91 1881.08 L685.27 1881.77 L686.49 1882.36 L687.66 1882.87 L688.86 1883.28 L690.2 1883.6 L691.67 1883.75 L693.2 1883.72 L694.77 1883.6 L696.36 1883.48 L697.94 1883.45 L699.5 1883.6 L701.05 1883.98 L702.62 1884.53 L704.19 1885.17 L705.73 1885.83 L707.24 1886.43 L708.7 1886.9 L710.12 1887.17 L711.53 1887.29 L712.89 1887.34 L714.21 1887.45 L715.45 1887.7 L716.6 1888.2 L717.57 1888.98 L718.37 1889.97 L719.09 1891.11 L719.84 1892.33 L720.75 1893.58 L721.9 1894.8 L723.47 1896.1 L725.4 1897.54 L727.48 1899.01 L729.49 1900.39 L731.2 1901.56 L732.4 1902.4 L774.4 1902.4 L774.4 1909 L915.9 1909" fill="none" stroke="#3b87c4" stroke-width="2.4"/>
<g fill="none" stroke="#3b87c4" stroke-linecap="round"><path d="M597.9 1768.2L598.77 1769.62M598.77 1769.62L600 1771.57M600 1771.57L601.44 1773.89M601.44 1773.89L602.97 1776.41M602.97 1776.41L604.47 1778.97M604.47 1778.97L605.8 1781.4M605.8 1781.4L606.98 1783.65M606.98 1783.65L608.1 1785.84M608.1 1785.84L609.18 1788.08M609.18 1788.08L610.25 1790.43M610.25 1790.43L611.32 1793.01M611.32 1793.01L612.4 1795.9M612.4 1795.9L613.48 1799.31M613.48 1799.31L614.55 1803.22M614.55 1803.22L615.62 1807.35M615.62 1807.35L616.7 1811.42M616.7 1811.42L617.82 1815.16M617.82 1815.16L619 1818.3M619 1818.3L620.24 1820.69" stroke-width="8"/><path d="M620.24 1820.69L621.54 1822.53M621.54 1822.53L622.87 1824.04M622.87 1824.04L624.22 1825.44M624.22 1825.44L625.57 1826.95M625.57 1826.95L626.9 1828.8M626.9 1828.8L628.22 1831.07M628.22 1831.07L629.53 1833.61M629.53 1833.61L630.85 1836.26M630.85 1836.26L632.17 1838.88M632.17 1838.88L633.48 1841.31M633.48 1841.31L634.8 1843.4M634.8 1843.4L636.09 1845.09M636.09 1845.09L637.33 1846.48M637.33 1846.48L638.58 1847.69M638.58 1847.69L639.87 1848.82M639.87 1848.82L641.23 1849.99M641.23 1849.99L642.7 1851.3M642.7 1851.3L644.31 1852.77M644.31 1852.77L646.04 1854.32" stroke-width="7.5"/><path d="M646.04 1854.32L647.84 1855.9M647.84 1855.9L649.67 1857.48M649.67 1857.48L651.51 1859.03M651.51 1859.03L653.3 1860.5M653.3 1860.5L655.12 1861.92M655.12 1861.92L657 1863.33M657 1863.33L658.88 1864.69M658.88 1864.69L660.69 1866.01M660.69 1866.01L662.35 1867.25M662.35 1867.25L663.8 1868.4M663.8 1868.4L664.89 1869.42M664.89 1869.42L665.66 1870.31M665.66 1870.31L666.28 1871.13M666.28 1871.13L666.94 1871.93" stroke-width="7"/><path d="M666.94 1871.93L667.82 1872.77M667.82 1872.77L669.1 1873.7M669.1 1873.7L670.9 1874.76M670.9 1874.76L673.11 1875.93M673.11 1875.93L675.54 1877.12M675.54 1877.12L678 1878.3M678 1878.3L680.32 1879.38M680.32 1879.38L682.3 1880.3M682.3 1880.3L683.91 1881.08M683.91 1881.08L685.27 1881.77M685.27 1881.77L686.49 1882.36M686.49 1882.36L687.66 1882.87" stroke-width="6.5"/><path d="M687.66 1882.87L688.86 1883.28M688.86 1883.28L690.2 1883.6M690.2 1883.6L691.67 1883.75M691.67 1883.75L693.2 1883.72M693.2 1883.72L694.77 1883.6M694.77 1883.6L696.36 1883.48M696.36 1883.48L697.94 1883.45M697.94 1883.45L699.5 1883.6M699.5 1883.6L701.05 1883.98M701.05 1883.98L702.62 1884.53M702.62 1884.53L704.19 1885.17" stroke-width="6"/><path d="M704.19 1885.17L705.73 1885.83M705.73 1885.83L707.24 1886.43M707.24 1886.43L708.7 1886.9M708.7 1886.9L710.12 1887.17M710.12 1887.17L711.53 1887.29M711.53 1887.29L712.89 1887.34M712.89 1887.34L714.21 1887.45M714.21 1887.45L715.45 1887.7M715.45 1887.7L716.6 1888.2M716.6 1888.2L717.57 1888.98" stroke-width="5.5"/><path d="M717.57 1888.98L718.37 1889.97M718.37 1889.97L719.09 1891.11M719.09 1891.11L719.84 1892.33M719.84 1892.33L720.75 1893.58M720.75 1893.58L721.9 1894.8M721.9 1894.8L723.47 1896.1M723.47 1896.1L725.4 1897.54M725.4 1897.54L727.48 1899.01M727.48 1899.01L729.49 1900.39" stroke-width="5"/><path d="M729.49 1900.39L731.2 1901.56M731.2 1901.56L732.4 1902.4" stroke-width="4.5"/></g>
<path d="M731.8 1902.4h6.4M735 1899.2v6.4M735.8 1902.4h6.4M739 1899.2v6.4M738.8 1902.4h6.4M742 1899.2v6.4M742.8 1902.4h6.4M746 1899.2v6.4M745.8 1902.4h6.4M749 1899.2v6.4M749.8 1902.4h6.4M753 1899.2v6.4M753.8 1902.4h6.4M757 1899.2v6.4M756.8 1902.4h6.4M760 1899.2v6.4M760.8 1902.4h6.4M764 1899.2v6.4M764.8 1902.4h6.4M768 1899.2v6.4M768.8 1902.4h6.4M772 1899.2v6.4M773.8 1909h6.4M777 1905.8v6.4M776.8 1909h6.4M780 1905.8v6.4M779.8 1909h6.4M783 1905.8v6.4M782.8 1909h6.4M786 1905.8v6.4M786.8 1909h6.4M790 1905.8v6.4M790.8 1909h6.4M794 1905.8v6.4M793.8 1909h6.4M797 1905.8v6.4M798.8 1909h6.4M802 1905.8v6.4M802.8 1909h6.4M806 1905.8v6.4M806.8 1909h6.4M810 1905.8v6.4M809.8 1909h6.4M813 1905.8v6.4M852.8 1909h6.4M856 1905.8v6.4M866.8 1909h6.4M870 1905.8v6.4M872.8 1909h6.4M876 1905.8v6.4M877.8 1909h6.4M881 1905.8v6.4M881.8 1909h6.4M885 1905.8v6.4M885.8 1909h6.4M889 1905.8v6.4M888.8 1909h6.4M892 1905.8v6.4M892.8 1909h6.4M896 1905.8v6.4M909.8 1909h6.4M913 1905.8v6.4" fill="none" stroke="#3b87c4" stroke-width="1.4"/>
<path d="M599.2 1766.9 L600.04 1767.93 L601.2 1769.28 L602.57 1770.91 L604.07 1772.82 L605.61 1774.99 L607.1 1777.4 L608.59 1780.18 L610.15 1783.36 L611.75 1786.8 L613.35 1790.35 L614.91 1793.87 L616.4 1797.2 L617.78 1800.4 L619.09 1803.61 L620.36 1806.78 L621.62 1809.88 L622.92 1812.86 L624.3 1815.7 L625.79 1818.47 L627.37 1821.22 L628.98 1823.86 L630.58 1826.3 L632.1 1828.44 L633.5 1830.2 L634.75 1831.45 L635.89 1832.23 L636.96 1832.72 L638 1833.09 L639.03 1833.49 L640.1 1834.1 L641.18 1834.9 L642.25 1835.76 L643.32 1836.66 L644.4 1837.58 L645.52 1838.5 L646.7 1839.4 L647.93 1840.25 L649.19 1841.07 L650.49 1841.89 L651.82 1842.74 L653.19 1843.67 L654.6 1844.7 L656.07 1845.87 L657.61 1847.14 L659.19 1848.49 L660.77 1849.87 L662.32 1851.25 L663.8 1852.6 L665.2 1853.98 L666.56 1855.43 L667.88 1856.88 L669.19 1858.26 L670.49 1859.49 L671.8 1860.5 L673.12 1861.21 L674.44 1861.66 L675.76 1861.96 L677.07 1862.23 L678.38 1862.57 L679.7 1863.1 L681.02 1863.81 L682.33 1864.62 L683.65 1865.5 L684.97 1866.44 L686.28 1867.41 L687.6 1868.4 L688.9 1869.45 L690.19 1870.58 L691.47 1871.74 L692.77 1872.9 L694.11 1874 L695.5 1875 L696.9 1875.9 L698.27 1876.73 L699.69 1877.51 L701.19 1878.24 L702.84 1878.93 L704.7 1879.6 L706.86 1880.17 L709.29 1880.63 L711.86 1881.04 L714.46 1881.51 L716.95 1882.1 L719.2 1882.9 L721.12 1884.03 L722.78 1885.44 L724.34 1886.97 L725.93 1888.49 L727.7 1889.81 L729.8 1890.8 L732.41 1891.3 L735.46 1891.41 L738.69 1891.34 L741.84 1891.29 L744.66 1891.47 L746.9 1892.1 L748.45 1893.26 L749.51 1894.8 L750.23 1896.58 L750.79 1898.44 L751.36 1900.23 L752.1 1901.8 L753.05 1903.23 L754.09 1904.65 L755.12 1906.01 L756.09 1907.23 L756.91 1908.25 L757.5 1909 L793.2 1909 L793.2 1921.7 L856.6 1921.7 L856.6 1951.3 L945.5 1951.3" fill="none" stroke="#dc8832" stroke-width="2.4" stroke-dasharray="5.5,4"/>
<g fill="none" stroke="#dc8832" stroke-linecap="round"><path d="M599.2 1766.9L600.04 1767.93M600.04 1767.93L601.2 1769.28M601.2 1769.28L602.57 1770.91M602.57 1770.91L604.07 1772.82M604.07 1772.82L605.61 1774.99M605.61 1774.99L607.1 1777.4M607.1 1777.4L608.59 1780.18M608.59 1780.18L610.15 1783.36M610.15 1783.36L611.75 1786.8M611.75 1786.8L613.35 1790.35M613.35 1790.35L614.91 1793.87M614.91 1793.87L616.4 1797.2M616.4 1797.2L617.78 1800.4M617.78 1800.4L619.09 1803.61M619.09 1803.61L620.36 1806.78M620.36 1806.78L621.62 1809.88M621.62 1809.88L622.92 1812.86M622.92 1812.86L624.3 1815.7M624.3 1815.7L625.79 1818.47M625.79 1818.47L627.37 1821.22M627.37 1821.22L628.98 1823.86M628.98 1823.86L630.58 1826.3" stroke-width="8"/><path d="M630.58 1826.3L632.1 1828.44M632.1 1828.44L633.5 1830.2M633.5 1830.2L634.75 1831.45M634.75 1831.45L635.89 1832.23M635.89 1832.23L636.96 1832.72M636.96 1832.72L638 1833.09M638 1833.09L639.03 1833.49M639.03 1833.49L640.1 1834.1M640.1 1834.1L641.18 1834.9M641.18 1834.9L642.25 1835.76M642.25 1835.76L643.32 1836.66M643.32 1836.66L644.4 1837.58M644.4 1837.58L645.52 1838.5M645.52 1838.5L646.7 1839.4M646.7 1839.4L647.93 1840.25M647.93 1840.25L649.19 1841.07M649.19 1841.07L650.49 1841.89M650.49 1841.89L651.82 1842.74M651.82 1842.74L653.19 1843.67M653.19 1843.67L654.6 1844.7" stroke-width="7.5"/><path d="M654.6 1844.7L656.07 1845.87M656.07 1845.87L657.61 1847.14M657.61 1847.14L659.19 1848.49M659.19 1848.49L660.77 1849.87M660.77 1849.87L662.32 1851.25M662.32 1851.25L663.8 1852.6M663.8 1852.6L665.2 1853.98M665.2 1853.98L666.56 1855.43M666.56 1855.43L667.88 1856.88M667.88 1856.88L669.19 1858.26M669.19 1858.26L670.49 1859.49M670.49 1859.49L671.8 1860.5M671.8 1860.5L673.12 1861.21M673.12 1861.21L674.44 1861.66M674.44 1861.66L675.76 1861.96M675.76 1861.96L677.07 1862.23" stroke-width="7"/><path d="M677.07 1862.23L678.38 1862.57M678.38 1862.57L679.7 1863.1M679.7 1863.1L681.02 1863.81M681.02 1863.81L682.33 1864.62M682.33 1864.62L683.65 1865.5M683.65 1865.5L684.97 1866.44M684.97 1866.44L686.28 1867.41M686.28 1867.41L687.6 1868.4M687.6 1868.4L688.9 1869.45M688.9 1869.45L690.19 1870.58M690.19 1870.58L691.47 1871.74M691.47 1871.74L692.77 1872.9M692.77 1872.9L694.11 1874M694.11 1874L695.5 1875" stroke-width="6.5"/><path d="M695.5 1875L696.9 1875.9M696.9 1875.9L698.27 1876.73M698.27 1876.73L699.69 1877.51M699.69 1877.51L701.19 1878.24M701.19 1878.24L702.84 1878.93M702.84 1878.93L704.7 1879.6M704.7 1879.6L706.86 1880.17M706.86 1880.17L709.29 1880.63M709.29 1880.63L711.86 1881.04M711.86 1881.04L714.46 1881.51M714.46 1881.51L716.95 1882.1M716.95 1882.1L719.2 1882.9" stroke-width="6"/><path d="M719.2 1882.9L721.12 1884.03M721.12 1884.03L722.78 1885.44M722.78 1885.44L724.34 1886.97M724.34 1886.97L725.93 1888.49M725.93 1888.49L727.7 1889.81M727.7 1889.81L729.8 1890.8M729.8 1890.8L732.41 1891.3M732.41 1891.3L735.46 1891.41M735.46 1891.41L738.69 1891.34M738.69 1891.34L741.84 1891.29M741.84 1891.29L744.66 1891.47" stroke-width="5.5"/><path d="M744.66 1891.47L746.9 1892.1M746.9 1892.1L748.45 1893.26M748.45 1893.26L749.51 1894.8M749.51 1894.8L750.23 1896.58M750.23 1896.58L750.79 1898.44M750.79 1898.44L751.36 1900.23M751.36 1900.23L752.1 1901.8M752.1 1901.8L753.05 1903.23M753.05 1903.23L754.09 1904.65M754.09 1904.65L755.12 1906.01" stroke-width="5"/><path d="M755.12 1906.01L756.09 1907.23M756.09 1907.23L756.91 1908.25M756.91 1908.25L757.5 1909" stroke-width="4.5"/></g>
<path d="M756.8 1909h6.4M760 1905.8v6.4M759.8 1909h6.4M763 1905.8v6.4M762.8 1909h6.4M766 1905.8v6.4M765.8 1909h6.4M769 1905.8v6.4M768.8 1909h6.4M772 1905.8v6.4M771.8 1909h6.4M775 1905.8v6.4M774.8 1909h6.4M778 1905.8v6.4M777.8 1909h6.4M781 1905.8v6.4M780.8 1909h6.4M784 1905.8v6.4M783.8 1909h6.4M787 1905.8v6.4M786.8 1909h6.4M790 1905.8v6.4M792.8 1921.7h6.4M796 1918.5v6.4M795.8 1921.7h6.4M799 1918.5v6.4M799.8 1921.7h6.4M803 1918.5v6.4M803.8 1921.7h6.4M807 1918.5v6.4M808.8 1921.7h6.4M812 1918.5v6.4M815.8 1921.7h6.4M819 1918.5v6.4M819.8 1921.7h6.4M823 1918.5v6.4M839.8 1921.7h6.4M843 1918.5v6.4M849.8 1921.7h6.4M853 1918.5v6.4M854.8 1951.3h6.4M858 1948.1v6.4M871.8 1951.3h6.4M875 1948.1v6.4M881.8 1951.3h6.4M885 1948.1v6.4M922.8 1951.3h6.4M926 1948.1v6.4M931.8 1951.3h6.4M935 1948.1v6.4M938.8 1951.3h6.4M942 1948.1v6.4" fill="none" stroke="#dc8832" stroke-width="1.4"/>
<rect x="1059.4" y="1752" width="404.9" height="395.1" fill="none" stroke="#555" stroke-width="1.4"/>
<line x1="1054.4" y1="1769.2" x2="1059.4" y2="1769.2" stroke="#555" stroke-width="1.3"/>
<text transform="translate(1053.1,1778.7) scale(1,1.04)" style='font-size:26.4px' text-anchor="end">1.0</text>
<line x1="1054.4" y1="1949.2" x2="1059.4" y2="1949.2" stroke="#555" stroke-width="1.3"/>
<text transform="translate(1053.1,1958.7) scale(1,1.04)" style='font-size:26.4px' text-anchor="end">0.5</text>
<line x1="1054.4" y1="2129.2" x2="1059.4" y2="2129.2" stroke="#555" stroke-width="1.3"/>
<text transform="translate(1053.1,2138.7) scale(1,1.04)" style='font-size:26.4px' text-anchor="end">0.0</text>
<line x1="1054.4" y1="1859.2" x2="1059.4" y2="1859.2" stroke="#555" stroke-width="1.3"/>
<line x1="1054.4" y1="2039.2" x2="1059.4" y2="2039.2" stroke="#555" stroke-width="1.3"/>
<line x1="1077.7" y1="2147.1" x2="1077.7" y2="2152.1" stroke="#555" stroke-width="1.3"/>
<text transform="translate(1077.7,2170) scale(1,1.04)" style='font-size:26.4px' text-anchor="middle">0</text>
<line x1="1200.6" y1="2147.1" x2="1200.6" y2="2152.1" stroke="#555" stroke-width="1.3"/>
<text transform="translate(1200.6,2170) scale(1,1.04)" style='font-size:26.4px' text-anchor="middle">10</text>
<line x1="1322.9" y1="2147.1" x2="1322.9" y2="2152.1" stroke="#555" stroke-width="1.3"/>
<text transform="translate(1322.9,2170) scale(1,1.04)" style='font-size:26.4px' text-anchor="middle">20</text>
<line x1="1445.1" y1="2147.1" x2="1445.1" y2="2152.1" stroke="#555" stroke-width="1.3"/>
<text transform="translate(1445.1,2170) scale(1,1.04)" style='font-size:26.4px' text-anchor="middle">30</text>
<text transform="translate(1460,1781.4) scale(1,1.04)" style='font-size:26.3px' text-anchor="end">OS</text>
<text transform="translate(1086.3,2067.1) scale(1,1.04)" style='font-size:25.7px'>p&lt;0.001</text>
<text transform="translate(1265,2207.1) scale(1,1.04)" style='font-size:27.4px' text-anchor="middle">Time(years)</text>
<text transform="translate(1162.9,1743) scale(1,1.04)" style='font-size:27.2px'>Cluster</text>
<line x1="1263.2" y1="1739" x2="1288.4" y2="1739" stroke="#3b87c4" stroke-width="5"/>
<line x1="1275.8" y1="1731" x2="1275.8" y2="1747" stroke="#3b87c4" stroke-width="1.6"/>
<text transform="translate(1295.6,1743) scale(1,1.04)" style='font-size:27.2px'>A</text>
<line x1="1336.6" y1="1739" x2="1360.3" y2="1739" stroke="#dc8832" stroke-width="5" stroke-dasharray="7,3"/>
<line x1="1348.4" y1="1731" x2="1348.4" y2="1747" stroke="#dc8832" stroke-width="1.6"/>
<text transform="translate(1366.2,1743) scale(1,1.04)" style='font-size:27.2px'>B</text>
<path d="M1076.2 1768.9 L1077.05 1771.94 L1078.23 1776.18 L1079.62 1781.19 L1081.11 1786.54 L1082.57 1791.82 L1083.9 1796.6 L1085.11 1800.96 L1086.31 1805.24 L1087.49 1809.45 L1088.63 1813.58 L1089.74 1817.63 L1090.8 1821.6 L1091.78 1825.48 L1092.68 1829.28 L1093.54 1833 L1094.41 1836.64 L1095.31 1840.21 L1096.3 1843.7 L1097.36 1847.09 L1098.47 1850.36 L1099.62 1853.56 L1100.81 1856.73 L1102.04 1859.89 L1103.3 1863.1 L1104.61 1866.39 L1105.97 1869.75 L1107.37 1873.11 L1108.79 1876.41 L1110.2 1879.6 L1111.6 1882.6 L1112.98 1885.38 L1114.37 1887.98 L1115.75 1890.46 L1117.13 1892.89 L1118.52 1895.31 L1119.9 1897.8 L1121.25 1900.31 L1122.56 1902.79 L1123.88 1905.28 L1125.23 1907.8 L1126.65 1910.39 L1128.2 1913.1 L1129.86 1915.98 L1131.59 1919 L1133.4 1922.11 L1135.29 1925.21 L1137.26 1928.23 L1139.3 1931.1 L1141.45 1933.79 L1143.73 1936.37 L1146.08 1938.87 L1148.46 1941.33 L1150.85 1943.79 L1153.2 1946.3 L1155.52 1948.83 L1157.84 1951.34 L1160.16 1953.86 L1162.47 1956.4 L1164.79 1958.97 L1167.1 1961.6 L1169.4 1964.31 L1171.7 1967.09 L1174 1969.9 L1176.3 1972.71 L1178.6 1975.49 L1180.9 1978.2 L1183.21 1980.97 L1185.53 1983.86 L1187.85 1986.72 L1190.17 1989.38 L1192.49 1991.69 L1194.8 1993.5 L1197.18 1994.58 L1199.66 1995.02 L1202.13 1995.11 L1204.51 1995.14 L1206.69 1995.41 L1208.6 1996.2 L1210.13 1997.61 L1211.34 1999.43 L1212.36 2001.48 L1213.32 2003.59 L1214.36 2005.59 L1215.6 2007.3 L1217.17 2008.78 L1218.99 2010.2 L1220.89 2011.49 L1222.69 2012.64 L1224.21 2013.59 L1225.3 2014.3 L1236.4 2014.3 L1236.4 2025.4 L1250 2025.4 L1250 2037.4 L1257.3 2037.4 L1257.3 2044.6 L1257.3 2045.8 L1299 2045.8 L1299 2054.3 L1309.2 2054.3 L1309.2 2060.3 L1311.6 2060.3 L1311.6 2070 L1328 2070 L1328 2080.3 L1382.4 2080.3 L1382.4 2097.2 L1425.5 2097.2 L1425.5 2113.5 L1456.7 2113.5" fill="none" stroke="#3b87c4" stroke-width="2.4"/>
<g fill="none" stroke="#3b87c4" stroke-linecap="round"><path d="M1076.2 1768.9L1077.05 1771.94M1077.05 1771.94L1078.23 1776.18M1078.23 1776.18L1079.62 1781.19M1079.62 1781.19L1081.11 1786.54M1081.11 1786.54L1082.57 1791.82M1082.57 1791.82L1083.9 1796.6M1083.9 1796.6L1085.11 1800.96M1085.11 1800.96L1086.31 1805.24M1086.31 1805.24L1087.49 1809.45M1087.49 1809.45L1088.63 1813.58M1088.63 1813.58L1089.74 1817.63M1089.74 1817.63L1090.8 1821.6M1090.8 1821.6L1091.78 1825.48M1091.78 1825.48L1092.68 1829.28M1092.68 1829.28L1093.54 1833M1093.54 1833L1094.41 1836.64M1094.41 1836.64L1095.31 1840.21M1095.31 1840.21L1096.3 1843.7" stroke-width="8"/><path d="M1096.3 1843.7L1097.36 1847.09M1097.36 1847.09L1098.47 1850.36M1098.47 1850.36L1099.62 1853.56M1099.62 1853.56L1100.81 1856.73M1100.81 1856.73L1102.04 1859.89M1102.04 1859.89L1103.3 1863.1M1103.3 1863.1L1104.61 1866.39M1104.61 1866.39L1105.97 1869.75M1105.97 1869.75L1107.37 1873.11M1107.37 1873.11L1108.79 1876.41M1108.79 1876.41L1110.2 1879.6M1110.2 1879.6L1111.6 1882.6M1111.6 1882.6L1112.98 1885.38M1112.98 1885.38L1114.37 1887.98M1114.37 1887.98L1115.75 1890.46M1115.75 1890.46L1117.13 1892.89M1117.13 1892.89L1118.52 1895.31" stroke-width="7.5"/><path d="M1118.52 1895.31L1119.9 1897.8M1119.9 1897.8L1121.25 1900.31M1121.25 1900.31L1122.56 1902.79M1122.56 1902.79L1123.88 1905.28M1123.88 1905.28L1125.23 1907.8M1125.23 1907.8L1126.65 1910.39M1126.65 1910.39L1128.2 1913.1M1128.2 1913.1L1129.86 1915.98M1129.86 1915.98L1131.59 1919M1131.59 1919L1133.4 1922.11M1133.4 1922.11L1135.29 1925.21M1135.29 1925.21L1137.26 1928.23M1137.26 1928.23L1139.3 1931.1M1139.3 1931.1L1141.45 1933.79" stroke-width="7"/><path d="M1141.45 1933.79L1143.73 1936.37M1143.73 1936.37L1146.08 1938.87M1146.08 1938.87L1148.46 1941.33M1148.46 1941.33L1150.85 1943.79M1150.85 1943.79L1153.2 1946.3M1153.2 1946.3L1155.52 1948.83M1155.52 1948.83L1157.84 1951.34M1157.84 1951.34L1160.16 1953.86M1160.16 1953.86L1162.47 1956.4M1162.47 1956.4L1164.79 1958.97M1164.79 1958.97L1167.1 1961.6" stroke-width="6.5"/><path d="M1167.1 1961.6L1169.4 1964.31M1169.4 1964.31L1171.7 1967.09M1171.7 1967.09L1174 1969.9M1174 1969.9L1176.3 1972.71M1176.3 1972.71L1178.6 1975.49M1178.6 1975.49L1180.9 1978.2M1180.9 1978.2L1183.21 1980.97M1183.21 1980.97L1185.53 1983.86M1185.53 1983.86L1187.85 1986.72M1187.85 1986.72L1190.17 1989.38" stroke-width="6"/><path d="M1190.17 1989.38L1192.49 1991.69M1192.49 1991.69L1194.8 1993.5M1194.8 1993.5L1197.18 1994.58M1197.18 1994.58L1199.66 1995.02M1199.66 1995.02L1202.13 1995.11M1202.13 1995.11L1204.51 1995.14M1204.51 1995.14L1206.69 1995.41M1206.69 1995.41L1208.6 1996.2M1208.6 1996.2L1210.13 1997.61" stroke-width="5.5"/><path d="M1210.13 1997.61L1211.34 1999.43M1211.34 1999.43L1212.36 2001.48M1212.36 2001.48L1213.32 2003.59M1213.32 2003.59L1214.36 2005.59M1214.36 2005.59L1215.6 2007.3M1215.6 2007.3L1217.17 2008.78M1217.17 2008.78L1218.99 2010.2M1218.99 2010.2L1220.89 2011.49M1220.89 2011.49L1222.69 2012.64" stroke-width="5"/><path d="M1222.69 2012.64L1224.21 2013.59M1224.21 2013.59L1225.3 2014.3" stroke-width="4.5"/></g>
<path d="M1222.8 2014.3h6.4M1226 2011.1v6.4M1227.8 2014.3h6.4M1231 2011.1v6.4M1232.8 2014.3h6.4M1236 2011.1v6.4M1236.8 2025.4h6.4M1240 2022.2v6.4M1240.8 2025.4h6.4M1244 2022.2v6.4M1244.8 2025.4h6.4M1248 2022.2v6.4M1249.8 2037.4h6.4M1253 2034.2v6.4M1254.8 2045.8h6.4M1258 2042.6v6.4M1257.8 2045.8h6.4M1261 2042.6v6.4M1260.8 2045.8h6.4M1264 2042.6v6.4M1264.8 2045.8h6.4M1268 2042.6v6.4M1269.8 2045.8h6.4M1273 2042.6v6.4M1280.8 2045.8h6.4M1284 2042.6v6.4M1288.8 2045.8h6.4M1292 2042.6v6.4M1296.8 2054.3h6.4M1300 2051.1v6.4M1301.8 2054.3h6.4M1305 2051.1v6.4M1305.8 2054.3h6.4M1309 2051.1v6.4M1309.8 2070h6.4M1313 2066.8v6.4M1312.8 2070h6.4M1316 2066.8v6.4M1316.8 2070h6.4M1320 2066.8v6.4M1320.8 2070h6.4M1324 2066.8v6.4M1327.8 2080.3h6.4M1331 2077.1v6.4M1335.8 2080.3h6.4M1339 2077.1v6.4M1451.8 2113.5h6.4M1455 2110.3v6.4" fill="none" stroke="#3b87c4" stroke-width="1.4"/>
<path d="M1077.6 1768.2 L1078.55 1770.1 L1079.86 1772.61 L1081.41 1775.64 L1083.11 1779.1 L1084.87 1782.88 L1086.6 1786.9 L1088.3 1791.28 L1090.04 1796.14 L1091.84 1801.33 L1093.71 1806.69 L1095.66 1812.1 L1097.7 1817.4 L1099.85 1822.72 L1102.13 1828.19 L1104.48 1833.7 L1106.86 1839.13 L1109.25 1844.37 L1111.6 1849.3 L1113.92 1853.87 L1116.24 1858.17 L1118.56 1862.27 L1120.87 1866.26 L1123.19 1870.21 L1125.5 1874.2 L1127.8 1878.27 L1130.1 1882.37 L1132.4 1886.43 L1134.7 1890.4 L1137 1894.21 L1139.3 1897.8 L1141.61 1901.11 L1143.93 1904.16 L1146.24 1907.06 L1148.56 1909.9 L1150.88 1912.78 L1153.2 1915.8 L1155.52 1919.05 L1157.84 1922.47 L1160.16 1925.93 L1162.47 1929.3 L1164.79 1932.43 L1167.1 1935.2 L1169.44 1937.56 L1171.81 1939.61 L1174.17 1941.44 L1176.5 1943.11 L1178.76 1944.7 L1180.9 1946.3 L1182.92 1947.81 L1184.85 1949.15 L1186.71 1950.42 L1188.5 1951.7 L1190.26 1953.1 L1192 1954.7 L1193.67 1956.58 L1195.23 1958.69 L1196.76 1960.9 L1198.31 1963.11 L1199.94 1965.22 L1201.7 1967.1 L1203.59 1968.8 L1205.56 1970.41 L1207.61 1971.91 L1209.73 1973.27 L1211.93 1974.48 L1214.2 1975.5 L1216.67 1976.26 L1219.37 1976.77 L1222.14 1977.11 L1224.84 1977.4 L1227.31 1977.73 L1229.4 1978.2 L1230.99 1978.85 L1232.19 1979.59 L1233.16 1980.38 L1234.07 1981.15 L1235.09 1981.84 L1236.4 1982.4 L1238.06 1982.73 L1239.95 1982.87 L1241.96 1982.93 L1243.96 1983.03 L1245.85 1983.28 L1247.5 1983.8 L1248.89 1984.66 L1250.11 1985.79 L1251.21 1987.08 L1252.26 1988.4 L1253.3 1989.64 L1254.4 1990.7 L1255.63 1991.6 L1256.96 1992.46 L1258.28 1993.23 L1259.51 1993.91 L1260.55 1994.47 L1261.3 1994.9 L1283.8 1994.9 L1283.8 1995.1 L1286.3 1995.1 L1286.3 1998.7 L1289.9 1998.7 L1289.9 2003.5 L1293.5 2003.5 L1293.5 2013.2 L1295.9 2013.2 L1295.9 2018 L1298.3 2018 L1298.3 2023.5 L1298.3 2024.1 L1329.8 2024.1 L1329.8 2035.5 L1352.1 2035.5 L1352.1 2046.4 L1442.8 2046.4 L1442.8 2088.1 L1456.7 2088.1" fill="none" stroke="#dc8832" stroke-width="2.4" stroke-dasharray="5.5,4"/>
<g fill="none" stroke="#dc8832" stroke-linecap="round"><path d="M1077.6 1768.2L1078.55 1770.1M1078.55 1770.1L1079.86 1772.61M1079.86 1772.61L1081.41 1775.64M1081.41 1775.64L1083.11 1779.1M1083.11 1779.1L1084.87 1782.88M1084.87 1782.88L1086.6 1786.9M1086.6 1786.9L1088.3 1791.28M1088.3 1791.28L1090.04 1796.14M1090.04 1796.14L1091.84 1801.33M1091.84 1801.33L1093.71 1806.69M1093.71 1806.69L1095.66 1812.1M1095.66 1812.1L1097.7 1817.4M1097.7 1817.4L1099.85 1822.72M1099.85 1822.72L1102.13 1828.19M1102.13 1828.19L1104.48 1833.7M1104.48 1833.7L1106.86 1839.13M1106.86 1839.13L1109.25 1844.37M1109.25 1844.37L1111.6 1849.3M1111.6 1849.3L1113.92 1853.87" stroke-width="8"/><path d="M1113.92 1853.87L1116.24 1858.17M1116.24 1858.17L1118.56 1862.27M1118.56 1862.27L1120.87 1866.26M1120.87 1866.26L1123.19 1870.21M1123.19 1870.21L1125.5 1874.2M1125.5 1874.2L1127.8 1878.27M1127.8 1878.27L1130.1 1882.37M1130.1 1882.37L1132.4 1886.43M1132.4 1886.43L1134.7 1890.4M1134.7 1890.4L1137 1894.21M1137 1894.21L1139.3 1897.8M1139.3 1897.8L1141.61 1901.11M1141.61 1901.11L1143.93 1904.16M1143.93 1904.16L1146.24 1907.06M1146.24 1907.06L1148.56 1909.9M1148.56 1909.9L1150.88 1912.78M1150.88 1912.78L1153.2 1915.8M1153.2 1915.8L1155.52 1919.05M1155.52 1919.05L1157.84 1922.47" stroke-width="7.5"/><path d="M1157.84 1922.47L1160.16 1925.93M1160.16 1925.93L1162.47 1929.3M1162.47 1929.3L1164.79 1932.43M1164.79 1932.43L1167.1 1935.2M1167.1 1935.2L1169.44 1937.56M1169.44 1937.56L1171.81 1939.61M1171.81 1939.61L1174.17 1941.44M1174.17 1941.44L1176.5 1943.11M1176.5 1943.11L1178.76 1944.7M1178.76 1944.7L1180.9 1946.3M1180.9 1946.3L1182.92 1947.81M1182.92 1947.81L1184.85 1949.15M1184.85 1949.15L1186.71 1950.42M1186.71 1950.42L1188.5 1951.7" stroke-width="7"/><path d="M1188.5 1951.7L1190.26 1953.1M1190.26 1953.1L1192 1954.7M1192 1954.7L1193.67 1956.58M1193.67 1956.58L1195.23 1958.69M1195.23 1958.69L1196.76 1960.9M1196.76 1960.9L1198.31 1963.11M1198.31 1963.11L1199.94 1965.22M1199.94 1965.22L1201.7 1967.1M1201.7 1967.1L1203.59 1968.8M1203.59 1968.8L1205.56 1970.41M1205.56 1970.41L1207.61 1971.91M1207.61 1971.91L1209.73 1973.27" stroke-width="6.5"/><path d="M1209.73 1973.27L1211.93 1974.48M1211.93 1974.48L1214.2 1975.5M1214.2 1975.5L1216.67 1976.26M1216.67 1976.26L1219.37 1976.77M1219.37 1976.77L1222.14 1977.11M1222.14 1977.11L1224.84 1977.4M1224.84 1977.4L1227.31 1977.73M1227.31 1977.73L1229.4 1978.2M1229.4 1978.2L1230.99 1978.85M1230.99 1978.85L1232.19 1979.59M1232.19 1979.59L1233.16 1980.38" stroke-width="6"/><path d="M1233.16 1980.38L1234.07 1981.15M1234.07 1981.15L1235.09 1981.84M1235.09 1981.84L1236.4 1982.4M1236.4 1982.4L1238.06 1982.73M1238.06 1982.73L1239.95 1982.87M1239.95 1982.87L1241.96 1982.93M1241.96 1982.93L1243.96 1983.03M1243.96 1983.03L1245.85 1983.28M1245.85 1983.28L1247.5 1983.8M1247.5 1983.8L1248.89 1984.66" stroke-width="5.5"/><path d="M1248.89 1984.66L1250.11 1985.79M1250.11 1985.79L1251.21 1987.08M1251.21 1987.08L1252.26 1988.4M1252.26 1988.4L1253.3 1989.64M1253.3 1989.64L1254.4 1990.7M1254.4 1990.7L1255.63 1991.6M1255.63 1991.6L1256.96 1992.46M1256.96 1992.46L1258.28 1993.23M1258.28 1993.23L1259.51 1993.91" stroke-width="5"/><path d="M1259.51 1993.91L1260.55 1994.47M1260.55 1994.47L1261.3 1994.9" stroke-width="4.5"/></g>
<path d="M1259.8 1994.9h6.4M1263 1991.7v6.4M1263.8 1994.9h6.4M1267 1991.7v6.4M1267.8 1994.9h6.4M1271 1991.7v6.4M1271.8 1994.9h6.4M1275 1991.7v6.4M1275.8 1994.9h6.4M1279 1991.7v6.4M1278.8 1994.9h6.4M1282 1991.7v6.4M1283.8 1998.7h6.4M1287 1995.5v6.4M1287.8 2003.5h6.4M1291 2000.3v6.4M1290.8 2013.2h6.4M1294 2010v6.4M1296.8 2024.1h6.4M1300 2020.9v6.4M1299.8 2024.1h6.4M1303 2020.9v6.4M1302.8 2024.1h6.4M1306 2020.9v6.4M1305.8 2024.1h6.4M1309 2020.9v6.4M1308.8 2024.1h6.4M1312 2020.9v6.4M1312.8 2024.1h6.4M1316 2020.9v6.4M1316.8 2024.1h6.4M1320 2020.9v6.4M1324.8 2024.1h6.4M1328 2020.9v6.4M1343.8 2035.5h6.4M1347 2032.3v6.4M1356.8 2046.4h6.4M1360 2043.2v6.4M1362.8 2046.4h6.4M1366 2043.2v6.4M1382.8 2046.4h6.4M1386 2043.2v6.4M1397.8 2046.4h6.4M1401 2043.2v6.4M1451.8 2088.1h6.4M1455 2084.9v6.4" fill="none" stroke="#dc8832" stroke-width="1.4"/>
<rect x="1549" y="1751.2" width="404.5" height="395.6" fill="none" stroke="#555" stroke-width="1.4"/>
<line x1="1544" y1="1769" x2="1549" y2="1769" stroke="#555" stroke-width="1.3"/>
<text transform="translate(1542.7,1778.5) scale(1,1.04)" style='font-size:26.4px' text-anchor="end">1.0</text>
<line x1="1544" y1="1949.4" x2="1549" y2="1949.4" stroke="#555" stroke-width="1.3"/>
<text transform="translate(1542.7,1958.9) scale(1,1.04)" style='font-size:26.4px' text-anchor="end">0.5</text>
<line x1="1544" y1="2128.7" x2="1549" y2="2128.7" stroke="#555" stroke-width="1.3"/>
<text transform="translate(1542.7,2138.2) scale(1,1.04)" style='font-size:26.4px' text-anchor="end">0.0</text>
<line x1="1544" y1="1859.2" x2="1549" y2="1859.2" stroke="#555" stroke-width="1.3"/>
<line x1="1544" y1="2039.05" x2="1549" y2="2039.05" stroke="#555" stroke-width="1.3"/>
<line x1="1567.4" y1="2146.8" x2="1567.4" y2="2151.8" stroke="#555" stroke-width="1.3"/>
<text transform="translate(1567.4,2170) scale(1,1.04)" style='font-size:26.4px' text-anchor="middle">0</text>
<line x1="1690" y1="2146.8" x2="1690" y2="2151.8" stroke="#555" stroke-width="1.3"/>
<text transform="translate(1690,2170) scale(1,1.04)" style='font-size:26.4px' text-anchor="middle">10</text>
<line x1="1812.5" y1="2146.8" x2="1812.5" y2="2151.8" stroke="#555" stroke-width="1.3"/>
<text transform="translate(1812.5,2170) scale(1,1.04)" style='font-size:26.4px' text-anchor="middle">20</text>
<line x1="1935.7" y1="2146.8" x2="1935.7" y2="2151.8" stroke="#555" stroke-width="1.3"/>
<text transform="translate(1935.7,2170) scale(1,1.04)" style='font-size:26.4px' text-anchor="middle">30</text>
<text transform="translate(1946.6,1782.4) scale(1,1.04)" style='font-size:26.3px' text-anchor="end">PFI</text>
<text transform="translate(1575.7,2065.8) scale(1,1.04)" style='font-size:25.7px'>p&lt;0.001</text>
<text transform="translate(1756,2206.7) scale(1,1.04)" style='font-size:27.4px' text-anchor="middle">Time(years)</text>
<text transform="translate(1648.4,1743) scale(1,1.04)" style='font-size:27.2px'>Cluster</text>
<line x1="1748.7" y1="1739" x2="1773.9" y2="1739" stroke="#3b87c4" stroke-width="5"/>
<line x1="1761.3" y1="1731" x2="1761.3" y2="1747" stroke="#3b87c4" stroke-width="1.6"/>
<text transform="translate(1781.1,1743) scale(1,1.04)" style='font-size:27.2px'>A</text>
<line x1="1822.1" y1="1739" x2="1845.8" y2="1739" stroke="#dc8832" stroke-width="5" stroke-dasharray="7,3"/>
<line x1="1833.9" y1="1731" x2="1833.9" y2="1747" stroke="#dc8832" stroke-width="1.6"/>
<text transform="translate(1851.7,1743) scale(1,1.04)" style='font-size:27.2px'>B</text>
<path d="M1565.5 1768.9 L1565.96 1771.94 L1566.59 1776.18 L1567.34 1781.19 L1568.14 1786.54 L1568.95 1791.82 L1569.7 1796.6 L1570.4 1800.94 L1571.1 1805.19 L1571.81 1809.36 L1572.51 1813.48 L1573.21 1817.55 L1573.9 1821.6 L1574.59 1825.63 L1575.27 1829.64 L1575.95 1833.61 L1576.63 1837.52 L1577.31 1841.36 L1578 1845.1 L1578.7 1848.8 L1579.4 1852.49 L1580.1 1856.1 L1580.8 1859.58 L1581.5 1862.86 L1582.2 1865.9 L1582.86 1868.58 L1583.47 1870.94 L1584.08 1873.11 L1584.72 1875.22 L1585.45 1877.41 L1586.3 1879.8 L1587.28 1882.39 L1588.37 1885.08 L1589.54 1887.84 L1590.76 1890.66 L1592.02 1893.52 L1593.3 1896.4 L1594.58 1899.33 L1595.87 1902.34 L1597.19 1905.39 L1598.58 1908.44 L1600.04 1911.46 L1601.6 1914.4 L1603.29 1917.28 L1605.09 1920.12 L1606.97 1922.93 L1608.9 1925.69 L1610.82 1928.42 L1612.7 1931.1 L1614.55 1933.8 L1616.4 1936.53 L1618.25 1939.22 L1620.1 1941.79 L1621.95 1944.18 L1623.8 1946.3 L1625.65 1948.11 L1627.5 1949.66 L1629.35 1951.02 L1631.2 1952.26 L1633.05 1953.47 L1634.9 1954.7 L1636.72 1955.89 L1638.5 1956.96 L1640.28 1957.98 L1642.1 1959.04 L1643.99 1960.22 L1646 1961.6 L1648.17 1963.27 L1650.5 1965.2 L1652.9 1967.24 L1655.3 1969.26 L1657.62 1971.13 L1659.8 1972.7 L1661.81 1973.92 L1663.7 1974.89 L1665.52 1975.71 L1667.3 1976.46 L1669.08 1977.26 L1670.9 1978.2 L1672.75 1979.31 L1674.6 1980.53 L1676.45 1981.79 L1678.3 1983.03 L1680.15 1984.18 L1682 1985.2 L1683.87 1986.07 L1685.75 1986.83 L1687.64 1987.51 L1689.5 1988.14 L1691.33 1988.73 L1693.1 1989.3 L1694.8 1989.83 L1696.44 1990.28 L1698.04 1990.7 L1699.62 1991.12 L1701.2 1991.57 L1702.8 1992.1 L1704.53 1992.76 L1706.39 1993.52 L1708.26 1994.32 L1709.99 1995.09 L1711.44 1995.74 L1712.5 1996.2 L1716.7 1996.2 L1716.7 2003.2 L1733.3 2003.2 L1733.3 2004.6 L1738.9 2004.6 L1738.9 2007.3 L1740 2007.3 L1740 2010.6 L1745.8 2010.6 L1745.8 2016.9 L1789 2016.9 L1789 2025.6 L1794.8 2025.6 L1794.8 2044 L1818.8 2044 L1818.8 2072.9 L1869.2 2072.9 L1869.2 2128.8" fill="none" stroke="#3b87c4" stroke-width="2.4"/>
<g fill="none" stroke="#3b87c4" stroke-linecap="round"><path d="M1565.5 1768.9L1565.96 1771.94M1565.96 1771.94L1566.59 1776.18M1566.59 1776.18L1567.34 1781.19M1567.34 1781.19L1568.14 1786.54M1568.14 1786.54L1568.95 1791.82M1568.95 1791.82L1569.7 1796.6M1569.7 1796.6L1570.4 1800.94M1570.4 1800.94L1571.1 1805.19M1571.1 1805.19L1571.81 1809.36M1571.81 1809.36L1572.51 1813.48M1572.51 1813.48L1573.21 1817.55M1573.21 1817.55L1573.9 1821.6M1573.9 1821.6L1574.59 1825.63M1574.59 1825.63L1575.27 1829.64M1575.27 1829.64L1575.95 1833.61M1575.95 1833.61L1576.63 1837.52M1576.63 1837.52L1577.31 1841.36M1577.31 1841.36L1578 1845.1M1578 1845.1L1578.7 1848.8M1578.7 1848.8L1579.4 1852.49" stroke-width="8"/><path d="M1579.4 1852.49L1580.1 1856.1M1580.1 1856.1L1580.8 1859.58M1580.8 1859.58L1581.5 1862.86M1581.5 1862.86L1582.2 1865.9M1582.2 1865.9L1582.86 1868.58M1582.86 1868.58L1583.47 1870.94M1583.47 1870.94L1584.08 1873.11M1584.08 1873.11L1584.72 1875.22M1584.72 1875.22L1585.45 1877.41M1585.45 1877.41L1586.3 1879.8M1586.3 1879.8L1587.28 1882.39M1587.28 1882.39L1588.37 1885.08M1588.37 1885.08L1589.54 1887.84M1589.54 1887.84L1590.76 1890.66M1590.76 1890.66L1592.02 1893.52M1592.02 1893.52L1593.3 1896.4M1593.3 1896.4L1594.58 1899.33M1594.58 1899.33L1595.87 1902.34M1595.87 1902.34L1597.19 1905.39M1597.19 1905.39L1598.58 1908.44" stroke-width="7.5"/><path d="M1598.58 1908.44L1600.04 1911.46M1600.04 1911.46L1601.6 1914.4M1601.6 1914.4L1603.29 1917.28M1603.29 1917.28L1605.09 1920.12M1605.09 1920.12L1606.97 1922.93M1606.97 1922.93L1608.9 1925.69M1608.9 1925.69L1610.82 1928.42M1610.82 1928.42L1612.7 1931.1M1612.7 1931.1L1614.55 1933.8M1614.55 1933.8L1616.4 1936.53M1616.4 1936.53L1618.25 1939.22M1618.25 1939.22L1620.1 1941.79M1620.1 1941.79L1621.95 1944.18M1621.95 1944.18L1623.8 1946.3M1623.8 1946.3L1625.65 1948.11" stroke-width="7"/><path d="M1625.65 1948.11L1627.5 1949.66M1627.5 1949.66L1629.35 1951.02M1629.35 1951.02L1631.2 1952.26M1631.2 1952.26L1633.05 1953.47M1633.05 1953.47L1634.9 1954.7M1634.9 1954.7L1636.72 1955.89M1636.72 1955.89L1638.5 1956.96M1638.5 1956.96L1640.28 1957.98M1640.28 1957.98L1642.1 1959.04M1642.1 1959.04L1643.99 1960.22M1643.99 1960.22L1646 1961.6M1646 1961.6L1648.17 1963.27M1648.17 1963.27L1650.5 1965.2" stroke-width="6.5"/><path d="M1650.5 1965.2L1652.9 1967.24M1652.9 1967.24L1655.3 1969.26M1655.3 1969.26L1657.62 1971.13M1657.62 1971.13L1659.8 1972.7M1659.8 1972.7L1661.81 1973.92M1661.81 1973.92L1663.7 1974.89M1663.7 1974.89L1665.52 1975.71M1665.52 1975.71L1667.3 1976.46M1667.3 1976.46L1669.08 1977.26M1669.08 1977.26L1670.9 1978.2M1670.9 1978.2L1672.75 1979.31" stroke-width="6"/><path d="M1672.75 1979.31L1674.6 1980.53M1674.6 1980.53L1676.45 1981.79M1676.45 1981.79L1678.3 1983.03M1678.3 1983.03L1680.15 1984.18M1680.15 1984.18L1682 1985.2M1682 1985.2L1683.87 1986.07M1683.87 1986.07L1685.75 1986.83M1685.75 1986.83L1687.64 1987.51M1687.64 1987.51L1689.5 1988.14M1689.5 1988.14L1691.33 1988.73M1691.33 1988.73L1693.1 1989.3" stroke-width="5.5"/><path d="M1693.1 1989.3L1694.8 1989.83M1694.8 1989.83L1696.44 1990.28M1696.44 1990.28L1698.04 1990.7M1698.04 1990.7L1699.62 1991.12M1699.62 1991.12L1701.2 1991.57M1701.2 1991.57L1702.8 1992.1M1702.8 1992.1L1704.53 1992.76M1704.53 1992.76L1706.39 1993.52M1706.39 1993.52L1708.26 1994.32M1708.26 1994.32L1709.99 1995.09" stroke-width="5"/><path d="M1709.99 1995.09L1711.44 1995.74M1711.44 1995.74L1712.5 1996.2" stroke-width="4.5"/></g>
<path d="M1712.8 1996.2h6.4M1716 1993v6.4M1716.8 2003.2h6.4M1720 2000v6.4M1720.8 2003.2h6.4M1724 2000v6.4M1723.8 2003.2h6.4M1727 2000v6.4M1727.8 2003.2h6.4M1731 2000v6.4M1731.8 2004.6h6.4M1735 2001.4v6.4M1737.8 2010.6h6.4M1741 2007.4v6.4M1743.8 2016.9h6.4M1747 2013.7v6.4M1746.8 2016.9h6.4M1750 2013.7v6.4M1749.8 2016.9h6.4M1753 2013.7v6.4M1757.8 2016.9h6.4M1761 2013.7v6.4M1792.8 2044h6.4M1796 2040.8v6.4M1795.8 2044h6.4M1799 2040.8v6.4M1800.8 2044h6.4M1804 2040.8v6.4M1805.8 2044h6.4M1809 2040.8v6.4M1824.8 2072.9h6.4M1828 2069.7v6.4M1797.8 2044h6.4M1801 2040.8v6.4" fill="none" stroke="#3b87c4" stroke-width="1.4"/>
<path d="M1566.2 1767.5 L1566.74 1769.04 L1567.5 1771.08 L1568.39 1773.54 L1569.34 1776.34 L1570.27 1779.42 L1571.1 1782.7 L1571.83 1786.33 L1572.5 1790.41 L1573.16 1794.76 L1573.83 1799.21 L1574.53 1803.58 L1575.3 1807.7 L1576.13 1811.56 L1576.99 1815.31 L1577.88 1818.98 L1578.81 1822.61 L1579.79 1826.24 L1580.8 1829.9 L1581.85 1833.64 L1582.94 1837.42 L1584.08 1841.21 L1585.24 1844.93 L1586.45 1848.55 L1587.7 1852 L1588.95 1855.22 L1590.21 1858.23 L1591.5 1861.13 L1592.87 1864.01 L1594.36 1866.97 L1596 1870.1 L1597.82 1873.46 L1599.8 1876.99 L1601.9 1880.59 L1604.07 1884.18 L1606.29 1887.65 L1608.5 1890.9 L1610.74 1893.94 L1613.03 1896.84 L1615.36 1899.63 L1617.71 1902.32 L1620.07 1904.94 L1622.4 1907.5 L1624.72 1909.96 L1627.04 1912.29 L1629.36 1914.54 L1631.67 1916.77 L1633.99 1919.04 L1636.3 1921.4 L1638.59 1923.91 L1640.85 1926.52 L1643.11 1929.18 L1645.39 1931.79 L1647.71 1934.29 L1650.1 1936.6 L1652.6 1938.69 L1655.19 1940.6 L1657.83 1942.41 L1660.45 1944.15 L1662.99 1945.9 L1665.4 1947.7 L1667.66 1949.65 L1669.83 1951.71 L1671.92 1953.77 L1673.95 1955.71 L1675.94 1957.43 L1677.9 1958.8 L1679.87 1959.67 L1681.83 1960.09 L1683.74 1960.29 L1685.59 1960.46 L1687.32 1960.83 L1688.9 1961.6 L1690.25 1962.9 L1691.38 1964.58 L1692.39 1966.45 L1693.41 1968.32 L1694.54 1970 L1695.9 1971.3 L1697.58 1972.12 L1699.5 1972.59 L1701.54 1972.88 L1703.56 1973.12 L1705.43 1973.48 L1707 1974.1 L1708.18 1975 L1709.04 1976.04 L1709.75 1977.21 L1710.46 1978.44 L1711.32 1979.72 L1712.5 1981 L1714.07 1982.35 L1715.94 1983.81 L1717.96 1985.32 L1720 1986.79 L1721.93 1988.14 L1723.6 1989.3 L1725.07 1990.29 L1726.47 1991.16 L1727.74 1991.92 L1728.87 1992.56 L1729.8 1993.09 L1730.5 1993.5 L1740.2 1993.5 L1740.2 2000.4 L1744.6 2000.4 L1744.6 2004.8 L1755 2004.8 L1755 2011.2 L1756.2 2011.2 L1756.2 2016.9 L1778.1 2016.9 L1779.2 2016.9 L1779.2 2020.4 L1781.5 2020.4 L1781.5 2027.9 L1783.3 2027.9 L1783.3 2035.4 L1797.7 2035.4 L1797.7 2036 L1797.7 2044.6 L1819 2044.6 L1819 2045.8 L1819 2056.2 L1838.1 2056.2 L1838.1 2068.3 L1914.2 2068.3 L1914.2 2098.8 L1945.4 2098.8" fill="none" stroke="#dc8832" stroke-width="2.4" stroke-dasharray="5.5,4"/>
<g fill="none" stroke="#dc8832" stroke-linecap="round"><path d="M1566.2 1767.5L1566.74 1769.04M1566.74 1769.04L1567.5 1771.08M1567.5 1771.08L1568.39 1773.54M1568.39 1773.54L1569.34 1776.34M1569.34 1776.34L1570.27 1779.42M1570.27 1779.42L1571.1 1782.7M1571.1 1782.7L1571.83 1786.33M1571.83 1786.33L1572.5 1790.41M1572.5 1790.41L1573.16 1794.76M1573.16 1794.76L1573.83 1799.21M1573.83 1799.21L1574.53 1803.58M1574.53 1803.58L1575.3 1807.7M1575.3 1807.7L1576.13 1811.56M1576.13 1811.56L1576.99 1815.31M1576.99 1815.31L1577.88 1818.98M1577.88 1818.98L1578.81 1822.61M1578.81 1822.61L1579.79 1826.24M1579.79 1826.24L1580.8 1829.9M1580.8 1829.9L1581.85 1833.64M1581.85 1833.64L1582.94 1837.42" stroke-width="8"/><path d="M1582.94 1837.42L1584.08 1841.21M1584.08 1841.21L1585.24 1844.93M1585.24 1844.93L1586.45 1848.55M1586.45 1848.55L1587.7 1852M1587.7 1852L1588.95 1855.22M1588.95 1855.22L1590.21 1858.23M1590.21 1858.23L1591.5 1861.13M1591.5 1861.13L1592.87 1864.01M1592.87 1864.01L1594.36 1866.97M1594.36 1866.97L1596 1870.1M1596 1870.1L1597.82 1873.46M1597.82 1873.46L1599.8 1876.99M1599.8 1876.99L1601.9 1880.59M1601.9 1880.59L1604.07 1884.18M1604.07 1884.18L1606.29 1887.65M1606.29 1887.65L1608.5 1890.9M1608.5 1890.9L1610.74 1893.94M1610.74 1893.94L1613.03 1896.84M1613.03 1896.84L1615.36 1899.63M1615.36 1899.63L1617.71 1902.32" stroke-width="7.5"/><path d="M1617.71 1902.32L1620.07 1904.94M1620.07 1904.94L1622.4 1907.5M1622.4 1907.5L1624.72 1909.96M1624.72 1909.96L1627.04 1912.29M1627.04 1912.29L1629.36 1914.54M1629.36 1914.54L1631.67 1916.77M1631.67 1916.77L1633.99 1919.04M1633.99 1919.04L1636.3 1921.4M1636.3 1921.4L1638.59 1923.91M1638.59 1923.91L1640.85 1926.52M1640.85 1926.52L1643.11 1929.18M1643.11 1929.18L1645.39 1931.79M1645.39 1931.79L1647.71 1934.29M1647.71 1934.29L1650.1 1936.6M1650.1 1936.6L1652.6 1938.69" stroke-width="7"/><path d="M1652.6 1938.69L1655.19 1940.6M1655.19 1940.6L1657.83 1942.41M1657.83 1942.41L1660.45 1944.15M1660.45 1944.15L1662.99 1945.9M1662.99 1945.9L1665.4 1947.7M1665.4 1947.7L1667.66 1949.65M1667.66 1949.65L1669.83 1951.71M1669.83 1951.71L1671.92 1953.77M1671.92 1953.77L1673.95 1955.71M1673.95 1955.71L1675.94 1957.43M1675.94 1957.43L1677.9 1958.8M1677.9 1958.8L1679.87 1959.67M1679.87 1959.67L1681.83 1960.09" stroke-width="6.5"/><path d="M1681.83 1960.09L1683.74 1960.29M1683.74 1960.29L1685.59 1960.46M1685.59 1960.46L1687.32 1960.83M1687.32 1960.83L1688.9 1961.6M1688.9 1961.6L1690.25 1962.9M1690.25 1962.9L1691.38 1964.58M1691.38 1964.58L1692.39 1966.45M1692.39 1966.45L1693.41 1968.32M1693.41 1968.32L1694.54 1970M1694.54 1970L1695.9 1971.3M1695.9 1971.3L1697.58 1972.12" stroke-width="6"/><path d="M1697.58 1972.12L1699.5 1972.59M1699.5 1972.59L1701.54 1972.88M1701.54 1972.88L1703.56 1973.12M1703.56 1973.12L1705.43 1973.48M1705.43 1973.48L1707 1974.1M1707 1974.1L1708.18 1975M1708.18 1975L1709.04 1976.04M1709.04 1976.04L1709.75 1977.21M1709.75 1977.21L1710.46 1978.44M1710.46 1978.44L1711.32 1979.72M1711.32 1979.72L1712.5 1981" stroke-width="5.5"/><path d="M1712.5 1981L1714.07 1982.35M1714.07 1982.35L1715.94 1983.81M1715.94 1983.81L1717.96 1985.32M1717.96 1985.32L1720 1986.79M1720 1986.79L1721.93 1988.14M1721.93 1988.14L1723.6 1989.3M1723.6 1989.3L1725.07 1990.29M1725.07 1990.29L1726.47 1991.16M1726.47 1991.16L1727.74 1991.92M1727.74 1991.92L1728.87 1992.56" stroke-width="5"/><path d="M1728.87 1992.56L1729.8 1993.09M1729.8 1993.09L1730.5 1993.5" stroke-width="4.5"/></g>
<path d="M1729.8 1993.5h6.4M1733 1990.3v6.4M1733.8 1993.5h6.4M1737 1990.3v6.4M1738.8 2000.4h6.4M1742 1997.2v6.4M1742.8 2004.8h6.4M1746 2001.6v6.4M1745.8 2004.8h6.4M1749 2001.6v6.4M1762.8 2016.9h6.4M1766 2013.7v6.4M1767.8 2016.9h6.4M1771 2013.7v6.4M1772.8 2016.9h6.4M1776 2013.7v6.4M1779.8 2027.9h6.4M1783 2024.7v6.4M1788.8 2035.4h6.4M1792 2032.2v6.4M1792.8 2035.4h6.4M1796 2032.2v6.4M1832.8 2056.2h6.4M1836 2053v6.4M1847.8 2068.3h6.4M1851 2065.1v6.4M1852.8 2068.3h6.4M1856 2065.1v6.4M1872.8 2068.3h6.4M1876 2065.1v6.4M1940.8 2098.8h6.4M1944 2095.6v6.4" fill="none" stroke="#dc8832" stroke-width="1.4"/>
</svg>
</body></html>
